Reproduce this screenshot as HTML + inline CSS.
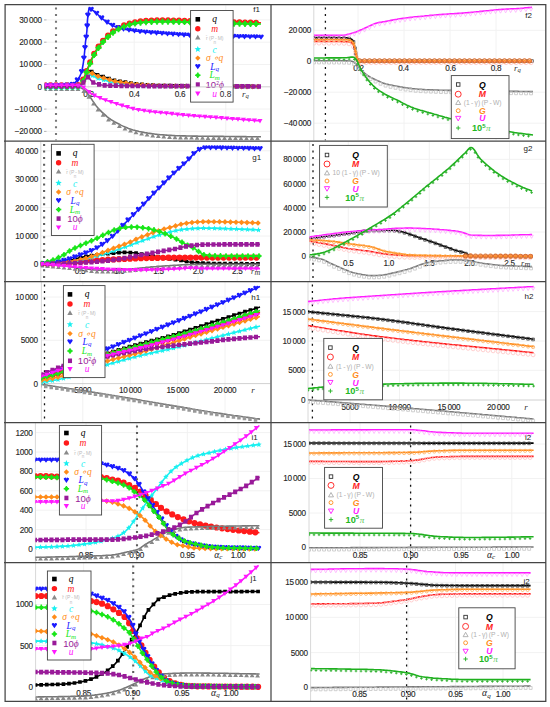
<!DOCTYPE html><html><head><meta charset="utf-8"><style>html,body{margin:0;padding:0;background:#fff;}svg{display:block}</style></head><body>
<svg width="550" height="707" viewBox="0 0 550 707">
<rect width="550" height="707" fill="#fff"/>
<clipPath id="cf1"><rect x="5.5" y="5.2" width="265.0" height="135.3"/></clipPath>
<g clip-path="url(#cf1)">
<line x1="88.4" y1="5.2" x2="88.4" y2="140.5" stroke="#f1f1f1" stroke-width="0.9"/>
<line x1="134.2" y1="5.2" x2="134.2" y2="140.5" stroke="#f1f1f1" stroke-width="0.9"/>
<line x1="180" y1="5.2" x2="180" y2="140.5" stroke="#f1f1f1" stroke-width="0.9"/>
<line x1="225.8" y1="5.2" x2="225.8" y2="140.5" stroke="#f1f1f1" stroke-width="0.9"/>
<line x1="44.6" y1="19.9" x2="270.5" y2="19.9" stroke="#f1f1f1" stroke-width="0.9"/>
<line x1="44.6" y1="42.2" x2="270.5" y2="42.2" stroke="#f1f1f1" stroke-width="0.9"/>
<line x1="44.6" y1="64.5" x2="270.5" y2="64.5" stroke="#f1f1f1" stroke-width="0.9"/>
<line x1="44.6" y1="109.1" x2="270.5" y2="109.1" stroke="#f1f1f1" stroke-width="0.9"/>
<line x1="44.6" y1="131.4" x2="270.5" y2="131.4" stroke="#f1f1f1" stroke-width="0.9"/>
<line x1="44.6" y1="86.8" x2="270.5" y2="86.8" stroke="#c4c4c4" stroke-width="0.8"/>
<line x1="44" y1="19.9" x2="46.5" y2="19.9" stroke="#999" stroke-width="0.7"/>
<text x="41.8" y="22.8" font-size="8.2" fill="#262626" text-anchor="end" font-family='"Liberation Sans", sans-serif' font-weight="normal" letter-spacing="-0.3" stroke="#262626" stroke-width="0.12">30&#8201;000</text>
<line x1="44" y1="42.2" x2="46.5" y2="42.2" stroke="#999" stroke-width="0.7"/>
<text x="41.8" y="45.1" font-size="8.2" fill="#262626" text-anchor="end" font-family='"Liberation Sans", sans-serif' font-weight="normal" letter-spacing="-0.3" stroke="#262626" stroke-width="0.12">20&#8201;000</text>
<line x1="44" y1="64.5" x2="46.5" y2="64.5" stroke="#999" stroke-width="0.7"/>
<text x="41.8" y="67.4" font-size="8.2" fill="#262626" text-anchor="end" font-family='"Liberation Sans", sans-serif' font-weight="normal" letter-spacing="-0.3" stroke="#262626" stroke-width="0.12">10&#8201;000</text>
<line x1="44" y1="86.8" x2="46.5" y2="86.8" stroke="#999" stroke-width="0.7"/>
<text x="41.8" y="89.7" font-size="8.2" fill="#262626" text-anchor="end" font-family='"Liberation Sans", sans-serif' font-weight="normal" letter-spacing="-0.3" stroke="#262626" stroke-width="0.12">0</text>
<line x1="44" y1="109.1" x2="46.5" y2="109.1" stroke="#999" stroke-width="0.7"/>
<text x="41.8" y="112" font-size="8.2" fill="#262626" text-anchor="end" font-family='"Liberation Sans", sans-serif' font-weight="normal" letter-spacing="-0.3" stroke="#262626" stroke-width="0.12">&#8722;10&#8201;000</text>
<line x1="44" y1="131.4" x2="46.5" y2="131.4" stroke="#999" stroke-width="0.7"/>
<text x="41.8" y="134.3" font-size="8.2" fill="#262626" text-anchor="end" font-family='"Liberation Sans", sans-serif' font-weight="normal" letter-spacing="-0.3" stroke="#262626" stroke-width="0.12">&#8722;20&#8201;000</text>
<line x1="56" y1="5.2" x2="56" y2="140.5" stroke="#787878" stroke-width="2.1" stroke-dasharray="2.0 4.6" stroke-dashoffset="4.3"/>
<text x="88.4" y="96.9" font-size="8.2" fill="#262626" text-anchor="middle" font-family='"Liberation Sans", sans-serif' font-weight="normal" letter-spacing="-0.3" stroke="#262626" stroke-width="0.12">0.2</text>
<text x="134.2" y="96.9" font-size="8.2" fill="#262626" text-anchor="middle" font-family='"Liberation Sans", sans-serif' font-weight="normal" letter-spacing="-0.3" stroke="#262626" stroke-width="0.12">0.4</text>
<text x="180" y="96.9" font-size="8.2" fill="#262626" text-anchor="middle" font-family='"Liberation Sans", sans-serif' font-weight="normal" letter-spacing="-0.3" stroke="#262626" stroke-width="0.12">0.6</text>
<clipPath id="ccf1"><rect x="44.6" y="5.2" width="225.9" height="135.3"/></clipPath><g clip-path="url(#ccf1)">
<path d="M45 86.6l1.5 -0l1.5 -0l1.5 -0l1.5 -0l1.5 -0l1.5 -.1l1.5 0l1.5 0l1.5 0l1.5 0l1.5 0l1.5 -0l1.5 -0l1.5 -0l1.5 -0l1.5 -.1l1.5 0l1.5 0l1.5 -0l1.5 -0l1.5 -.1l1.5 -0l1.5 -.6l1.5 -1.4l1.5 -2l1.5 -2.3l1.8 -5.5l1.8 -4.1l1.7 .3l1.7 .7l1.7 .8l1.8 .9l1.7 1l1.8 .9l1.9 .6l1.8 .6l1.9 .5l1.8 .6l1.8 .6l1.8 .6l1.8 .7l1.9 .7l1.8 .5l1.8 .3l1.9 .3l1.8 .3l1.8 .3l1.9 .3l1.8 .3l1.8 .3l1.9 .2l1.8 .3l1.8 .3l1.7 .2l1.8 .3l1.7 .2l1.6 .2l1.5 .1l1.6 .1l1.6 .2l1.6 .1l1.5 .1l1.6 .1l1.6 .2l1.5 .1l1.6 0l1.6 .1l1.6 .1l1.5 .1l1.6 0l1.5 0l1.5 .1l1.5 0l1.5 0l1.5 .1l1.5 0l1.5 0l1.5 .1l1.5 -0l1.5 0l1.5 0l1.5 .1l1.5 -0l1.5 -0l1.5 0l1.5 0l1.5 .1l1.5 -0l1.5 -0l1.5 0l1.5 0l1.5 0l1.5 0l1.5 .1l1.6 -0l1.5 -0l1.5 0l1.5 0l1.5 0l1.5 0l1.5 .1l1.5 -0l1.5 -0l1.5 -0l1.6 -0l1.5 0l1.5 0l1.5 0l1.5 0l1.5 0l1.5 .1l1.5 -0l1.5 -0l1.6 -0l1.5 -0l1.5 0l1.5 0l1.5 0l1.5 0l1.5 0l1.5 0l1.5 .1l1.6 -0l1.5 -0l1.5 -0l1.5 -0l1.5 0l1.5 0l1.5 0l1.5 0l1.5 0l1.5 0l1.6 .1l1.5 -0l1.5 -0l1.5 -0l1.5 0" fill="none" stroke="#000" stroke-width="1.6" stroke-linejoin="round"/>
<path d="M43.1 86.6h3.7M48.6 86.6h3.7M54.1 86.5h3.7M59.6 86.5h3.7M65.1 86.5h3.7M70.6 86.4h3.7M76.1 86.3h3.7M81.1 81.5h3.7M84.7 72h3.7M89.8 71.7h3.7M95.6 74.8h3.7M101.2 76.5h3.7M107.1 78.5h3.7M112.6 80.4h3.7M118.1 81.3h3.7M123.6 82.2h3.7M129.1 83h3.7M134.6 83.8h3.7M140.1 84.4h3.7M145.6 84.8h3.7M151.1 85.2h3.7M156.6 85.5h3.7M162.1 85.6h3.7M167.6 85.7h3.7M173.1 85.8h3.7M178.6 85.9h3.7M184.1 86h3.7M189.6 86h3.7M195.1 86.1h3.7M200.6 86.1h3.7M206.1 86.2h3.7M211.6 86.2h3.7M217.1 86.2h3.7M222.6 86.3h3.7M228.1 86.3h3.7M233.6 86.3h3.7M239.1 86.4h3.7M244.6 86.4h3.7M250.1 86.4h3.7M255.6 86.5h3.7" stroke="#000" stroke-width="3.7"/>
<path d="M45 85.3l1.5 0l1.6 0l1.5 0l1.6 0l1.5 0l1.6 0l1.5 0l1.6 0l1.5 0l1.6 0l1.5 0l1.6 0l1.5 0l1.6 0l1.5 0l1.6 0l1.5 0l1.6 0l1.6 0l1.5 0l2 -.3l2 -.8l1.8 -2.2l1.8 -3.5l2 -4.9l2 -5.3l1.5 -3.6l1.5 -3.6l1.5 -3.3l1.5 -3.1l1.6 -3l1.7 -2.7l1.6 -2.5l1.8 -2.5l1.9 -2.4l1.8 -2.1l1.5 -1.6l1.5 -1.5l1.5 -1.4l1.5 -1.3l1.5 -1.3l1.5 -1.1l1.5 -1.1l1.8 -1.1l1.9 -1.1l1.8 -.9l1.8 -.9l1.9 -.8l1.8 -.7l1.8 -.6l1.9 -.6l1.8 -.5l1.7 -.4l1.6 -.4l1.7 -.3l1.5 -.2l1.5 -.2l1.5 -.2l1.5 -.2l1.5 -.1l1.5 -.1l1.5 -.1l1.5 -.1l1.5 -.1l1.5 -0l1.5 -.1l1.5 -.1l1.5 -0l1.5 -.1l1.5 0l1.5 0l1.5 0l1.5 0l1.5 0l1.5 0l1.5 0l1.5 0l1.5 .1l1.5 -0l1.5 -0l1.5 0l1.5 0l1.5 .1l1.5 0l1.5 .1l1.5 0l1.5 .1l1.5 0l1.5 .1l1.5 0l1.5 .1l1.5 .1l1.6 0l1.5 .1l1.6 0l1.5 .1l1.5 0l1.6 .1l1.5 0l1.5 .1l1.6 0l1.5 .1l1.6 .1l1.5 -0l1.6 0l1.5 .1l1.6 0l1.6 .1l1.6 0l1.5 .1l1.6 0l1.6 .1l1.5 0l1.6 .1l1.6 -0l1.6 0l1.5 .1l1.6 -0l1.5 0l1.6 .1l1.5 -0l1.5 0l1.5 0l1.6 .1l1.5 0l1.5 0l1.5 .1l1.6 -0l1.5 0l1.5 0l1.5 .1l1.6 -0l1.5 -0l1.5 0l1.5 0l1.6 .1l1.5 -0" fill="none" stroke="#ff1a1a" stroke-width="1.6" stroke-linejoin="round"/>
<path d="M45 85.3h0M50.5 85.3h0M56 85.3h0M61.5 85.3h0M67 85.3h0M72.5 85.3h0M78 85h0M83.1 79.5h0M86.6 70.9h0M90.1 62.3h0M94.1 53.7h0M98.5 46.5h0M103 40.6h0M108 35.5h0M113 31.3h0M118.5 27.9h0M124 25.3h0M129.5 23.4h0M135 22.1h0M140.5 21.3h0M146 20.8h0M151.5 20.5h0M157 20.3h0M162.5 20.3h0M168 20.3h0M173.5 20.4h0M179 20.5h0M184.5 20.7h0M190 20.9h0M195.5 21.1h0M201 21.3h0M206.5 21.5h0M212 21.7h0M217.5 21.8h0M223 22h0M228.5 22.1h0M234 22.2h0M239.5 22.3h0M245 22.4h0M250.5 22.5h0M256 22.6h0" stroke="#ff1a1a" stroke-width="5.9" stroke-linecap="round"/>
<path d="M45 87.3l1.5 0l1.5 0l1.5 0l1.5 0l1.5 0l1.5 0l1.5 0l1.5 0l1.5 0l1.5 0l1.5 0l1.5 0l1.5 0l1.5 0l1.5 0l1.5 0l1.5 0l1.5 0l1.5 0l1.5 0l1.5 0l1.5 0l1.9 .3l1.9 .6l1.8 1.1l1.9 1.7l1.8 2l1.8 2.5l1.9 2.8l1.7 2.6l1.8 2.6l1.7 2.4l1.8 2.1l1.9 2l1.8 1.9l1.9 1.7l1.8 1.6l1.8 1.6l1.8 1.4l1.8 1.3l1.9 1.1l1.8 1.1l1.9 1l1.5 .8l1.5 .8l1.5 .8l1.6 .8l1.5 .7l1.5 .6l1.5 .6l1.5 .6l1.5 .5l1.5 .5l1.5 .5l1.5 .4l1.5 .4l1.5 .4l1.6 .4l1.5 .3l1.5 .3l1.5 .3l1.5 .3l1.5 .2l1.5 .3l1.6 .2l1.5 .2l1.5 .2l1.5 .2l1.5 .2l1.6 .2l1.5 .1l1.5 .2l1.5 .1l1.5 .1l1.6 .1l1.5 .1l1.5 .1l1.6 .1l1.5 .1l1.6 .1l1.6 .1l1.6 .1l1.6 0l1.6 .1l1.5 0l1.5 .1l1.6 0l1.5 0l1.5 .1l1.5 -0l1.5 0l1.5 0l1.6 .1l1.5 -0l1.5 0l1.5 0l1.5 .1l1.6 -0l1.5 0l1.5 0l1.5 .1l1.5 -0l1.6 -0l1.5 0l1.5 0l1.5 0l1.5 .1l1.5 -0l1.6 -0l1.5 0l1.5 0l1.5 0l1.5 0l1.6 .1l1.5 -0l1.5 -0l1.5 -0l1.5 0l1.5 0l1.6 0l1.5 0l1.5 .1l1.5 -0l1.5 -0l1.6 0l1.5 0l1.5 0l1.5 0l1.5 .1l1.6 -0l1.5 -0l1.5 -0l1.5 0l1.5 0l1.5 0l1.6 .1l1.5 -0l1.5 0" fill="none" stroke="#777" stroke-width="1.6" stroke-linejoin="round"/>
<path d="M45 86.7l2.4 4.2h-4.8zM50.5 86.7l2.4 4.2h-4.8zM56 86.7l2.4 4.2h-4.8zM61.5 86.7l2.4 4.2h-4.8zM67 86.7l2.4 4.2h-4.8zM72.5 86.7l2.4 4.2h-4.8zM78 86.7l2.4 4.2h-4.8zM83.8 88.8l2.4 4.2h-4.8zM88.9 94.5l2.4 4.2h-4.8zM93.5 101.4l2.4 4.2h-4.8zM98 107.4l2.4 4.2h-4.8zM103.1 112.5l2.4 4.2h-4.8zM108.5 117.2l2.4 4.2h-4.8zM113.8 120.6l2.4 4.2h-4.8zM119.4 123.7l2.4 4.2h-4.8zM125 126.4l2.4 4.2h-4.8zM130.5 128.4l2.4 4.2h-4.8zM136 130.1l2.4 4.2h-4.8zM141.6 131.4l2.4 4.2h-4.8zM147.1 132.4l2.4 4.2h-4.8zM152.7 133.2l2.4 4.2h-4.8zM158.3 133.8l2.4 4.2h-4.8zM163.8 134.3l2.4 4.2h-4.8zM169.5 134.7l2.4 4.2h-4.8zM175 135l2.4 4.2h-4.8zM180.5 135.2l2.4 4.2h-4.8zM186 135.3l2.4 4.2h-4.8zM191.5 135.4l2.4 4.2h-4.8zM197 135.5l2.4 4.2h-4.8zM202.5 135.6l2.4 4.2h-4.8zM208 135.7l2.4 4.2h-4.8zM213.5 135.7l2.4 4.2h-4.8zM219 135.8l2.4 4.2h-4.8zM224.5 135.8l2.4 4.2h-4.8zM230 135.9l2.4 4.2h-4.8zM235.5 135.9l2.4 4.2h-4.8zM241 136l2.4 4.2h-4.8zM246.5 136l2.4 4.2h-4.8zM252 136.1l2.4 4.2h-4.8zM257.5 136.1l2.4 4.2h-4.8z" fill="#888"/>
<path d="M45 88l1.5 -0l1.5 -0l1.5 -0l1.5 -0l1.5 -0l1.5 -0l1.5 -0l1.5 -0l1.5 -.1l1.5 0l1.5 0l1.5 0l1.5 0l1.5 0l1.5 0l1.5 -0l1.5 -0l1.5 -0l1.5 -0l1.5 -.1l1.5 0l1.5 -0l1.5 -.5l1.5 -1.4l1.5 -1.8l1.5 -2.1l1.8 -4.6l1.8 -3.4l1.7 .4l1.7 .8l1.7 .8l1.8 .8l1.7 1l1.8 .7l1.9 .6l1.8 .4l1.9 .5l1.8 .5l1.8 .5l1.8 .5l1.8 .5l1.9 .4l1.8 .4l1.8 .3l1.9 .3l1.8 .2l1.6 .2l1.5 .2l1.6 .2l1.6 .2l1.6 .1l1.5 .2l1.6 .1l1.5 .1l1.6 .1l1.5 .1l1.5 .1l1.5 0l1.6 .1l1.5 .1l1.5 .1l1.5 0l1.6 .1l1.5 .1l1.5 0l1.5 .1l1.6 0l1.5 .1l1.5 0l1.5 0l1.6 .1l1.5 0l1.5 0l1.5 0l1.5 .1l1.5 -0l1.5 0l1.5 0l1.6 0l1.5 .1l1.5 -0l1.5 -0l1.5 0l1.5 0l1.5 0l1.5 .1l1.5 -0l1.5 -0l1.5 0l1.5 0l1.5 0l1.5 0l1.6 .1l1.5 -0l1.5 -0l1.5 -0l1.5 0l1.5 0l1.5 0l1.5 0l1.5 0l1.5 .1l1.5 -0l1.5 -0l1.5 -0l1.6 -0l1.5 0l1.5 0l1.5 0l1.5 0l1.5 0l1.5 0l1.5 .1l1.5 -0l1.5 -0l1.5 -0l1.5 -0l1.5 -0l1.6 0l1.5 0l1.5 0l1.5 0l1.5 0l1.5 0l1.5 .1l1.5 -0l1.5 -0l1.5 -0l1.5 -0l1.5 0l1.5 0l1.5 0l1.6 0l1.5 0l1.5 .1l1.5 -0l1.5 -0l1.5 -0l1.5 0" fill="none" stroke="#19f0f0" stroke-width="1.6" stroke-linejoin="round"/>
<path d="M45 85l.8 1.9l2 .2l-1.6 1.3l.5 2l-1.7 -1.1l-1.7 1.1l.5 -2l-1.6 -1.3l2 -.2zM50.5 85l.8 1.9l2 .2l-1.6 1.3l.5 2l-1.7 -1.1l-1.7 1.1l.5 -2l-1.6 -1.3l2 -.2zM56 85l.8 1.9l2 .2l-1.6 1.3l.5 2l-1.7 -1.1l-1.7 1.1l.5 -2l-1.6 -1.3l2 -.2zM61.5 85l.8 1.9l2 .2l-1.6 1.3l.5 2l-1.7 -1.1l-1.7 1.1l.5 -2l-1.6 -1.3l2 -.2zM67 84.9l.8 1.9l2 .2l-1.6 1.3l.5 2l-1.7 -1.1l-1.7 1.1l.5 -2l-1.6 -1.3l2 -.2zM72.5 84.9l.8 1.9l2 .2l-1.6 1.3l.5 2l-1.7 -1.1l-1.7 1.1l.5 -2l-1.6 -1.3l2 -.2zM78 84.8l.8 1.9l2 .2l-1.6 1.3l.5 2l-1.7 -1.1l-1.7 1.1l.5 -2l-1.6 -1.3l2 -.2zM83 80.4l.8 1.9l2 .2l-1.6 1.3l.5 2l-1.7 -1.1l-1.7 1.1l.5 -2l-1.6 -1.3l2 -.2zM86.6 72.3l.8 1.9l2 .2l-1.6 1.3l.5 2l-1.7 -1.1l-1.7 1.1l.5 -2l-1.6 -1.3l2 -.2zM92.2 72.8l.8 1.9l2 .2l-1.6 1.3l.5 2l-1.7 -1.1l-1.7 1.1l.5 -2l-1.6 -1.3l2 -.2zM98 75.5l.8 1.9l2 .2l-1.6 1.3l.5 2l-1.7 -1.1l-1.7 1.1l.5 -2l-1.6 -1.3l2 -.2zM103.6 77l.8 1.9l2 .2l-1.6 1.3l.5 2l-1.7 -1.1l-1.7 1.1l.5 -2l-1.6 -1.3l2 -.2zM109.5 78.7l.8 1.9l2 .2l-1.6 1.3l.5 2l-1.7 -1.1l-1.7 1.1l.5 -2l-1.6 -1.3l2 -.2zM115 79.9l.8 1.9l2 .2l-1.6 1.3l.5 2l-1.7 -1.1l-1.7 1.1l.5 -2l-1.6 -1.3l2 -.2zM120.5 80.7l.8 1.9l2 .2l-1.6 1.3l.5 2l-1.7 -1.1l-1.7 1.1l.5 -2l-1.6 -1.3l2 -.2zM126 81.4l.8 1.9l2 .2l-1.6 1.3l.5 2l-1.7 -1.1l-1.7 1.1l.5 -2l-1.6 -1.3l2 -.2zM131.5 81.9l.8 1.9l2 .2l-1.6 1.3l.5 2l-1.7 -1.1l-1.7 1.1l.5 -2l-1.6 -1.3l2 -.2zM137 82.2l.8 1.9l2 .2l-1.6 1.3l.5 2l-1.7 -1.1l-1.7 1.1l.5 -2l-1.6 -1.3l2 -.2zM142.5 82.5l.8 1.9l2 .2l-1.6 1.3l.5 2l-1.7 -1.1l-1.7 1.1l.5 -2l-1.6 -1.3l2 -.2zM148 82.7l.8 1.9l2 .2l-1.6 1.3l.5 2l-1.7 -1.1l-1.7 1.1l.5 -2l-1.6 -1.3l2 -.2zM153.5 82.9l.8 1.9l2 .2l-1.6 1.3l.5 2l-1.7 -1.1l-1.7 1.1l.5 -2l-1.6 -1.3l2 -.2zM159 83l.8 1.9l2 .2l-1.6 1.3l.5 2l-1.7 -1.1l-1.7 1.1l.5 -2l-1.6 -1.3l2 -.2zM164.5 83.1l.8 1.9l2 .2l-1.6 1.3l.5 2l-1.7 -1.1l-1.7 1.1l.5 -2l-1.6 -1.3l2 -.2zM170 83.2l.8 1.9l2 .2l-1.6 1.3l.5 2l-1.7 -1.1l-1.7 1.1l.5 -2l-1.6 -1.3l2 -.2zM175.5 83.2l.8 1.9l2 .2l-1.6 1.3l.5 2l-1.7 -1.1l-1.7 1.1l.5 -2l-1.6 -1.3l2 -.2zM181 83.3l.8 1.9l2 .2l-1.6 1.3l.5 2l-1.7 -1.1l-1.7 1.1l.5 -2l-1.6 -1.3l2 -.2zM186.5 83.3l.8 1.9l2 .2l-1.6 1.3l.5 2l-1.7 -1.1l-1.7 1.1l.5 -2l-1.6 -1.3l2 -.2zM192 83.4l.8 1.9l2 .2l-1.6 1.3l.5 2l-1.7 -1.1l-1.7 1.1l.5 -2l-1.6 -1.3l2 -.2zM197.5 83.4l.8 1.9l2 .2l-1.6 1.3l.5 2l-1.7 -1.1l-1.7 1.1l.5 -2l-1.6 -1.3l2 -.2zM203 83.5l.8 1.9l2 .2l-1.6 1.3l.5 2l-1.7 -1.1l-1.7 1.1l.5 -2l-1.6 -1.3l2 -.2zM208.5 83.5l.8 1.9l2 .2l-1.6 1.3l.5 2l-1.7 -1.1l-1.7 1.1l.5 -2l-1.6 -1.3l2 -.2zM214 83.5l.8 1.9l2 .2l-1.6 1.3l.5 2l-1.7 -1.1l-1.7 1.1l.5 -2l-1.6 -1.3l2 -.2zM219.5 83.6l.8 1.9l2 .2l-1.6 1.3l.5 2l-1.7 -1.1l-1.7 1.1l.5 -2l-1.6 -1.3l2 -.2zM225 83.6l.8 1.9l2 .2l-1.6 1.3l.5 2l-1.7 -1.1l-1.7 1.1l.5 -2l-1.6 -1.3l2 -.2zM230.5 83.6l.8 1.9l2 .2l-1.6 1.3l.5 2l-1.7 -1.1l-1.7 1.1l.5 -2l-1.6 -1.3l2 -.2zM236 83.7l.8 1.9l2 .2l-1.6 1.3l.5 2l-1.7 -1.1l-1.7 1.1l.5 -2l-1.6 -1.3l2 -.2zM241.5 83.7l.8 1.9l2 .2l-1.6 1.3l.5 2l-1.7 -1.1l-1.7 1.1l.5 -2l-1.6 -1.3l2 -.2zM247 83.7l.8 1.9l2 .2l-1.6 1.3l.5 2l-1.7 -1.1l-1.7 1.1l.5 -2l-1.6 -1.3l2 -.2zM252.5 83.8l.8 1.9l2 .2l-1.6 1.3l.5 2l-1.7 -1.1l-1.7 1.1l.5 -2l-1.6 -1.3l2 -.2zM258 83.8l.8 1.9l2 .2l-1.6 1.3l.5 2l-1.7 -1.1l-1.7 1.1l.5 -2l-1.6 -1.3l2 -.2z" fill="#19f0f0"/>
<path d="M45 86.8l1.5 -0l1.5 -0l1.5 -0l1.5 -0l1.5 -0l1.5 -0l1.5 -0l1.5 -0l1.5 -.1l1.5 0l1.5 0l1.5 0l1.5 0l1.5 0l1.5 0l1.5 -0l1.5 -0l1.5 -0l1.5 -0l1.5 -.1l1.5 0l1.5 -0l1.5 -.5l1.5 -1.3l1.5 -1.7l1.5 -2.1l1.8 -5.1l1.8 -3.9l1.7 .3l1.7 .6l1.7 .7l1.8 .9l1.7 1l1.8 .8l1.9 .6l1.8 .6l1.9 .5l1.8 .5l1.8 .6l1.8 .5l1.8 .6l1.9 .5l1.8 .5l1.8 .3l1.9 .3l1.8 .3l1.8 .3l1.9 .2l1.8 .3l1.8 .2l1.9 .3l1.8 .2l1.8 .2l1.7 .3l1.8 .2l1.7 .2l1.6 .1l1.5 .2l1.6 .1l1.6 .1l1.6 .1l1.5 .1l1.6 .1l1.6 .1l1.5 .1l1.6 .1l1.6 0l1.6 .1l1.5 .1l1.6 0l1.5 0l1.5 .1l1.5 -0l1.5 0l1.5 0l1.5 .1l1.5 -0l1.5 0l1.5 0l1.5 .1l1.5 -0l1.5 -0l1.5 0l1.5 0l1.5 0l1.5 0l1.5 .1l1.5 -0l1.5 -0l1.5 0l1.5 0l1.5 0l1.5 0l1.5 0l1.6 .1l1.5 -0l1.5 -0l1.5 -0l1.5 0l1.5 0l1.5 0l1.5 0l1.5 0l1.5 0l1.6 .1l1.5 -0l1.5 -0l1.5 -0l1.5 -0l1.5 -0l1.5 0l1.5 0l1.5 0l1.6 0l1.5 0l1.5 0l1.5 .1l1.5 -0l1.5 -0l1.5 -0l1.5 -0l1.5 -0l1.6 -0l1.5 0l1.5 0l1.5 0l1.5 0l1.5 0l1.5 0l1.5 0l1.5 .1l1.5 -0l1.6 -0l1.5 -0l1.5 -0l1.5 -0l1.5 0" fill="none" stroke="#ff8c1a" stroke-width="1.6" stroke-linejoin="round"/>
<path d="M45 84l2.8 2.8 -2.8 2.8 -2.8 -2.8zM50.5 84l2.8 2.8 -2.8 2.8 -2.8 -2.8zM56 84l2.8 2.8 -2.8 2.8 -2.8 -2.8zM61.5 84l2.8 2.8 -2.8 2.8 -2.8 -2.8zM67 84l2.8 2.8 -2.8 2.8 -2.8 -2.8zM72.5 83.9l2.8 2.8 -2.8 2.8 -2.8 -2.8zM78 83.8l2.8 2.8 -2.8 2.8 -2.8 -2.8zM83 79.6l2.8 2.8 -2.8 2.8 -2.8 -2.8zM86.6 70.7l2.8 2.8 -2.8 2.8 -2.8 -2.8zM92.2 70.6l2.8 2.8 -2.8 2.8 -2.8 -2.8zM98 73.5l2.8 2.8 -2.8 2.8 -2.8 -2.8zM103.6 75.2l2.8 2.8 -2.8 2.8 -2.8 -2.8zM109.5 77l2.8 2.8 -2.8 2.8 -2.8 -2.8zM115 78.6l2.8 2.8 -2.8 2.8 -2.8 -2.8zM120.5 79.4l2.8 2.8 -2.8 2.8 -2.8 -2.8zM126 80.2l2.8 2.8 -2.8 2.8 -2.8 -2.8zM131.5 80.9l2.8 2.8 -2.8 2.8 -2.8 -2.8zM137 81.7l2.8 2.8 -2.8 2.8 -2.8 -2.8zM142.5 82.1l2.8 2.8 -2.8 2.8 -2.8 -2.8zM148 82.5l2.8 2.8 -2.8 2.8 -2.8 -2.8zM153.5 82.8l2.8 2.8 -2.8 2.8 -2.8 -2.8zM159 83l2.8 2.8 -2.8 2.8 -2.8 -2.8zM164.5 83.1l2.8 2.8 -2.8 2.8 -2.8 -2.8zM170 83.2l2.8 2.8 -2.8 2.8 -2.8 -2.8zM175.5 83.3l2.8 2.8 -2.8 2.8 -2.8 -2.8zM181 83.4l2.8 2.8 -2.8 2.8 -2.8 -2.8zM186.5 83.4l2.8 2.8 -2.8 2.8 -2.8 -2.8zM192 83.5l2.8 2.8 -2.8 2.8 -2.8 -2.8zM197.5 83.5l2.8 2.8 -2.8 2.8 -2.8 -2.8zM203 83.5l2.8 2.8 -2.8 2.8 -2.8 -2.8zM208.5 83.6l2.8 2.8 -2.8 2.8 -2.8 -2.8zM214 83.6l2.8 2.8 -2.8 2.8 -2.8 -2.8zM219.5 83.6l2.8 2.8 -2.8 2.8 -2.8 -2.8zM225 83.7l2.8 2.8 -2.8 2.8 -2.8 -2.8zM230.5 83.7l2.8 2.8 -2.8 2.8 -2.8 -2.8zM236 83.7l2.8 2.8 -2.8 2.8 -2.8 -2.8zM241.5 83.8l2.8 2.8 -2.8 2.8 -2.8 -2.8zM247 83.8l2.8 2.8 -2.8 2.8 -2.8 -2.8zM252.5 83.8l2.8 2.8 -2.8 2.8 -2.8 -2.8zM258 83.8l2.8 2.8 -2.8 2.8 -2.8 -2.8z" fill="#ff8c1a"/>
<path d="M45 85.3l1.5 0l1.5 0l1.5 0l1.5 0l1.5 0l1.5 0l1.5 0l1.5 0l1.5 0l1.5 0l1.7 -0l1.6 -.1l1.7 -0l1.7 -.1l1.6 -.2l1.7 -.1l1.5 -.2l1.5 -.4l2 -1.4l2 -2.3l1.5 -1.9l1.5 -2.6l1.1 -2.7l1.1 -3.8l1.2 -6.9l1.1 -9.6l.5 -5.5l.5 -5.5l.7 -5l.7 -6l.3 -5l.2 -5l.8 -8.4l.8 -3.6l1.8 .4l1.9 .9l1.8 1.2l1.5 1.2l1.5 1.6l1.5 1.5l1.8 1.6l1.9 1.6l1.8 1.4l1.8 1.3l1.9 1.2l1.8 1.1l1.8 1l1.9 .9l1.8 .8l1.8 .7l1.9 .6l1.8 .5l1.5 .3l1.5 .4l1.5 .2l1.5 .3l1.5 .2l1.5 .3l1.5 .2l1.5 .2l1.7 .2l1.6 .3l1.7 .2l1.6 .2l1.5 .1l1.6 .2l1.6 .1l1.6 .2l1.5 .1l1.6 .2l1.6 .1l1.5 .1l1.6 .1l1.6 .1l1.6 .2l1.5 .1l1.6 .1l1.5 .1l1.5 .1l1.5 .1l1.5 .2l1.5 .1l1.5 .1l1.5 .1l1.5 .1l1.5 .1l1.5 .1l1.5 .1l1.5 .1l1.5 .1l1.5 .1l1.5 .1l1.5 .1l1.5 .1l1.5 .1l1.5 0l1.5 .1l1.5 .1l1.6 0l1.5 .1l1.6 0l1.5 .1l1.5 0l1.6 .1l1.5 0l1.5 .1l1.6 0l1.5 0l1.6 .1l1.5 0l1.5 .1l1.6 0l1.5 0l1.6 .1l1.5 0l1.5 0l1.6 .1l1.5 0l1.5 .1l1.6 -0l1.5 0l1.6 .1l1.5 -0l1.6 0l1.5 .1l1.6 0l1.5 0l1.6 .1l1.5 0l1.6 .1l1.5 -0l1.6 0l1.5 .1l1.6 -0l1.5 0l1.6 .1l1.5 -0l1.6 0l1.5 .1l1.6 -0l1.5 0l1.6 .1l1.5 -0" fill="none" stroke="#1a1aff" stroke-width="1.6" stroke-linejoin="round"/>
<path d="M45 88l2.8 -3.8a1.4 1.4 0 0 0 -2.8 -.3a1.4 1.4 0 0 0 -2.8 .3zM50.5 88l2.8 -3.8a1.4 1.4 0 0 0 -2.8 -.3a1.4 1.4 0 0 0 -2.8 .3zM56 88l2.8 -3.8a1.4 1.4 0 0 0 -2.8 -.3a1.4 1.4 0 0 0 -2.8 .3zM61.5 88l2.8 -3.8a1.4 1.4 0 0 0 -2.8 -.3a1.4 1.4 0 0 0 -2.8 .3zM67 87.8l2.8 -3.8a1.4 1.4 0 0 0 -2.8 -.3a1.4 1.4 0 0 0 -2.8 .3zM72.5 87.1l2.8 -3.8a1.4 1.4 0 0 0 -2.8 -.3a1.4 1.4 0 0 0 -2.8 .3zM77.5 82.7l2.8 -3.8a1.4 1.4 0 0 0 -2.8 -.3a1.4 1.4 0 0 0 -2.8 .3zM81.7 74.3l2.8 -3.8a1.4 1.4 0 0 0 -2.8 -.3a1.4 1.4 0 0 0 -2.8 .3zM83.9 60.8l2.8 -3.8a1.4 1.4 0 0 0 -2.8 -.3a1.4 1.4 0 0 0 -2.8 .3zM85 50.3l2.8 -3.8a1.4 1.4 0 0 0 -2.8 -.3a1.4 1.4 0 0 0 -2.8 .3zM86.2 39.8l2.8 -3.8a1.4 1.4 0 0 0 -2.8 -.3a1.4 1.4 0 0 0 -2.8 .3zM87.2 28.7l2.8 -3.8a1.4 1.4 0 0 0 -2.8 -.3a1.4 1.4 0 0 0 -2.8 .3zM87.9 17.8l2.8 -3.8a1.4 1.4 0 0 0 -2.8 -.3a1.4 1.4 0 0 0 -2.8 .3zM91 12.2l2.8 -3.8a1.4 1.4 0 0 0 -2.8 -.3a1.4 1.4 0 0 0 -2.8 .3zM96.5 16l2.8 -3.8a1.4 1.4 0 0 0 -2.8 -.3a1.4 1.4 0 0 0 -2.8 .3zM101.5 20.7l2.8 -3.8a1.4 1.4 0 0 0 -2.8 -.3a1.4 1.4 0 0 0 -2.8 .3zM107 24.9l2.8 -3.8a1.4 1.4 0 0 0 -2.8 -.3a1.4 1.4 0 0 0 -2.8 .3zM112.5 28.1l2.8 -3.8a1.4 1.4 0 0 0 -2.8 -.3a1.4 1.4 0 0 0 -2.8 .3zM118 30.4l2.8 -3.8a1.4 1.4 0 0 0 -2.8 -.3a1.4 1.4 0 0 0 -2.8 .3zM123.5 31.8l2.8 -3.8a1.4 1.4 0 0 0 -2.8 -.3a1.4 1.4 0 0 0 -2.8 .3zM129 32.8l2.8 -3.8a1.4 1.4 0 0 0 -2.8 -.3a1.4 1.4 0 0 0 -2.8 .3zM134.5 33.6l2.8 -3.8a1.4 1.4 0 0 0 -2.8 -.3a1.4 1.4 0 0 0 -2.8 .3zM140 34.3l2.8 -3.8a1.4 1.4 0 0 0 -2.8 -.3a1.4 1.4 0 0 0 -2.8 .3zM145.5 34.8l2.8 -3.8a1.4 1.4 0 0 0 -2.8 -.3a1.4 1.4 0 0 0 -2.8 .3zM151 35.3l2.8 -3.8a1.4 1.4 0 0 0 -2.8 -.3a1.4 1.4 0 0 0 -2.8 .3zM156.5 35.7l2.8 -3.8a1.4 1.4 0 0 0 -2.8 -.3a1.4 1.4 0 0 0 -2.8 .3zM162 36.1l2.8 -3.8a1.4 1.4 0 0 0 -2.8 -.3a1.4 1.4 0 0 0 -2.8 .3zM167.5 36.5l2.8 -3.8a1.4 1.4 0 0 0 -2.8 -.3a1.4 1.4 0 0 0 -2.8 .3zM173 36.9l2.8 -3.8a1.4 1.4 0 0 0 -2.8 -.3a1.4 1.4 0 0 0 -2.8 .3zM178.5 37.3l2.8 -3.8a1.4 1.4 0 0 0 -2.8 -.3a1.4 1.4 0 0 0 -2.8 .3zM184 37.7l2.8 -3.8a1.4 1.4 0 0 0 -2.8 -.3a1.4 1.4 0 0 0 -2.8 .3zM189.5 37.9l2.8 -3.8a1.4 1.4 0 0 0 -2.8 -.3a1.4 1.4 0 0 0 -2.8 .3zM195 38.1l2.8 -3.8a1.4 1.4 0 0 0 -2.8 -.3a1.4 1.4 0 0 0 -2.8 .3zM200.5 38.3l2.8 -3.8a1.4 1.4 0 0 0 -2.8 -.3a1.4 1.4 0 0 0 -2.8 .3zM206 38.5l2.8 -3.8a1.4 1.4 0 0 0 -2.8 -.3a1.4 1.4 0 0 0 -2.8 .3zM211.5 38.6l2.8 -3.8a1.4 1.4 0 0 0 -2.8 -.3a1.4 1.4 0 0 0 -2.8 .3zM217 38.7l2.8 -3.8a1.4 1.4 0 0 0 -2.8 -.3a1.4 1.4 0 0 0 -2.8 .3zM222.5 38.9l2.8 -3.8a1.4 1.4 0 0 0 -2.8 -.3a1.4 1.4 0 0 0 -2.8 .3zM228 39l2.8 -3.8a1.4 1.4 0 0 0 -2.8 -.3a1.4 1.4 0 0 0 -2.8 .3zM233.5 39.1l2.8 -3.8a1.4 1.4 0 0 0 -2.8 -.3a1.4 1.4 0 0 0 -2.8 .3zM239 39.3l2.8 -3.8a1.4 1.4 0 0 0 -2.8 -.3a1.4 1.4 0 0 0 -2.8 .3zM244.5 39.4l2.8 -3.8a1.4 1.4 0 0 0 -2.8 -.3a1.4 1.4 0 0 0 -2.8 .3zM250 39.5l2.8 -3.8a1.4 1.4 0 0 0 -2.8 -.3a1.4 1.4 0 0 0 -2.8 .3zM255.5 39.6l2.8 -3.8a1.4 1.4 0 0 0 -2.8 -.3a1.4 1.4 0 0 0 -2.8 .3zM261 39.8l2.8 -3.8a1.4 1.4 0 0 0 -2.8 -.3a1.4 1.4 0 0 0 -2.8 .3z" fill="#1a1aff"/>
<path d="M45 86.6l1.5 0l1.6 0l1.5 0l1.6 0l1.5 0l1.6 0l1.5 0l1.6 0l1.5 0l1.6 0l1.5 0l1.6 0l1.5 0l1.6 0l1.5 0l1.6 0l1.5 0l1.6 0l1.6 0l1.5 0l2 -.3l2 -.8l1.8 -2.2l1.8 -3.5l2 -4.9l2 -5.3l1.5 -3.6l1.5 -3.6l1.5 -3.3l1.5 -3.1l1.6 -3l1.7 -2.7l1.6 -2.5l1.8 -2.5l1.9 -2.4l1.8 -2.1l1.5 -1.6l1.5 -1.5l1.5 -1.4l1.5 -1.3l1.5 -1.3l1.5 -1.1l1.5 -1.1l1.8 -1.1l1.9 -1.1l1.8 -.9l1.8 -.9l1.9 -.8l1.8 -.7l1.8 -.6l1.9 -.6l1.8 -.5l1.7 -.4l1.6 -.4l1.7 -.3l1.5 -.2l1.5 -.2l1.5 -.2l1.5 -.2l1.5 -.1l1.5 -.1l1.5 -.1l1.5 -.1l1.5 -.1l1.5 -0l1.5 -.1l1.5 -.1l1.5 -0l1.5 -.1l1.5 0l1.5 0l1.5 0l1.5 0l1.5 0l1.5 0l1.5 0l1.5 0l1.5 .1l1.5 -0l1.5 -0l1.5 0l1.5 0l1.5 .1l1.5 0l1.5 .1l1.5 0l1.5 .1l1.5 0l1.5 .1l1.5 0l1.5 .1l1.5 .1l1.6 0l1.5 .1l1.6 0l1.5 .1l1.5 0l1.6 .1l1.5 0l1.5 .1l1.6 0l1.5 .1l1.6 .1l1.5 -0l1.6 0l1.5 .1l1.6 0l1.6 .1l1.6 0l1.5 .1l1.6 0l1.6 .1l1.5 0l1.6 .1l1.6 -0l1.6 0l1.5 .1l1.6 -0l1.5 0l1.6 .1l1.5 -0l1.5 0l1.5 0l1.6 .1l1.5 0l1.5 0l1.5 .1l1.6 -0l1.5 0l1.5 0l1.5 .1l1.6 -0l1.5 -0l1.5 0l1.5 0l1.6 .1l1.5 -0" fill="none" stroke="#19e619" stroke-width="1.6" stroke-linejoin="round"/>
<path d="M45 86.6h0M50.5 86.6h0M56 86.6h0M61.5 86.6h0M67 86.6h0M72.5 86.6h0M78 86.3h0M83.1 80.8h0M86.6 72.2h0M90.1 63.6h0M94.1 55h0M98.5 47.8h0M103 41.9h0M108 36.8h0M113 32.6h0M118.5 29.2h0M124 26.6h0M129.5 24.7h0M135 23.4h0M140.5 22.6h0M146 22.1h0M151.5 21.8h0M157 21.6h0M162.5 21.6h0M168 21.6h0M173.5 21.7h0M179 21.8h0M184.5 22h0M190 22.2h0M195.5 22.4h0M201 22.6h0M206.5 22.8h0M212 23h0M217.5 23.1h0M223 23.3h0M228.5 23.4h0M234 23.5h0M239.5 23.6h0M245 23.7h0M250.5 23.8h0M256 23.9h0" stroke="#19e619" stroke-width="4.4" stroke-linecap="round"/>
<path d="M41.9 86.6h6.2M45 83.5v6.2M47.4 86.6h6.2M50.5 83.5v6.2M52.9 86.6h6.2M56 83.5v6.2M58.4 86.6h6.2M61.5 83.5v6.2M63.9 86.6h6.2M67 83.5v6.2M69.4 86.6h6.2M72.5 83.5v6.2M74.9 86.3h6.2M78 83.2v6.2M80 80.8h6.2M83.1 77.7v6.2M83.5 72.2h6.2M86.6 69.1v6.2M87 63.6h6.2M90.1 60.5v6.2M91.1 55h6.2M94.1 51.9v6.2M95.4 47.8h6.2M98.5 44.7v6.2M99.9 41.9h6.2M103 38.9v6.2M104.9 36.8h6.2M108 33.7v6.2M109.9 32.6h6.2M113 29.5v6.2M115.4 29.2h6.2M118.5 26.1v6.2M120.9 26.6h6.2M124 23.5v6.2M126.4 24.7h6.2M129.5 21.6v6.2M131.9 23.4h6.2M135 20.3v6.2M137.4 22.6h6.2M140.5 19.5v6.2M142.9 22.1h6.2M146 19.1v6.2M148.4 21.8h6.2M151.5 18.8v6.2M153.9 21.6h6.2M157 18.6v6.2M159.4 21.6h6.2M162.5 18.5v6.2M164.9 21.6h6.2M168 18.6v6.2M170.4 21.7h6.2M173.5 18.6v6.2M175.9 21.8h6.2M179 18.7v6.2M181.4 22h6.2M184.5 18.9v6.2M186.9 22.2h6.2M190 19.1v6.2M192.4 22.4h6.2M195.5 19.3v6.2M197.9 22.6h6.2M201 19.5v6.2M203.4 22.8h6.2M206.5 19.7v6.2M208.9 23h6.2M212 19.9v6.2M214.4 23.1h6.2M217.5 20v6.2M219.9 23.3h6.2M223 20.2v6.2M225.4 23.4h6.2M228.5 20.3v6.2M230.9 23.5h6.2M234 20.5v6.2M236.4 23.6h6.2M239.5 20.6v6.2M241.9 23.7h6.2M245 20.7v6.2M247.4 23.8h6.2M250.5 20.7v6.2M252.9 23.9h6.2M256 20.8v6.2" stroke="#19e619" stroke-width="1.7"/>
<path d="M45 86.4l1.5 -0l1.5 -0l1.5 -0l1.5 -0l1.5 -0l1.5 -0l1.5 -0l1.5 -0l1.5 -.1l1.5 0l1.5 0l1.5 0l1.5 0l1.5 0l1.5 0l1.5 -0l1.5 -0l1.5 -0l1.5 -0l1.5 -.1l1.5 0l1.5 -0l1.5 -.4l1.5 -1l1.5 -1.3l1.5 -1.5l1.8 -2.9l1.8 -2.1l1.7 1.1l1.7 2.3l1.7 1.8l1.8 .9l1.7 .6l1.8 .5l1.9 .4l1.8 .4l1.9 .2l1.6 .1l1.7 .1l1.6 .1l1.7 .1l1.6 0l1.6 .1l1.7 0l1.6 .1l1.7 -0l1.6 0l1.5 0l1.5 0l1.5 0l1.5 .1l1.5 -0l1.5 -0l1.5 0l1.5 0l1.5 0l1.5 0l1.5 .1l1.5 -0l1.5 -0l1.5 -0l1.5 0l1.5 0l1.5 0l1.5 0l1.5 0l1.5 .1l1.5 -0l1.5 -0l1.5 -0l1.5 -0l1.5 0l1.5 0l1.5 0l1.5 0l1.5 0l1.5 0l1.5 .1l1.5 -0l1.5 -0l1.5 -0l1.5 -0l1.5 -0l1.5 -0l1.5 0l1.5 0l1.5 0l1.5 0l1.5 0l1.5 0l1.5 0l1.5 0l1.5 .1l1.5 -0l1.5 -0l1.5 -0l1.5 -0l1.5 -0l1.5 -0l1.5 -0l1.5 -0l1.5 -0l1.5 -0l1.5 0l1.5 0l1.5 0l1.5 0l1.5 0l1.5 0l1.5 0l1.5 0l1.5 0l1.5 0l1.5 0l1.5 .1l1.5 -0l1.5 -0l1.5 -0l1.5 -0l1.5 -0l1.5 -0l1.5 -0l1.5 -0l1.5 -0l1.5 0l1.5 0l1.5 0l1.5 0l1.5 0l1.5 0l1.5 0l1.5 0l1.5 0l1.5 .1l1.5 -0l1.5 -0l1.5 -0l1.5 -0l1.5 -0l1.5 -0l1.5 0" fill="none" stroke="#991a99" stroke-width="1.6" stroke-linejoin="round"/>
<path d="M42.9 86.4h4.1M48.4 86.4h4.1M53.9 86.4h4.1M59.4 86.3h4.1M64.9 86.3h4.1M70.4 86.3h4.1M75.9 86.2h4.1M81.4 82.5h4.1M86 77.1h4.1M91.2 82.5h4.1M97 84.4h4.1M102.6 85.3h4.1M108.2 85.6h4.1M113.8 85.7h4.1M119.4 85.8h4.1M124.9 85.9h4.1M130.4 85.9h4.1M135.9 86h4.1M141.4 86h4.1M146.9 86.1h4.1M152.4 86.1h4.1M157.9 86.1h4.1M163.4 86.2h4.1M168.9 86.2h4.1M174.4 86.2h4.1M179.9 86.2h4.1M185.4 86.2h4.1M190.9 86.3h4.1M196.4 86.3h4.1M201.9 86.3h4.1M207.4 86.3h4.1M212.9 86.3h4.1M218.4 86.3h4.1M223.9 86.4h4.1M229.4 86.4h4.1M234.9 86.4h4.1M240.4 86.4h4.1M245.9 86.4h4.1M251.4 86.5h4.1M256.9 86.5h4.1" stroke="#991a99" stroke-width="4.7"/>
<path d="M45 85.2l1.5 0l1.6 0l1.5 0l1.6 0l1.5 0l1.6 0l1.5 0l1.6 0l1.5 0l1.6 0l1.5 0l1.6 0l1.5 0l1.6 0l1.5 0l1.6 0l1.5 0l1.6 0l1.6 0l1.5 0l2 .1l2 .3l1.8 .7l1.8 1.1l1.9 1.4l1.8 1.6l1.9 1.7l1.8 1.4l1.8 1l1.7 .9l1.8 .8l1.7 .8l1.5 .7l1.5 .6l1.5 .6l1.5 .6l1.5 .5l1.5 .6l1.5 .5l1.5 .6l1.5 .5l1.5 .4l1.5 .5l1.5 .5l1.6 .5l1.6 .5l1.6 .4l1.5 .5l1.6 .4l1.6 .5l1.5 .5l1.5 .4l1.5 .5l1.5 .4l1.5 .4l1.5 .4l1.5 .3l1.5 .3l1.6 .2l1.5 .2l1.5 .3l1.5 .2l1.5 .2l1.5 .3l1.6 .2l1.5 .2l1.5 .2l1.5 .2l1.5 .2l1.5 .1l1.6 .2l1.5 .1l1.5 .2l1.5 .1l1.5 .1l1.6 .2l1.5 .1l1.5 .2l1.6 .1l1.5 .2l1.6 .2l1.6 .2l1.6 .2l1.6 .1l1.6 .2l1.5 .1l1.5 .2l1.6 .1l1.5 .2l1.5 .1l1.5 .1l1.5 .2l1.5 .1l1.6 .1l1.5 .1l1.5 .1l1.5 .2l1.5 .1l1.6 .1l1.5 .1l1.5 .1l1.5 .1l1.5 .2l1.6 .1l1.5 .1l1.5 .1l1.5 .1l1.5 .1l1.5 .1l1.6 .2l1.5 .1l1.5 .1l1.5 .1l1.5 .1l1.6 .2l1.5 .1l1.5 .1l1.5 .1l1.5 .1l1.5 .2l1.6 .1l1.5 .1l1.5 .1l1.5 .1l1.5 .1l1.6 .2l1.5 .1l1.5 .1l1.5 .1l1.5 .1l1.6 .2l1.5 .1l1.5 .1l1.5 .1l1.5 .1l1.5 .1l1.6 .2l1.5 .1l1.5 .1" fill="none" stroke="#ff19ff" stroke-width="1.6" stroke-linejoin="round"/>
<path d="M45 87.7l2.5 -4.4h-5.1zM50.5 87.7l2.5 -4.4h-5.1zM56 87.7l2.5 -4.4h-5.1zM61.5 87.7l2.5 -4.4h-5.1zM67 87.7l2.5 -4.4h-5.1zM72.5 87.7l2.5 -4.4h-5.1zM78 87.8l2.5 -4.4h-5.1zM83.6 89.9l2.5 -4.4h-5.1zM88.9 94.4l2.5 -4.4h-5.1zM94.5 97.9l2.5 -4.4h-5.1zM100 100.4l2.5 -4.4h-5.1zM105.5 102.6l2.5 -4.4h-5.1zM111 104.5l2.5 -4.4h-5.1zM116.5 106.3l2.5 -4.4h-5.1zM122 107.9l2.5 -4.4h-5.1zM127.5 109.5l2.5 -4.4h-5.1zM133 111.2l2.5 -4.4h-5.1zM138.5 112.3l2.5 -4.4h-5.1zM144.1 113.1l2.5 -4.4h-5.1zM149.7 113.9l2.5 -4.4h-5.1zM155.2 114.6l2.5 -4.4h-5.1zM160.8 115.1l2.5 -4.4h-5.1zM166.4 115.7l2.5 -4.4h-5.1zM172 116.2l2.5 -4.4h-5.1zM177.5 116.9l2.5 -4.4h-5.1zM183 117.4l2.5 -4.4h-5.1zM188.5 117.9l2.5 -4.4h-5.1zM194 118.3l2.5 -4.4h-5.1zM199.5 118.8l2.5 -4.4h-5.1zM205 119.2l2.5 -4.4h-5.1zM210.5 119.6l2.5 -4.4h-5.1zM216 120l2.5 -4.4h-5.1zM221.5 120.4l2.5 -4.4h-5.1zM227 120.9l2.5 -4.4h-5.1zM232.5 121.3l2.5 -4.4h-5.1zM238 121.7l2.5 -4.4h-5.1zM243.5 122.2l2.5 -4.4h-5.1zM249 122.6l2.5 -4.4h-5.1zM254.5 123l2.5 -4.4h-5.1zM260 123.5l2.5 -4.4h-5.1z" fill="#ff19ff"/>
</g>
<text x="245.5" y="96.5" font-size="9" fill="#333" text-anchor="middle" font-family='"Liberation Serif", serif' font-style="italic">r<tspan font-size="6.66" dy="1.6">q</tspan></text>
<rect x="190.6" y="10.5" width="42.5" height="91.6" fill="#fff" fill-opacity="1" stroke="#444" stroke-width="0.9"/>
<rect x="195.51" y="17.01" width="4.59" height="4.59" fill="#000"/>
<text x="214.7" y="22.3" font-size="9.5" fill="#000" text-anchor="middle" font-family='"Liberation Serif", serif' font-weight="normal" font-style="italic">q</text>
<circle cx="197.8" cy="28.7" r="2.7" fill="#ff1a1a"/>
<text x="214.7" y="31.7" font-size="9.5" fill="#ff1a1a" text-anchor="middle" font-family='"Liberation Serif", serif' font-weight="normal" font-style="italic">m</text>
<path d="M197.8 34.8L200.5 39.52L195.1 39.52Z" fill="#8a8a8a"/>
<text x="214.7" y="39.5" font-size="5" fill="#bbb" text-anchor="middle" font-family='"Liberation Sans", sans-serif' font-weight="normal">r&#772; (P&#8201;-&#8201;M)</text>
<path d="M197.8 45.92L198.69 48.07L201.01 48.26L199.24 49.77L199.78 52.03L197.8 50.82L195.82 52.03L196.36 49.77L194.59 48.26L196.91 48.07Z" fill="#19f0f0"/>
<text x="214.7" y="52.8" font-size="9.5" fill="#19f0f0" text-anchor="middle" font-family='"Liberation Serif", serif' font-weight="normal" font-style="italic">c</text><text x="214.7" y="44.3" font-size="4.5" fill="#bbb" text-anchor="middle" font-family='"Liberation Sans", sans-serif' font-weight="normal">n</text>
<path d="M197.8 55.4L200.5 58.1L197.8 60.8L195.1 58.1Z" fill="#ff8c1a"/>
<text x="214.7" y="61.1" font-size="9.5" fill="#ff8c1a" text-anchor="middle" font-family='"Liberation Serif", serif' font-weight="normal" font-style="italic">σ&#8201;&#8728;q</text>
<path d="M197.8 69.3L200.5 65.52A1.35 1.35 0 0 0 197.8 65.25A1.35 1.35 0 0 0 195.1 65.52Z" fill="#1a1aff"/>
<text x="214.7" y="69.6" font-size="9.5" fill="#1a1aff" text-anchor="middle" font-family='"Liberation Serif", serif' font-style="italic">L<tspan font-size="7.03" dy="1.6">q</tspan></text>
<circle cx="197.8" cy="75.2" r="1.94" fill="#19e619"/><path d="M195.1 75.2H200.5M197.8 72.5V77.9" stroke="#19e619" stroke-width="1.49"/>
<text x="214.7" y="78.2" font-size="9.5" fill="#19e619" text-anchor="middle" font-family='"Liberation Serif", serif' font-style="italic">L<tspan font-size="7.03" dy="1.6">m</tspan></text>
<rect x="195.78" y="82.3" width="4.05" height="4.59" fill="#991a99"/>
<text x="214.7" y="88.1" font-size="9.5" fill="#991a99" text-anchor="middle" font-family='"Liberation Sans", sans-serif' font-weight="normal">10<tspan font-size="5" dy="-3.5">2</tspan><tspan dy="3.5" font-family='Liberation Serif' font-style="italic">ϕ</tspan></text>
<path d="M197.8 96.2L200.5 91.47L195.1 91.47Z" fill="#ff19ff"/>
<text x="214.7" y="96.5" font-size="9.5" fill="#ff19ff" text-anchor="middle" font-family='"Liberation Serif", serif' font-weight="normal" font-style="italic">u</text>
<line x1="191" y1="86.9" x2="232.5" y2="86.9" stroke="#c8c8c8" stroke-width="0.9"/>
<text x="225.5" y="96.8" font-size="8.2" fill="#262626" text-anchor="middle" font-family='"Liberation Sans", sans-serif' font-weight="normal">0.8</text>
<text x="256.5" y="11.5" font-size="8" fill="#222" text-anchor="middle" font-family='"Liberation Sans", sans-serif' font-weight="normal">f1</text>
</g>
<clipPath id="cf2"><rect x="271.6" y="5.2" width="273.4" height="135.3"/></clipPath>
<g clip-path="url(#cf2)">
<line x1="358" y1="5.2" x2="358" y2="140.5" stroke="#f1f1f1" stroke-width="0.9"/>
<line x1="404" y1="5.2" x2="404" y2="140.5" stroke="#f1f1f1" stroke-width="0.9"/>
<line x1="450" y1="5.2" x2="450" y2="140.5" stroke="#f1f1f1" stroke-width="0.9"/>
<line x1="496" y1="5.2" x2="496" y2="140.5" stroke="#f1f1f1" stroke-width="0.9"/>
<line x1="313.8" y1="30.4" x2="545" y2="30.4" stroke="#f1f1f1" stroke-width="0.9"/>
<line x1="313.8" y1="92.2" x2="545" y2="92.2" stroke="#f1f1f1" stroke-width="0.9"/>
<line x1="313.8" y1="123.2" x2="545" y2="123.2" stroke="#f1f1f1" stroke-width="0.9"/>
<line x1="313.8" y1="5.2" x2="313.8" y2="140.5" stroke="#d8d8d8" stroke-width="1"/>
<text x="311.1" y="33.3" font-size="8.2" fill="#262626" text-anchor="end" font-family='"Liberation Sans", sans-serif' font-weight="normal" letter-spacing="-0.3" stroke="#262626" stroke-width="0.12">20&#8201;000</text>
<text x="311.1" y="64.2" font-size="8.2" fill="#262626" text-anchor="end" font-family='"Liberation Sans", sans-serif' font-weight="normal" letter-spacing="-0.3" stroke="#262626" stroke-width="0.12">0</text>
<text x="311.1" y="95.1" font-size="8.2" fill="#262626" text-anchor="end" font-family='"Liberation Sans", sans-serif' font-weight="normal" letter-spacing="-0.3" stroke="#262626" stroke-width="0.12">&#8722;20&#8201;000</text>
<text x="311.1" y="126.1" font-size="8.2" fill="#262626" text-anchor="end" font-family='"Liberation Sans", sans-serif' font-weight="normal" letter-spacing="-0.3" stroke="#262626" stroke-width="0.12">&#8722;40&#8201;000</text>
<line x1="325.4" y1="5.2" x2="325.4" y2="140.5" stroke="#111" stroke-width="1.3" stroke-dasharray="2.0 4.6" stroke-dashoffset="4.3"/>
<text x="358.5" y="71.2" font-size="8.2" fill="#262626" text-anchor="middle" font-family='"Liberation Sans", sans-serif' font-weight="normal" letter-spacing="-0.3" stroke="#262626" stroke-width="0.12">0.2</text>
<text x="403.5" y="71.2" font-size="8.2" fill="#262626" text-anchor="middle" font-family='"Liberation Sans", sans-serif' font-weight="normal" letter-spacing="-0.3" stroke="#262626" stroke-width="0.12">0.4</text>
<text x="450.5" y="71.2" font-size="8.2" fill="#262626" text-anchor="middle" font-family='"Liberation Sans", sans-serif' font-weight="normal" letter-spacing="-0.3" stroke="#262626" stroke-width="0.12">0.6</text>
<text x="496" y="71.2" font-size="8.2" fill="#262626" text-anchor="middle" font-family='"Liberation Sans", sans-serif' font-weight="normal" letter-spacing="-0.3" stroke="#262626" stroke-width="0.12">0.8</text>
<clipPath id="ccf2"><rect x="313.8" y="5.2" width="231.2" height="135.3"/></clipPath><g clip-path="url(#ccf2)">
<path d="M314 37.6l1.6 0l1.5 0l1.5 0l1.6 0l1.5 0l1.6 0l1.5 0l1.6 0l1.5 0l1.6 0l1.5 0l1.6 0l1.5 0l1.6 0l1.5 .1l1.6 -0l1.5 -0l1.6 -0l1.5 -0l1.6 0l1.7 .1l1.6 .3l1.7 .4l1.5 .7l1.5 1.3l1 3l1 4.5l1 5.8l1 4.7l.7 1.6l.8 .7l1.5 -0l1.5 -0l1.5 -0l1.5 0l1.5 -0l1.6 0l1.5 -0l1.5 -0l1.5 -0l1.5 -0l1.5 0l1.5 -0l1.5 0l1.5 -0l1.5 -0l1.5 -0l1.5 -0l1.6 -0l1.5 -0l1.5 -0l1.5 -0l1.5 -0l1.5 -0l1.5 -0l1.5 -0l1.5 -0l1.5 -0l1.5 -0l1.6 -0l1.5 -0l1.5 -0l1.5 -0l1.5 -0l1.5 -0l1.5 -0l1.5 -0l1.5 -0l1.5 -0l1.5 -0l1.5 -0l1.6 -0l1.5 -0l1.5 -0l1.5 -0l1.5 -0l1.5 -0l1.5 -0l1.5 -0l1.5 -0l1.5 -0l1.5 -0l1.6 -0l1.5 -0l1.5 -0l1.5 -0l1.5 -0l1.5 -0l1.5 -0l1.5 -0l1.5 -0l1.5 -0l1.5 -0l1.5 -0l1.6 -0l1.5 -0l1.5 -0l1.5 -0l1.5 -0l1.5 -0l1.5 -0l1.5 -0l1.5 -0l1.5 -0l1.5 -0l1.6 -0l1.5 -0l1.5 -0l1.5 -0l1.5 -0l1.5 -0l1.5 -0l1.5 -0l1.5 -0l1.5 -0l1.5 -0l1.5 -0l1.6 -0l1.5 -0l1.5 -0l1.5 -0l1.5 -0l1.5 -0l1.5 -0l1.5 -0l1.5 -0l1.5 -0l1.5 -0l1.6 -0l1.5 -0l1.5 -0l1.5 -0l1.5 -0l1.5 -0l1.5 -0l1.5 -0l1.5 -0l1.5 -0l1.5 -0l1.5 -0l1.6 -0l1.5 -0l1.5 -0l1.5 -0l1.5 -0l1.5 -0" fill="none" stroke="#000" stroke-width="1.6" stroke-linejoin="round"/>
<path d="M312.6 36.5h2.7v2.7h-2.7zM317.6 36.6h2.7v2.7h-2.7zM322.6 36.6h2.7v2.7h-2.7zM327.6 36.6h2.7v2.7h-2.7zM332.6 36.6h2.7v2.7h-2.7zM337.6 36.6h2.7v2.7h-2.7zM342.6 36.6h2.7v2.7h-2.7zM347.6 37.2h2.7v2.7h-2.7zM352.1 40.5h2.7v2.7h-2.7zM353.6 46.9h2.7v2.7h-2.7zM354.6 52.7h2.7v2.7h-2.7zM356.1 58.6h2.7v2.7h-2.7zM360.6 59.7h2.7v2.7h-2.7zM365.6 59.7h2.7v2.7h-2.7zM370.6 59.7h2.7v2.7h-2.7zM375.6 59.7h2.7v2.7h-2.7zM380.6 59.7h2.7v2.7h-2.7zM385.6 59.7h2.7v2.7h-2.7zM390.6 59.7h2.7v2.7h-2.7zM395.6 59.7h2.7v2.7h-2.7zM400.6 59.7h2.7v2.7h-2.7zM405.6 59.7h2.7v2.7h-2.7zM410.6 59.7h2.7v2.7h-2.7zM415.6 59.7h2.7v2.7h-2.7zM420.6 59.7h2.7v2.7h-2.7zM425.6 59.7h2.7v2.7h-2.7zM430.6 59.7h2.7v2.7h-2.7zM435.6 59.7h2.7v2.7h-2.7zM440.6 59.7h2.7v2.7h-2.7zM445.6 59.7h2.7v2.7h-2.7zM450.6 59.7h2.7v2.7h-2.7zM455.6 59.7h2.7v2.7h-2.7zM460.6 59.7h2.7v2.7h-2.7zM465.6 59.7h2.7v2.7h-2.7zM470.6 59.7h2.7v2.7h-2.7zM475.6 59.7h2.7v2.7h-2.7zM480.6 59.7h2.7v2.7h-2.7zM485.6 59.7h2.7v2.7h-2.7zM490.6 59.7h2.7v2.7h-2.7zM495.6 59.7h2.7v2.7h-2.7zM500.6 59.7h2.7v2.7h-2.7zM505.6 59.7h2.7v2.7h-2.7zM510.6 59.7h2.7v2.7h-2.7zM515.6 59.7h2.7v2.7h-2.7zM520.6 59.7h2.7v2.7h-2.7zM525.6 59.7h2.7v2.7h-2.7zM530.6 59.7h2.7v2.7h-2.7z" fill="none" stroke="#444" stroke-width="0.8"/>
<path d="M314 41.4l1.6 0l1.5 0l1.5 0l1.6 0l1.5 0l1.6 0l1.5 0l1.6 .1l1.5 -0l1.6 -0l1.5 -0l1.6 -0l1.5 -0l1.6 -0l1.5 0l1.6 0l1.5 0l1.6 .1l1.5 -0l1.6 0l1.5 .1l1.5 .2l1.5 .3l1.5 .4l1.5 1.2l1.5 2.2l1.5 6.2l1.5 6.3l1 1.7l1 .8l1.5 -0l1.5 -0l1.5 -0l1.5 -0l1.5 0l1.5 -0l1.5 -0l1.5 -0l1.5 -0l1.5 -0l1.5 0l1.6 -0l1.5 -0l1.5 -0l1.5 -0l1.5 -0l1.5 0l1.5 -0l1.5 -0l1.5 -0l1.5 -0l1.5 -0l1.5 -0l1.5 -0l1.5 -0l1.5 -0l1.5 -0l1.5 -0l1.5 -0l1.5 -0l1.5 -0l1.5 -0l1.5 -0l1.5 0l1.6 -0l1.5 -0l1.5 -0l1.5 -0l1.5 -0l1.5 -0l1.5 -0l1.5 -0l1.5 -0l1.5 -0l1.5 -0l1.5 -0l1.5 0l1.5 -0l1.5 -0l1.5 -0l1.5 -0l1.5 -0l1.5 -0l1.5 -0l1.5 -0l1.5 -0l1.5 -0l1.6 -0l1.5 -0l1.5 -0l1.5 -0l1.5 -0l1.5 -0l1.5 -0l1.5 -0l1.5 -0l1.5 -0l1.5 -0l1.5 -0l1.5 -0l1.5 -0l1.5 -0l1.5 -0l1.5 -0l1.5 -0l1.5 -0l1.5 -0l1.5 -0l1.5 -0l1.5 -0l1.6 -0l1.5 -0l1.5 -0l1.5 -0l1.5 -0l1.5 -0l1.5 -0l1.5 -0l1.5 -0l1.5 -0l1.5 -0l1.5 -0l1.5 -0l1.5 -0l1.5 -0l1.5 -0l1.5 -0l1.5 -0l1.5 -0l1.5 -0l1.5 -0l1.5 -0l1.5 -0l1.6 -0l1.5 -0l1.5 -0l1.5 -0l1.5 -0l1.5 -0l1.5 -0l1.5 -0l1.5 -0l1.5 -0l1.5 -0l1.5 -0" fill="none" stroke="#ff1a1a" stroke-width="1.6" stroke-linejoin="round"/>
<path d="M312.1 43.2a1.9 1.9 0 1 0 3.8 0a1.9 1.9 0 1 0 -3.8 0M317.1 43.2a1.9 1.9 0 1 0 3.8 0a1.9 1.9 0 1 0 -3.8 0M322.1 43.2a1.9 1.9 0 1 0 3.8 0a1.9 1.9 0 1 0 -3.8 0M327.1 43.3a1.9 1.9 0 1 0 3.8 0a1.9 1.9 0 1 0 -3.8 0M332.1 43.3a1.9 1.9 0 1 0 3.8 0a1.9 1.9 0 1 0 -3.8 0M337.1 43.3a1.9 1.9 0 1 0 3.8 0a1.9 1.9 0 1 0 -3.8 0M342.1 43.4a1.9 1.9 0 1 0 3.8 0a1.9 1.9 0 1 0 -3.8 0M347.1 43.9a1.9 1.9 0 1 0 3.8 0a1.9 1.9 0 1 0 -3.8 0M351.6 47a1.9 1.9 0 1 0 3.8 0a1.9 1.9 0 1 0 -3.8 0M353.6 54a1.9 1.9 0 1 0 3.8 0a1.9 1.9 0 1 0 -3.8 0M355.1 60.3a1.9 1.9 0 1 0 3.8 0a1.9 1.9 0 1 0 -3.8 0M359.1 62.8a1.9 1.9 0 1 0 3.8 0a1.9 1.9 0 1 0 -3.8 0M364.1 62.8a1.9 1.9 0 1 0 3.8 0a1.9 1.9 0 1 0 -3.8 0M369.1 62.8a1.9 1.9 0 1 0 3.8 0a1.9 1.9 0 1 0 -3.8 0M374.1 62.8a1.9 1.9 0 1 0 3.8 0a1.9 1.9 0 1 0 -3.8 0M379.1 62.8a1.9 1.9 0 1 0 3.8 0a1.9 1.9 0 1 0 -3.8 0M384.1 62.8a1.9 1.9 0 1 0 3.8 0a1.9 1.9 0 1 0 -3.8 0M389.1 62.8a1.9 1.9 0 1 0 3.8 0a1.9 1.9 0 1 0 -3.8 0M394.1 62.8a1.9 1.9 0 1 0 3.8 0a1.9 1.9 0 1 0 -3.8 0M399.1 62.8a1.9 1.9 0 1 0 3.8 0a1.9 1.9 0 1 0 -3.8 0M404.1 62.8a1.9 1.9 0 1 0 3.8 0a1.9 1.9 0 1 0 -3.8 0M409.1 62.8a1.9 1.9 0 1 0 3.8 0a1.9 1.9 0 1 0 -3.8 0M414.1 62.8a1.9 1.9 0 1 0 3.8 0a1.9 1.9 0 1 0 -3.8 0M419.1 62.8a1.9 1.9 0 1 0 3.8 0a1.9 1.9 0 1 0 -3.8 0M424.1 62.8a1.9 1.9 0 1 0 3.8 0a1.9 1.9 0 1 0 -3.8 0M429.1 62.8a1.9 1.9 0 1 0 3.8 0a1.9 1.9 0 1 0 -3.8 0M434.1 62.8a1.9 1.9 0 1 0 3.8 0a1.9 1.9 0 1 0 -3.8 0M439.1 62.8a1.9 1.9 0 1 0 3.8 0a1.9 1.9 0 1 0 -3.8 0M444.1 62.8a1.9 1.9 0 1 0 3.8 0a1.9 1.9 0 1 0 -3.8 0M449.1 62.8a1.9 1.9 0 1 0 3.8 0a1.9 1.9 0 1 0 -3.8 0M454.1 62.8a1.9 1.9 0 1 0 3.8 0a1.9 1.9 0 1 0 -3.8 0M459.1 62.8a1.9 1.9 0 1 0 3.8 0a1.9 1.9 0 1 0 -3.8 0M464.1 62.8a1.9 1.9 0 1 0 3.8 0a1.9 1.9 0 1 0 -3.8 0M469.1 62.8a1.9 1.9 0 1 0 3.8 0a1.9 1.9 0 1 0 -3.8 0M474.1 62.8a1.9 1.9 0 1 0 3.8 0a1.9 1.9 0 1 0 -3.8 0M479.1 62.8a1.9 1.9 0 1 0 3.8 0a1.9 1.9 0 1 0 -3.8 0M484.1 62.8a1.9 1.9 0 1 0 3.8 0a1.9 1.9 0 1 0 -3.8 0M489.1 62.8a1.9 1.9 0 1 0 3.8 0a1.9 1.9 0 1 0 -3.8 0M494.1 62.8a1.9 1.9 0 1 0 3.8 0a1.9 1.9 0 1 0 -3.8 0M499.1 62.8a1.9 1.9 0 1 0 3.8 0a1.9 1.9 0 1 0 -3.8 0M504.1 62.8a1.9 1.9 0 1 0 3.8 0a1.9 1.9 0 1 0 -3.8 0M509.1 62.8a1.9 1.9 0 1 0 3.8 0a1.9 1.9 0 1 0 -3.8 0M514.1 62.8a1.9 1.9 0 1 0 3.8 0a1.9 1.9 0 1 0 -3.8 0M519.1 62.8a1.9 1.9 0 1 0 3.8 0a1.9 1.9 0 1 0 -3.8 0M524.1 62.8a1.9 1.9 0 1 0 3.8 0a1.9 1.9 0 1 0 -3.8 0M529.1 62.8a1.9 1.9 0 1 0 3.8 0a1.9 1.9 0 1 0 -3.8 0" fill="none" stroke="#ffc4c4" stroke-width="0.8"/>
<path d="M314 60.6l1.5 0l1.5 0l1.5 0l1.5 .1l1.5 -0l1.5 -0l1.5 -0l1.5 -0l1.5 -0l1.5 0l1.5 0l1.5 0l1.5 0l1.5 0l1.5 .1l1.5 -0l1.5 -0l1.5 0l1.5 0l1.5 .1l1.5 -0l1.5 0l1.5 .1l1.5 -0l1.8 .3l1.8 .7l1.8 1.4l1.8 2.1l1.8 2.1l1.8 1.9l1.9 1.8l1.8 1.7l1.7 1.5l1.8 1.3l1.5 .9l1.5 .9l1.5 .7l1.5 .7l1.5 .7l1.5 .7l1.5 .7l1.5 .6l1.5 .7l1.5 .6l1.5 .5l1.5 .5l1.6 .4l1.6 .4l1.5 .3l1.6 .3l1.6 .3l1.6 .3l1.5 .3l1.5 .3l1.5 .3l1.5 .2l1.5 .3l1.5 .2l1.5 .2l1.5 .2l1.5 .2l1.6 .2l1.5 .2l1.5 .1l1.5 .2l1.5 .1l1.5 .2l1.6 .1l1.5 .1l1.5 .1l1.5 .1l1.6 .1l1.5 0l1.6 .1l1.5 .1l1.6 0l1.5 .1l1.6 0l1.5 .1l1.6 0l1.5 .1l1.6 0l1.5 0l1.6 .1l1.5 0l1.6 .1l1.5 0l1.5 0l1.6 .1l1.5 0l1.6 0l1.5 .1l1.6 0l1.5 0l1.6 .1l1.5 0l1.6 0l1.5 .1l1.6 -0l1.5 0l1.6 .1l1.5 -0l1.6 0l1.5 0l1.6 .1l1.5 -0l1.6 0l1.5 0l1.5 0l1.5 .1l1.6 -0l1.5 0l1.5 0l1.5 0l1.5 .1l1.5 -0l1.5 -0l1.6 0l1.5 0l1.5 0l1.5 .1l1.5 -0l1.5 -0l1.5 0l1.6 0l1.5 0l1.5 .1l1.5 -0l1.5 -0l1.5 0l1.5 0l1.6 0l1.5 .1l1.5 -0l1.5 -0l1.5 0l1.5 0l1.5 0l1.6 0l1.5 .1l1.5 -0l1.5 0" fill="none" stroke="#777" stroke-width="1.6" stroke-linejoin="round"/>
<path d="M312.6 61h2.9v2.9h-2.9zM317.6 61h2.9v2.9h-2.9zM322.6 61h2.9v2.9h-2.9zM327.6 61.1h2.9v2.9h-2.9zM332.6 61.1h2.9v2.9h-2.9zM337.6 61.1h2.9v2.9h-2.9zM342.6 61.2h2.9v2.9h-2.9zM347.6 61.3h2.9v2.9h-2.9zM352.7 62.7h2.9v2.9h-2.9zM356.5 66.8h2.9v2.9h-2.9zM360.6 71h2.9v2.9h-2.9zM364.6 74.7h2.9v2.9h-2.9zM369.1 77.6h2.9v2.9h-2.9zM374.1 80.1h2.9v2.9h-2.9zM379.1 82.3h2.9v2.9h-2.9zM384.1 84.2h2.9v2.9h-2.9zM389.1 85.4h2.9v2.9h-2.9zM394.1 86.4h2.9v2.9h-2.9zM399.1 87.3h2.9v2.9h-2.9zM404.1 88.1h2.9v2.9h-2.9zM409.1 88.7h2.9v2.9h-2.9zM414.2 89.3h2.9v2.9h-2.9zM419.2 89.7h2.9v2.9h-2.9zM424.3 90h2.9v2.9h-2.9zM429.4 90.2h2.9v2.9h-2.9zM434.4 90.4h2.9v2.9h-2.9zM439.5 90.6h2.9v2.9h-2.9zM444.5 90.7h2.9v2.9h-2.9zM449.6 90.8h2.9v2.9h-2.9zM454.6 90.9h2.9v2.9h-2.9zM459.6 91h2.9v2.9h-2.9zM464.6 91.1h2.9v2.9h-2.9zM469.6 91.2h2.9v2.9h-2.9zM474.6 91.3h2.9v2.9h-2.9zM479.6 91.4h2.9v2.9h-2.9zM484.6 91.4h2.9v2.9h-2.9zM489.6 91.5h2.9v2.9h-2.9zM494.6 91.6h2.9v2.9h-2.9zM499.6 91.6h2.9v2.9h-2.9zM504.6 91.7h2.9v2.9h-2.9zM509.6 91.7h2.9v2.9h-2.9zM514.6 91.8h2.9v2.9h-2.9zM519.6 91.8h2.9v2.9h-2.9zM524.6 91.9h2.9v2.9h-2.9zM529.6 91.9h2.9v2.9h-2.9z" fill="none" stroke="#c4c4c4" stroke-width="0.8"/>
<path d="M314 39.5l1.6 0l1.5 0l1.5 0l1.6 0l1.5 0l1.6 0l1.5 0l1.6 0l1.5 0l1.6 0l1.5 0l1.6 0l1.5 0l1.6 0l1.5 .1l1.6 -0l1.5 -0l1.6 -0l1.5 -0l1.6 0l1.5 .1l1.5 .1l1.5 .3l1.5 .4l1.5 1.2l1.5 2.3l1.5 6.9l1.5 7.1l1 1.9l1 .9l1.5 0l1.5 0l1.5 0l1.5 0l1.5 0l1.5 0l1.5 -0l1.5 0l1.5 0l1.5 0l1.5 0l1.6 0l1.5 0l1.5 0l1.5 0l1.5 0l1.5 0l1.5 0l1.5 0l1.5 0l1.5 0l1.5 0l1.5 0l1.5 0l1.5 -0l1.5 0l1.5 0l1.5 0l1.5 0l1.5 0l1.5 0l1.5 0l1.5 0l1.5 0l1.6 0l1.5 0l1.5 0l1.5 0l1.5 0l1.5 0l1.5 0l1.5 0l1.5 0l1.5 0l1.5 0l1.5 0l1.5 0l1.5 0l1.5 0l1.5 0l1.5 0l1.5 0l1.5 0l1.5 0l1.5 0l1.5 0l1.5 0l1.6 0l1.5 0l1.5 0l1.5 0l1.5 0l1.5 0l1.5 0l1.5 0l1.5 0l1.5 0l1.5 0l1.5 0l1.5 0l1.5 0l1.5 0l1.5 0l1.5 0l1.5 0l1.5 0l1.5 0l1.5 0l1.5 0l1.5 0l1.6 0l1.5 0l1.5 0l1.5 0l1.5 0l1.5 0l1.5 0l1.5 0l1.5 0l1.5 0l1.5 0l1.5 0l1.5 0l1.5 0l1.5 0l1.5 0l1.5 0l1.5 0l1.5 0l1.5 0l1.5 0l1.5 0l1.5 0l1.6 0l1.5 0l1.5 0l1.5 0l1.5 0l1.5 0l1.5 0l1.5 0l1.5 0l1.5 0l1.5 0l1.5 0" fill="none" stroke="#ff8c1a" stroke-width="1.6" stroke-linejoin="round"/>
<path d="M312.4 40.1a1.6 1.6 0 1 0 3.2 0a1.6 1.6 0 1 0 -3.2 0M317.4 40.1a1.6 1.6 0 1 0 3.2 0a1.6 1.6 0 1 0 -3.2 0M322.4 40.1a1.6 1.6 0 1 0 3.2 0a1.6 1.6 0 1 0 -3.2 0M327.4 40.1a1.6 1.6 0 1 0 3.2 0a1.6 1.6 0 1 0 -3.2 0M332.4 40.1a1.6 1.6 0 1 0 3.2 0a1.6 1.6 0 1 0 -3.2 0M337.4 40.2a1.6 1.6 0 1 0 3.2 0a1.6 1.6 0 1 0 -3.2 0M342.4 40.2a1.6 1.6 0 1 0 3.2 0a1.6 1.6 0 1 0 -3.2 0M347.4 40.6a1.6 1.6 0 1 0 3.2 0a1.6 1.6 0 1 0 -3.2 0M351.9 43.7a1.6 1.6 0 1 0 3.2 0a1.6 1.6 0 1 0 -3.2 0M353.9 51.5a1.6 1.6 0 1 0 3.2 0a1.6 1.6 0 1 0 -3.2 0M354.9 57a1.6 1.6 0 1 0 3.2 0a1.6 1.6 0 1 0 -3.2 0M357.9 61.4a1.6 1.6 0 1 0 3.2 0a1.6 1.6 0 1 0 -3.2 0M362.9 61.4a1.6 1.6 0 1 0 3.2 0a1.6 1.6 0 1 0 -3.2 0M367.9 61.4a1.6 1.6 0 1 0 3.2 0a1.6 1.6 0 1 0 -3.2 0M372.9 61.4a1.6 1.6 0 1 0 3.2 0a1.6 1.6 0 1 0 -3.2 0M377.9 61.4a1.6 1.6 0 1 0 3.2 0a1.6 1.6 0 1 0 -3.2 0M382.9 61.4a1.6 1.6 0 1 0 3.2 0a1.6 1.6 0 1 0 -3.2 0M387.9 61.4a1.6 1.6 0 1 0 3.2 0a1.6 1.6 0 1 0 -3.2 0M392.9 61.4a1.6 1.6 0 1 0 3.2 0a1.6 1.6 0 1 0 -3.2 0M397.9 61.4a1.6 1.6 0 1 0 3.2 0a1.6 1.6 0 1 0 -3.2 0M402.9 61.4a1.6 1.6 0 1 0 3.2 0a1.6 1.6 0 1 0 -3.2 0M407.9 61.4a1.6 1.6 0 1 0 3.2 0a1.6 1.6 0 1 0 -3.2 0M412.9 61.4a1.6 1.6 0 1 0 3.2 0a1.6 1.6 0 1 0 -3.2 0M417.9 61.4a1.6 1.6 0 1 0 3.2 0a1.6 1.6 0 1 0 -3.2 0M422.9 61.4a1.6 1.6 0 1 0 3.2 0a1.6 1.6 0 1 0 -3.2 0M427.9 61.4a1.6 1.6 0 1 0 3.2 0a1.6 1.6 0 1 0 -3.2 0M432.9 61.4a1.6 1.6 0 1 0 3.2 0a1.6 1.6 0 1 0 -3.2 0M437.9 61.4a1.6 1.6 0 1 0 3.2 0a1.6 1.6 0 1 0 -3.2 0M442.9 61.4a1.6 1.6 0 1 0 3.2 0a1.6 1.6 0 1 0 -3.2 0M447.9 61.4a1.6 1.6 0 1 0 3.2 0a1.6 1.6 0 1 0 -3.2 0M452.9 61.4a1.6 1.6 0 1 0 3.2 0a1.6 1.6 0 1 0 -3.2 0M457.9 61.4a1.6 1.6 0 1 0 3.2 0a1.6 1.6 0 1 0 -3.2 0M462.9 61.4a1.6 1.6 0 1 0 3.2 0a1.6 1.6 0 1 0 -3.2 0M467.9 61.4a1.6 1.6 0 1 0 3.2 0a1.6 1.6 0 1 0 -3.2 0M472.9 61.4a1.6 1.6 0 1 0 3.2 0a1.6 1.6 0 1 0 -3.2 0M477.9 61.4a1.6 1.6 0 1 0 3.2 0a1.6 1.6 0 1 0 -3.2 0M482.9 61.4a1.6 1.6 0 1 0 3.2 0a1.6 1.6 0 1 0 -3.2 0M487.9 61.4a1.6 1.6 0 1 0 3.2 0a1.6 1.6 0 1 0 -3.2 0M492.9 61.4a1.6 1.6 0 1 0 3.2 0a1.6 1.6 0 1 0 -3.2 0M497.9 61.4a1.6 1.6 0 1 0 3.2 0a1.6 1.6 0 1 0 -3.2 0M502.9 61.4a1.6 1.6 0 1 0 3.2 0a1.6 1.6 0 1 0 -3.2 0M507.9 61.4a1.6 1.6 0 1 0 3.2 0a1.6 1.6 0 1 0 -3.2 0M512.9 61.4a1.6 1.6 0 1 0 3.2 0a1.6 1.6 0 1 0 -3.2 0M517.9 61.4a1.6 1.6 0 1 0 3.2 0a1.6 1.6 0 1 0 -3.2 0M522.9 61.4a1.6 1.6 0 1 0 3.2 0a1.6 1.6 0 1 0 -3.2 0M527.9 61.4a1.6 1.6 0 1 0 3.2 0a1.6 1.6 0 1 0 -3.2 0" fill="none" stroke="#ffb060" stroke-width="0.8"/>
<path d="M357.5 60.8a2 2 0 1 0 4 0a2 2 0 1 0 -4 0M362.5 60.8a2 2 0 1 0 4 0a2 2 0 1 0 -4 0M367.5 60.8a2 2 0 1 0 4 0a2 2 0 1 0 -4 0M372.5 60.8a2 2 0 1 0 4 0a2 2 0 1 0 -4 0M377.5 60.8a2 2 0 1 0 4 0a2 2 0 1 0 -4 0M382.5 60.8a2 2 0 1 0 4 0a2 2 0 1 0 -4 0M387.5 60.8a2 2 0 1 0 4 0a2 2 0 1 0 -4 0M392.5 60.8a2 2 0 1 0 4 0a2 2 0 1 0 -4 0M397.5 60.8a2 2 0 1 0 4 0a2 2 0 1 0 -4 0M402.5 60.8a2 2 0 1 0 4 0a2 2 0 1 0 -4 0M407.5 60.8a2 2 0 1 0 4 0a2 2 0 1 0 -4 0M412.5 60.8a2 2 0 1 0 4 0a2 2 0 1 0 -4 0M417.5 60.8a2 2 0 1 0 4 0a2 2 0 1 0 -4 0M422.5 60.8a2 2 0 1 0 4 0a2 2 0 1 0 -4 0M427.5 60.8a2 2 0 1 0 4 0a2 2 0 1 0 -4 0M432.5 60.8a2 2 0 1 0 4 0a2 2 0 1 0 -4 0M437.5 60.8a2 2 0 1 0 4 0a2 2 0 1 0 -4 0M442.5 60.8a2 2 0 1 0 4 0a2 2 0 1 0 -4 0M447.5 60.8a2 2 0 1 0 4 0a2 2 0 1 0 -4 0M452.5 60.8a2 2 0 1 0 4 0a2 2 0 1 0 -4 0M457.5 60.8a2 2 0 1 0 4 0a2 2 0 1 0 -4 0M462.5 60.8a2 2 0 1 0 4 0a2 2 0 1 0 -4 0M467.5 60.8a2 2 0 1 0 4 0a2 2 0 1 0 -4 0M472.5 60.8a2 2 0 1 0 4 0a2 2 0 1 0 -4 0M477.5 60.8a2 2 0 1 0 4 0a2 2 0 1 0 -4 0M482.5 60.8a2 2 0 1 0 4 0a2 2 0 1 0 -4 0M487.5 60.8a2 2 0 1 0 4 0a2 2 0 1 0 -4 0M492.5 60.8a2 2 0 1 0 4 0a2 2 0 1 0 -4 0M497.5 60.8a2 2 0 1 0 4 0a2 2 0 1 0 -4 0M502.5 60.8a2 2 0 1 0 4 0a2 2 0 1 0 -4 0M507.5 60.8a2 2 0 1 0 4 0a2 2 0 1 0 -4 0M512.5 60.8a2 2 0 1 0 4 0a2 2 0 1 0 -4 0M517.5 60.8a2 2 0 1 0 4 0a2 2 0 1 0 -4 0M522.5 60.8a2 2 0 1 0 4 0a2 2 0 1 0 -4 0M527.5 60.8a2 2 0 1 0 4 0a2 2 0 1 0 -4 0" fill="none" stroke="#e07030" stroke-width="1.1"/>
<path d="M314 35.3l1.5 -0l1.6 -0l1.5 -0l1.5 -0l1.5 -0l1.6 -0l1.5 -0l1.5 -0l1.5 -0l1.6 -0l1.5 -0l1.5 -0l1.5 -0l1.6 -.1l1.5 0l1.5 0l1.5 0l1.6 0l1.5 0l1.6 -.1l1.7 -.3l1.6 -.4l1.6 -.4l1.7 -.5l1.6 -.5l1.5 -.5l1.6 -.5l1.5 -.6l1.5 -.6l1.6 -.7l1.5 -.6l1.6 -.7l1.6 -.8l1.6 -.7l1.6 -.8l1.6 -.7l1.7 -.8l1.8 -.8l1.7 -.7l1.8 -.5l1.6 -.4l1.5 -.3l1.6 -.2l1.6 -.3l1.5 -.2l1.6 -.3l1.5 -.3l1.5 -.3l1.5 -.3l1.6 -.3l1.5 -.3l1.5 -.3l1.5 -.2l1.5 -.3l1.5 -.2l1.5 -.2l1.5 -.2l1.5 -.2l1.5 -.2l1.5 -.2l1.5 -.2l1.6 -.2l1.5 -.2l1.5 -.2l1.5 -.2l1.5 -.1l1.5 -.1l1.6 -.1l1.5 -.2l1.5 -.1l1.5 -.1l1.5 -.2l1.5 -.2l1.6 -.1l1.5 -.2l1.5 -.1l1.5 -.1l1.6 -.2l1.5 -.1l1.5 -.2l1.6 -.1l1.5 -.1l1.6 -.1l1.6 -.1l1.6 -.1l1.6 -.1l1.6 -.1l1.5 -.1l1.5 -.1l1.5 -.1l1.5 -.1l1.5 -.1l1.5 -.1l1.5 -.1l1.5 -.1l1.5 -.1l1.5 -.1l1.5 -.1l1.5 -.1l1.5 -.2l1.5 -.1l1.5 -.2l1.5 -.1l1.5 -.2l1.5 -.1l1.5 -.2l1.5 -.1l1.5 -.2l1.5 -.1l1.5 -.2l1.6 -.1l1.5 -.2l1.6 -.1l1.5 -.2l1.5 -.2l1.6 -.1l1.5 -.2l1.6 -.1l1.5 -.2l1.6 -.1l1.5 -.1l1.5 -.1l1.5 -.1l1.5 -.1l1.6 -.1l1.5 -0l1.5 -.1l1.5 -.1l1.5 -0l1.5 -.1l1.6 -.1l1.5 -.1l1.5 -.1l1.7 -.1l1.6 -.2l1.7 -.1l1.6 -.2l1.7 -.1l1.7 -.2l1.6 -.1l1.7 -.2" fill="none" stroke="#ff19ff" stroke-width="1.6" stroke-linejoin="round"/>
<path d="M314 39l1.7 -3h-3.4zM319 39l1.7 -3h-3.4zM324 39l1.7 -3h-3.4zM329 39l1.7 -3h-3.4zM334 39l1.7 -3h-3.4zM339 38.9l1.7 -3h-3.4zM344 38.9l1.7 -3h-3.4zM349.2 37.8l1.7 -3h-3.4zM354.3 36.2l1.7 -3h-3.4zM359.4 34.3l1.7 -3h-3.4zM364.5 32.1l1.7 -3h-3.4zM369.5 29.7l1.7 -3h-3.4zM374.5 27.5l1.7 -3h-3.4zM379.6 26.1l1.7 -3h-3.4zM384.8 25.3l1.7 -3h-3.4zM389.9 24.3l1.7 -3h-3.4zM395 23.3l1.7 -3h-3.4zM400 22.5l1.7 -3h-3.4zM405 21.8l1.7 -3h-3.4zM410.1 21.1l1.7 -3h-3.4zM415.1 20.5l1.7 -3h-3.4zM420.2 20.1l1.7 -3h-3.4zM425.2 19.7l1.7 -3h-3.4zM430.3 19.1l1.7 -3h-3.4zM435.4 18.7l1.7 -3h-3.4zM440.5 18.2l1.7 -3h-3.4zM445.5 17.9l1.7 -3h-3.4zM450.5 17.6l1.7 -3h-3.4zM455.5 17.3l1.7 -3h-3.4zM460.5 17l1.7 -3h-3.4zM465.5 16.6l1.7 -3h-3.4zM470.5 16.1l1.7 -3h-3.4zM475.5 15.6l1.7 -3h-3.4zM480.5 15.1l1.7 -3h-3.4zM485.5 14.6l1.7 -3h-3.4zM490.5 14.1l1.7 -3h-3.4zM495.5 13.6l1.7 -3h-3.4zM500.5 13.2l1.7 -3h-3.4zM505.6 12.9l1.7 -3h-3.4zM510.6 12.6l1.7 -3h-3.4zM515.7 12.4l1.7 -3h-3.4zM520.7 12l1.7 -3h-3.4zM525.9 11.6l1.7 -3h-3.4zM531 11.1l1.7 -3h-3.4z" fill="none" stroke="#ffa6ff" stroke-width="0.7"/>
<path d="M314 58l1.6 -0l1.5 -0l1.5 -0l1.6 -0l1.5 -0l1.6 -0l1.5 -0l1.6 -.1l1.5 0l1.6 0l1.5 0l1.6 0l1.5 0l1.6 -0l1.5 -0l1.6 -0l1.5 -0l1.6 -.1l1.5 0l1.6 0l1.6 -.1l1.5 -.2l1.6 -.2l1.5 -.2l1.6 -.1l1.3 .5l1.4 1l1.9 3l2 4.5l1.9 4l1.6 2.6l1.7 2.5l1.6 2.4l1.7 2.2l1.6 2.1l1.7 1.8l1.6 1.7l1.7 1.6l1.7 1.4l1.7 1.3l1.7 1.2l1.7 1.1l1.7 1.1l1.5 .9l1.5 .8l1.5 .8l1.5 .7l1.5 .8l1.5 .7l1.5 .7l1.5 .7l1.5 .7l1.5 .7l1.6 .8l1.6 .9l1.7 .9l1.6 .8l1.6 .9l1.6 .8l1.7 .7l1.6 .7l1.6 .6l1.5 .6l1.6 .5l1.6 .5l1.5 .5l1.6 .5l1.6 .4l1.6 .5l1.5 .4l1.6 .5l1.6 .4l1.5 .5l1.6 .4l1.5 .4l1.5 .5l1.5 .4l1.5 .4l1.5 .5l1.5 .4l1.5 .4l1.5 .4l1.5 .5l1.6 .4l1.5 .4l1.5 .4l1.5 .4l1.5 .4l1.5 .3l1.5 .4l1.5 .4l1.5 .3l1.5 .4l1.5 .3l1.5 .4l1.5 .3l1.5 .3l1.5 .3l1.5 .3l1.5 .3l1.5 .3l1.5 .3l1.5 .3l1.5 .2l1.5 .3l1.5 .3l1.5 .3l1.5 .3l1.5 .3l1.5 .3l1.5 .3l1.5 .3l1.5 .3l1.5 .3l1.6 .4l1.5 .4l1.5 .3l1.5 .4l1.6 .4l1.5 .4l1.5 .4l1.5 .4l1.6 .3l1.5 .4l1.5 .3l1.5 .3l1.6 .3l1.5 .3l1.5 .3l1.6 .2l1.5 .2l1.6 .2l1.5 .2l1.6 .2l1.5 .2l1.6 .2l1.5 .2l1.6 .2l1.5 .2l1.6 .2l1.5 .2" fill="none" stroke="#1fb01f" stroke-width="1.6" stroke-linejoin="round"/>
<path d="M312.7 59.8h2.6M314 58.5v2.6M317.7 59.8h2.6M319 58.5v2.6M322.7 59.8h2.6M324 58.5v2.6M327.7 59.7h2.6M329 58.4v2.6M332.7 59.7h2.6M334 58.4v2.6M337.7 59.7h2.6M339 58.4v2.6M342.7 59.6h2.6M344 58.3v2.6M347.9 59.1h2.6M349.2 57.8v2.6M353.1 59.5h2.6M354.4 58.2v2.6M356.3 63.7h2.6M357.6 62.4v2.6M358.9 69.8h2.6M360.2 68.5v2.6M362 75h2.6M363.3 73.7v2.6M365.5 80.1h2.6M366.8 78.8v2.6M369 84.5h2.6M370.3 83.2v2.6M373 88.5h2.6M374.3 87.2v2.6M377.1 91.8h2.6M378.4 90.5v2.6M381.7 94.8h2.6M383 93.5v2.6M386.2 97.3h2.6M387.5 96v2.6M391.2 99.7h2.6M392.5 98.4v2.6M396.2 102.1h2.6M397.5 100.8v2.6M401.2 104.7h2.6M402.5 103.4v2.6M406.2 107.3h2.6M407.5 106v2.6M411.2 109.4h2.6M412.5 108.1v2.6M416.3 111.1h2.6M417.6 109.8v2.6M421.4 112.6h2.6M422.7 111.3v2.6M426.5 114.1h2.6M427.8 112.8v2.6M431.6 115.5h2.6M432.9 114.2v2.6M436.6 117h2.6M437.9 115.7v2.6M441.6 118.4h2.6M442.9 117.1v2.6M446.7 119.8h2.6M448 118.5v2.6M451.7 121.1h2.6M453 119.8v2.6M456.7 122.3h2.6M458 121v2.6M461.7 123.5h2.6M463 122.2v2.6M466.7 124.5h2.6M468 123.2v2.6M471.7 125.5h2.6M473 124.2v2.6M476.7 126.4h2.6M478 125.1v2.6M481.7 127.4h2.6M483 126.1v2.6M486.7 128.4h2.6M488 127.1v2.6M491.8 129.5h2.6M493.1 128.2v2.6M496.8 130.7h2.6M498.1 129.4v2.6M501.9 132h2.6M503.2 130.7v2.6M507 133.2h2.6M508.3 131.9v2.6M512.1 134.2h2.6M513.4 132.9v2.6M517.1 134.9h2.6M518.4 133.6v2.6M522.2 135.6h2.6M523.5 134.3v2.6M527.2 136.2h2.6M528.5 134.9v2.6" stroke="#2cb02c" stroke-width="0.9"/>
</g>
<text x="517.5" y="70.5" font-size="9" fill="#333" text-anchor="middle" font-family='"Liberation Serif", serif' font-style="italic">r<tspan font-size="6.66" dy="1.6">q</tspan></text>
<rect x="451.3" y="75.6" width="57.7" height="63" fill="#fff" fill-opacity="1" stroke="#444" stroke-width="0.9"/>
<rect x="456.44" y="82.74" width="3.52" height="3.52" fill="none" stroke="#333" stroke-width="0.9"/>
<text x="482.3" y="87.6" font-size="8.6" fill="#000" text-anchor="middle" font-family='"Liberation Sans", sans-serif' font-weight="bold" font-style="italic">Q</text>
<circle cx="458.2" cy="94.2" r="2.97" fill="none" stroke="#ff1a1a" stroke-width="0.9"/>
<text x="482.3" y="97.3" font-size="8.6" fill="#ff1a1a" text-anchor="middle" font-family='"Liberation Sans", sans-serif' font-weight="bold" font-style="italic">M</text>
<path d="M458.2 100.1L460.7 104.47L455.7 104.47Z" fill="none" stroke="#aaa" stroke-width="0.9"/>
<text x="463.7" y="104.8" font-size="6.7" fill="#b0b0b0" text-anchor="start" font-family='"Liberation Sans", sans-serif' font-weight="normal">(1&#8201;-&#8201;γ)&#8201;(P&#8201;-&#8201;W)</text>
<circle cx="458.2" cy="110.7" r="1.95" fill="none" stroke="#ff8c1a" stroke-width="0.9"/>
<text x="482.3" y="113.8" font-size="8.6" fill="#ff8c1a" text-anchor="middle" font-family='"Liberation Sans", sans-serif' font-weight="bold" font-style="italic">G</text>
<path d="M458.2 120.9L460.8 116.35L455.6 116.35Z" fill="none" stroke="#ff19ff" stroke-width="0.9"/>
<text x="482.3" y="121.4" font-size="8.6" fill="#ff19ff" text-anchor="middle" font-family='"Liberation Sans", sans-serif' font-weight="bold" font-style="italic">U</text>
<path d="M456 128H460.4M458.2 125.8V130.2" stroke="#1fb01f" stroke-width="0.9"/>
<text x="481.3" y="131.3" font-size="9.2" fill="#22b822" text-anchor="middle" font-family='"Liberation Sans", sans-serif' font-weight="bold">10<tspan font-size="6" dy="-3.5">5</tspan><tspan dy="3.5" dx="0.6" font-family='Liberation Serif' font-style="italic" font-weight="normal" fill="#5cc85c">π</tspan></text>
<text x="528.7" y="17.8" font-size="8" fill="#222" text-anchor="middle" font-family='"Liberation Sans", sans-serif' font-weight="normal">f2</text>
</g>
<clipPath id="cg1"><rect x="5.5" y="141.6" width="265.0" height="139.4"/></clipPath>
<g clip-path="url(#cg1)">
<line x1="80" y1="141.6" x2="80" y2="281" stroke="#f1f1f1" stroke-width="0.9"/>
<line x1="119.3" y1="141.6" x2="119.3" y2="281" stroke="#f1f1f1" stroke-width="0.9"/>
<line x1="158.6" y1="141.6" x2="158.6" y2="281" stroke="#f1f1f1" stroke-width="0.9"/>
<line x1="197.9" y1="141.6" x2="197.9" y2="281" stroke="#f1f1f1" stroke-width="0.9"/>
<line x1="237.2" y1="141.6" x2="237.2" y2="281" stroke="#f1f1f1" stroke-width="0.9"/>
<line x1="40.8" y1="150.8" x2="270.5" y2="150.8" stroke="#f1f1f1" stroke-width="0.9"/>
<line x1="40.8" y1="179.2" x2="270.5" y2="179.2" stroke="#f1f1f1" stroke-width="0.9"/>
<line x1="40.8" y1="207.6" x2="270.5" y2="207.6" stroke="#f1f1f1" stroke-width="0.9"/>
<line x1="40.8" y1="236" x2="270.5" y2="236" stroke="#f1f1f1" stroke-width="0.9"/>
<line x1="40.8" y1="141.6" x2="40.8" y2="281" stroke="#d8d8d8" stroke-width="1"/>
<text x="37.9" y="153.7" font-size="8.2" fill="#262626" text-anchor="end" font-family='"Liberation Sans", sans-serif' font-weight="normal" letter-spacing="-0.3" stroke="#262626" stroke-width="0.12">40&#8201;000</text>
<text x="37.9" y="182.1" font-size="8.2" fill="#262626" text-anchor="end" font-family='"Liberation Sans", sans-serif' font-weight="normal" letter-spacing="-0.3" stroke="#262626" stroke-width="0.12">30&#8201;000</text>
<text x="37.9" y="210.5" font-size="8.2" fill="#262626" text-anchor="end" font-family='"Liberation Sans", sans-serif' font-weight="normal" letter-spacing="-0.3" stroke="#262626" stroke-width="0.12">20&#8201;000</text>
<text x="37.9" y="238.9" font-size="8.2" fill="#262626" text-anchor="end" font-family='"Liberation Sans", sans-serif' font-weight="normal" letter-spacing="-0.3" stroke="#262626" stroke-width="0.12">10&#8201;000</text>
<text x="37.9" y="267.3" font-size="8.2" fill="#262626" text-anchor="end" font-family='"Liberation Sans", sans-serif' font-weight="normal" letter-spacing="-0.3" stroke="#262626" stroke-width="0.12">0</text>
<line x1="44.1" y1="141.6" x2="44.1" y2="281" stroke="#5e5e5e" stroke-width="2.1" stroke-dasharray="2.0 4.6" stroke-dashoffset="4.3"/>
<text x="80" y="274.1" font-size="8.2" fill="#262626" text-anchor="middle" font-family='"Liberation Sans", sans-serif' font-weight="normal" letter-spacing="-0.3" stroke="#262626" stroke-width="0.12">0.5</text>
<text x="119.3" y="274.1" font-size="8.2" fill="#262626" text-anchor="middle" font-family='"Liberation Sans", sans-serif' font-weight="normal" letter-spacing="-0.3" stroke="#262626" stroke-width="0.12">1.0</text>
<text x="158.6" y="274.1" font-size="8.2" fill="#262626" text-anchor="middle" font-family='"Liberation Sans", sans-serif' font-weight="normal" letter-spacing="-0.3" stroke="#262626" stroke-width="0.12">1.5</text>
<text x="197.9" y="274.1" font-size="8.2" fill="#262626" text-anchor="middle" font-family='"Liberation Sans", sans-serif' font-weight="normal" letter-spacing="-0.3" stroke="#262626" stroke-width="0.12">2.0</text>
<text x="237.2" y="274.1" font-size="8.2" fill="#262626" text-anchor="middle" font-family='"Liberation Sans", sans-serif' font-weight="normal" letter-spacing="-0.3" stroke="#262626" stroke-width="0.12">2.5</text>
<clipPath id="ccg1"><rect x="40.8" y="141.6" width="229.7" height="139.4"/></clipPath><g clip-path="url(#ccg1)">
<path d="M42 263.8l1.5 -.1l1.6 -.2l1.5 -.1l1.6 -.1l1.5 -.1l1.5 -.1l1.6 -.2l1.5 -.1l1.5 -.1l1.6 -.2l1.5 -.1l1.6 -.2l1.5 -.2l1.6 -.2l1.5 -.3l1.6 -.3l1.6 -.4l1.6 -.4l1.5 -.4l1.6 -.4l1.6 -.5l1.5 -.4l1.6 -.4l1.6 -.4l1.6 -.4l1.5 -.4l1.6 -.3l1.6 -.3l1.5 -.3l1.6 -.3l1.6 -.2l1.6 -.3l1.5 -.2l1.6 -.2l1.6 -.2l1.6 -.2l1.6 -.2l1.6 -.1l1.7 -.2l1.6 -.2l1.6 -.1l1.6 -.2l1.6 -.1l1.6 -.1l1.6 -.2l1.6 -.2l1.6 -.1l1.7 -.2l1.6 -.1l1.6 -.1l1.6 -.1l1.6 -0l1.9 0l1.8 .1l1.9 0l1.8 .1l1.8 .1l1.8 .3l1.8 .2l1.8 .3l1.6 .2l1.6 .3l1.6 .3l1.6 .3l1.6 .2l1.6 .3l1.6 .3l1.6 .3l1.6 .3l1.6 .3l1.7 .3l1.6 .3l1.6 .2l1.7 .3l1.6 .3l1.6 .3l1.7 .2l1.6 .3l1.8 .3l1.9 .2l1.8 .2l1.8 .3l1.6 .2l1.6 .3l1.6 .3l1.5 .3l1.6 .3l1.6 .3l1.6 .2l1.6 .3l1.6 .3l1.5 .2l1.6 .2l1.6 .1l1.6 .1l1.5 .1l1.6 .1l1.6 .2l1.6 .1l1.5 0l1.6 .1l1.6 .1l1.5 .1l1.6 .1l1.6 0l1.6 0l1.5 .1l1.6 -0l1.5 0l1.5 0l1.6 0l1.5 0l1.5 .1l1.5 -0l1.5 -0l1.5 -0l1.6 -0l1.5 -0l1.5 0l1.5 0l1.5 0l1.5 0l1.6 0l1.5 0l1.5 0l1.5 0l1.5 0l1.5 .1l1.6 -0l1.5 -0l1.5 -0l1.5 -0l1.5 -0l1.5 -0l1.6 -0l1.5 -0l1.5 -0" fill="none" stroke="#000" stroke-width="1.6" stroke-linejoin="round"/>
<path d="M40.1 263.8h3.7M45.6 263.3h3.7M51.1 262.9h3.7M56.6 262.4h3.7M62.1 261.7h3.7M67.6 260.5h3.7M73.1 259h3.7M78.6 257.6h3.7M84.1 256.4h3.7M89.6 255.5h3.7M95.1 254.8h3.7M100.6 254.2h3.7M106.1 253.6h3.7M111.6 253.1h3.7M117.1 252.6h3.7M122.7 252.4h3.7M128.5 252.6h3.7M134.2 253.1h3.7M139.8 254h3.7M145.5 255h3.7M151.1 256h3.7M156.7 257h3.7M162.3 257.9h3.7M167.9 258.8h3.7M173.6 259.6h3.7M179.1 260.5h3.7M184.6 261.5h3.7M190.1 262.3h3.7M195.6 262.8h3.7M201.1 263.1h3.7M206.6 263.4h3.7M212.1 263.6h3.7M217.6 263.6h3.7M223.1 263.7h3.7M228.6 263.7h3.7M234.1 263.7h3.7M239.6 263.7h3.7M245.1 263.8h3.7M250.6 263.8h3.7M256.1 263.8h3.7" stroke="#000" stroke-width="3.7"/>
<path d="M42 264l1.5 -.1l1.6 -0l1.5 -.1l1.6 0l1.5 -0l1.5 -.1l1.6 -0l1.5 -.1l1.5 -0l1.6 -.1l1.5 -.1l1.6 -0l1.5 -.1l1.6 -.1l1.5 -.1l1.6 -.1l1.6 -.1l1.6 -.1l1.5 -.2l1.6 -.1l1.6 -.1l1.5 -.2l1.6 -.1l1.6 -.2l1.6 -.1l1.5 -.2l1.6 -.1l1.6 -.1l1.5 -.2l1.6 -.1l1.6 -.2l1.6 -.1l1.5 -.2l1.6 -.1l1.5 -.1l1.5 -.1l1.5 -.1l1.5 -.1l1.5 -.1l1.5 -.1l1.5 -.1l1.5 -0l1.5 -.1l1.5 -.1l1.6 -.1l1.5 -0l1.6 -.1l1.5 -.1l1.6 -0l1.5 -.1l1.6 -.1l1.5 -0l1.6 -.1l1.5 -.1l1.5 -0l1.5 -.1l1.5 -.1l1.5 -.1l1.5 -.1l1.5 -0l1.5 -.1l1.5 -.1l1.5 0l1.6 -0l1.5 -.1l1.6 -0l1.5 -.1l1.6 0l1.5 -0l1.6 -0l1.5 -.1l1.6 0l1.6 -0l1.5 -.1l1.6 -0l1.6 -0l1.6 -.1l1.5 -0l1.6 -.1l1.6 0l1.5 -0l1.6 -0l1.6 -.1l1.6 0l1.5 0l1.6 0l1.5 0l1.5 0l1.6 0l1.5 0l1.5 0l1.5 0l1.5 0l1.5 0l1.6 0l1.5 0l1.5 0l1.5 0l1.5 0l1.6 0l1.5 0l1.5 0l1.5 0l1.5 0l1.5 0l1.6 0l1.5 0l1.5 0l1.5 0l1.5 0l1.5 0l1.6 0l1.5 0l1.5 0l1.5 0l1.5 0l1.6 0l1.5 0l1.5 0l1.5 0l1.5 0l1.5 0l1.6 0l1.5 0l1.5 0l1.5 0l1.5 0l1.6 0l1.5 0l1.5 0l1.5 0l1.5 0l1.5 0l1.6 0l1.5 0l1.5 0l1.5 0l1.5 0l1.5 0l1.6 0l1.5 0l1.5 0" fill="none" stroke="#ff1a1a" stroke-width="1.6" stroke-linejoin="round"/>
<path d="M42 264h0M47.5 263.8h0M53 263.7h0M58.5 263.5h0M64 263.2h0M69.5 262.8h0M75 262.3h0M80.5 261.8h0M86 261.3h0M91.5 260.8h0M97 260.4h0M102.5 260h0M108 259.7h0M113.5 259.4h0M119 259.2h0M124.5 259h0M130 258.7h0M135.5 258.4h0M141 258.2h0M146.5 258.1h0M152 258h0M157.5 257.9h0M163 257.8h0M168.5 257.7h0M174 257.6h0M179.5 257.6h0M185 257.6h0M190.5 257.6h0M196 257.6h0M201.5 257.6h0M207 257.6h0M212.5 257.6h0M218 257.6h0M223.5 257.6h0M229 257.6h0M234.5 257.6h0M240 257.6h0M245.5 257.6h0M251 257.6h0M256.5 257.6h0" stroke="#ff1a1a" stroke-width="6.2" stroke-linecap="round"/>
<path d="M42 264.2l1.5 .1l1.6 .1l1.5 .2l1.6 .1l1.5 .1l1.5 .1l1.6 .1l1.5 .1l1.5 .2l1.6 .1l1.5 .1l1.6 .2l1.5 .1l1.6 .2l1.5 .1l1.6 .2l1.6 .2l1.6 .2l1.5 .2l1.6 .2l1.6 .2l1.5 .2l1.6 .2l1.6 .2l1.6 .2l1.5 .2l1.6 .2l1.6 .2l1.5 .3l1.6 .3l1.6 .2l1.6 .2l1.5 .2l1.6 .1l1.5 0l1.5 .1l1.5 -0l1.5 0l1.5 0l1.5 .1l1.5 -0l1.5 -0l1.5 -0l1.5 -0l1.6 -0l1.5 -.1l1.6 -0l1.5 -.1l1.6 -.1l1.5 -.1l1.6 -.1l1.5 -.1l1.6 -.1l1.6 -.1l1.6 -.1l1.7 -.2l1.6 -.1l1.6 -.2l1.6 -.1l1.7 -.2l1.6 -.1l1.6 -.2l1.6 -.2l1.6 -.1l1.6 -.2l1.6 -.1l1.6 -.2l1.6 -.2l1.6 -.1l1.6 -.2l1.6 -.1l1.6 -.1l1.5 -.1l1.6 -.2l1.6 -.1l1.6 -.1l1.5 -.1l1.6 -.1l1.6 -.1l1.5 -.1l1.6 -.1l1.6 -.1l1.6 -.1l1.5 -.1l1.6 -.1l1.6 -.1l1.6 -.1l1.6 -.1l1.5 -.1l1.6 -.1l1.6 -.1l1.6 -.1l1.6 -0l1.6 -.1l1.5 -0l1.6 -.1l1.6 0l1.5 -0l1.5 -0l1.5 -0l1.5 -0l1.5 -0l1.5 -.1l1.5 0l1.5 0l1.5 0l1.5 0l1.5 0l1.5 0l1.5 0l1.5 -0l1.5 -0l1.5 -0l1.5 -0l1.5 -0l1.5 -0l1.5 -0l1.5 -0l1.5 -0l1.5 -0l1.5 -0l1.5 -0l1.5 -0l1.5 -0l1.5 -0l1.5 -.1l1.5 0l1.5 0l1.5 0l1.5 0l1.5 0l1.5 0l1.5 0l1.5 0l1.5 0l1.5 0l1.5 0l1.5 0l1.5 0l1.5 0l1.5 0" fill="none" stroke="#777" stroke-width="1.6" stroke-linejoin="round"/>
<path d="M42 263.4l2.4 4.2h-4.8zM47.5 263.8l2.4 4.2h-4.8zM53 264.2l2.4 4.2h-4.8zM58.5 264.7l2.4 4.2h-4.8zM64 265.2l2.4 4.2h-4.8zM69.5 265.8l2.4 4.2h-4.8zM75 266.5l2.4 4.2h-4.8zM80.5 267.2l2.4 4.2h-4.8zM86 268l2.4 4.2h-4.8zM91.5 268.9l2.4 4.2h-4.8zM97 269.2l2.4 4.2h-4.8zM102.5 269.3l2.4 4.2h-4.8zM108 269.4l2.4 4.2h-4.8zM113.5 269.3l2.4 4.2h-4.8zM119 269l2.4 4.2h-4.8zM124.5 268.6l2.4 4.2h-4.8zM130 268.2l2.4 4.2h-4.8zM135.6 267.7l2.4 4.2h-4.8zM141.2 267.1l2.4 4.2h-4.8zM146.8 266.6l2.4 4.2h-4.8zM152.5 266l2.4 4.2h-4.8zM158 265.6l2.4 4.2h-4.8zM163.5 265.2l2.4 4.2h-4.8zM169 264.8l2.4 4.2h-4.8zM174.5 264.5l2.4 4.2h-4.8zM180 264.2l2.4 4.2h-4.8zM185.5 263.9l2.4 4.2h-4.8zM191 263.6l2.4 4.2h-4.8zM196.5 263.6l2.4 4.2h-4.8zM202 263.5l2.4 4.2h-4.8zM207.5 263.5l2.4 4.2h-4.8zM213 263.5l2.4 4.2h-4.8zM218.5 263.5l2.4 4.2h-4.8zM224 263.5l2.4 4.2h-4.8zM229.5 263.4l2.4 4.2h-4.8zM235 263.4l2.4 4.2h-4.8zM240.5 263.4l2.4 4.2h-4.8zM246 263.4l2.4 4.2h-4.8zM251.5 263.4l2.4 4.2h-4.8zM257 263.4l2.4 4.2h-4.8z" fill="#888"/>
<path d="M42 264l1.5 -0l1.6 -.1l1.5 -0l1.6 -0l1.5 -.1l1.5 0l1.6 -0l1.5 -.1l1.5 0l1.6 -0l1.5 -.1l1.6 -0l1.5 -.1l1.6 -.1l1.5 -.1l1.6 -.2l1.6 -.3l1.6 -.2l1.5 -.3l1.6 -.3l1.6 -.3l1.5 -.4l1.6 -.4l1.6 -.3l1.6 -.4l1.5 -.3l1.6 -.4l1.5 -.3l1.6 -.4l1.5 -.4l1.5 -.4l1.5 -.4l1.6 -.5l1.5 -.4l1.5 -.4l1.5 -.5l1.6 -.4l1.5 -.5l1.5 -.4l1.8 -.5l1.8 -.5l1.8 -.6l1.8 -.5l1.8 -.6l1.9 -.6l1.8 -.6l1.8 -.6l1.8 -.6l1.8 -.6l1.8 -.7l1.8 -.6l1.9 -.7l1.8 -.6l1.9 -.7l1.8 -.7l1.8 -.7l1.8 -.7l1.8 -.7l1.8 -.7l1.9 -.6l1.8 -.7l1.9 -.6l1.8 -.6l1.8 -.6l1.7 -.7l1.8 -.6l1.7 -.6l1.6 -.5l1.6 -.5l1.6 -.5l1.6 -.5l1.6 -.5l1.6 -.5l1.5 -.4l1.6 -.5l1.6 -.4l1.6 -.4l1.5 -.4l1.6 -.4l1.6 -.3l1.5 -.4l1.6 -.3l1.6 -.3l1.6 -.2l1.5 -.3l1.6 -.2l1.6 -.2l1.5 -.2l1.6 -.1l1.6 -.2l1.6 -.1l1.5 -.1l1.6 -.1l1.6 -.1l1.5 -0l1.6 -.1l1.6 -0l1.6 -.1l1.5 0l1.6 -0l1.6 0l1.5 0l1.6 0l1.6 .1l1.5 -0l1.6 0l1.5 .1l1.6 0l1.6 .1l1.5 0l1.6 .1l1.6 0l1.5 .1l1.6 0l1.5 .1l1.6 -0l1.5 0l1.5 .1l1.5 0l1.5 .1l1.5 .1l1.5 0l1.5 .1l1.5 0l1.5 .1l1.5 .1l1.5 0l1.5 .1l1.5 .1l1.5 0l1.5 .1l1.5 .1l1.5 0l1.5 .1l1.5 0l1.5 .1" fill="none" stroke="#19f0f0" stroke-width="1.6" stroke-linejoin="round"/>
<path d="M42 261l.8 1.9l2 .2l-1.6 1.3l.5 2l-1.7 -1.1l-1.7 1.1l.5 -2l-1.6 -1.3l2 -.2zM47.5 260.9l.8 1.9l2 .2l-1.6 1.3l.5 2l-1.7 -1.1l-1.7 1.1l.5 -2l-1.6 -1.3l2 -.2zM53 260.8l.8 1.9l2 .2l-1.6 1.3l.5 2l-1.7 -1.1l-1.7 1.1l.5 -2l-1.6 -1.3l2 -.2zM58.5 260.7l.8 1.9l2 .2l-1.6 1.3l.5 2l-1.7 -1.1l-1.7 1.1l.5 -2l-1.6 -1.3l2 -.2zM64 260.4l.8 1.9l2 .2l-1.6 1.3l.5 2l-1.7 -1.1l-1.7 1.1l.5 -2l-1.6 -1.3l2 -.2zM69.5 259.7l.8 1.9l2 .2l-1.6 1.3l.5 2l-1.7 -1.1l-1.7 1.1l.5 -2l-1.6 -1.3l2 -.2zM75 258.6l.8 1.9l2 .2l-1.6 1.3l.5 2l-1.7 -1.1l-1.7 1.1l.5 -2l-1.6 -1.3l2 -.2zM80.5 257.3l.8 1.9l2 .2l-1.6 1.3l.5 2l-1.7 -1.1l-1.7 1.1l.5 -2l-1.6 -1.3l2 -.2zM86 256.1l.8 1.9l2 .2l-1.6 1.3l.5 2l-1.7 -1.1l-1.7 1.1l.5 -2l-1.6 -1.3l2 -.2zM91.6 254.6l.8 1.9l2 .2l-1.6 1.3l.5 2l-1.7 -1.1l-1.7 1.1l.5 -2l-1.6 -1.3l2 -.2zM97.2 253l.8 1.9l2 .2l-1.6 1.3l.5 2l-1.7 -1.1l-1.7 1.1l.5 -2l-1.6 -1.3l2 -.2zM102.8 251.4l.8 1.9l2 .2l-1.6 1.3l.5 2l-1.7 -1.1l-1.7 1.1l.5 -2l-1.6 -1.3l2 -.2zM108.5 249.7l.8 1.9l2 .2l-1.6 1.3l.5 2l-1.7 -1.1l-1.7 1.1l.5 -2l-1.6 -1.3l2 -.2zM114.2 247.9l.8 1.9l2 .2l-1.6 1.3l.5 2l-1.7 -1.1l-1.7 1.1l.5 -2l-1.6 -1.3l2 -.2zM119.9 246l.8 1.9l2 .2l-1.6 1.3l.5 2l-1.7 -1.1l-1.7 1.1l.5 -2l-1.6 -1.3l2 -.2zM125.6 244l.8 1.9l2 .2l-1.6 1.3l.5 2l-1.7 -1.1l-1.7 1.1l.5 -2l-1.6 -1.3l2 -.2zM131.4 241.8l.8 1.9l2 .2l-1.6 1.3l.5 2l-1.7 -1.1l-1.7 1.1l.5 -2l-1.6 -1.3l2 -.2zM137.1 239.6l.8 1.9l2 .2l-1.6 1.3l.5 2l-1.7 -1.1l-1.7 1.1l.5 -2l-1.6 -1.3l2 -.2zM142.8 237.6l.8 1.9l2 .2l-1.6 1.3l.5 2l-1.7 -1.1l-1.7 1.1l.5 -2l-1.6 -1.3l2 -.2zM148.5 235.6l.8 1.9l2 .2l-1.6 1.3l.5 2l-1.7 -1.1l-1.7 1.1l.5 -2l-1.6 -1.3l2 -.2zM154 233.7l.8 1.9l2 .2l-1.6 1.3l.5 2l-1.7 -1.1l-1.7 1.1l.5 -2l-1.6 -1.3l2 -.2zM159.5 232l.8 1.9l2 .2l-1.6 1.3l.5 2l-1.7 -1.1l-1.7 1.1l.5 -2l-1.6 -1.3l2 -.2zM165 230.4l.8 1.9l2 .2l-1.6 1.3l.5 2l-1.7 -1.1l-1.7 1.1l.5 -2l-1.6 -1.3l2 -.2zM170.5 228.9l.8 1.9l2 .2l-1.6 1.3l.5 2l-1.7 -1.1l-1.7 1.1l.5 -2l-1.6 -1.3l2 -.2zM176 227.7l.8 1.9l2 .2l-1.6 1.3l.5 2l-1.7 -1.1l-1.7 1.1l.5 -2l-1.6 -1.3l2 -.2zM181.5 226.7l.8 1.9l2 .2l-1.6 1.3l.5 2l-1.7 -1.1l-1.7 1.1l.5 -2l-1.6 -1.3l2 -.2zM187 226.1l.8 1.9l2 .2l-1.6 1.3l.5 2l-1.7 -1.1l-1.7 1.1l.5 -2l-1.6 -1.3l2 -.2zM192.5 225.6l.8 1.9l2 .2l-1.6 1.3l.5 2l-1.7 -1.1l-1.7 1.1l.5 -2l-1.6 -1.3l2 -.2zM198 225.4l.8 1.9l2 .2l-1.6 1.3l.5 2l-1.7 -1.1l-1.7 1.1l.5 -2l-1.6 -1.3l2 -.2zM203.5 225.2l.8 1.9l2 .2l-1.6 1.3l.5 2l-1.7 -1.1l-1.7 1.1l.5 -2l-1.6 -1.3l2 -.2zM209 225.3l.8 1.9l2 .2l-1.6 1.3l.5 2l-1.7 -1.1l-1.7 1.1l.5 -2l-1.6 -1.3l2 -.2zM214.5 225.4l.8 1.9l2 .2l-1.6 1.3l.5 2l-1.7 -1.1l-1.7 1.1l.5 -2l-1.6 -1.3l2 -.2zM220 225.5l.8 1.9l2 .2l-1.6 1.3l.5 2l-1.7 -1.1l-1.7 1.1l.5 -2l-1.6 -1.3l2 -.2zM225.5 225.7l.8 1.9l2 .2l-1.6 1.3l.5 2l-1.7 -1.1l-1.7 1.1l.5 -2l-1.6 -1.3l2 -.2zM231 225.9l.8 1.9l2 .2l-1.6 1.3l.5 2l-1.7 -1.1l-1.7 1.1l.5 -2l-1.6 -1.3l2 -.2zM236.5 226l.8 1.9l2 .2l-1.6 1.3l.5 2l-1.7 -1.1l-1.7 1.1l.5 -2l-1.6 -1.3l2 -.2zM242 226.3l.8 1.9l2 .2l-1.6 1.3l.5 2l-1.7 -1.1l-1.7 1.1l.5 -2l-1.6 -1.3l2 -.2zM247.5 226.5l.8 1.9l2 .2l-1.6 1.3l.5 2l-1.7 -1.1l-1.7 1.1l.5 -2l-1.6 -1.3l2 -.2zM253 226.7l.8 1.9l2 .2l-1.6 1.3l.5 2l-1.7 -1.1l-1.7 1.1l.5 -2l-1.6 -1.3l2 -.2zM258.5 227l.8 1.9l2 .2l-1.6 1.3l.5 2l-1.7 -1.1l-1.7 1.1l.5 -2l-1.6 -1.3l2 -.2z" fill="#19f0f0"/>
<path d="M42 263.8l1.5 -.1l1.6 -.1l1.5 -.1l1.6 -.1l1.5 -0l1.5 -.1l1.6 -.1l1.5 -.1l1.5 -.1l1.6 -.1l1.5 -.1l1.6 -.2l1.5 -.1l1.6 -.2l1.5 -.1l1.6 -.2l1.6 -.3l1.6 -.2l1.5 -.3l1.6 -.2l1.6 -.3l1.5 -.3l1.6 -.3l1.6 -.4l1.6 -.3l1.5 -.3l1.6 -.4l1.6 -.4l1.5 -.4l1.6 -.5l1.6 -.5l1.6 -.5l1.5 -.6l1.6 -.5l1.7 -.6l1.6 -.6l1.7 -.6l1.7 -.7l1.6 -.7l1.7 -.6l1.6 -.6l1.7 -.7l1.6 -.6l1.7 -.7l1.6 -.7l1.7 -.6l1.6 -.6l1.5 -.5l1.5 -.5l1.5 -.6l1.5 -.5l1.5 -.5l1.9 -.7l1.8 -.7l1.9 -.7l1.8 -.8l1.8 -.8l1.8 -1l1.8 -.9l1.8 -.8l1.9 -.7l1.8 -.7l1.9 -.6l1.8 -.7l1.8 -.7l1.7 -.7l1.8 -.7l1.7 -.7l1.5 -.5l1.5 -.6l1.5 -.5l1.5 -.4l1.5 -.5l1.8 -.5l1.8 -.5l1.8 -.5l1.8 -.5l1.8 -.5l1.8 -.5l1.9 -.5l1.8 -.5l1.6 -.5l1.6 -.4l1.6 -.5l1.6 -.5l1.6 -.3l1.6 -.3l1.5 -.2l1.6 -.3l1.6 -.2l1.6 -.2l1.5 -.2l1.6 -.1l1.6 -.1l1.5 -.2l1.6 -.1l1.6 -.1l1.6 -.1l1.5 -.1l1.6 -0l1.6 0l1.5 0l1.6 0l1.6 0l1.5 .1l1.6 -0l1.5 0l1.6 0l1.6 .1l1.5 -0l1.6 0l1.6 .1l1.5 -0l1.6 0l1.5 .1l1.6 -0l1.5 0l1.5 .1l1.5 0l1.5 .1l1.5 -0l1.5 0l1.5 .1l1.5 0l1.5 .1l1.5 .1l1.5 0l1.5 .1l1.5 0l1.5 .1l1.5 0l1.5 .1l1.5 0l1.5 .1l1.5 0l1.5 .1" fill="none" stroke="#ff8c1a" stroke-width="1.6" stroke-linejoin="round"/>
<path d="M42 261.1l2.8 2.8 -2.8 2.8 -2.8 -2.8zM47.5 260.7l2.8 2.8 -2.8 2.8 -2.8 -2.8zM53 260.4l2.8 2.8 -2.8 2.8 -2.8 -2.8zM58.5 260l2.8 2.8 -2.8 2.8 -2.8 -2.8zM64 259.5l2.8 2.8 -2.8 2.8 -2.8 -2.8zM69.5 258.8l2.8 2.8 -2.8 2.8 -2.8 -2.8zM75 257.9l2.8 2.8 -2.8 2.8 -2.8 -2.8zM80.5 256.7l2.8 2.8 -2.8 2.8 -2.8 -2.8zM86 255.4l2.8 2.8 -2.8 2.8 -2.8 -2.8zM91.5 253.7l2.8 2.8 -2.8 2.8 -2.8 -2.8zM97 251.8l2.8 2.8 -2.8 2.8 -2.8 -2.8zM102.5 249.7l2.8 2.8 -2.8 2.8 -2.8 -2.8zM108 247.6l2.8 2.8 -2.8 2.8 -2.8 -2.8zM113.5 245.4l2.8 2.8 -2.8 2.8 -2.8 -2.8zM119 243.4l2.8 2.8 -2.8 2.8 -2.8 -2.8zM124.5 241.5l2.8 2.8 -2.8 2.8 -2.8 -2.8zM130.3 239.2l2.8 2.8 -2.8 2.8 -2.8 -2.8zM136 236.5l2.8 2.8 -2.8 2.8 -2.8 -2.8zM141.8 234.1l2.8 2.8 -2.8 2.8 -2.8 -2.8zM147.5 232l2.8 2.8 -2.8 2.8 -2.8 -2.8zM153 229.8l2.8 2.8 -2.8 2.8 -2.8 -2.8zM158.5 227.9l2.8 2.8 -2.8 2.8 -2.8 -2.8zM164.1 226.2l2.8 2.8 -2.8 2.8 -2.8 -2.8zM169.8 224.7l2.8 2.8 -2.8 2.8 -2.8 -2.8zM175.5 223.1l2.8 2.8 -2.8 2.8 -2.8 -2.8zM181 221.5l2.8 2.8 -2.8 2.8 -2.8 -2.8zM186.5 220.5l2.8 2.8 -2.8 2.8 -2.8 -2.8zM192 219.7l2.8 2.8 -2.8 2.8 -2.8 -2.8zM197.5 219.2l2.8 2.8 -2.8 2.8 -2.8 -2.8zM203 218.9l2.8 2.8 -2.8 2.8 -2.8 -2.8zM208.5 218.9l2.8 2.8 -2.8 2.8 -2.8 -2.8zM214 218.9l2.8 2.8 -2.8 2.8 -2.8 -2.8zM219.5 219l2.8 2.8 -2.8 2.8 -2.8 -2.8zM225 219.1l2.8 2.8 -2.8 2.8 -2.8 -2.8zM230.5 219.3l2.8 2.8 -2.8 2.8 -2.8 -2.8zM236 219.4l2.8 2.8 -2.8 2.8 -2.8 -2.8zM241.5 219.6l2.8 2.8 -2.8 2.8 -2.8 -2.8zM247 219.8l2.8 2.8 -2.8 2.8 -2.8 -2.8zM252.5 220l2.8 2.8 -2.8 2.8 -2.8 -2.8zM258 220.2l2.8 2.8 -2.8 2.8 -2.8 -2.8z" fill="#ff8c1a"/>
<path d="M42 263.6l1.6 -.1l1.5 -0l1.6 -.1l1.6 -.1l1.6 -.1l1.5 -.1l1.6 -.1l1.5 -.2l1.5 -.3l1.5 -.3l1.5 -.4l1.5 -.4l1.5 -.4l1.6 -.4l1.5 -.5l1.6 -.4l1.6 -.5l1.6 -.5l1.5 -.6l1.6 -.5l1.6 -.5l1.5 -.6l1.6 -.6l1.6 -.6l1.6 -.6l1.5 -.6l1.6 -.6l1.6 -.6l1.5 -.6l1.6 -.6l1.6 -.6l1.6 -.7l1.5 -.7l1.6 -.7l1.8 -1l1.9 -1.1l1.8 -1.2l1.8 -1.2l1.8 -1.3l1.8 -1.3l1.8 -1.4l1.8 -1.5l1.8 -1.6l1.9 -1.6l1.8 -1.8l1.8 -1.8l1.8 -1.9l1.8 -2l1.8 -2l1.8 -2l1.9 -1.9l1.8 -1.9l1.9 -1.8l1.8 -1.9l1.8 -1.8l1.8 -1.9l1.8 -1.8l1.8 -1.9l1.7 -1.7l1.6 -1.7l1.7 -1.7l1.6 -1.7l1.6 -1.7l1.6 -1.8l1.6 -1.7l1.6 -1.7l1.5 -1.6l1.6 -1.6l1.6 -1.7l1.6 -1.6l1.5 -1.6l1.6 -1.6l1.6 -1.6l1.5 -1.6l1.6 -1.6l1.6 -1.6l1.6 -1.5l1.5 -1.6l1.6 -1.5l1.6 -1.5l1.5 -1.5l1.6 -1.4l1.5 -1.4l1.6 -1.5l1.5 -1.4l1.6 -1.4l1.5 -1.5l1.6 -1.4l1.5 -1.5l1.5 -1.6l1.5 -1.6l1.5 -1.7l1.5 -1.6l1.5 -1.4l1.5 -1.3l1.5 -1.1l1.5 -.8l1.8 -.8l1.9 -.6l1.8 -.2l1.5 0l1.6 0l1.5 0l1.5 0l1.5 0l1.6 0l1.5 .1l1.5 -0l1.6 -0l1.5 0l1.5 0l1.5 .1l1.6 -0l1.5 0l1.5 0l1.5 .1l1.6 0l1.5 0l1.5 .1l1.6 0l1.5 0l1.5 .1l1.5 0l1.6 0l1.5 .1l1.5 -0l1.6 0l1.5 .1l1.5 -0l1.5 0l1.6 .1l1.5 -0l1.5 0l1.5 0l1.6 .1l1.5 -0" fill="none" stroke="#1a1aff" stroke-width="1.6" stroke-linejoin="round"/>
<path d="M42 266.4l2.8 -3.8a1.4 1.4 0 0 0 -2.8 -.3a1.4 1.4 0 0 0 -2.8 .3zM47.5 266.1l2.8 -3.8a1.4 1.4 0 0 0 -2.8 -.3a1.4 1.4 0 0 0 -2.8 .3zM53 265.8l2.8 -3.8a1.4 1.4 0 0 0 -2.8 -.3a1.4 1.4 0 0 0 -2.8 .3zM58.5 264.7l2.8 -3.8a1.4 1.4 0 0 0 -2.8 -.3a1.4 1.4 0 0 0 -2.8 .3zM64 263.2l2.8 -3.8a1.4 1.4 0 0 0 -2.8 -.3a1.4 1.4 0 0 0 -2.8 .3zM69.5 261.5l2.8 -3.8a1.4 1.4 0 0 0 -2.8 -.3a1.4 1.4 0 0 0 -2.8 .3zM75 259.7l2.8 -3.8a1.4 1.4 0 0 0 -2.8 -.3a1.4 1.4 0 0 0 -2.8 .3zM80.5 257.6l2.8 -3.8a1.4 1.4 0 0 0 -2.8 -.3a1.4 1.4 0 0 0 -2.8 .3zM86 255.5l2.8 -3.8a1.4 1.4 0 0 0 -2.8 -.3a1.4 1.4 0 0 0 -2.8 .3zM91.5 253.3l2.8 -3.8a1.4 1.4 0 0 0 -2.8 -.3a1.4 1.4 0 0 0 -2.8 .3zM97.1 250.6l2.8 -3.8a1.4 1.4 0 0 0 -2.8 -.3a1.4 1.4 0 0 0 -2.8 .3zM102.3 247.2l2.8 -3.8a1.4 1.4 0 0 0 -2.8 -.3a1.4 1.4 0 0 0 -2.8 .3zM107.4 243.4l2.8 -3.8a1.4 1.4 0 0 0 -2.8 -.3a1.4 1.4 0 0 0 -2.8 .3zM112.6 239l2.8 -3.8a1.4 1.4 0 0 0 -2.8 -.3a1.4 1.4 0 0 0 -2.8 .3zM117.8 233.9l2.8 -3.8a1.4 1.4 0 0 0 -2.8 -.3a1.4 1.4 0 0 0 -2.8 .3zM123 228.2l2.8 -3.8a1.4 1.4 0 0 0 -2.8 -.3a1.4 1.4 0 0 0 -2.8 .3zM128.2 222.7l2.8 -3.8a1.4 1.4 0 0 0 -2.8 -.3a1.4 1.4 0 0 0 -2.8 .3zM133.5 217.4l2.8 -3.8a1.4 1.4 0 0 0 -2.8 -.3a1.4 1.4 0 0 0 -2.8 .3zM138.6 212.2l2.8 -3.8a1.4 1.4 0 0 0 -2.8 -.3a1.4 1.4 0 0 0 -2.8 .3zM143.7 206.9l2.8 -3.8a1.4 1.4 0 0 0 -2.8 -.3a1.4 1.4 0 0 0 -2.8 .3zM148.9 201.3l2.8 -3.8a1.4 1.4 0 0 0 -2.8 -.3a1.4 1.4 0 0 0 -2.8 .3zM154 195.9l2.8 -3.8a1.4 1.4 0 0 0 -2.8 -.3a1.4 1.4 0 0 0 -2.8 .3zM159 190.8l2.8 -3.8a1.4 1.4 0 0 0 -2.8 -.3a1.4 1.4 0 0 0 -2.8 .3zM164 185.7l2.8 -3.8a1.4 1.4 0 0 0 -2.8 -.3a1.4 1.4 0 0 0 -2.8 .3zM169 180.7l2.8 -3.8a1.4 1.4 0 0 0 -2.8 -.3a1.4 1.4 0 0 0 -2.8 .3zM174 175.8l2.8 -3.8a1.4 1.4 0 0 0 -2.8 -.3a1.4 1.4 0 0 0 -2.8 .3zM179 171.2l2.8 -3.8a1.4 1.4 0 0 0 -2.8 -.3a1.4 1.4 0 0 0 -2.8 .3zM184 166.6l2.8 -3.8a1.4 1.4 0 0 0 -2.8 -.3a1.4 1.4 0 0 0 -2.8 .3zM189 161.7l2.8 -3.8a1.4 1.4 0 0 0 -2.8 -.3a1.4 1.4 0 0 0 -2.8 .3zM194 156.3l2.8 -3.8a1.4 1.4 0 0 0 -2.8 -.3a1.4 1.4 0 0 0 -2.8 .3zM199.5 152.2l2.8 -3.8a1.4 1.4 0 0 0 -2.8 -.3a1.4 1.4 0 0 0 -2.8 .3zM205 150.6l2.8 -3.8a1.4 1.4 0 0 0 -2.8 -.3a1.4 1.4 0 0 0 -2.8 .3zM210.5 150.6l2.8 -3.8a1.4 1.4 0 0 0 -2.8 -.3a1.4 1.4 0 0 0 -2.8 .3zM216 150.6l2.8 -3.8a1.4 1.4 0 0 0 -2.8 -.3a1.4 1.4 0 0 0 -2.8 .3zM221.5 150.7l2.8 -3.8a1.4 1.4 0 0 0 -2.8 -.3a1.4 1.4 0 0 0 -2.8 .3zM227 150.8l2.8 -3.8a1.4 1.4 0 0 0 -2.8 -.3a1.4 1.4 0 0 0 -2.8 .3zM232.5 150.9l2.8 -3.8a1.4 1.4 0 0 0 -2.8 -.3a1.4 1.4 0 0 0 -2.8 .3zM238 151l2.8 -3.8a1.4 1.4 0 0 0 -2.8 -.3a1.4 1.4 0 0 0 -2.8 .3zM243.5 151.1l2.8 -3.8a1.4 1.4 0 0 0 -2.8 -.3a1.4 1.4 0 0 0 -2.8 .3zM249 151.2l2.8 -3.8a1.4 1.4 0 0 0 -2.8 -.3a1.4 1.4 0 0 0 -2.8 .3zM254.5 151.4l2.8 -3.8a1.4 1.4 0 0 0 -2.8 -.3a1.4 1.4 0 0 0 -2.8 .3zM260 151.4l2.8 -3.8a1.4 1.4 0 0 0 -2.8 -.3a1.4 1.4 0 0 0 -2.8 .3z" fill="#1a1aff"/>
<path d="M42 263.5l1.6 -.5l1.5 -.5l1.6 -.4l1.6 -.5l1.6 -.5l1.5 -.5l1.6 -.6l1.5 -.6l1.5 -.6l1.5 -.7l1.5 -.8l1.5 -.7l1.5 -.8l1.6 -.9l1.5 -1l1.6 -1l1.6 -1l1.6 -1.1l1.5 -.9l1.6 -.9l1.6 -.8l1.5 -.7l1.6 -.8l1.6 -.7l1.6 -.6l1.5 -.7l1.6 -.7l1.6 -.7l1.5 -.6l1.6 -.7l1.6 -.6l1.6 -.7l1.5 -.7l1.6 -.7l1.8 -.9l1.9 -.9l1.8 -1l1.8 -.9l1.8 -.9l1.8 -1l1.8 -.9l1.8 -.8l1.8 -.8l1.9 -.8l1.8 -.7l1.8 -.6l1.8 -.5l1.8 -.4l1.8 -.3l1.8 -.3l1.9 -.2l1.8 -.3l1.9 -.1l1.8 -.1l1.8 0l1.8 .1l1.8 .1l1.8 .1l1.9 .2l1.8 .2l1.9 .3l1.8 .3l1.8 .3l1.7 .3l1.8 .4l1.7 .4l1.5 .4l1.5 .5l1.5 .4l1.5 .6l1.5 .5l1.8 .7l1.8 .7l1.8 .7l1.8 .8l1.8 .8l1.8 .7l1.9 .8l1.8 .9l1.6 .9l1.6 1l1.6 1l1.6 1l1.6 .9l1.6 .8l1.5 .8l1.6 .7l1.6 .8l1.6 .7l1.5 .8l1.6 .9l1.6 1l1.7 1.2l1.6 1.2l1.7 1l2.2 1.3l2.2 .9l1.7 .2l1.6 .2l1.7 .2l1.7 .1l1.6 .1l1.7 0l1.5 0l1.5 0l1.5 .1l1.5 -0l1.5 -0l1.5 0l1.5 0l1.5 0l1.5 0l1.5 .1l1.5 -0l1.5 -0l1.5 -0l1.5 -0l1.5 -0l1.5 0l1.5 0l1.5 0l1.5 0l1.5 0l1.5 0l1.5 0l1.5 0l1.5 .1l1.5 -0l1.5 -0l1.5 -0l1.5 -0l1.5 -0l1.5 0" fill="none" stroke="#19e619" stroke-width="1.6" stroke-linejoin="round"/>
<path d="M42 263.5h0M47.5 261.8h0M53 260h0M58.5 257.6h0M64 254.7h0M69.5 251.1h0M75 248h0M80.5 245.5h0M86 243.1h0M91.5 240.8h0M97.1 238.3h0M102.8 235.3h0M108.5 232.5h0M114.2 230h0M119.9 228.3h0M125.6 227.4h0M131.4 226.9h0M137.1 227.1h0M142.8 227.7h0M148.5 228.6h0M154 229.9h0M159.5 231.6h0M165.1 233.8h0M170.8 236.2h0M176.5 238.9h0M182 242.3h0M187.5 245.1h0M193 247.8h0M198.6 251.5h0M203.9 254.7h0M209.5 255.5h0M215 255.8h0M220.5 255.9h0M226 255.9h0M231.5 256h0M237 256h0M242.5 256h0M248 256h0M253.5 256.1h0M259 256.1h0" stroke="#19e619" stroke-width="4" stroke-linecap="round"/>
<path d="M39.2 263.5h5.5M42 260.8v5.5M44.8 261.8h5.5M47.5 259.1v5.5M50.2 260h5.5M53 257.2v5.5M55.8 257.6h5.5M58.5 254.8v5.5M61.2 254.7h5.5M64 251.9v5.5M66.8 251.1h5.5M69.5 248.3v5.5M72.2 248h5.5M75 245.2v5.5M77.8 245.5h5.5M80.5 242.8v5.5M83.2 243.1h5.5M86 240.4v5.5M88.8 240.8h5.5M91.5 238.1v5.5M94.3 238.3h5.5M97.1 235.5v5.5M100.1 235.3h5.5M102.8 232.6v5.5M105.7 232.5h5.5M108.5 229.7v5.5M111.4 230h5.5M114.2 227.2v5.5M117.1 228.3h5.5M119.9 225.6v5.5M122.8 227.4h5.5M125.6 224.6v5.5M128.7 226.9h5.5M131.4 224.2v5.5M134.3 227.1h5.5M137.1 224.4v5.5M140.1 227.7h5.5M142.8 224.9v5.5M145.8 228.6h5.5M148.5 225.9v5.5M151.2 229.9h5.5M154 227.1v5.5M156.8 231.6h5.5M159.5 228.9v5.5M162.4 233.8h5.5M165.1 231.1v5.5M168.1 236.2h5.5M170.8 233.5v5.5M173.8 238.9h5.5M176.5 236.2v5.5M179.2 242.3h5.5M182 239.6v5.5M184.8 245.1h5.5M187.5 242.4v5.5M190.2 247.8h5.5M193 245.1v5.5M195.8 251.5h5.5M198.6 248.8v5.5M201.2 254.7h5.5M203.9 251.9v5.5M206.8 255.5h5.5M209.5 252.8v5.5M212.2 255.8h5.5M215 253.1v5.5M217.8 255.9h5.5M220.5 253.1v5.5M223.2 255.9h5.5M226 253.2v5.5M228.8 256h5.5M231.5 253.2v5.5M234.2 256h5.5M237 253.2v5.5M239.8 256h5.5M242.5 253.3v5.5M245.2 256h5.5M248 253.3v5.5M250.8 256.1h5.5M253.5 253.3v5.5M256.2 256.1h5.5M259 253.3v5.5" stroke="#19e619" stroke-width="1.5"/>
<path d="M42 264l1.5 -0l1.6 -.1l1.5 -0l1.6 -0l1.5 -.1l1.5 -0l1.6 -.1l1.5 0l1.5 -0l1.6 -.1l1.5 -0l1.6 -.1l1.5 0l1.6 -.1l1.5 -0l1.6 -.1l1.6 -0l1.6 -.1l1.5 -.1l1.6 -0l1.6 -.1l1.5 -.1l1.6 -.1l1.6 -.1l1.6 -0l1.5 -.1l1.6 -.1l1.6 -.1l1.5 -.1l1.6 -.1l1.6 -.1l1.6 -.1l1.5 -.1l1.6 -.1l1.6 -.1l1.6 -.2l1.6 -.1l1.6 -.2l1.7 -.1l1.6 -.2l1.6 -.1l1.6 -.2l1.6 -.2l1.6 -.2l1.6 -.2l1.6 -.2l1.6 -.2l1.7 -.3l1.6 -.2l1.6 -.3l1.6 -.2l1.6 -.3l1.6 -.3l1.6 -.3l1.7 -.3l1.6 -.3l1.6 -.3l1.6 -.3l1.7 -.4l1.6 -.3l1.6 -.3l1.6 -.3l1.6 -.3l1.6 -.3l1.6 -.3l1.6 -.3l1.6 -.3l1.6 -.3l1.6 -.3l1.6 -.3l1.6 -.3l1.7 -.3l1.6 -.3l1.6 -.3l1.7 -.3l1.6 -.3l1.6 -.2l1.7 -.3l1.6 -.3l1.8 -.3l1.9 -.3l1.8 -.3l1.8 -.3l1.6 -.4l1.6 -.4l1.6 -.4l1.6 -.4l1.6 -.4l1.6 -.3l1.5 -.3l1.6 -.3l1.6 -.2l1.6 -.2l1.5 -.2l1.6 -.2l1.6 -.2l1.5 -.1l1.6 -.2l1.6 -.1l1.6 -.1l1.5 -.1l1.6 0l1.5 -0l1.6 -0l1.5 -0l1.5 -0l1.5 -0l1.6 -0l1.5 -0l1.5 -0l1.6 -0l1.5 -0l1.5 -.1l1.5 0l1.6 0l1.5 0l1.5 0l1.5 0l1.6 0l1.5 0l1.5 0l1.6 0l1.5 0l1.5 0l1.5 0l1.6 0l1.5 0l1.5 0l1.6 0l1.5 0l1.5 0l1.5 0l1.6 0l1.5 0l1.5 0l1.5 0l1.6 0l1.5 0" fill="none" stroke="#991a99" stroke-width="1.6" stroke-linejoin="round"/>
<path d="M39.9 264h4.1M45.4 263.9h4.1M50.9 263.7h4.1M56.4 263.6h4.1M61.9 263.4h4.1M67.4 263.2h4.1M72.9 263h4.1M78.4 262.7h4.1M83.9 262.4h4.1M89.4 262.1h4.1M94.9 261.6h4.1M100.4 261.1h4.1M105.9 260.6h4.1M111.4 259.9h4.1M116.9 259.1h4.1M122.4 258.2h4.1M128 257.2h4.1M133.5 256.1h4.1M139.1 255h4.1M144.8 253.9h4.1M150.4 252.9h4.1M156 251.9h4.1M161.6 250.9h4.1M167.2 249.9h4.1M172.9 249h4.1M178.4 247.6h4.1M183.9 246.4h4.1M189.4 245.6h4.1M194.9 245h4.1M200.4 244.6h4.1M205.9 244.5h4.1M211.4 244.5h4.1M216.9 244.5h4.1M222.4 244.4h4.1M227.9 244.4h4.1M233.4 244.4h4.1M238.9 244.4h4.1M244.4 244.4h4.1M249.9 244.4h4.1M255.4 244.4h4.1" stroke="#991a99" stroke-width="4.7"/>
<path d="M42 264l1.7 .1l1.6 .2l1.7 .1l1.7 .1l1.6 .2l1.7 .1l1.5 .1l1.5 .2l1.5 .1l1.5 .2l1.5 .1l1.5 .2l1.5 .1l1.5 .2l1.5 .1l1.5 .1l1.5 .2l1.5 .1l1.5 .2l1.5 .1l1.6 .1l1.5 .2l1.6 .1l1.6 .1l1.6 .2l1.5 .1l1.6 .1l1.6 .1l1.5 .2l1.6 .1l1.6 .1l1.6 .1l1.5 .1l1.6 .1l1.5 .1l1.5 .1l1.5 .1l1.5 .1l1.5 .1l1.5 .1l1.5 0l1.5 .1l1.5 .1l1.5 .1l1.5 0l1.5 .1l1.5 .1l1.5 -0l1.6 0l1.5 .1l1.6 0l1.6 .1l1.6 0l1.5 0l1.6 .1l1.6 0l1.5 0l1.6 .1l1.6 -0l1.6 -0l1.5 -0l1.6 -0l1.5 -0l1.5 -0l1.5 -0l1.5 -0l1.5 -.1l1.5 0l1.5 -0l1.5 -0l1.5 -.1l1.5 -0l1.6 -0l1.5 -.1l1.6 -0l1.6 -.1l1.6 -0l1.5 -.1l1.6 -0l1.6 -.1l1.5 -.1l1.6 -0l1.6 -.1l1.6 -.1l1.5 -0l1.6 -.1l1.6 -.1l1.6 -.1l1.6 -.1l1.5 -.1l1.6 -.1l1.6 -.1l1.6 -.1l1.6 -.1l1.6 -.1l1.5 -0l1.6 -.1l1.6 -0l1.8 .1l1.7 .2l1.8 .2l1.7 .1l1.5 -0l1.5 -0l1.5 -0l1.6 -0l1.5 -0l1.5 -0l1.5 -0l1.5 -0l1.5 -0l1.5 -0l1.5 -0l1.6 -0l1.5 -0l1.5 -0l1.5 -0l1.5 -0l1.5 -0l1.5 -0l1.5 -0l1.6 -0l1.5 -0l1.5 -0l1.5 -0l1.5 -0l1.5 -0l1.5 -0l1.5 -0l1.6 -0l1.5 -0l1.5 -0l1.5 -0l1.5 -0l1.5 -0l1.5 -0l1.5 -0l1.6 -0l1.5 -0l1.5 -0l1.5 -0" fill="none" stroke="#ff19ff" stroke-width="1.6" stroke-linejoin="round"/>
<path d="M42 266.5l2.5 -4.4h-5.1zM47.5 267l2.5 -4.4h-5.1zM53 267.4l2.5 -4.4h-5.1zM58.5 267.9l2.5 -4.4h-5.1zM64 268.5l2.5 -4.4h-5.1zM69.5 269l2.5 -4.4h-5.1zM75 269.5l2.5 -4.4h-5.1zM80.5 270l2.5 -4.4h-5.1zM86 270.4l2.5 -4.4h-5.1zM91.5 270.8l2.5 -4.4h-5.1zM97 271.2l2.5 -4.4h-5.1zM102.5 271.5l2.5 -4.4h-5.1zM108 271.8l2.5 -4.4h-5.1zM113.5 272.1l2.5 -4.4h-5.1zM119 272.2l2.5 -4.4h-5.1zM124.5 272.3l2.5 -4.4h-5.1zM130 272.5l2.5 -4.4h-5.1zM135.5 272.5l2.5 -4.4h-5.1zM141 272.5l2.5 -4.4h-5.1zM146.5 272.4l2.5 -4.4h-5.1zM152 272.3l2.5 -4.4h-5.1zM157.5 272.2l2.5 -4.4h-5.1zM163 272l2.5 -4.4h-5.1zM168.5 271.8l2.5 -4.4h-5.1zM174 271.6l2.5 -4.4h-5.1zM179.5 271.3l2.5 -4.4h-5.1zM185 270.9l2.5 -4.4h-5.1zM190.5 270.6l2.5 -4.4h-5.1zM196 270.6l2.5 -4.4h-5.1zM201.5 271.1l2.5 -4.4h-5.1zM207 271.1l2.5 -4.4h-5.1zM212.5 271.1l2.5 -4.4h-5.1zM218 271.1l2.5 -4.4h-5.1zM223.5 271.1l2.5 -4.4h-5.1zM229 271.1l2.5 -4.4h-5.1zM234.5 271.1l2.5 -4.4h-5.1zM240 271.1l2.5 -4.4h-5.1zM245.5 271.1l2.5 -4.4h-5.1zM251 271.1l2.5 -4.4h-5.1zM256.5 271.1l2.5 -4.4h-5.1z" fill="#ff19ff"/>
</g>
<text x="251" y="274.3" font-size="8" fill="#333" font-family='"Liberation Serif", serif' font-style="italic">r<tspan font-size="8" dx="0.3" dy="0.6">m</tspan></text>
<rect x="51.4" y="144.3" width="42.7" height="91.2" fill="#fff" fill-opacity="1" stroke="#444" stroke-width="0.9"/>
<rect x="56.3" y="151.11" width="4.59" height="4.59" fill="#000"/>
<text x="75" y="156.4" font-size="9.5" fill="#000" text-anchor="middle" font-family='"Liberation Serif", serif' font-weight="normal" font-style="italic">q</text>
<circle cx="58.6" cy="162.8" r="2.7" fill="#ff1a1a"/>
<text x="75" y="165.8" font-size="9.5" fill="#ff1a1a" text-anchor="middle" font-family='"Liberation Serif", serif' font-weight="normal" font-style="italic">m</text>
<path d="M58.6 168.9L61.3 173.62L55.9 173.62Z" fill="#8a8a8a"/>
<text x="75" y="173.6" font-size="5" fill="#bbb" text-anchor="middle" font-family='"Liberation Sans", sans-serif' font-weight="normal">r&#772; (P&#8201;-&#8201;M)</text>
<path d="M58.6 179.62L59.49 181.77L61.81 181.96L60.04 183.47L60.58 185.73L58.6 184.52L56.62 185.73L57.16 183.47L55.39 181.96L57.71 181.77Z" fill="#19f0f0"/>
<text x="75" y="186.5" font-size="9.5" fill="#19f0f0" text-anchor="middle" font-family='"Liberation Serif", serif' font-weight="normal" font-style="italic">c</text><text x="75" y="178" font-size="4.5" fill="#bbb" text-anchor="middle" font-family='"Liberation Sans", sans-serif' font-weight="normal">n</text>
<path d="M58.6 189.3L61.3 192L58.6 194.7L55.9 192Z" fill="#ff8c1a"/>
<text x="75" y="195" font-size="9.5" fill="#ff8c1a" text-anchor="middle" font-family='"Liberation Serif", serif' font-weight="normal" font-style="italic">σ&#8201;&#8728;q</text>
<path d="M58.6 203.3L61.3 199.52A1.35 1.35 0 0 0 58.6 199.25A1.35 1.35 0 0 0 55.9 199.52Z" fill="#1a1aff"/>
<text x="75" y="203.6" font-size="9.5" fill="#1a1aff" text-anchor="middle" font-family='"Liberation Serif", serif' font-style="italic">L<tspan font-size="7.03" dy="1.6">q</tspan></text>
<circle cx="58.6" cy="209.6" r="1.94" fill="#19e619"/><path d="M55.9 209.6H61.3M58.6 206.9V212.3" stroke="#19e619" stroke-width="1.49"/>
<text x="75" y="212.6" font-size="9.5" fill="#19e619" text-anchor="middle" font-family='"Liberation Serif", serif' font-style="italic">L<tspan font-size="7.03" dy="1.6">m</tspan></text>
<rect x="56.58" y="216.31" width="4.05" height="4.59" fill="#991a99"/>
<text x="75" y="222.1" font-size="9.5" fill="#991a99" text-anchor="middle" font-family='"Liberation Sans", sans-serif' font-weight="normal">10<tspan dy="0" font-family='Liberation Serif' font-style="italic">ϕ</tspan></text>
<path d="M58.6 230.1L61.3 225.38L55.9 225.38Z" fill="#ff19ff"/>
<text x="75" y="230.4" font-size="9.5" fill="#ff19ff" text-anchor="middle" font-family='"Liberation Serif", serif' font-weight="normal" font-style="italic">u</text>
<text x="256.7" y="160.3" font-size="8" fill="#222" text-anchor="middle" font-family='"Liberation Sans", sans-serif' font-weight="normal">g1</text>
</g>
<clipPath id="cg2"><rect x="271.6" y="141.6" width="273.4" height="139.4"/></clipPath>
<g clip-path="url(#cg2)">
<line x1="348.3" y1="141.6" x2="348.3" y2="281" stroke="#f1f1f1" stroke-width="0.9"/>
<line x1="388.8" y1="141.6" x2="388.8" y2="281" stroke="#f1f1f1" stroke-width="0.9"/>
<line x1="429.3" y1="141.6" x2="429.3" y2="281" stroke="#f1f1f1" stroke-width="0.9"/>
<line x1="469.5" y1="141.6" x2="469.5" y2="281" stroke="#f1f1f1" stroke-width="0.9"/>
<line x1="509.5" y1="141.6" x2="509.5" y2="281" stroke="#f1f1f1" stroke-width="0.9"/>
<line x1="309.6" y1="159.4" x2="545" y2="159.4" stroke="#f1f1f1" stroke-width="0.9"/>
<line x1="309.6" y1="183.6" x2="545" y2="183.6" stroke="#f1f1f1" stroke-width="0.9"/>
<line x1="309.6" y1="207.8" x2="545" y2="207.8" stroke="#f1f1f1" stroke-width="0.9"/>
<line x1="309.6" y1="232" x2="545" y2="232" stroke="#f1f1f1" stroke-width="0.9"/>
<line x1="309.6" y1="141.6" x2="309.6" y2="281" stroke="#d8d8d8" stroke-width="1"/>
<text x="305.8" y="162.3" font-size="8.2" fill="#262626" text-anchor="end" font-family='"Liberation Sans", sans-serif' font-weight="normal" letter-spacing="-0.3" stroke="#262626" stroke-width="0.12">80&#8201;000</text>
<text x="305.8" y="186.5" font-size="8.2" fill="#262626" text-anchor="end" font-family='"Liberation Sans", sans-serif' font-weight="normal" letter-spacing="-0.3" stroke="#262626" stroke-width="0.12">60&#8201;000</text>
<text x="305.8" y="210.7" font-size="8.2" fill="#262626" text-anchor="end" font-family='"Liberation Sans", sans-serif' font-weight="normal" letter-spacing="-0.3" stroke="#262626" stroke-width="0.12">40&#8201;000</text>
<text x="305.8" y="234.9" font-size="8.2" fill="#262626" text-anchor="end" font-family='"Liberation Sans", sans-serif' font-weight="normal" letter-spacing="-0.3" stroke="#262626" stroke-width="0.12">20&#8201;000</text>
<text x="305.8" y="259.3" font-size="8.2" fill="#262626" text-anchor="end" font-family='"Liberation Sans", sans-serif' font-weight="normal" letter-spacing="-0.3" stroke="#262626" stroke-width="0.12">0</text>
<line x1="313" y1="141.6" x2="313" y2="281" stroke="#111" stroke-width="1.3" stroke-dasharray="2.0 4.6" stroke-dashoffset="4.3"/>
<text x="348.3" y="266.3" font-size="8.2" fill="#262626" text-anchor="middle" font-family='"Liberation Sans", sans-serif' font-weight="normal" letter-spacing="-0.3" stroke="#262626" stroke-width="0.12">0.5</text>
<text x="388.8" y="266.3" font-size="8.2" fill="#262626" text-anchor="middle" font-family='"Liberation Sans", sans-serif' font-weight="normal" letter-spacing="-0.3" stroke="#262626" stroke-width="0.12">1.0</text>
<text x="429.3" y="266.3" font-size="8.2" fill="#262626" text-anchor="middle" font-family='"Liberation Sans", sans-serif' font-weight="normal" letter-spacing="-0.3" stroke="#262626" stroke-width="0.12">1.5</text>
<text x="469.5" y="266.3" font-size="8.2" fill="#262626" text-anchor="middle" font-family='"Liberation Sans", sans-serif' font-weight="normal" letter-spacing="-0.3" stroke="#262626" stroke-width="0.12">2.0</text>
<text x="509.5" y="266.3" font-size="8.2" fill="#262626" text-anchor="middle" font-family='"Liberation Sans", sans-serif' font-weight="normal" letter-spacing="-0.3" stroke="#262626" stroke-width="0.12">2.5</text>
<clipPath id="ccg2"><rect x="309.6" y="141.6" width="235.4" height="139.4"/></clipPath><g clip-path="url(#ccg2)">
<path d="M309 238.4l1.6 -.2l1.5 -.2l1.6 -.2l1.6 -.2l1.6 -.2l1.5 -.2l1.6 -.2l1.6 -.2l1.5 -.2l1.6 -.2l1.6 -.2l1.6 -.2l1.5 -.2l1.6 -.2l1.5 -.2l1.6 -.2l1.5 -.2l1.6 -.2l1.5 -.2l1.5 -.2l1.6 -.2l1.5 -.2l1.5 -.2l1.6 -.2l1.5 -.2l1.6 -.2l1.5 -.2l1.5 -.2l1.6 -.2l1.5 -.3l1.6 -.2l1.5 -.3l1.5 -.2l1.6 -.3l1.5 -.2l1.5 -.2l1.6 -.2l1.5 -.1l1.6 -.1l1.5 -0l1.7 -0l1.6 -0l1.7 -0l1.6 -0l1.7 -0l1.6 -.1l1.7 -0l1.6 -.1l1.6 0l1.7 -0l1.6 -.1l1.7 0l1.6 -0l1.6 .1l1.6 .2l1.7 .2l1.6 .4l1.6 .3l1.6 .4l1.7 .4l1.6 .5l1.7 .6l1.6 .5l1.7 .6l1.6 .6l1.7 .6l1.6 .6l1.7 .6l1.6 .6l1.6 .5l1.7 .6l1.6 .6l1.6 .5l1.6 .5l1.7 .6l1.6 .5l1.7 .5l1.6 .6l1.6 .6l1.7 .6l1.6 .6l1.7 .6l1.6 .6l1.6 .6l1.6 .6l1.7 .6l1.6 .5l1.6 .6l1.6 .6l1.7 .6l1.6 .6l1.7 .5l1.6 .5l1.6 .4l1.6 .4l1.6 .3l1.6 .5l1.6 .7l1.7 1l1.6 .8l1.4 .7l1.5 .4l1.5 -0l1.5 -0l1.5 -0l1.5 -0l1.5 -0l1.5 -0l1.5 -0l1.5 -0l1.5 -0l1.5 -0l1.5 -0l1.5 -0l1.5 -0l1.5 -0l1.5 -0l1.5 -0l1.5 -0l1.5 -0l1.5 -0l1.5 -0l1.5 -0l1.5 -0l1.5 -0l1.5 -0l1.5 -0l1.5 -0l1.5 -0l1.5 -0l1.5 -0l1.5 -0l1.5 -0l1.5 -0l1.5 -0l1.5 -0l1.5 -0l1.5 -0l1.5 -0l1.5 -0l1.5 -0l1.5 -0" fill="none" stroke="#000" stroke-width="1.6" stroke-linejoin="round"/>
<path d="M307.6 237.3h2.7v2.7h-2.7zM312.6 236.7h2.7v2.7h-2.7zM317.6 236.1h2.7v2.7h-2.7zM322.6 235.4h2.7v2.7h-2.7zM327.6 234.8h2.7v2.7h-2.7zM332.6 234.2h2.7v2.7h-2.7zM337.6 233.5h2.7v2.7h-2.7zM342.6 232.8h2.7v2.7h-2.7zM347.6 232.2h2.7v2.7h-2.7zM352.6 231.5h2.7v2.7h-2.7zM357.6 230.7h2.7v2.7h-2.7zM362.6 229.9h2.7v2.7h-2.7zM367.6 229.5h2.7v2.7h-2.7zM372.6 229.4h2.7v2.7h-2.7zM377.7 229.4h2.7v2.7h-2.7zM382.8 229.3h2.7v2.7h-2.7zM388 229.2h2.7v2.7h-2.7zM393.1 229.3h2.7v2.7h-2.7zM398.1 230.1h2.7v2.7h-2.7zM403.2 231.4h2.7v2.7h-2.7zM408.4 233.1h2.7v2.7h-2.7zM413.6 235h2.7v2.7h-2.7zM418.7 236.8h2.7v2.7h-2.7zM423.7 238.5h2.7v2.7h-2.7zM428.9 240.2h2.7v2.7h-2.7zM434 242h2.7v2.7h-2.7zM439.1 243.9h2.7v2.7h-2.7zM444.2 245.7h2.7v2.7h-2.7zM449.3 247.5h2.7v2.7h-2.7zM454.4 249.3h2.7v2.7h-2.7zM459.6 250.7h2.7v2.7h-2.7zM464.5 252.3h2.7v2.7h-2.7zM469.5 254.9h2.7v2.7h-2.7zM474.6 255.1h2.7v2.7h-2.7zM479.6 255.1h2.7v2.7h-2.7zM484.6 255.1h2.7v2.7h-2.7zM489.6 255.1h2.7v2.7h-2.7zM494.6 255.1h2.7v2.7h-2.7zM499.6 255.1h2.7v2.7h-2.7zM504.6 255.1h2.7v2.7h-2.7zM509.6 255.1h2.7v2.7h-2.7zM514.6 255.1h2.7v2.7h-2.7zM519.6 255.1h2.7v2.7h-2.7zM524.6 255.1h2.7v2.7h-2.7zM529.6 255.1h2.7v2.7h-2.7z" fill="none" stroke="#444" stroke-width="0.8"/>
<path d="M309 241l1.6 .3l1.5 .3l1.6 .3l1.6 .2l1.6 .3l1.5 .3l1.6 .3l1.6 .3l1.5 .2l1.6 .3l1.6 .3l1.6 .3l1.5 .3l1.6 .3l1.5 .3l1.6 .3l1.5 .3l1.6 .4l1.5 .3l1.5 .3l1.6 .3l1.5 .4l1.5 .3l1.6 .3l1.5 .3l1.6 .2l1.5 .3l1.5 .2l1.6 .2l1.5 .2l1.6 .2l1.5 .2l1.5 .2l1.6 .2l1.5 .1l1.5 .2l1.6 .2l1.5 .2l1.6 .3l1.5 .2l1.7 .3l1.6 .4l1.7 .3l1.6 .3l1.7 .2l1.6 .3l1.7 .3l1.6 .2l1.6 .2l1.7 .2l1.6 .2l1.7 .2l1.6 .1l1.6 .1l1.7 .1l1.6 .1l1.6 .1l1.6 .1l1.7 .1l1.6 .1l1.6 0l1.7 .1l1.6 -0l1.5 0l1.5 0l1.5 0l1.5 .1l1.5 -0l1.5 -0l1.6 -0l1.5 0l1.5 0l1.5 0l1.5 0l1.5 0l1.5 .1l1.5 -0l1.5 -0l1.5 -0l1.5 -0l1.5 -0l1.5 -0l1.6 0l1.5 0l1.5 0l1.5 0l1.5 0l1.5 0l1.5 0l1.5 0l1.5 0l1.5 0l1.5 .1l1.5 -0l1.6 -0l1.5 -0l1.5 -0l1.5 -0l1.5 -0l1.5 -0l1.5 -0l1.5 0l1.5 0l1.5 0l1.5 0l1.5 0l1.5 0l1.5 .1l1.5 -0l1.5 -0l1.5 -0l1.5 -0l1.5 -0l1.5 -0l1.5 -0l1.5 0l1.5 0l1.5 0l1.5 0l1.5 0l1.5 0l1.5 0l1.5 .1l1.5 -0l1.5 -0l1.5 -0l1.5 -0l1.5 -0l1.5 -0l1.5 -0l1.5 0l1.5 0l1.5 0l1.5 0l1.5 0l1.5 0l1.5 0l1.5 .1l1.5 -0l1.5 -0l1.5 -0l1.5 -0l1.5 -0l1.5 -0l1.5 -0" fill="none" stroke="#ff1a1a" stroke-width="1.6" stroke-linejoin="round"/>
<path d="M307.1 242.8a1.9 1.9 0 1 0 3.8 0a1.9 1.9 0 1 0 -3.8 0M312.1 243.7a1.9 1.9 0 1 0 3.8 0a1.9 1.9 0 1 0 -3.8 0M317.1 244.6a1.9 1.9 0 1 0 3.8 0a1.9 1.9 0 1 0 -3.8 0M322.1 245.5a1.9 1.9 0 1 0 3.8 0a1.9 1.9 0 1 0 -3.8 0M327.1 246.4a1.9 1.9 0 1 0 3.8 0a1.9 1.9 0 1 0 -3.8 0M332.1 247.4a1.9 1.9 0 1 0 3.8 0a1.9 1.9 0 1 0 -3.8 0M337.1 248.5a1.9 1.9 0 1 0 3.8 0a1.9 1.9 0 1 0 -3.8 0M342.1 249.5a1.9 1.9 0 1 0 3.8 0a1.9 1.9 0 1 0 -3.8 0M347.1 250.5a1.9 1.9 0 1 0 3.8 0a1.9 1.9 0 1 0 -3.8 0M352.1 251.2a1.9 1.9 0 1 0 3.8 0a1.9 1.9 0 1 0 -3.8 0M357.1 251.9a1.9 1.9 0 1 0 3.8 0a1.9 1.9 0 1 0 -3.8 0M362.1 252.4a1.9 1.9 0 1 0 3.8 0a1.9 1.9 0 1 0 -3.8 0M367.1 253.1a1.9 1.9 0 1 0 3.8 0a1.9 1.9 0 1 0 -3.8 0M372.1 254a1.9 1.9 0 1 0 3.8 0a1.9 1.9 0 1 0 -3.8 0M377.2 254.9a1.9 1.9 0 1 0 3.8 0a1.9 1.9 0 1 0 -3.8 0M382.3 255.7a1.9 1.9 0 1 0 3.8 0a1.9 1.9 0 1 0 -3.8 0M387.4 256.3a1.9 1.9 0 1 0 3.8 0a1.9 1.9 0 1 0 -3.8 0M392.5 256.7a1.9 1.9 0 1 0 3.8 0a1.9 1.9 0 1 0 -3.8 0M397.6 257.1a1.9 1.9 0 1 0 3.8 0a1.9 1.9 0 1 0 -3.8 0M402.7 257.3a1.9 1.9 0 1 0 3.8 0a1.9 1.9 0 1 0 -3.8 0M407.8 257.4a1.9 1.9 0 1 0 3.8 0a1.9 1.9 0 1 0 -3.8 0M412.8 257.5a1.9 1.9 0 1 0 3.8 0a1.9 1.9 0 1 0 -3.8 0M417.9 257.5a1.9 1.9 0 1 0 3.8 0a1.9 1.9 0 1 0 -3.8 0M422.9 257.5a1.9 1.9 0 1 0 3.8 0a1.9 1.9 0 1 0 -3.8 0M427.9 257.6a1.9 1.9 0 1 0 3.8 0a1.9 1.9 0 1 0 -3.8 0M432.9 257.6a1.9 1.9 0 1 0 3.8 0a1.9 1.9 0 1 0 -3.8 0M438 257.6a1.9 1.9 0 1 0 3.8 0a1.9 1.9 0 1 0 -3.8 0M443 257.6a1.9 1.9 0 1 0 3.8 0a1.9 1.9 0 1 0 -3.8 0M448 257.6a1.9 1.9 0 1 0 3.8 0a1.9 1.9 0 1 0 -3.8 0M453.1 257.7a1.9 1.9 0 1 0 3.8 0a1.9 1.9 0 1 0 -3.8 0M458.1 257.7a1.9 1.9 0 1 0 3.8 0a1.9 1.9 0 1 0 -3.8 0M463.1 257.7a1.9 1.9 0 1 0 3.8 0a1.9 1.9 0 1 0 -3.8 0M468.1 257.7a1.9 1.9 0 1 0 3.8 0a1.9 1.9 0 1 0 -3.8 0M473.1 257.7a1.9 1.9 0 1 0 3.8 0a1.9 1.9 0 1 0 -3.8 0M478.1 257.8a1.9 1.9 0 1 0 3.8 0a1.9 1.9 0 1 0 -3.8 0M483.1 257.8a1.9 1.9 0 1 0 3.8 0a1.9 1.9 0 1 0 -3.8 0M488.1 257.8a1.9 1.9 0 1 0 3.8 0a1.9 1.9 0 1 0 -3.8 0M493.1 257.8a1.9 1.9 0 1 0 3.8 0a1.9 1.9 0 1 0 -3.8 0M498.1 257.9a1.9 1.9 0 1 0 3.8 0a1.9 1.9 0 1 0 -3.8 0M503.1 257.9a1.9 1.9 0 1 0 3.8 0a1.9 1.9 0 1 0 -3.8 0M508.1 257.9a1.9 1.9 0 1 0 3.8 0a1.9 1.9 0 1 0 -3.8 0M513.1 257.9a1.9 1.9 0 1 0 3.8 0a1.9 1.9 0 1 0 -3.8 0M518.1 257.9a1.9 1.9 0 1 0 3.8 0a1.9 1.9 0 1 0 -3.8 0M523.1 258a1.9 1.9 0 1 0 3.8 0a1.9 1.9 0 1 0 -3.8 0M528.1 258a1.9 1.9 0 1 0 3.8 0a1.9 1.9 0 1 0 -3.8 0" fill="none" stroke="#ffc4c4" stroke-width="0.8"/>
<path d="M309 257l1.5 .2l1.5 .3l1.5 .2l1.5 .2l1.5 .2l1.5 .3l1.5 .3l1.5 .3l1.7 .5l1.6 .7l1.7 .8l1.7 .9l1.6 .9l1.7 .8l1.7 .7l1.6 .8l1.7 .7l1.7 .8l1.6 .7l1.7 .7l1.7 .7l1.6 .7l1.7 .7l1.7 .7l1.6 .7l1.7 .5l1.7 .5l1.6 .4l1.7 .5l1.7 .4l1.6 .3l1.7 .3l1.7 .3l1.6 .2l1.7 .3l1.7 .2l1.6 .1l1.7 .1l1.7 -0l1.6 -0l1.7 -.1l1.7 -0l1.6 -.1l1.7 -.1l1.6 -.1l1.7 -.3l1.6 -.3l1.6 -.3l1.6 -.4l1.7 -.4l1.6 -.4l1.6 -.4l1.7 -.3l1.6 -.4l1.6 -.4l1.6 -.4l1.7 -.4l1.6 -.4l1.6 -.5l1.7 -.4l1.6 -.5l1.6 -.5l1.7 -.6l1.6 -.6l1.7 -.6l1.6 -.6l1.6 -.7l1.7 -.6l1.6 -.5l1.7 -.5l1.6 -.5l1.6 -.4l1.7 -.4l1.6 -.3l1.7 -.4l1.6 -.2l1.6 -.2l1.7 -.2l1.6 -.1l1.7 -.2l1.6 -.1l1.5 -.1l1.5 -.1l1.5 -.2l1.5 -.1l1.5 -.1l1.5 -.1l1.5 -0l1.5 -.1l1.5 0l1.6 0l1.5 0l1.6 .1l1.6 0l1.6 .1l1.5 0l1.6 .1l1.5 .1l1.5 .3l1.5 .3l1.5 .4l1.5 .3l1.5 .3l1.5 .3l1.5 .2l1.6 .3l1.5 .2l1.5 .3l1.5 .2l1.6 .2l1.5 .2l1.5 .2l1.6 .2l1.7 .2l1.6 .2l1.6 .2l1.6 .1l1.7 .2l1.6 .2l1.6 .1l1.7 .1l1.6 .1l1.5 .1l1.5 0l1.5 .1l1.5 .1l1.5 0l1.5 .1l1.5 0l1.5 .1l1.5 0l1.5 .1l1.5 -0l1.5 0l1.5 .1l1.5 0l1.5 .1l1.5 0l1.5 .1l1.5 -0" fill="none" stroke="#777" stroke-width="1.6" stroke-linejoin="round"/>
<path d="M307.6 257.4h2.9v2.9h-2.9zM312.6 258.1h2.9v2.9h-2.9zM317.6 258.9h2.9v2.9h-2.9zM322.6 260.4h2.9v2.9h-2.9zM327.6 263h2.9v2.9h-2.9zM332.6 265.3h2.9v2.9h-2.9zM337.6 267.5h2.9v2.9h-2.9zM342.6 269.7h2.9v2.9h-2.9zM347.6 271.7h2.9v2.9h-2.9zM352.6 273.2h2.9v2.9h-2.9zM357.6 274.4h2.9v2.9h-2.9zM362.6 275.3h2.9v2.9h-2.9zM367.6 275.9h2.9v2.9h-2.9zM372.6 275.9h2.9v2.9h-2.9zM377.6 275.8h2.9v2.9h-2.9zM382.7 275.3h2.9v2.9h-2.9zM387.9 274.2h2.9v2.9h-2.9zM393 273h2.9v2.9h-2.9zM398.1 271.8h2.9v2.9h-2.9zM403.2 270.5h2.9v2.9h-2.9zM408.3 269h2.9v2.9h-2.9zM413.4 267.2h2.9v2.9h-2.9zM418.5 265.3h2.9v2.9h-2.9zM423.7 263.7h2.9v2.9h-2.9zM428.8 262.5h2.9v2.9h-2.9zM433.9 261.7h2.9v2.9h-2.9zM439 261.2h2.9v2.9h-2.9zM444.1 260.8h2.9v2.9h-2.9zM449.1 260.5h2.9v2.9h-2.9zM454.1 260.4h2.9v2.9h-2.9zM459.1 260.4h2.9v2.9h-2.9zM464.1 260.6h2.9v2.9h-2.9zM469.1 261.4h2.9v2.9h-2.9zM474.1 262.4h2.9v2.9h-2.9zM479.1 263.3h2.9v2.9h-2.9zM484.2 264.1h2.9v2.9h-2.9zM489.3 264.7h2.9v2.9h-2.9zM494.4 265.3h2.9v2.9h-2.9zM499.5 265.8h2.9v2.9h-2.9zM504.6 266.1h2.9v2.9h-2.9zM509.6 266.3h2.9v2.9h-2.9zM514.6 266.5h2.9v2.9h-2.9zM519.6 266.6h2.9v2.9h-2.9zM524.6 266.8h2.9v2.9h-2.9zM529.6 266.9h2.9v2.9h-2.9z" fill="none" stroke="#c4c4c4" stroke-width="0.8"/>
<path d="M309 239.6l1.6 .1l1.5 .1l1.6 .1l1.6 .1l1.6 .1l1.5 .1l1.6 .1l1.6 .1l1.5 .2l1.6 .1l1.6 .1l1.6 .1l1.5 .2l1.6 .1l1.5 .2l1.6 .1l1.5 .2l1.6 .2l1.5 .2l1.5 .3l1.6 .2l1.5 .2l1.5 .3l1.6 .2l1.5 .3l1.6 .2l1.5 .2l1.5 .2l1.6 .2l1.5 .2l1.6 .2l1.5 .2l1.5 .2l1.6 .1l1.5 .2l1.5 .3l1.6 .2l1.5 .2l1.6 .3l1.5 .3l1.7 .4l1.6 .5l1.7 .5l1.6 .5l1.7 .7l1.6 .6l1.7 .5l1.6 .5l1.6 .4l1.7 .3l1.6 .3l1.7 .3l1.6 .3l1.6 .3l1.6 .2l1.7 .3l1.6 .2l1.6 .2l1.6 .2l1.7 .3l1.6 .2l1.7 .2l1.6 .1l1.6 .1l1.7 .1l1.6 .1l1.7 0l1.6 .1l1.6 0l1.7 .1l1.6 0l1.7 .1l1.6 0l1.5 0l1.5 .1l1.5 -0l1.6 0l1.5 0l1.5 .1l1.5 -0l1.5 0l1.5 0l1.5 0l1.6 .1l1.5 -0l1.5 0l1.5 0l1.5 0l1.5 .1l1.6 -0l1.5 -0l1.5 0l1.5 0l1.5 0l1.5 0l1.5 .1l1.6 -0l1.5 -0l1.5 -0l1.5 0l1.5 0l1.5 0l1.5 0l1.5 0l1.5 0l1.5 .1l1.5 -0l1.5 -0l1.5 -0l1.5 -0l1.5 -0l1.5 0l1.5 0l1.5 0l1.5 0l1.5 0l1.5 0l1.5 0l1.5 .1l1.5 -0l1.5 -0l1.5 -0l1.5 -0l1.5 -0l1.5 -0l1.5 -0l1.5 -0l1.5 0l1.5 0l1.5 0l1.5 0l1.5 0l1.5 0l1.5 0l1.5 0l1.5 0l1.5 .1l1.5 -0l1.5 -0l1.5 -0l1.5 -0l1.5 -0l1.5 -0l1.5 0" fill="none" stroke="#ff8c1a" stroke-width="1.6" stroke-linejoin="round"/>
<path d="M307.4 240.2a1.6 1.6 0 1 0 3.2 0a1.6 1.6 0 1 0 -3.2 0M312.4 240.5a1.6 1.6 0 1 0 3.2 0a1.6 1.6 0 1 0 -3.2 0M317.4 240.9a1.6 1.6 0 1 0 3.2 0a1.6 1.6 0 1 0 -3.2 0M322.4 241.2a1.6 1.6 0 1 0 3.2 0a1.6 1.6 0 1 0 -3.2 0M327.4 241.6a1.6 1.6 0 1 0 3.2 0a1.6 1.6 0 1 0 -3.2 0M332.4 242.1a1.6 1.6 0 1 0 3.2 0a1.6 1.6 0 1 0 -3.2 0M337.4 242.8a1.6 1.6 0 1 0 3.2 0a1.6 1.6 0 1 0 -3.2 0M342.4 243.6a1.6 1.6 0 1 0 3.2 0a1.6 1.6 0 1 0 -3.2 0M347.4 244.3a1.6 1.6 0 1 0 3.2 0a1.6 1.6 0 1 0 -3.2 0M352.4 245a1.6 1.6 0 1 0 3.2 0a1.6 1.6 0 1 0 -3.2 0M357.4 245.6a1.6 1.6 0 1 0 3.2 0a1.6 1.6 0 1 0 -3.2 0M362.4 246.2a1.6 1.6 0 1 0 3.2 0a1.6 1.6 0 1 0 -3.2 0M367.4 247a1.6 1.6 0 1 0 3.2 0a1.6 1.6 0 1 0 -3.2 0M372.4 248.2a1.6 1.6 0 1 0 3.2 0a1.6 1.6 0 1 0 -3.2 0M377.5 249.9a1.6 1.6 0 1 0 3.2 0a1.6 1.6 0 1 0 -3.2 0M382.6 251.6a1.6 1.6 0 1 0 3.2 0a1.6 1.6 0 1 0 -3.2 0M387.8 252.7a1.6 1.6 0 1 0 3.2 0a1.6 1.6 0 1 0 -3.2 0M392.8 253.5a1.6 1.6 0 1 0 3.2 0a1.6 1.6 0 1 0 -3.2 0M397.9 254.3a1.6 1.6 0 1 0 3.2 0a1.6 1.6 0 1 0 -3.2 0M403 255a1.6 1.6 0 1 0 3.2 0a1.6 1.6 0 1 0 -3.2 0M408.1 255.5a1.6 1.6 0 1 0 3.2 0a1.6 1.6 0 1 0 -3.2 0M413.3 255.7a1.6 1.6 0 1 0 3.2 0a1.6 1.6 0 1 0 -3.2 0M418.4 255.9a1.6 1.6 0 1 0 3.2 0a1.6 1.6 0 1 0 -3.2 0M423.5 256a1.6 1.6 0 1 0 3.2 0a1.6 1.6 0 1 0 -3.2 0M428.6 256.1a1.6 1.6 0 1 0 3.2 0a1.6 1.6 0 1 0 -3.2 0M433.6 256.2a1.6 1.6 0 1 0 3.2 0a1.6 1.6 0 1 0 -3.2 0M438.7 256.2a1.6 1.6 0 1 0 3.2 0a1.6 1.6 0 1 0 -3.2 0M443.7 256.3a1.6 1.6 0 1 0 3.2 0a1.6 1.6 0 1 0 -3.2 0M448.8 256.4a1.6 1.6 0 1 0 3.2 0a1.6 1.6 0 1 0 -3.2 0M453.8 256.4a1.6 1.6 0 1 0 3.2 0a1.6 1.6 0 1 0 -3.2 0M458.9 256.5a1.6 1.6 0 1 0 3.2 0a1.6 1.6 0 1 0 -3.2 0M463.9 256.5a1.6 1.6 0 1 0 3.2 0a1.6 1.6 0 1 0 -3.2 0M468.9 256.5a1.6 1.6 0 1 0 3.2 0a1.6 1.6 0 1 0 -3.2 0M473.9 256.6a1.6 1.6 0 1 0 3.2 0a1.6 1.6 0 1 0 -3.2 0M478.9 256.6a1.6 1.6 0 1 0 3.2 0a1.6 1.6 0 1 0 -3.2 0M483.9 256.6a1.6 1.6 0 1 0 3.2 0a1.6 1.6 0 1 0 -3.2 0M488.9 256.6a1.6 1.6 0 1 0 3.2 0a1.6 1.6 0 1 0 -3.2 0M493.9 256.7a1.6 1.6 0 1 0 3.2 0a1.6 1.6 0 1 0 -3.2 0M498.9 256.7a1.6 1.6 0 1 0 3.2 0a1.6 1.6 0 1 0 -3.2 0M503.9 256.7a1.6 1.6 0 1 0 3.2 0a1.6 1.6 0 1 0 -3.2 0M508.9 256.7a1.6 1.6 0 1 0 3.2 0a1.6 1.6 0 1 0 -3.2 0M513.9 256.7a1.6 1.6 0 1 0 3.2 0a1.6 1.6 0 1 0 -3.2 0M518.9 256.8a1.6 1.6 0 1 0 3.2 0a1.6 1.6 0 1 0 -3.2 0M523.9 256.8a1.6 1.6 0 1 0 3.2 0a1.6 1.6 0 1 0 -3.2 0M528.9 256.8a1.6 1.6 0 1 0 3.2 0a1.6 1.6 0 1 0 -3.2 0" fill="none" stroke="#ffb060" stroke-width="0.8"/>
<path d="M463.5 255.9a2 2 0 1 0 4 0a2 2 0 1 0 -4 0M468.5 255.9a2 2 0 1 0 4 0a2 2 0 1 0 -4 0M473.5 256a2 2 0 1 0 4 0a2 2 0 1 0 -4 0M478.5 256a2 2 0 1 0 4 0a2 2 0 1 0 -4 0M483.5 256a2 2 0 1 0 4 0a2 2 0 1 0 -4 0M488.5 256a2 2 0 1 0 4 0a2 2 0 1 0 -4 0M493.5 256.1a2 2 0 1 0 4 0a2 2 0 1 0 -4 0M498.5 256.1a2 2 0 1 0 4 0a2 2 0 1 0 -4 0M503.5 256.1a2 2 0 1 0 4 0a2 2 0 1 0 -4 0M508.5 256.1a2 2 0 1 0 4 0a2 2 0 1 0 -4 0M513.5 256.1a2 2 0 1 0 4 0a2 2 0 1 0 -4 0M518.5 256.2a2 2 0 1 0 4 0a2 2 0 1 0 -4 0M523.5 256.2a2 2 0 1 0 4 0a2 2 0 1 0 -4 0M528.5 256.2a2 2 0 1 0 4 0a2 2 0 1 0 -4 0" fill="none" stroke="#e07030" stroke-width="1.1"/>
<path d="M309 237l1.6 -.2l1.5 -.2l1.6 -.2l1.6 -.3l1.6 -.2l1.5 -.2l1.6 -.2l1.6 -.2l1.5 -.3l1.6 -.2l1.6 -.2l1.6 -.2l1.5 -.2l1.6 -.2l1.5 -.2l1.6 -.2l1.5 -.2l1.6 -.2l1.5 -.2l1.5 -.2l1.6 -.2l1.5 -.2l1.5 -.1l1.6 -.2l1.5 -.2l1.6 -.1l1.5 -.2l1.5 -.1l1.6 -.2l1.5 -.1l1.6 -.2l1.5 -.1l1.5 -.1l1.6 -.2l1.5 -.1l1.5 -.1l1.6 -.1l1.5 -.1l1.6 -.1l1.5 -.1l1.6 -.1l1.7 -.1l1.6 -0l1.7 -.1l1.6 -.1l1.7 -0l1.6 -.1l1.7 -.1l1.6 -.1l1.7 -.2l1.6 -.2l1.7 -.2l1.6 -.1l1.6 -.1l1.7 -.1l1.6 -0l1.6 -.1l1.6 -.1l1.7 -0l1.6 -0l1.6 -.1l1.7 0l1.6 -0l1.6 0l1.7 0l1.6 .1l1.7 0l1.6 .1l1.6 0l1.7 .1l1.6 .1l1.7 0l1.6 .1l1.6 .1l1.7 .1l1.6 .1l1.7 .1l1.6 .1l1.6 .1l1.7 .1l1.6 .1l1.7 .2l1.6 .1l1.6 .1l1.7 .2l1.6 .1l1.6 .1l1.6 .2l1.7 .2l1.6 .1l1.6 .2l1.7 .3l1.6 .2l1.6 .3l1.6 .4l1.6 .4l1.6 .5l1.6 .6l1.6 .6l1.7 .6l1.6 .3l1.5 .1l1.5 0l1.5 .1l1.5 0l1.5 .1l1.5 0l1.5 0l1.5 .1l1.5 -0l1.5 -0l1.5 -0l1.5 -0l1.5 -0l1.6 -0l1.5 -0l1.6 -0l1.5 -.1l1.6 0l1.5 0l1.6 -0l1.5 -.1l1.6 0l1.5 -0l1.6 -.1l1.5 0l1.6 -0l1.5 -.1l1.6 -0l1.5 -.1l1.6 -0l1.5 -0l1.6 -.1l1.5 -0l1.6 -.1l1.5 -0l1.6 -.1l1.5 0l1.6 -0l1.5 -.1l1.6 -0" fill="none" stroke="#ff19ff" stroke-width="1.6" stroke-linejoin="round"/>
<path d="M309 240.7l1.7 -3h-3.4zM314 240l1.7 -3h-3.4zM319 239.3l1.7 -3h-3.4zM324 238.6l1.7 -3h-3.4zM329 238l1.7 -3h-3.4zM334 237.3l1.7 -3h-3.4zM339 236.7l1.7 -3h-3.4zM344 236.1l1.7 -3h-3.4zM349 235.5l1.7 -3h-3.4zM354 235l1.7 -3h-3.4zM359 234.6l1.7 -3h-3.4zM364 234.2l1.7 -3h-3.4zM369 233.8l1.7 -3h-3.4zM374 233.6l1.7 -3h-3.4zM379.1 233.4l1.7 -3h-3.4zM384.2 233.1l1.7 -3h-3.4zM389.3 232.6l1.7 -3h-3.4zM394.4 232.2l1.7 -3h-3.4zM399.5 232l1.7 -3h-3.4zM404.6 231.8l1.7 -3h-3.4zM409.7 231.8l1.7 -3h-3.4zM414.9 231.9l1.7 -3h-3.4zM420 232.1l1.7 -3h-3.4zM425.1 232.3l1.7 -3h-3.4zM430.2 232.6l1.7 -3h-3.4zM435.4 232.9l1.7 -3h-3.4zM440.5 233.3l1.7 -3h-3.4zM445.6 233.7l1.7 -3h-3.4zM450.7 234.2l1.7 -3h-3.4zM455.8 234.8l1.7 -3h-3.4zM461 235.8l1.7 -3h-3.4zM466.2 237.4l1.7 -3h-3.4zM471.2 238.8l1.7 -3h-3.4zM476.2 239l1.7 -3h-3.4zM481.2 239.1l1.7 -3h-3.4zM486.2 239.2l1.7 -3h-3.4zM491.2 239.2l1.7 -3h-3.4zM496.3 239.2l1.7 -3h-3.4zM501.3 239.1l1.7 -3h-3.4zM506.4 239l1.7 -3h-3.4zM511.4 238.8l1.7 -3h-3.4zM516.5 238.7l1.7 -3h-3.4zM521.5 238.6l1.7 -3h-3.4zM526.5 238.4l1.7 -3h-3.4zM531.6 238.3l1.7 -3h-3.4z" fill="none" stroke="#ffa6ff" stroke-width="0.7"/>
<path d="M309 255l1.6 -.2l1.5 -.2l1.6 -.3l1.6 -.2l1.6 -.2l1.5 -.3l1.6 -.3l1.7 -.4l1.6 -.5l1.7 -.5l1.7 -.6l1.6 -.6l1.7 -.7l1.6 -.7l1.5 -.7l1.6 -.8l1.6 -.8l1.6 -.9l1.5 -.9l1.6 -.8l1.6 -.8l1.5 -.9l1.6 -.8l1.6 -.9l1.6 -.9l1.5 -.8l1.6 -.9l1.5 -.8l1.6 -.9l1.5 -.8l1.5 -.9l1.5 -.9l1.6 -.8l1.5 -.9l1.6 -.9l1.5 -.9l1.6 -1l1.5 -.9l1.6 -.9l1.5 -1l1.6 -.9l1.6 -.9l1.5 -.9l1.6 -1l1.5 -.9l1.6 -.9l1.5 -.9l1.6 -1l1.5 -.9l1.5 -1l1.5 -1l1.5 -1l1.5 -1l1.5 -1.1l1.5 -1.1l1.5 -1.2l1.5 -1.2l1.5 -1.2l1.5 -1.2l1.5 -1.3l1.5 -1.2l1.5 -1.2l1.5 -1.3l1.5 -1.2l1.5 -1.2l1.5 -1.3l1.5 -1.3l1.5 -1.2l1.5 -1.3l1.5 -1.2l1.5 -1.3l1.5 -1.3l1.5 -1.2l1.5 -1.3l1.5 -1.2l1.5 -1.3l1.6 -1.2l1.5 -1.2l1.5 -1.3l1.6 -1.2l1.5 -1.2l1.6 -1.2l1.5 -1.2l1.5 -1.3l1.6 -1.2l1.5 -1.2l1.5 -1.3l1.6 -1.3l1.5 -1.3l1.6 -1.3l1.5 -1.3l1.5 -1.4l1.6 -1.4l1.5 -1.4l1.6 -1.5l1.5 -1.5l1.5 -1.4l1.6 -1.5l1.5 -1.5l1.6 -1.5l1.5 -1.4l1.5 -1.6l1.5 -1.8l1.5 -1.5l1.5 -.6l1.6 .6l1.6 1.7l1.5 2.2l1.6 2.6l1.6 2.4l1.6 2l1.6 1.6l1.7 1.6l1.6 1.4l1.7 1.4l1.6 1.4l1.7 1.4l1.6 1.4l1.7 1.3l1.6 1.3l1.7 1.2l1.6 1.1l1.6 1.1l1.6 1.1l1.6 1l1.6 1l1.7 .9l1.6 .9l1.7 .9l1.6 .9l1.7 .8l1.6 .8l1.7 .9l1.6 .8l1.7 .8l1.6 .8l1.5 .7l1.5 .6l1.5 .6l1.6 .6l1.5 .5l1.5 .6l1.5 .6" fill="none" stroke="#1fb01f" stroke-width="1.6" stroke-linejoin="round"/>
<path d="M307.7 256.8h2.6M309 255.5v2.6M312.7 256.1h2.6M314 254.8v2.6M317.7 255.3h2.6M319 254v2.6M322.7 254h2.6M324 252.7v2.6M327.7 252.2h2.6M329 250.9v2.6M332.7 250h2.6M334 248.7v2.6M337.7 247.3h2.6M339 246v2.6M342.7 244.6h2.6M344 243.3v2.6M347.2 242.1h2.6M348.5 240.8v2.6M351.7 239.6h2.6M353 238.3v2.6M356.3 237.1h2.6M357.6 235.8v2.6M360.9 234.5h2.6M362.2 233.2v2.6M365.6 231.8h2.6M366.9 230.5v2.6M370.2 228.9h2.6M371.5 227.6v2.6M374.9 226.2h2.6M376.2 224.9v2.6M379.6 223.4h2.6M380.9 222.1v2.6M384.2 220.6h2.6M385.5 219.3v2.6M388.7 217.7h2.6M390 216.4v2.6M393.2 214.5h2.6M394.5 213.2v2.6M397.7 210.9h2.6M399 209.6v2.6M402.2 207.2h2.6M403.5 205.9v2.6M406.7 203.5h2.6M408 202.2v2.6M410.7 200.2h2.6M412 198.9v2.6M414.7 196.8h2.6M416 195.5v2.6M418.7 193.5h2.6M420 192.2v2.6M422.7 190.1h2.6M424 188.8v2.6M427.2 186.4h2.6M428.5 185.1v2.6M431.7 182.8h2.6M433 181.5v2.6M436.3 179.3h2.6M437.6 178v2.6M440.8 175.6h2.6M442.1 174.3v2.6M444.8 172.3h2.6M446.1 171v2.6M448.8 168.8h2.6M450.1 167.5v2.6M452.9 165.1h2.6M454.2 163.8v2.6M457 161.2h2.6M458.3 159.9v2.6M461.1 157.2h2.6M462.4 155.9v2.6M465.2 153.2h2.6M466.5 151.9v2.6M469.2 149.4h2.6M470.5 148.1v2.6M473.7 152.7h2.6M475 151.4v2.6M476.7 157.4h2.6M478 156.1v2.6M480.2 161.8h2.6M481.5 160.5v2.6M484.3 165.6h2.6M485.6 164.3v2.6M488.4 169.1h2.6M489.7 167.8v2.6M492.6 172.5h2.6M493.9 171.2v2.6M497.2 175.9h2.6M498.5 174.6v2.6M501.7 178.9h2.6M503 177.6v2.6M506.3 181.6h2.6M507.6 180.3v2.6M511 184h2.6M512.3 182.7v2.6M515.6 186.4h2.6M516.9 185.1v2.6M520.2 188.6h2.6M521.5 187.3v2.6M525.2 190.7h2.6M526.5 189.4v2.6M530.3 192.6h2.6M531.6 191.3v2.6" stroke="#2cb02c" stroke-width="0.9"/>
</g>
<text x="521" y="266.2" font-size="8" fill="#333" font-family='"Liberation Serif", serif' font-style="italic">r<tspan font-size="8" dx="0.3" dy="0.6">m</tspan></text>
<rect x="319.6" y="145.4" width="67.7" height="61.6" fill="#fff" fill-opacity="1" stroke="#444" stroke-width="0.9"/>
<rect x="325.24" y="153.24" width="3.52" height="3.52" fill="none" stroke="#333" stroke-width="0.9"/>
<text x="355.6" y="158.1" font-size="8.6" fill="#000" text-anchor="middle" font-family='"Liberation Sans", sans-serif' font-weight="bold" font-style="italic">Q</text>
<circle cx="327" cy="164" r="2.97" fill="none" stroke="#ff1a1a" stroke-width="0.9"/>
<text x="355.6" y="167.1" font-size="8.6" fill="#ff1a1a" text-anchor="middle" font-family='"Liberation Sans", sans-serif' font-weight="bold" font-style="italic">M</text>
<path d="M327 170.5L329.5 174.88L324.5 174.88Z" fill="none" stroke="#aaa" stroke-width="0.9"/>
<text x="332.5" y="175.2" font-size="6.7" fill="#b0b0b0" text-anchor="start" font-family='"Liberation Sans", sans-serif' font-weight="normal">10 (1&#8201;-&#8201;γ)&#8201;(P&#8201;-&#8201;W)</text>
<circle cx="327" cy="181" r="1.95" fill="none" stroke="#ff8c1a" stroke-width="0.9"/>
<text x="355.6" y="184.1" font-size="8.6" fill="#ff8c1a" text-anchor="middle" font-family='"Liberation Sans", sans-serif' font-weight="bold" font-style="italic">G</text>
<path d="M327 191.2L329.6 186.65L324.4 186.65Z" fill="none" stroke="#ff19ff" stroke-width="0.9"/>
<text x="355.6" y="191.7" font-size="8.6" fill="#ff19ff" text-anchor="middle" font-family='"Liberation Sans", sans-serif' font-weight="bold" font-style="italic">U</text>
<path d="M324.8 197.4H329.2M327 195.2V199.6" stroke="#1fb01f" stroke-width="0.9"/>
<text x="354.6" y="200.7" font-size="9.2" fill="#22b822" text-anchor="middle" font-family='"Liberation Sans", sans-serif' font-weight="bold">10<tspan font-size="6" dy="-3.5">5</tspan><tspan dy="3.5" dx="0.6" font-family='Liberation Serif' font-style="italic" font-weight="normal" fill="#5cc85c">π</tspan></text>
<text x="528" y="151.2" font-size="8" fill="#222" text-anchor="middle" font-family='"Liberation Sans", sans-serif' font-weight="normal">g2</text>
</g>
<clipPath id="ch1"><rect x="5.5" y="282.1" width="265.0" height="139.89999999999998"/></clipPath>
<g clip-path="url(#ch1)">
<line x1="82.8" y1="282.1" x2="82.8" y2="422" stroke="#f1f1f1" stroke-width="0.9"/>
<line x1="130.2" y1="282.1" x2="130.2" y2="422" stroke="#f1f1f1" stroke-width="0.9"/>
<line x1="177.7" y1="282.1" x2="177.7" y2="422" stroke="#f1f1f1" stroke-width="0.9"/>
<line x1="225" y1="282.1" x2="225" y2="422" stroke="#f1f1f1" stroke-width="0.9"/>
<line x1="41.4" y1="297" x2="270.5" y2="297" stroke="#f1f1f1" stroke-width="0.9"/>
<line x1="41.4" y1="340.3" x2="270.5" y2="340.3" stroke="#f1f1f1" stroke-width="0.9"/>
<line x1="41.4" y1="383.6" x2="270.5" y2="383.6" stroke="#c4c4c4" stroke-width="0.8"/>
<line x1="41.4" y1="282.1" x2="41.4" y2="422" stroke="#d8d8d8" stroke-width="1"/>
<text x="37.8" y="299.9" font-size="8.2" fill="#262626" text-anchor="end" font-family='"Liberation Sans", sans-serif' font-weight="normal" letter-spacing="-0.3" stroke="#262626" stroke-width="0.12">10&#8201;000</text>
<text x="37.8" y="343.2" font-size="8.2" fill="#262626" text-anchor="end" font-family='"Liberation Sans", sans-serif' font-weight="normal" letter-spacing="-0.3" stroke="#262626" stroke-width="0.12">5000</text>
<text x="37.8" y="386.5" font-size="8.2" fill="#262626" text-anchor="end" font-family='"Liberation Sans", sans-serif' font-weight="normal" letter-spacing="-0.3" stroke="#262626" stroke-width="0.12">0</text>
<line x1="44.5" y1="282.1" x2="44.5" y2="422" stroke="#111" stroke-width="1.3" stroke-dasharray="2.0 4.6" stroke-dashoffset="4.3"/>
<text x="82.8" y="393.2" font-size="8.2" fill="#262626" text-anchor="middle" font-family='"Liberation Sans", sans-serif' font-weight="normal" letter-spacing="-0.3" stroke="#262626" stroke-width="0.12">5000</text>
<text x="130.2" y="393.2" font-size="8.2" fill="#262626" text-anchor="middle" font-family='"Liberation Sans", sans-serif' font-weight="normal" letter-spacing="-0.3" stroke="#262626" stroke-width="0.12">10&#8201;000</text>
<text x="177.7" y="393.2" font-size="8.2" fill="#262626" text-anchor="middle" font-family='"Liberation Sans", sans-serif' font-weight="normal" letter-spacing="-0.3" stroke="#262626" stroke-width="0.12">15&#8201;000</text>
<text x="225" y="393.2" font-size="8.2" fill="#262626" text-anchor="middle" font-family='"Liberation Sans", sans-serif' font-weight="normal" letter-spacing="-0.3" stroke="#262626" stroke-width="0.12">20&#8201;000</text>
<clipPath id="cch1"><rect x="41.4" y="282.1" width="229.1" height="139.89999999999998"/></clipPath><g clip-path="url(#cch1)">
<path d="M41.4 377.5l1.5 -.5l1.6 -.5l1.5 -.5l1.6 -.5l1.5 -.5l1.6 -.4l1.5 -.5l1.5 -.5l1.6 -.5l1.5 -.5l1.6 -.5l1.5 -.5l1.6 -.6l1.5 -.5l1.5 -.5l1.5 -.6l1.6 -.6l1.5 -.5l1.5 -.6l1.5 -.6l1.5 -.6l1.5 -.6l1.6 -.7l1.5 -.6l1.5 -.6l1.5 -.6l1.5 -.7l1.6 -.6l1.5 -.6l1.5 -.6l1.5 -.7l1.5 -.6l1.6 -.6l1.5 -.6l1.5 -.6l1.5 -.6l1.5 -.5l1.5 -.6l1.6 -.5l1.5 -.6l1.5 -.5l1.5 -.5l1.6 -.5l1.5 -.5l1.6 -.5l1.5 -.5l1.5 -.5l1.6 -.4l1.5 -.5l1.5 -.5l1.6 -.4l1.5 -.5l1.6 -.4l1.5 -.5l1.5 -.4l1.6 -.5l1.5 -.4l1.6 -.4l1.5 -.5l1.5 -.4l1.6 -.4l1.5 -.5l1.5 -.4l1.6 -.4l1.5 -.4l1.6 -.5l1.5 -.4l1.5 -.4l1.6 -.4l1.5 -.4l1.5 -.4l1.5 -.4l1.6 -.4l1.5 -.4l1.5 -.4l1.6 -.4l1.5 -.4l1.5 -.4l1.6 -.4l1.5 -.4l1.5 -.4l1.5 -.4l1.6 -.5l1.5 -.4l1.5 -.4l1.6 -.5l1.5 -.5l1.6 -.4l1.5 -.5l1.6 -.5l1.5 -.5l1.6 -.5l1.5 -.5l1.6 -.5l1.5 -.5l1.5 -.5l1.6 -.5l1.5 -.5l1.6 -.5l1.5 -.5l1.6 -.5l1.5 -.5l1.6 -.5l1.5 -.5l1.6 -.5l1.5 -.5l1.5 -.5l1.6 -.5l1.5 -.5l1.5 -.5l1.5 -.5l1.6 -.5l1.5 -.5l1.5 -.5l1.6 -.5l1.5 -.5l1.5 -.5l1.6 -.5l1.5 -.5l1.5 -.5l1.5 -.5l1.6 -.5l1.5 -.5l1.5 -.5l1.5 -.5l1.5 -.4l1.5 -.5l1.5 -.5l1.5 -.5l1.5 -.4l1.5 -.5l1.5 -.5l1.5 -.5l1.5 -.4l1.5 -.5l1.5 -.5l1.5 -.5l1.5 -.4l1.5 -.5l1.5 -.5l1.5 -.5l1.5 -.4l1.5 -.5" fill="none" stroke="#000" stroke-width="1.6" stroke-linejoin="round"/>
<path d="M39.5 377.5h3.7M45.1 375.7h3.7M50.6 374h3.7M56.1 372.2h3.7M61.6 370.3h3.7M67.1 368.3h3.7M72.6 366.1h3.7M78.1 363.9h3.7M83.6 361.6h3.7M89.1 359.4h3.7M94.6 357.2h3.7M100.1 355.2h3.7M105.6 353.3h3.7M111.1 351.6h3.7M116.6 349.9h3.7M122.1 348.3h3.7M127.6 346.7h3.7M133.1 345.2h3.7M138.6 343.7h3.7M144.1 342.2h3.7M149.6 340.7h3.7M155.1 339.3h3.7M160.6 337.9h3.7M166.1 336.4h3.7M171.6 334.8h3.7M177.1 333.1h3.7M182.6 331.4h3.7M188.1 329.6h3.7M193.6 327.8h3.7M199.1 326h3.7M204.6 324.2h3.7M210.1 322.4h3.7M215.6 320.6h3.7M221.1 318.8h3.7M226.6 317h3.7M232.1 315.2h3.7M237.6 313.5h3.7M243.1 311.7h3.7M248.6 310h3.7M254.1 308.3h3.7" stroke="#000" stroke-width="3.7"/>
<path d="M41.4 377.8l1.5 -.4l1.6 -.4l1.5 -.4l1.6 -.4l1.5 -.4l1.6 -.4l1.5 -.4l1.5 -.4l1.6 -.4l1.5 -.4l1.6 -.4l1.5 -.5l1.6 -.4l1.5 -.5l1.5 -.5l1.5 -.5l1.6 -.5l1.5 -.6l1.5 -.5l1.5 -.6l1.5 -.6l1.5 -.6l1.6 -.6l1.5 -.6l1.5 -.7l1.5 -.6l1.5 -.6l1.6 -.7l1.5 -.6l1.5 -.6l1.5 -.7l1.5 -.6l1.6 -.6l1.5 -.6l1.5 -.6l1.5 -.6l1.5 -.5l1.5 -.6l1.6 -.5l1.5 -.5l1.5 -.5l1.5 -.5l1.6 -.4l1.5 -.5l1.6 -.4l1.5 -.5l1.5 -.4l1.6 -.4l1.5 -.4l1.5 -.4l1.6 -.4l1.5 -.4l1.6 -.4l1.5 -.4l1.5 -.4l1.6 -.3l1.5 -.4l1.6 -.4l1.5 -.4l1.5 -.4l1.6 -.3l1.5 -.4l1.5 -.4l1.6 -.4l1.5 -.4l1.6 -.4l1.5 -.4l1.5 -.4l1.5 -.4l1.5 -.4l1.5 -.4l1.5 -.4l1.5 -.4l1.5 -.4l1.5 -.4l1.5 -.4l1.5 -.4l1.5 -.4l1.5 -.4l1.5 -.4l1.5 -.4l1.5 -.4l1.5 -.4l1.5 -.4l1.5 -.4l1.5 -.4l1.5 -.4l1.5 -.4l1.5 -.4l1.5 -.4l1.5 -.4l1.5 -.4l1.5 -.4l1.5 -.4l1.5 -.4l1.5 -.4l1.5 -.5l1.5 -.4l1.5 -.4l1.5 -.4l1.5 -.4l1.5 -.5l1.5 -.4l1.5 -.4l1.5 -.4l1.5 -.5l1.5 -.4l1.5 -.4l1.5 -.5l1.5 -.4l1.6 -.5l1.5 -.4l1.5 -.5l1.5 -.4l1.5 -.5l1.5 -.5l1.5 -.4l1.5 -.5l1.6 -.4l1.5 -.5l1.5 -.5l1.5 -.5l1.5 -.4l1.5 -.5l1.5 -.5l1.6 -.5l1.5 -.4l1.5 -.5l1.5 -.5l1.5 -.5l1.5 -.4l1.5 -.5l1.6 -.5l1.5 -.5l1.5 -.4l1.5 -.5l1.5 -.5l1.5 -.5l1.5 -.4l1.5 -.5l1.6 -.5l1.5 -.5l1.5 -.4l1.5 -.5" fill="none" stroke="#ff1a1a" stroke-width="1.6" stroke-linejoin="round"/>
<path d="M41.4 377.8h0M46.9 376.4h0M52.5 374.9h0M58 373.5h0M63.5 371.8h0M69 370h0M74.5 367.9h0M80 365.6h0M85.5 363.3h0M91 361h0M96.5 358.9h0M102 356.9h0M107.5 355.2h0M113 353.7h0M118.5 352.2h0M124 350.8h0M129.5 349.5h0M135 348.1h0M140.5 346.7h0M146 345.3h0M151.5 343.8h0M157 342.3h0M162.5 340.9h0M168 339.4h0M173.5 338h0M179 336.5h0M184.5 335h0M190 333.5h0M195.5 331.9h0M201 330.4h0M206.5 328.8h0M212 327.1h0M217.5 325.5h0M223 323.8h0M228.5 322.1h0M234 320.4h0M239.5 318.6h0M245 316.9h0M250.5 315.2h0M256 313.4h0" stroke="#ff1a1a" stroke-width="6.2" stroke-linecap="round"/>
<path d="M40.2 384.2l1.5 .2l1.6 .3l1.5 .2l1.5 .2l1.6 .3l1.5 .2l1.5 .2l1.6 .3l1.5 .2l1.5 .2l1.6 .2l1.5 .3l1.5 .2l1.6 .2l1.5 .3l1.5 .2l1.6 .2l1.5 .2l1.5 .3l1.6 .2l1.5 .2l1.5 .3l1.6 .2l1.5 .2l1.5 .3l1.6 .2l1.5 .2l1.5 .3l1.6 .2l1.5 .2l1.5 .3l1.6 .2l1.5 .2l1.5 .3l1.6 .2l1.5 .3l1.5 .2l1.6 .3l1.5 .2l1.5 .2l1.5 .3l1.5 .2l1.5 .3l1.6 .2l1.5 .3l1.5 .2l1.5 .3l1.5 .2l1.5 .3l1.5 .2l1.5 .3l1.6 .3l1.5 .2l1.5 .3l1.5 .2l1.5 .3l1.5 .2l1.5 .3l1.5 .3l1.6 .2l1.5 .3l1.5 .2l1.5 .3l1.5 .3l1.5 .2l1.5 .3l1.5 .3l1.6 .2l1.5 .3l1.5 .2l1.5 .3l1.5 .3l1.5 .2l1.5 .3l1.5 .2l1.6 .3l1.5 .2l1.5 .3l1.5 .2l1.5 .3l1.5 .3l1.5 .2l1.6 .3l1.5 .2l1.5 .3l1.5 .2l1.6 .3l1.5 .3l1.5 .2l1.5 .3l1.5 .2l1.6 .3l1.5 .2l1.5 .3l1.5 .3l1.6 .2l1.5 .3l1.5 .2l1.5 .3l1.5 .3l1.6 .2l1.5 .3l1.5 .2l1.5 .3l1.5 .2l1.6 .3l1.5 .2l1.5 .3l1.5 .2l1.6 .3l1.5 .2l1.5 .3l1.5 .2l1.5 .3l1.6 .2l1.5 .2l1.5 .3l1.5 .2l1.6 .2l1.5 .3l1.5 .2l1.5 .2l1.6 .3l1.5 .2l1.6 .2l1.5 .2l1.6 .3l1.5 .2l1.6 .2l1.5 .2l1.6 .2l1.5 .2l1.6 .3l1.5 .2l1.6 .2l1.5 .2l1.6 .2l1.5 .2l1.6 .2l1.5 .2l1.6 .3l1.5 .2l1.6 .2l1.5 .2" fill="none" stroke="#777" stroke-width="1.6" stroke-linejoin="round"/>
<path d="M38.5 385.8h3.5M44 386.6h3.5M49.5 387.5h3.5M55.1 388.3h3.5M60.6 389.1h3.5M66.1 390h3.5M71.6 390.8h3.5M77.2 391.6h3.5M82.7 392.5h3.5M88.2 393.3h3.5M93.7 394.2h3.5M99.3 395.1h3.5M104.8 396h3.5M110.3 396.9h3.5M115.8 397.8h3.5M121.3 398.7h3.5M126.8 399.7h3.5M132.3 400.6h3.5M137.8 401.6h3.5M143.3 402.5h3.5M148.8 403.5h3.5M154.3 404.4h3.5M159.8 405.3h3.5M165.3 406.2h3.5M170.8 407.2h3.5M176.4 408.1h3.5M181.9 409.1h3.5M187.4 410h3.5M193 410.9h3.5M198.5 411.9h3.5M204 412.8h3.5M209.6 413.7h3.5M215.1 414.5h3.5M220.7 415.4h3.5M226.2 416.2h3.5M231.7 417h3.5M237.2 417.8h3.5M242.7 418.6h3.5M248.2 419.3h3.5M253.8 420.1h3.5" stroke="#999" stroke-width="3.5"/>
<path d="M41.4 382.5l1.5 -.3l1.6 -.3l1.5 -.2l1.6 -.3l1.5 -.3l1.6 -.2l1.5 -.3l1.5 -.3l1.6 -.2l1.5 -.3l1.6 -.3l1.5 -.3l1.6 -.4l1.5 -.3l1.5 -.4l1.5 -.3l1.6 -.4l1.5 -.4l1.5 -.5l1.5 -.4l1.5 -.5l1.5 -.5l1.6 -.4l1.5 -.5l1.5 -.5l1.5 -.5l1.5 -.6l1.6 -.5l1.5 -.5l1.5 -.5l1.5 -.5l1.5 -.6l1.6 -.5l1.5 -.5l1.5 -.5l1.5 -.5l1.5 -.5l1.5 -.5l1.6 -.5l1.5 -.4l1.5 -.5l1.5 -.4l1.6 -.5l1.5 -.4l1.6 -.5l1.5 -.4l1.5 -.5l1.6 -.4l1.5 -.5l1.5 -.4l1.6 -.4l1.5 -.5l1.6 -.4l1.5 -.4l1.5 -.4l1.6 -.4l1.5 -.5l1.6 -.4l1.5 -.4l1.5 -.4l1.6 -.4l1.5 -.4l1.5 -.4l1.6 -.4l1.5 -.3l1.6 -.4l1.5 -.4l1.5 -.4l1.6 -.3l1.5 -.4l1.5 -.3l1.5 -.3l1.6 -.4l1.5 -.3l1.5 -.3l1.6 -.3l1.5 -.4l1.5 -.3l1.6 -.3l1.5 -.3l1.5 -.4l1.5 -.3l1.6 -.3l1.5 -.4l1.5 -.4l1.6 -.3l1.5 -.4l1.6 -.4l1.5 -.4l1.6 -.4l1.5 -.4l1.6 -.4l1.5 -.4l1.6 -.4l1.5 -.4l1.5 -.4l1.6 -.4l1.5 -.4l1.6 -.4l1.5 -.4l1.6 -.4l1.5 -.4l1.6 -.4l1.5 -.4l1.6 -.4l1.5 -.4l1.5 -.4l1.5 -.4l1.5 -.4l1.6 -.3l1.5 -.4l1.5 -.4l1.5 -.4l1.5 -.4l1.5 -.4l1.5 -.4l1.5 -.4l1.6 -.3l1.5 -.4l1.5 -.4l1.5 -.4l1.5 -.4l1.5 -.4l1.5 -.4l1.6 -.3l1.5 -.4l1.5 -.4l1.5 -.4l1.5 -.4l1.5 -.4l1.5 -.4l1.6 -.3l1.5 -.4l1.5 -.4l1.5 -.4l1.5 -.4l1.5 -.4l1.5 -.4l1.5 -.4l1.6 -.3l1.5 -.4l1.5 -.4l1.5 -.4" fill="none" stroke="#19f0f0" stroke-width="1.6" stroke-linejoin="round"/>
<path d="M41.4 379.5l.8 1.9l2 .2l-1.6 1.3l.5 2l-1.7 -1.1l-1.7 1.1l.5 -2l-1.6 -1.3l2 -.2zM46.9 378.6l.8 1.9l2 .2l-1.6 1.3l.5 2l-1.7 -1.1l-1.7 1.1l.5 -2l-1.6 -1.3l2 -.2zM52.5 377.6l.8 1.9l2 .2l-1.6 1.3l.5 2l-1.7 -1.1l-1.7 1.1l.5 -2l-1.6 -1.3l2 -.2zM58 376.6l.8 1.9l2 .2l-1.6 1.3l.5 2l-1.7 -1.1l-1.7 1.1l.5 -2l-1.6 -1.3l2 -.2zM63.5 375.4l.8 1.9l2 .2l-1.6 1.3l.5 2l-1.7 -1.1l-1.7 1.1l.5 -2l-1.6 -1.3l2 -.2zM69 374l.8 1.9l2 .2l-1.6 1.3l.5 2l-1.7 -1.1l-1.7 1.1l.5 -2l-1.6 -1.3l2 -.2zM74.5 372.4l.8 1.9l2 .2l-1.6 1.3l.5 2l-1.7 -1.1l-1.7 1.1l.5 -2l-1.6 -1.3l2 -.2zM80 370.6l.8 1.9l2 .2l-1.6 1.3l.5 2l-1.7 -1.1l-1.7 1.1l.5 -2l-1.6 -1.3l2 -.2zM85.5 368.7l.8 1.9l2 .2l-1.6 1.3l.5 2l-1.7 -1.1l-1.7 1.1l.5 -2l-1.6 -1.3l2 -.2zM91 366.8l.8 1.9l2 .2l-1.6 1.3l.5 2l-1.7 -1.1l-1.7 1.1l.5 -2l-1.6 -1.3l2 -.2zM96.5 365l.8 1.9l2 .2l-1.6 1.3l.5 2l-1.7 -1.1l-1.7 1.1l.5 -2l-1.6 -1.3l2 -.2zM102 363.2l.8 1.9l2 .2l-1.6 1.3l.5 2l-1.7 -1.1l-1.7 1.1l.5 -2l-1.6 -1.3l2 -.2zM107.5 361.6l.8 1.9l2 .2l-1.6 1.3l.5 2l-1.7 -1.1l-1.7 1.1l.5 -2l-1.6 -1.3l2 -.2zM113 360l.8 1.9l2 .2l-1.6 1.3l.5 2l-1.7 -1.1l-1.7 1.1l.5 -2l-1.6 -1.3l2 -.2zM118.5 358.5l.8 1.9l2 .2l-1.6 1.3l.5 2l-1.7 -1.1l-1.7 1.1l.5 -2l-1.6 -1.3l2 -.2zM124 356.9l.8 1.9l2 .2l-1.6 1.3l.5 2l-1.7 -1.1l-1.7 1.1l.5 -2l-1.6 -1.3l2 -.2zM129.5 355.4l.8 1.9l2 .2l-1.6 1.3l.5 2l-1.7 -1.1l-1.7 1.1l.5 -2l-1.6 -1.3l2 -.2zM135 354l.8 1.9l2 .2l-1.6 1.3l.5 2l-1.7 -1.1l-1.7 1.1l.5 -2l-1.6 -1.3l2 -.2zM140.5 352.6l.8 1.9l2 .2l-1.6 1.3l.5 2l-1.7 -1.1l-1.7 1.1l.5 -2l-1.6 -1.3l2 -.2zM146 351.3l.8 1.9l2 .2l-1.6 1.3l.5 2l-1.7 -1.1l-1.7 1.1l.5 -2l-1.6 -1.3l2 -.2zM151.5 350l.8 1.9l2 .2l-1.6 1.3l.5 2l-1.7 -1.1l-1.7 1.1l.5 -2l-1.6 -1.3l2 -.2zM157 348.9l.8 1.9l2 .2l-1.6 1.3l.5 2l-1.7 -1.1l-1.7 1.1l.5 -2l-1.6 -1.3l2 -.2zM162.5 347.7l.8 1.9l2 .2l-1.6 1.3l.5 2l-1.7 -1.1l-1.7 1.1l.5 -2l-1.6 -1.3l2 -.2zM168 346.5l.8 1.9l2 .2l-1.6 1.3l.5 2l-1.7 -1.1l-1.7 1.1l.5 -2l-1.6 -1.3l2 -.2zM173.5 345.2l.8 1.9l2 .2l-1.6 1.3l.5 2l-1.7 -1.1l-1.7 1.1l.5 -2l-1.6 -1.3l2 -.2zM179 343.8l.8 1.9l2 .2l-1.6 1.3l.5 2l-1.7 -1.1l-1.7 1.1l.5 -2l-1.6 -1.3l2 -.2zM184.5 342.4l.8 1.9l2 .2l-1.6 1.3l.5 2l-1.7 -1.1l-1.7 1.1l.5 -2l-1.6 -1.3l2 -.2zM190 341l.8 1.9l2 .2l-1.6 1.3l.5 2l-1.7 -1.1l-1.7 1.1l.5 -2l-1.6 -1.3l2 -.2zM195.5 339.5l.8 1.9l2 .2l-1.6 1.3l.5 2l-1.7 -1.1l-1.7 1.1l.5 -2l-1.6 -1.3l2 -.2zM201 338.1l.8 1.9l2 .2l-1.6 1.3l.5 2l-1.7 -1.1l-1.7 1.1l.5 -2l-1.6 -1.3l2 -.2zM206.5 336.7l.8 1.9l2 .2l-1.6 1.3l.5 2l-1.7 -1.1l-1.7 1.1l.5 -2l-1.6 -1.3l2 -.2zM212 335.3l.8 1.9l2 .2l-1.6 1.3l.5 2l-1.7 -1.1l-1.7 1.1l.5 -2l-1.6 -1.3l2 -.2zM217.5 333.9l.8 1.9l2 .2l-1.6 1.3l.5 2l-1.7 -1.1l-1.7 1.1l.5 -2l-1.6 -1.3l2 -.2zM223 332.5l.8 1.9l2 .2l-1.6 1.3l.5 2l-1.7 -1.1l-1.7 1.1l.5 -2l-1.6 -1.3l2 -.2zM228.5 331.1l.8 1.9l2 .2l-1.6 1.3l.5 2l-1.7 -1.1l-1.7 1.1l.5 -2l-1.6 -1.3l2 -.2zM234 329.7l.8 1.9l2 .2l-1.6 1.3l.5 2l-1.7 -1.1l-1.7 1.1l.5 -2l-1.6 -1.3l2 -.2zM239.5 328.3l.8 1.9l2 .2l-1.6 1.3l.5 2l-1.7 -1.1l-1.7 1.1l.5 -2l-1.6 -1.3l2 -.2zM245 326.9l.8 1.9l2 .2l-1.6 1.3l.5 2l-1.7 -1.1l-1.7 1.1l.5 -2l-1.6 -1.3l2 -.2zM250.5 325.5l.8 1.9l2 .2l-1.6 1.3l.5 2l-1.7 -1.1l-1.7 1.1l.5 -2l-1.6 -1.3l2 -.2zM256 324.1l.8 1.9l2 .2l-1.6 1.3l.5 2l-1.7 -1.1l-1.7 1.1l.5 -2l-1.6 -1.3l2 -.2z" fill="#19f0f0"/>
<path d="M41.4 380.5l1.5 -.3l1.6 -.3l1.5 -.3l1.6 -.3l1.5 -.3l1.6 -.3l1.5 -.3l1.5 -.3l1.6 -.4l1.5 -.3l1.6 -.3l1.5 -.4l1.6 -.3l1.5 -.4l1.5 -.4l1.5 -.4l1.6 -.5l1.5 -.4l1.5 -.5l1.5 -.5l1.5 -.5l1.5 -.5l1.6 -.6l1.5 -.5l1.5 -.6l1.5 -.5l1.5 -.6l1.6 -.5l1.5 -.6l1.5 -.6l1.5 -.6l1.5 -.5l1.6 -.6l1.5 -.5l1.5 -.6l1.5 -.5l1.5 -.5l1.5 -.6l1.6 -.5l1.5 -.4l1.5 -.5l1.5 -.5l1.6 -.4l1.5 -.4l1.6 -.5l1.5 -.4l1.5 -.4l1.6 -.4l1.5 -.4l1.5 -.4l1.6 -.4l1.5 -.4l1.6 -.4l1.5 -.4l1.5 -.4l1.6 -.3l1.5 -.4l1.6 -.4l1.5 -.4l1.5 -.4l1.6 -.4l1.5 -.4l1.5 -.4l1.6 -.4l1.5 -.4l1.6 -.5l1.5 -.4l1.5 -.4l1.5 -.5l1.5 -.4l1.5 -.4l1.5 -.5l1.5 -.4l1.5 -.5l1.5 -.4l1.5 -.5l1.5 -.4l1.5 -.5l1.5 -.5l1.5 -.4l1.5 -.5l1.5 -.5l1.5 -.4l1.5 -.5l1.5 -.5l1.5 -.5l1.5 -.4l1.5 -.5l1.5 -.5l1.5 -.5l1.5 -.4l1.5 -.5l1.5 -.5l1.5 -.5l1.5 -.4l1.5 -.5l1.5 -.5l1.5 -.4l1.5 -.5l1.5 -.5l1.5 -.4l1.5 -.5l1.5 -.5l1.5 -.4l1.5 -.5l1.5 -.4l1.5 -.5l1.5 -.5l1.5 -.4l1.5 -.5l1.6 -.4l1.5 -.5l1.5 -.4l1.5 -.5l1.5 -.4l1.5 -.4l1.5 -.5l1.5 -.4l1.6 -.5l1.5 -.4l1.5 -.5l1.5 -.4l1.5 -.5l1.5 -.4l1.5 -.4l1.6 -.5l1.5 -.4l1.5 -.5l1.5 -.4l1.5 -.4l1.5 -.5l1.5 -.4l1.6 -.5l1.5 -.4l1.5 -.4l1.5 -.5l1.5 -.4l1.5 -.4l1.5 -.5l1.5 -.4l1.6 -.5l1.5 -.4l1.5 -.5l1.5 -.4" fill="none" stroke="#ff8c1a" stroke-width="1.6" stroke-linejoin="round"/>
<path d="M41.4 377.8l2.8 2.8 -2.8 2.8 -2.8 -2.8zM46.9 376.6l2.8 2.8 -2.8 2.8 -2.8 -2.8zM52.5 375.6l2.8 2.8 -2.8 2.8 -2.8 -2.8zM58 374.4l2.8 2.8 -2.8 2.8 -2.8 -2.8zM63.5 373.1l2.8 2.8 -2.8 2.8 -2.8 -2.8zM69 371.6l2.8 2.8 -2.8 2.8 -2.8 -2.8zM74.5 369.8l2.8 2.8 -2.8 2.8 -2.8 -2.8zM80 367.8l2.8 2.8 -2.8 2.8 -2.8 -2.8zM85.5 365.7l2.8 2.8 -2.8 2.8 -2.8 -2.8zM91 363.7l2.8 2.8 -2.8 2.8 -2.8 -2.8zM96.5 361.7l2.8 2.8 -2.8 2.8 -2.8 -2.8zM102 359.9l2.8 2.8 -2.8 2.8 -2.8 -2.8zM107.5 358.2l2.8 2.8 -2.8 2.8 -2.8 -2.8zM113 356.7l2.8 2.8 -2.8 2.8 -2.8 -2.8zM118.5 355.3l2.8 2.8 -2.8 2.8 -2.8 -2.8zM124 353.9l2.8 2.8 -2.8 2.8 -2.8 -2.8zM129.5 352.5l2.8 2.8 -2.8 2.8 -2.8 -2.8zM135 351.1l2.8 2.8 -2.8 2.8 -2.8 -2.8zM140.5 349.6l2.8 2.8 -2.8 2.8 -2.8 -2.8zM146 348.1l2.8 2.8 -2.8 2.8 -2.8 -2.8zM151.5 346.5l2.8 2.8 -2.8 2.8 -2.8 -2.8zM157 344.8l2.8 2.8 -2.8 2.8 -2.8 -2.8zM162.5 343.1l2.8 2.8 -2.8 2.8 -2.8 -2.8zM168 341.4l2.8 2.8 -2.8 2.8 -2.8 -2.8zM173.5 339.7l2.8 2.8 -2.8 2.8 -2.8 -2.8zM179 337.9l2.8 2.8 -2.8 2.8 -2.8 -2.8zM184.5 336.2l2.8 2.8 -2.8 2.8 -2.8 -2.8zM190 334.5l2.8 2.8 -2.8 2.8 -2.8 -2.8zM195.5 332.7l2.8 2.8 -2.8 2.8 -2.8 -2.8zM201 331.1l2.8 2.8 -2.8 2.8 -2.8 -2.8zM206.5 329.4l2.8 2.8 -2.8 2.8 -2.8 -2.8zM212 327.8l2.8 2.8 -2.8 2.8 -2.8 -2.8zM217.5 326.1l2.8 2.8 -2.8 2.8 -2.8 -2.8zM223 324.5l2.8 2.8 -2.8 2.8 -2.8 -2.8zM228.5 322.9l2.8 2.8 -2.8 2.8 -2.8 -2.8zM234 321.3l2.8 2.8 -2.8 2.8 -2.8 -2.8zM239.5 319.7l2.8 2.8 -2.8 2.8 -2.8 -2.8zM245 318.1l2.8 2.8 -2.8 2.8 -2.8 -2.8zM250.5 316.5l2.8 2.8 -2.8 2.8 -2.8 -2.8zM256 314.9l2.8 2.8 -2.8 2.8 -2.8 -2.8z" fill="#ff8c1a"/>
<path d="M41.4 377.5l1.5 -.7l1.6 -.6l1.5 -.7l1.5 -.7l1.5 -.6l1.6 -.7l1.5 -.7l1.5 -.6l1.5 -.7l1.6 -.7l1.5 -.6l1.5 -.7l1.5 -.7l1.6 -.6l1.5 -.7l1.5 -.7l1.6 -.7l1.5 -.6l1.5 -.7l1.5 -.7l1.6 -.6l1.5 -.7l1.5 -.7l1.5 -.6l1.6 -.7l1.5 -.7l1.5 -.6l1.6 -.7l1.5 -.6l1.5 -.7l1.5 -.7l1.6 -.6l1.5 -.7l1.5 -.6l1.5 -.7l1.6 -.6l1.5 -.7l1.5 -.6l1.5 -.6l1.6 -.7l1.5 -.6l1.5 -.6l1.6 -.7l1.5 -.6l1.6 -.6l1.5 -.6l1.5 -.7l1.6 -.6l1.5 -.6l1.5 -.6l1.6 -.6l1.5 -.6l1.6 -.6l1.5 -.6l1.5 -.6l1.6 -.6l1.5 -.6l1.6 -.6l1.5 -.6l1.5 -.6l1.6 -.7l1.5 -.6l1.5 -.6l1.6 -.6l1.5 -.6l1.6 -.6l1.5 -.6l1.5 -.6l1.5 -.6l1.5 -.6l1.5 -.6l1.5 -.6l1.5 -.6l1.5 -.6l1.5 -.6l1.5 -.6l1.5 -.6l1.5 -.5l1.5 -.6l1.5 -.6l1.5 -.6l1.5 -.6l1.5 -.6l1.5 -.6l1.5 -.6l1.5 -.6l1.5 -.6l1.5 -.6l1.5 -.6l1.5 -.6l1.5 -.6l1.5 -.6l1.5 -.6l1.5 -.6l1.5 -.6l1.5 -.6l1.5 -.6l1.5 -.6l1.5 -.6l1.5 -.6l1.5 -.6l1.5 -.6l1.5 -.6l1.5 -.6l1.5 -.7l1.5 -.6l1.5 -.6l1.5 -.6l1.5 -.7l1.5 -.6l1.6 -.6l1.5 -.7l1.5 -.6l1.5 -.6l1.5 -.7l1.5 -.6l1.5 -.6l1.5 -.7l1.6 -.6l1.5 -.7l1.5 -.6l1.5 -.7l1.5 -.6l1.5 -.7l1.5 -.6l1.6 -.7l1.5 -.6l1.5 -.7l1.5 -.6l1.5 -.7l1.5 -.6l1.5 -.7l1.6 -.6l1.5 -.7l1.5 -.7l1.5 -.6l1.5 -.7l1.5 -.6l1.5 -.7l1.5 -.6l1.6 -.7l1.5 -.6l1.5 -.7l1.5 -.6" fill="none" stroke="#1a1aff" stroke-width="1.6" stroke-linejoin="round"/>
<path d="M41.4 380.2l2.8 -3.8a1.4 1.4 0 0 0 -2.8 -.3a1.4 1.4 0 0 0 -2.8 .3zM46.9 377.9l2.8 -3.8a1.4 1.4 0 0 0 -2.8 -.3a1.4 1.4 0 0 0 -2.8 .3zM52.4 375.4l2.8 -3.8a1.4 1.4 0 0 0 -2.8 -.3a1.4 1.4 0 0 0 -2.8 .3zM57.9 373l2.8 -3.8a1.4 1.4 0 0 0 -2.8 -.3a1.4 1.4 0 0 0 -2.8 .3zM63.4 370.6l2.8 -3.8a1.4 1.4 0 0 0 -2.8 -.3a1.4 1.4 0 0 0 -2.8 .3zM68.9 368.2l2.8 -3.8a1.4 1.4 0 0 0 -2.8 -.3a1.4 1.4 0 0 0 -2.8 .3zM74.5 365.8l2.8 -3.8a1.4 1.4 0 0 0 -2.8 -.3a1.4 1.4 0 0 0 -2.8 .3zM80 363.4l2.8 -3.8a1.4 1.4 0 0 0 -2.8 -.3a1.4 1.4 0 0 0 -2.8 .3zM85.5 361l2.8 -3.8a1.4 1.4 0 0 0 -2.8 -.3a1.4 1.4 0 0 0 -2.8 .3zM91 358.6l2.8 -3.8a1.4 1.4 0 0 0 -2.8 -.3a1.4 1.4 0 0 0 -2.8 .3zM96.5 356.3l2.8 -3.8a1.4 1.4 0 0 0 -2.8 -.3a1.4 1.4 0 0 0 -2.8 .3zM102 354l2.8 -3.8a1.4 1.4 0 0 0 -2.8 -.3a1.4 1.4 0 0 0 -2.8 .3zM107.5 351.7l2.8 -3.8a1.4 1.4 0 0 0 -2.8 -.3a1.4 1.4 0 0 0 -2.8 .3zM113 349.5l2.8 -3.8a1.4 1.4 0 0 0 -2.8 -.3a1.4 1.4 0 0 0 -2.8 .3zM118.5 347.3l2.8 -3.8a1.4 1.4 0 0 0 -2.8 -.3a1.4 1.4 0 0 0 -2.8 .3zM124 345.1l2.8 -3.8a1.4 1.4 0 0 0 -2.8 -.3a1.4 1.4 0 0 0 -2.8 .3zM129.5 343l2.8 -3.8a1.4 1.4 0 0 0 -2.8 -.3a1.4 1.4 0 0 0 -2.8 .3zM135 340.8l2.8 -3.8a1.4 1.4 0 0 0 -2.8 -.3a1.4 1.4 0 0 0 -2.8 .3zM140.5 338.6l2.8 -3.8a1.4 1.4 0 0 0 -2.8 -.3a1.4 1.4 0 0 0 -2.8 .3zM146 336.5l2.8 -3.8a1.4 1.4 0 0 0 -2.8 -.3a1.4 1.4 0 0 0 -2.8 .3zM151.5 334.3l2.8 -3.8a1.4 1.4 0 0 0 -2.8 -.3a1.4 1.4 0 0 0 -2.8 .3zM157 332.1l2.8 -3.8a1.4 1.4 0 0 0 -2.8 -.3a1.4 1.4 0 0 0 -2.8 .3zM162.5 329.9l2.8 -3.8a1.4 1.4 0 0 0 -2.8 -.3a1.4 1.4 0 0 0 -2.8 .3zM168 327.7l2.8 -3.8a1.4 1.4 0 0 0 -2.8 -.3a1.4 1.4 0 0 0 -2.8 .3zM173.5 325.6l2.8 -3.8a1.4 1.4 0 0 0 -2.8 -.3a1.4 1.4 0 0 0 -2.8 .3zM179 323.4l2.8 -3.8a1.4 1.4 0 0 0 -2.8 -.3a1.4 1.4 0 0 0 -2.8 .3zM184.5 321.2l2.8 -3.8a1.4 1.4 0 0 0 -2.8 -.3a1.4 1.4 0 0 0 -2.8 .3zM190 319l2.8 -3.8a1.4 1.4 0 0 0 -2.8 -.3a1.4 1.4 0 0 0 -2.8 .3zM195.5 316.7l2.8 -3.8a1.4 1.4 0 0 0 -2.8 -.3a1.4 1.4 0 0 0 -2.8 .3zM201 314.5l2.8 -3.8a1.4 1.4 0 0 0 -2.8 -.3a1.4 1.4 0 0 0 -2.8 .3zM206.5 312.2l2.8 -3.8a1.4 1.4 0 0 0 -2.8 -.3a1.4 1.4 0 0 0 -2.8 .3zM212 309.9l2.8 -3.8a1.4 1.4 0 0 0 -2.8 -.3a1.4 1.4 0 0 0 -2.8 .3zM217.5 307.6l2.8 -3.8a1.4 1.4 0 0 0 -2.8 -.3a1.4 1.4 0 0 0 -2.8 .3zM223 305.3l2.8 -3.8a1.4 1.4 0 0 0 -2.8 -.3a1.4 1.4 0 0 0 -2.8 .3zM228.5 302.9l2.8 -3.8a1.4 1.4 0 0 0 -2.8 -.3a1.4 1.4 0 0 0 -2.8 .3zM234 300.5l2.8 -3.8a1.4 1.4 0 0 0 -2.8 -.3a1.4 1.4 0 0 0 -2.8 .3zM239.5 298.2l2.8 -3.8a1.4 1.4 0 0 0 -2.8 -.3a1.4 1.4 0 0 0 -2.8 .3zM245 295.8l2.8 -3.8a1.4 1.4 0 0 0 -2.8 -.3a1.4 1.4 0 0 0 -2.8 .3zM250.5 293.4l2.8 -3.8a1.4 1.4 0 0 0 -2.8 -.3a1.4 1.4 0 0 0 -2.8 .3zM256 291.1l2.8 -3.8a1.4 1.4 0 0 0 -2.8 -.3a1.4 1.4 0 0 0 -2.8 .3z" fill="#1a1aff"/>
<path d="M41.4 378l1.5 -.4l1.6 -.4l1.5 -.5l1.6 -.4l1.5 -.4l1.6 -.4l1.5 -.4l1.5 -.4l1.6 -.4l1.5 -.4l1.6 -.5l1.5 -.4l1.6 -.5l1.5 -.5l1.5 -.5l1.5 -.5l1.6 -.6l1.5 -.5l1.5 -.6l1.5 -.6l1.5 -.7l1.5 -.6l1.6 -.6l1.5 -.7l1.5 -.7l1.5 -.6l1.5 -.7l1.6 -.7l1.5 -.6l1.5 -.7l1.5 -.7l1.5 -.6l1.6 -.7l1.5 -.6l1.5 -.6l1.5 -.6l1.5 -.6l1.5 -.6l1.6 -.6l1.5 -.5l1.5 -.5l1.5 -.5l1.6 -.5l1.5 -.5l1.6 -.4l1.5 -.5l1.5 -.4l1.6 -.5l1.5 -.4l1.5 -.4l1.6 -.5l1.5 -.4l1.6 -.4l1.5 -.4l1.5 -.4l1.6 -.4l1.5 -.4l1.6 -.4l1.5 -.4l1.5 -.4l1.6 -.4l1.5 -.4l1.5 -.4l1.6 -.5l1.5 -.4l1.6 -.4l1.5 -.4l1.5 -.4l1.5 -.4l1.5 -.4l1.5 -.4l1.5 -.4l1.5 -.5l1.5 -.4l1.5 -.4l1.5 -.4l1.5 -.4l1.5 -.4l1.5 -.4l1.5 -.4l1.5 -.4l1.5 -.4l1.5 -.4l1.5 -.4l1.5 -.4l1.5 -.4l1.5 -.4l1.5 -.4l1.5 -.4l1.5 -.4l1.5 -.4l1.5 -.4l1.5 -.4l1.5 -.4l1.5 -.4l1.5 -.4l1.5 -.5l1.5 -.4l1.5 -.4l1.5 -.4l1.5 -.4l1.5 -.4l1.5 -.5l1.5 -.4l1.5 -.4l1.5 -.5l1.5 -.4l1.5 -.4l1.5 -.5l1.5 -.4l1.6 -.5l1.5 -.4l1.5 -.5l1.5 -.5l1.5 -.4l1.5 -.5l1.5 -.5l1.5 -.4l1.6 -.5l1.5 -.5l1.5 -.5l1.5 -.4l1.5 -.5l1.5 -.5l1.5 -.5l1.6 -.4l1.5 -.5l1.5 -.5l1.5 -.5l1.5 -.5l1.5 -.5l1.5 -.4l1.6 -.5l1.5 -.5l1.5 -.5l1.5 -.5l1.5 -.5l1.5 -.4l1.5 -.5l1.5 -.5l1.6 -.5l1.5 -.5l1.5 -.4l1.5 -.5" fill="none" stroke="#19e619" stroke-width="1.6" stroke-linejoin="round"/>
<path d="M41.4 378h0M46.9 376.5h0M52.5 375.1h0M58 373.5h0M63.5 371.8h0M69 369.9h0M74.5 367.7h0M80 365.3h0M85.5 362.9h0M91 360.5h0M96.5 358.2h0M102 356.2h0M107.5 354.4h0M113 352.7h0M118.5 351.2h0M124 349.7h0M129.5 348.2h0M135 346.8h0M140.5 345.4h0M146 343.9h0M151.5 342.4h0M157 340.9h0M162.5 339.4h0M168 337.9h0M173.5 336.5h0M179 335h0M184.5 333.5h0M190 332h0M195.5 330.4h0M201 328.9h0M206.5 327.3h0M212 325.6h0M217.5 323.9h0M223 322.2h0M228.5 320.5h0M234 318.8h0M239.5 317h0M245 315.2h0M250.5 313.5h0M256 311.8h0" stroke="#19e619" stroke-width="4" stroke-linecap="round"/>
<path d="M38.6 378h5.5M41.4 375.2v5.5M44.2 376.5h5.5M46.9 373.8v5.5M49.7 375.1h5.5M52.5 372.3v5.5M55.2 373.5h5.5M58 370.8v5.5M60.8 371.8h5.5M63.5 369.1v5.5M66.2 369.9h5.5M69 367.1v5.5M71.8 367.7h5.5M74.5 364.9v5.5M77.2 365.3h5.5M80 362.6v5.5M82.8 362.9h5.5M85.5 360.1v5.5M88.2 360.5h5.5M91 357.8v5.5M93.8 358.2h5.5M96.5 355.5v5.5M99.2 356.2h5.5M102 353.4v5.5M104.8 354.4h5.5M107.5 351.6v5.5M110.2 352.7h5.5M113 350v5.5M115.8 351.2h5.5M118.5 348.4v5.5M121.2 349.7h5.5M124 346.9v5.5M126.8 348.2h5.5M129.5 345.5v5.5M132.2 346.8h5.5M135 344.1v5.5M137.8 345.4h5.5M140.5 342.6v5.5M143.2 343.9h5.5M146 341.1v5.5M148.8 342.4h5.5M151.5 339.6v5.5M154.2 340.9h5.5M157 338.1v5.5M159.8 339.4h5.5M162.5 336.6v5.5M165.2 337.9h5.5M168 335.2v5.5M170.8 336.5h5.5M173.5 333.7v5.5M176.2 335h5.5M179 332.2v5.5M181.8 333.5h5.5M184.5 330.7v5.5M187.2 332h5.5M190 329.2v5.5M192.8 330.4h5.5M195.5 327.7v5.5M198.2 328.9h5.5M201 326.1v5.5M203.8 327.3h5.5M206.5 324.5v5.5M209.2 325.6h5.5M212 322.9v5.5M214.8 323.9h5.5M217.5 321.2v5.5M220.2 322.2h5.5M223 319.5v5.5M225.8 320.5h5.5M228.5 317.8v5.5M231.2 318.8h5.5M234 316v5.5M236.8 317h5.5M239.5 314.3v5.5M242.2 315.2h5.5M245 312.5v5.5M247.8 313.5h5.5M250.5 310.7v5.5M253.2 311.8h5.5M256 309v5.5" stroke="#19e619" stroke-width="1.5"/>
<path d="M41.4 374.5l1.5 -.6l1.6 -.6l1.5 -.7l1.6 -.6l1.5 -.6l1.6 -.7l1.5 -.6l1.5 -.6l1.6 -.6l1.5 -.6l1.6 -.6l1.5 -.5l1.6 -.5l1.5 -.5l1.5 -.4l1.5 -.5l1.6 -.4l1.5 -.4l1.5 -.4l1.5 -.3l1.5 -.4l1.5 -.4l1.6 -.3l1.5 -.4l1.5 -.3l1.5 -.3l1.5 -.4l1.6 -.3l1.5 -.3l1.5 -.3l1.5 -.3l1.5 -.3l1.6 -.3l1.5 -.4l1.5 -.3l1.5 -.3l1.5 -.3l1.5 -.3l1.6 -.3l1.5 -.3l1.5 -.3l1.5 -.3l1.6 -.3l1.5 -.4l1.6 -.3l1.5 -.3l1.5 -.3l1.6 -.3l1.5 -.4l1.5 -.3l1.6 -.3l1.5 -.3l1.6 -.3l1.5 -.3l1.5 -.3l1.6 -.3l1.5 -.3l1.6 -.3l1.5 -.3l1.5 -.3l1.6 -.3l1.5 -.2l1.5 -.3l1.6 -.3l1.5 -.2l1.6 -.3l1.5 -.2l1.5 -.2l1.6 -.2l1.5 -.3l1.5 -.2l1.5 -.2l1.6 -.2l1.5 -.2l1.5 -.2l1.6 -.1l1.5 -.2l1.5 -.2l1.6 -.2l1.5 -.2l1.5 -.2l1.5 -.1l1.6 -.2l1.5 -.2l1.5 -.2l1.6 -.2l1.5 -.1l1.6 -.2l1.5 -.2l1.6 -.2l1.5 -.1l1.6 -.2l1.5 -.2l1.6 -.2l1.5 -.1l1.5 -.2l1.6 -.2l1.5 -.1l1.6 -.2l1.5 -.2l1.6 -.1l1.5 -.2l1.6 -.2l1.5 -.2l1.6 -.1l1.5 -.2l1.5 -.2l1.6 -.2l1.5 -.1l1.5 -.2l1.5 -.2l1.6 -.2l1.5 -.2l1.5 -.2l1.6 -.1l1.5 -.2l1.5 -.2l1.6 -.2l1.5 -.2l1.5 -.1l1.5 -.2l1.6 -.1l1.5 -.2l1.5 -.1l1.5 -.2l1.5 -.1l1.5 -.2l1.5 -.1l1.5 -.1l1.5 -.1l1.5 -.2l1.5 -.1l1.5 -.1l1.5 -.1l1.5 -.1l1.5 -.2l1.5 -.1l1.5 -.1l1.5 -.1l1.5 -.1l1.5 -.2l1.5 -.1l1.5 -.1" fill="none" stroke="#991a99" stroke-width="1.6" stroke-linejoin="round"/>
<path d="M39.3 374.5h4.1M44.9 372.3h4.1M50.4 370h4.1M55.9 367.9h4.1M61.4 366.1h4.1M66.9 364.5h4.1M72.4 363.2h4.1M77.9 361.9h4.1M83.4 360.7h4.1M88.9 359.6h4.1M94.4 358.5h4.1M99.9 357.4h4.1M105.4 356.3h4.1M110.9 355.1h4.1M116.4 354h4.1M121.9 352.9h4.1M127.4 351.8h4.1M132.9 350.8h4.1M138.4 349.8h4.1M143.9 349h4.1M149.4 348.2h4.1M154.9 347.5h4.1M160.4 346.9h4.1M165.9 346.2h4.1M171.4 345.6h4.1M176.9 345h4.1M182.4 344.4h4.1M187.9 343.7h4.1M193.4 343.1h4.1M198.9 342.5h4.1M204.4 341.9h4.1M209.9 341.3h4.1M215.4 340.6h4.1M220.9 339.9h4.1M226.4 339.3h4.1M231.9 338.8h4.1M237.4 338.3h4.1M242.9 337.9h4.1M248.4 337.5h4.1M253.9 337h4.1" stroke="#991a99" stroke-width="4.7"/>
<path d="M41.4 376.5l1.5 -.5l1.6 -.6l1.5 -.5l1.6 -.6l1.5 -.5l1.6 -.6l1.5 -.5l1.5 -.5l1.6 -.6l1.5 -.5l1.6 -.6l1.5 -.5l1.6 -.5l1.5 -.5l1.5 -.5l1.5 -.5l1.6 -.5l1.5 -.5l1.5 -.5l1.5 -.5l1.5 -.4l1.5 -.5l1.6 -.5l1.5 -.5l1.5 -.5l1.5 -.5l1.5 -.4l1.6 -.5l1.5 -.5l1.5 -.4l1.5 -.5l1.5 -.4l1.6 -.5l1.5 -.4l1.5 -.5l1.5 -.4l1.5 -.4l1.5 -.5l1.6 -.4l1.5 -.4l1.5 -.4l1.5 -.4l1.6 -.4l1.5 -.4l1.6 -.4l1.5 -.4l1.5 -.3l1.6 -.4l1.5 -.4l1.5 -.3l1.6 -.4l1.5 -.3l1.6 -.4l1.5 -.3l1.5 -.4l1.6 -.3l1.5 -.4l1.6 -.3l1.5 -.4l1.5 -.3l1.6 -.4l1.5 -.3l1.5 -.4l1.6 -.4l1.5 -.3l1.6 -.4l1.5 -.4l1.5 -.4l1.5 -.4l1.5 -.3l1.5 -.4l1.5 -.4l1.5 -.4l1.5 -.4l1.5 -.4l1.5 -.4l1.5 -.4l1.5 -.4l1.5 -.4l1.5 -.4l1.5 -.4l1.5 -.4l1.5 -.4l1.5 -.4l1.5 -.4l1.5 -.4l1.5 -.4l1.5 -.4l1.5 -.4l1.5 -.4l1.5 -.4l1.5 -.4l1.5 -.5l1.5 -.4l1.5 -.4l1.5 -.4l1.5 -.4l1.5 -.5l1.5 -.4l1.5 -.4l1.5 -.4l1.5 -.5l1.5 -.4l1.5 -.4l1.5 -.4l1.5 -.5l1.5 -.4l1.5 -.4l1.5 -.5l1.5 -.4l1.6 -.5l1.5 -.4l1.5 -.5l1.5 -.4l1.5 -.5l1.5 -.4l1.5 -.5l1.5 -.4l1.6 -.5l1.5 -.5l1.5 -.4l1.5 -.5l1.5 -.5l1.5 -.4l1.5 -.5l1.6 -.5l1.5 -.4l1.5 -.5l1.5 -.5l1.5 -.4l1.5 -.5l1.5 -.5l1.6 -.5l1.5 -.4l1.5 -.5l1.5 -.5l1.5 -.4l1.5 -.5l1.5 -.5l1.5 -.4l1.6 -.5l1.5 -.5l1.5 -.4l1.5 -.5" fill="none" stroke="#ff19ff" stroke-width="1.6" stroke-linejoin="round"/>
<path d="M41.4 379l2.5 -4.4h-5.1zM46.9 377.1l2.5 -4.4h-5.1zM52.5 375.1l2.5 -4.4h-5.1zM58 373.2l2.5 -4.4h-5.1zM63.5 371.4l2.5 -4.4h-5.1zM69 369.6l2.5 -4.4h-5.1zM74.5 367.8l2.5 -4.4h-5.1zM80 366.1l2.5 -4.4h-5.1zM85.5 364.4l2.5 -4.4h-5.1zM91 362.7l2.5 -4.4h-5.1zM96.5 361.1l2.5 -4.4h-5.1zM102 359.6l2.5 -4.4h-5.1zM107.5 358.1l2.5 -4.4h-5.1zM113 356.8l2.5 -4.4h-5.1zM118.5 355.5l2.5 -4.4h-5.1zM124 354.2l2.5 -4.4h-5.1zM129.5 353l2.5 -4.4h-5.1zM135 351.7l2.5 -4.4h-5.1zM140.5 350.4l2.5 -4.4h-5.1zM146 349l2.5 -4.4h-5.1zM151.5 347.6l2.5 -4.4h-5.1zM157 346.2l2.5 -4.4h-5.1zM162.5 344.7l2.5 -4.4h-5.1zM168 343.3l2.5 -4.4h-5.1zM173.5 341.8l2.5 -4.4h-5.1zM179 340.3l2.5 -4.4h-5.1zM184.5 338.8l2.5 -4.4h-5.1zM190 337.2l2.5 -4.4h-5.1zM195.5 335.7l2.5 -4.4h-5.1zM201 334.1l2.5 -4.4h-5.1zM206.5 332.5l2.5 -4.4h-5.1zM212 330.9l2.5 -4.4h-5.1zM217.5 329.2l2.5 -4.4h-5.1zM223 327.6l2.5 -4.4h-5.1zM228.5 325.9l2.5 -4.4h-5.1zM234 324.2l2.5 -4.4h-5.1zM239.5 322.5l2.5 -4.4h-5.1zM245 320.8l2.5 -4.4h-5.1zM250.5 319.1l2.5 -4.4h-5.1zM256 317.4l2.5 -4.4h-5.1z" fill="#ff19ff"/>
</g>
<text x="253" y="393" font-size="9" fill="#333" text-anchor="middle" font-family='"Liberation Serif", serif' font-weight="normal" font-style="italic">r</text>
<rect x="63.4" y="285.6" width="41.6" height="92" fill="#fff" fill-opacity="1" stroke="#444" stroke-width="0.9"/>
<rect x="67.7" y="292.1" width="4.59" height="4.59" fill="#000"/>
<text x="87" y="297.4" font-size="9.5" fill="#000" text-anchor="middle" font-family='"Liberation Serif", serif' font-weight="normal" font-style="italic">q</text>
<circle cx="70" cy="304" r="2.7" fill="#ff1a1a"/>
<text x="87" y="307" font-size="9.5" fill="#ff1a1a" text-anchor="middle" font-family='"Liberation Serif", serif' font-weight="normal" font-style="italic">m</text>
<path d="M70 310.3L72.7 315.02L67.3 315.02Z" fill="#8a8a8a"/>
<text x="87" y="315" font-size="5" fill="#bbb" text-anchor="middle" font-family='"Liberation Sans", sans-serif' font-weight="normal">r&#772; (P&#8201;-&#8201;M)</text>
<path d="M70 321.02L70.89 323.17L73.21 323.36L71.44 324.87L71.98 327.13L70 325.92L68.02 327.13L68.56 324.87L66.79 323.36L69.11 323.17Z" fill="#19f0f0"/>
<text x="87" y="327.9" font-size="9.5" fill="#19f0f0" text-anchor="middle" font-family='"Liberation Serif", serif' font-weight="normal" font-style="italic">c</text><text x="87" y="319.4" font-size="4.5" fill="#bbb" text-anchor="middle" font-family='"Liberation Sans", sans-serif' font-weight="normal">n</text>
<path d="M70 330.9L72.7 333.6L70 336.3L67.3 333.6Z" fill="#ff8c1a"/>
<text x="87" y="336.6" font-size="9.5" fill="#ff8c1a" text-anchor="middle" font-family='"Liberation Serif", serif' font-weight="normal" font-style="italic">σ&#8201;&#8728;q</text>
<path d="M70 344.5L72.7 340.72A1.35 1.35 0 0 0 70 340.45A1.35 1.35 0 0 0 67.3 340.72Z" fill="#1a1aff"/>
<text x="87" y="344.8" font-size="9.5" fill="#1a1aff" text-anchor="middle" font-family='"Liberation Serif", serif' font-style="italic">L<tspan font-size="7.03" dy="1.6">q</tspan></text>
<circle cx="70" cy="351" r="1.94" fill="#19e619"/><path d="M67.3 351H72.7M70 348.3V353.7" stroke="#19e619" stroke-width="1.49"/>
<text x="87" y="354" font-size="9.5" fill="#19e619" text-anchor="middle" font-family='"Liberation Serif", serif' font-style="italic">L<tspan font-size="7.03" dy="1.6">m</tspan></text>
<rect x="67.97" y="358.5" width="4.05" height="4.59" fill="#991a99"/>
<text x="87" y="364.3" font-size="9.5" fill="#991a99" text-anchor="middle" font-family='"Liberation Sans", sans-serif' font-weight="normal">10<tspan font-size="5" dy="-3.5">2</tspan><tspan dy="3.5" font-family='Liberation Serif' font-style="italic">ϕ</tspan></text>
<path d="M70 371.7L72.7 366.98L67.3 366.98Z" fill="#ff19ff"/>
<text x="87" y="372" font-size="9.5" fill="#ff19ff" text-anchor="middle" font-family='"Liberation Serif", serif' font-weight="normal" font-style="italic">u</text>
<text x="255.8" y="300.4" font-size="8" fill="#222" text-anchor="middle" font-family='"Liberation Sans", sans-serif' font-weight="normal">h1</text>
</g>
<clipPath id="ch2"><rect x="271.6" y="282.1" width="273.4" height="139.89999999999998"/></clipPath>
<g clip-path="url(#ch2)">
<line x1="350.1" y1="282.1" x2="350.1" y2="422" stroke="#f1f1f1" stroke-width="0.9"/>
<line x1="399.5" y1="282.1" x2="399.5" y2="422" stroke="#f1f1f1" stroke-width="0.9"/>
<line x1="448.9" y1="282.1" x2="448.9" y2="422" stroke="#f1f1f1" stroke-width="0.9"/>
<line x1="498.3" y1="282.1" x2="498.3" y2="422" stroke="#f1f1f1" stroke-width="0.9"/>
<line x1="308" y1="311.6" x2="545" y2="311.6" stroke="#f1f1f1" stroke-width="0.9"/>
<line x1="308" y1="341" x2="545" y2="341" stroke="#f1f1f1" stroke-width="0.9"/>
<line x1="308" y1="370.4" x2="545" y2="370.4" stroke="#f1f1f1" stroke-width="0.9"/>
<line x1="308" y1="400" x2="545" y2="400" stroke="#c4c4c4" stroke-width="0.8"/>
<line x1="308" y1="282.1" x2="308" y2="422" stroke="#d8d8d8" stroke-width="1"/>
<text x="305.2" y="314.5" font-size="8.2" fill="#262626" text-anchor="end" font-family='"Liberation Sans", sans-serif' font-weight="normal" letter-spacing="-0.3" stroke="#262626" stroke-width="0.12">15&#8201;000</text>
<text x="305.2" y="343.9" font-size="8.2" fill="#262626" text-anchor="end" font-family='"Liberation Sans", sans-serif' font-weight="normal" letter-spacing="-0.3" stroke="#262626" stroke-width="0.12">10&#8201;000</text>
<text x="305.2" y="373.3" font-size="8.2" fill="#262626" text-anchor="end" font-family='"Liberation Sans", sans-serif' font-weight="normal" letter-spacing="-0.3" stroke="#262626" stroke-width="0.12">5000</text>
<text x="305.2" y="402.9" font-size="8.2" fill="#262626" text-anchor="end" font-family='"Liberation Sans", sans-serif' font-weight="normal" letter-spacing="-0.3" stroke="#262626" stroke-width="0.12">0</text>
<line x1="312.4" y1="282.1" x2="312.4" y2="422" stroke="#111" stroke-width="1.3" stroke-dasharray="2.0 4.6" stroke-dashoffset="4.3"/>
<text x="350.1" y="409.9" font-size="8.2" fill="#262626" text-anchor="middle" font-family='"Liberation Sans", sans-serif' font-weight="normal" letter-spacing="-0.3" stroke="#262626" stroke-width="0.12">5000</text>
<text x="399.5" y="409.9" font-size="8.2" fill="#262626" text-anchor="middle" font-family='"Liberation Sans", sans-serif' font-weight="normal" letter-spacing="-0.3" stroke="#262626" stroke-width="0.12">10&#8201;000</text>
<text x="448.9" y="409.9" font-size="8.2" fill="#262626" text-anchor="middle" font-family='"Liberation Sans", sans-serif' font-weight="normal" letter-spacing="-0.3" stroke="#262626" stroke-width="0.12">15&#8201;000</text>
<text x="498.3" y="409.9" font-size="8.2" fill="#262626" text-anchor="middle" font-family='"Liberation Sans", sans-serif' font-weight="normal" letter-spacing="-0.3" stroke="#262626" stroke-width="0.12">20&#8201;000</text>
<clipPath id="cch2"><rect x="308" y="282.1" width="237" height="139.89999999999998"/></clipPath><g clip-path="url(#cch2)">
<path d="M308 311.6l1.5 .2l1.5 .1l1.5 .2l1.5 .1l1.6 .2l1.5 .1l1.5 .2l1.5 .1l1.5 .1l1.5 .2l1.5 .1l1.5 .2l1.5 .1l1.6 .2l1.5 .1l1.5 .2l1.5 .1l1.5 .2l1.5 .1l1.5 .2l1.5 .1l1.5 .2l1.6 .1l1.5 .2l1.5 .1l1.5 .2l1.5 .1l1.5 .2l1.5 .1l1.5 .2l1.5 .1l1.6 .2l1.5 .1l1.5 .2l1.5 .1l1.5 .2l1.5 .2l1.5 .1l1.5 .2l1.5 .1l1.6 .2l1.5 .2l1.5 .2l1.5 .1l1.5 .2l1.5 .2l1.5 .2l1.5 .1l1.5 .2l1.6 .2l1.5 .2l1.5 .2l1.5 .2l1.5 .2l1.5 .2l1.5 .2l1.5 .2l1.5 .2l1.5 .2l1.6 .2l1.5 .2l1.5 .2l1.5 .2l1.5 .2l1.5 .2l1.5 .2l1.5 .2l1.5 .2l1.5 .2l1.6 .3l1.5 .2l1.5 .2l1.5 .2l1.5 .2l1.5 .2l1.5 .2l1.5 .3l1.5 .2l1.5 .2l1.6 .2l1.5 .2l1.5 .2l1.5 .2l1.5 .2l1.5 .3l1.5 .2l1.5 .2l1.5 .2l1.5 .2l1.6 .2l1.5 .2l1.5 .2l1.5 .2l1.5 .2l1.5 .2l1.5 .2l1.6 .2l1.5 .2l1.5 .2l1.5 .2l1.5 .2l1.6 .2l1.5 .2l1.5 .2l1.5 .2l1.5 .2l1.6 .2l1.5 .2l1.5 .2l1.5 .2l1.5 .2l1.6 .1l1.5 .2l1.5 .2l1.5 .2l1.5 .2l1.6 .2l1.5 .2l1.5 .2l1.5 .2l1.5 .2l1.6 .2l1.5 .2l1.5 .2l1.5 .2l1.5 .2l1.6 .1l1.5 .2l1.5 .2l1.5 .2l1.5 .2l1.6 .2l1.5 .2l1.5 .2l1.5 .2l1.5 .2l1.6 .2l1.5 .2l1.5 .2l1.5 .2l1.5 .1l1.6 .2l1.5 .2l1.5 .2l1.5 .2l1.5 .2l1.6 .2l1.5 .2l1.5 .2" fill="none" stroke="#000" stroke-width="1.6" stroke-linejoin="round"/>
<path d="M306.6 310.5h2.7v2.7h-2.7zM311.6 311h2.7v2.7h-2.7zM316.6 311.5h2.7v2.7h-2.7zM321.6 312h2.7v2.7h-2.7zM326.6 312.5h2.7v2.7h-2.7zM331.6 313h2.7v2.7h-2.7zM336.6 313.5h2.7v2.7h-2.7zM341.6 314h2.7v2.7h-2.7zM346.6 314.5h2.7v2.7h-2.7zM351.6 315h2.7v2.7h-2.7zM356.6 315.5h2.7v2.7h-2.7zM361.6 316h2.7v2.7h-2.7zM366.6 316.5h2.7v2.7h-2.7zM371.6 317.1h2.7v2.7h-2.7zM376.6 317.7h2.7v2.7h-2.7zM381.6 318.3h2.7v2.7h-2.7zM386.6 318.9h2.7v2.7h-2.7zM391.6 319.6h2.7v2.7h-2.7zM396.6 320.2h2.7v2.7h-2.7zM401.6 320.9h2.7v2.7h-2.7zM406.6 321.6h2.7v2.7h-2.7zM411.6 322.3h2.7v2.7h-2.7zM416.6 323h2.7v2.7h-2.7zM421.6 323.7h2.7v2.7h-2.7zM426.6 324.4h2.7v2.7h-2.7zM431.6 325.1h2.7v2.7h-2.7zM436.6 325.8h2.7v2.7h-2.7zM441.6 326.5h2.7v2.7h-2.7zM446.6 327.2h2.7v2.7h-2.7zM451.6 327.8h2.7v2.7h-2.7zM456.6 328.5h2.7v2.7h-2.7zM461.7 329.1h2.7v2.7h-2.7zM466.7 329.8h2.7v2.7h-2.7zM471.7 330.4h2.7v2.7h-2.7zM476.7 331.1h2.7v2.7h-2.7zM481.7 331.7h2.7v2.7h-2.7zM486.7 332.3h2.7v2.7h-2.7zM491.7 333h2.7v2.7h-2.7zM496.7 333.6h2.7v2.7h-2.7zM501.7 334.3h2.7v2.7h-2.7zM506.7 334.9h2.7v2.7h-2.7zM511.7 335.5h2.7v2.7h-2.7zM516.7 336.2h2.7v2.7h-2.7zM521.7 336.8h2.7v2.7h-2.7zM526.7 337.4h2.7v2.7h-2.7zM531.7 338.1h2.7v2.7h-2.7z" fill="none" stroke="#444" stroke-width="0.8"/>
<path d="M308 325.6l1.5 .2l1.5 .3l1.5 .2l1.5 .2l1.6 .3l1.5 .2l1.5 .3l1.5 .2l1.5 .3l1.5 .2l1.5 .2l1.5 .3l1.5 .2l1.6 .3l1.5 .2l1.5 .3l1.5 .2l1.5 .3l1.5 .2l1.5 .3l1.5 .2l1.5 .2l1.6 .3l1.5 .2l1.5 .3l1.5 .2l1.5 .3l1.5 .2l1.5 .2l1.5 .3l1.5 .2l1.6 .2l1.5 .2l1.5 .3l1.5 .2l1.5 .2l1.5 .2l1.5 .3l1.5 .2l1.5 .2l1.6 .2l1.5 .2l1.5 .2l1.5 .2l1.5 .2l1.5 .2l1.5 .2l1.5 .2l1.5 .2l1.5 .2l1.5 .1l1.5 .2l1.5 .2l1.5 .2l1.5 .2l1.5 .2l1.5 .1l1.5 .2l1.5 .2l1.5 .2l1.5 .1l1.5 .2l1.5 .2l1.5 .2l1.5 .1l1.5 .2l1.5 .2l1.5 .1l1.5 .2l1.5 .2l1.5 .1l1.5 .2l1.5 .2l1.5 .1l1.5 .2l1.5 .2l1.5 .1l1.5 .2l1.5 .1l1.5 .2l1.5 .2l1.5 .1l1.5 .2l1.5 .1l1.5 .2l1.5 .1l1.5 .2l1.5 .2l1.5 .1l1.5 .2l1.5 .1l1.5 .2l1.5 .1l1.5 .2l1.5 .1l1.5 .2l1.5 .1l1.6 .2l1.5 .1l1.5 .2l1.5 .1l1.5 .2l1.5 .1l1.5 .2l1.5 .1l1.5 .2l1.5 .1l1.5 .2l1.5 .1l1.5 .2l1.5 .1l1.5 .2l1.5 .1l1.5 .2l1.5 .1l1.5 .1l1.5 .2l1.5 .1l1.5 .2l1.5 .1l1.5 .2l1.5 .1l1.5 .2l1.5 .1l1.5 .2l1.5 .1l1.5 .2l1.5 .1l1.5 .2l1.5 .1l1.5 .2l1.5 .1l1.5 .2l1.5 .1l1.5 .2l1.5 .1l1.5 .2l1.5 .1l1.5 .2l1.5 .1l1.5 .2l1.5 .1l1.5 .2l1.5 .2l1.5 .1l1.5 .2l1.5 .1l1.5 .2l1.5 .1l1.5 .2" fill="none" stroke="#ff1a1a" stroke-width="1.6" stroke-linejoin="round"/>
<path d="M306.1 327.8a1.9 1.9 0 1 0 3.8 0a1.9 1.9 0 1 0 -3.8 0M311.1 328.6a1.9 1.9 0 1 0 3.8 0a1.9 1.9 0 1 0 -3.8 0M316.1 329.4a1.9 1.9 0 1 0 3.8 0a1.9 1.9 0 1 0 -3.8 0M321.1 330.2a1.9 1.9 0 1 0 3.8 0a1.9 1.9 0 1 0 -3.8 0M326.1 331a1.9 1.9 0 1 0 3.8 0a1.9 1.9 0 1 0 -3.8 0M331.1 331.8a1.9 1.9 0 1 0 3.8 0a1.9 1.9 0 1 0 -3.8 0M336.1 332.6a1.9 1.9 0 1 0 3.8 0a1.9 1.9 0 1 0 -3.8 0M341.1 333.4a1.9 1.9 0 1 0 3.8 0a1.9 1.9 0 1 0 -3.8 0M346.1 334.2a1.9 1.9 0 1 0 3.8 0a1.9 1.9 0 1 0 -3.8 0M351.1 335a1.9 1.9 0 1 0 3.8 0a1.9 1.9 0 1 0 -3.8 0M356.1 335.8a1.9 1.9 0 1 0 3.8 0a1.9 1.9 0 1 0 -3.8 0M361.1 336.5a1.9 1.9 0 1 0 3.8 0a1.9 1.9 0 1 0 -3.8 0M366.1 337.2a1.9 1.9 0 1 0 3.8 0a1.9 1.9 0 1 0 -3.8 0M371.1 337.9a1.9 1.9 0 1 0 3.8 0a1.9 1.9 0 1 0 -3.8 0M376.1 338.6a1.9 1.9 0 1 0 3.8 0a1.9 1.9 0 1 0 -3.8 0M381.1 339.2a1.9 1.9 0 1 0 3.8 0a1.9 1.9 0 1 0 -3.8 0M386.1 339.8a1.9 1.9 0 1 0 3.8 0a1.9 1.9 0 1 0 -3.8 0M391.1 340.4a1.9 1.9 0 1 0 3.8 0a1.9 1.9 0 1 0 -3.8 0M396.1 341a1.9 1.9 0 1 0 3.8 0a1.9 1.9 0 1 0 -3.8 0M401.1 341.6a1.9 1.9 0 1 0 3.8 0a1.9 1.9 0 1 0 -3.8 0M406.1 342.2a1.9 1.9 0 1 0 3.8 0a1.9 1.9 0 1 0 -3.8 0M411.1 342.7a1.9 1.9 0 1 0 3.8 0a1.9 1.9 0 1 0 -3.8 0M416.1 343.3a1.9 1.9 0 1 0 3.8 0a1.9 1.9 0 1 0 -3.8 0M421.1 343.8a1.9 1.9 0 1 0 3.8 0a1.9 1.9 0 1 0 -3.8 0M426.1 344.3a1.9 1.9 0 1 0 3.8 0a1.9 1.9 0 1 0 -3.8 0M431.1 344.9a1.9 1.9 0 1 0 3.8 0a1.9 1.9 0 1 0 -3.8 0M436.1 345.4a1.9 1.9 0 1 0 3.8 0a1.9 1.9 0 1 0 -3.8 0M441.2 345.9a1.9 1.9 0 1 0 3.8 0a1.9 1.9 0 1 0 -3.8 0M446.2 346.4a1.9 1.9 0 1 0 3.8 0a1.9 1.9 0 1 0 -3.8 0M451.2 346.9a1.9 1.9 0 1 0 3.8 0a1.9 1.9 0 1 0 -3.8 0M456.2 347.4a1.9 1.9 0 1 0 3.8 0a1.9 1.9 0 1 0 -3.8 0M461.2 347.9a1.9 1.9 0 1 0 3.8 0a1.9 1.9 0 1 0 -3.8 0M466.2 348.4a1.9 1.9 0 1 0 3.8 0a1.9 1.9 0 1 0 -3.8 0M471.2 348.9a1.9 1.9 0 1 0 3.8 0a1.9 1.9 0 1 0 -3.8 0M476.2 349.4a1.9 1.9 0 1 0 3.8 0a1.9 1.9 0 1 0 -3.8 0M481.2 349.9a1.9 1.9 0 1 0 3.8 0a1.9 1.9 0 1 0 -3.8 0M486.2 350.4a1.9 1.9 0 1 0 3.8 0a1.9 1.9 0 1 0 -3.8 0M491.2 350.9a1.9 1.9 0 1 0 3.8 0a1.9 1.9 0 1 0 -3.8 0M496.2 351.4a1.9 1.9 0 1 0 3.8 0a1.9 1.9 0 1 0 -3.8 0M501.2 351.9a1.9 1.9 0 1 0 3.8 0a1.9 1.9 0 1 0 -3.8 0M506.2 352.4a1.9 1.9 0 1 0 3.8 0a1.9 1.9 0 1 0 -3.8 0M511.2 352.9a1.9 1.9 0 1 0 3.8 0a1.9 1.9 0 1 0 -3.8 0M516.2 353.4a1.9 1.9 0 1 0 3.8 0a1.9 1.9 0 1 0 -3.8 0M521.2 353.9a1.9 1.9 0 1 0 3.8 0a1.9 1.9 0 1 0 -3.8 0M526.2 354.4a1.9 1.9 0 1 0 3.8 0a1.9 1.9 0 1 0 -3.8 0M531.2 354.9a1.9 1.9 0 1 0 3.8 0a1.9 1.9 0 1 0 -3.8 0" fill="none" stroke="#ffc4c4" stroke-width="0.8"/>
<path d="M308 400l1.5 .1l1.5 .1l1.5 .2l1.5 .1l1.6 .1l1.5 .1l1.5 .1l1.5 .2l1.5 .1l1.5 .1l1.5 .1l1.5 .1l1.5 .1l1.6 .2l1.5 .1l1.5 .1l1.5 .1l1.5 .1l1.5 .2l1.5 .1l1.5 .1l1.5 .1l1.6 .1l1.5 .2l1.5 .1l1.5 .1l1.5 .1l1.5 .1l1.5 .2l1.5 .1l1.5 .1l1.6 .1l1.5 .1l1.5 .2l1.5 .1l1.5 .1l1.5 .1l1.5 .1l1.5 .2l1.5 .1l1.6 .1l1.5 .1l1.5 .2l1.5 .1l1.5 .1l1.5 .1l1.5 .1l1.5 .2l1.5 .1l1.5 .1l1.5 .1l1.5 .2l1.5 .1l1.5 .1l1.5 .1l1.5 .2l1.5 .1l1.5 .1l1.5 .1l1.5 .2l1.5 .1l1.5 .1l1.5 .2l1.5 .1l1.5 .1l1.5 .1l1.5 .2l1.5 .1l1.5 .1l1.5 .2l1.5 .1l1.5 .1l1.5 .1l1.5 .2l1.5 .1l1.5 .1l1.5 .2l1.5 .1l1.5 .1l1.5 .1l1.5 .2l1.5 .1l1.5 .1l1.5 .2l1.5 .1l1.5 .1l1.5 .1l1.5 .2l1.5 .1l1.5 .1l1.5 .2l1.5 .1l1.5 .1l1.5 .2l1.5 .1l1.5 .1l1.5 .2l1.6 .1l1.5 .1l1.5 .1l1.5 .2l1.5 .1l1.5 .1l1.5 .2l1.5 .1l1.5 .1l1.5 .2l1.5 .1l1.5 .1l1.5 .2l1.5 .1l1.5 .1l1.5 .2l1.5 .1l1.5 .1l1.5 .2l1.5 .1l1.5 .1l1.5 .1l1.5 .2l1.5 .1l1.5 .1l1.5 .2l1.5 .1l1.5 .1l1.5 .2l1.5 .1l1.5 .1l1.5 .2l1.5 .1l1.5 .1l1.5 .2l1.5 .1l1.5 .1l1.5 .1l1.5 .2l1.5 .1l1.5 .1l1.5 .2l1.5 .1l1.5 .1l1.5 .2l1.5 .1l1.5 .1l1.5 .2l1.5 .1l1.5 .1l1.5 .1l1.5 .2l1.5 .1" fill="none" stroke="#777" stroke-width="1.6" stroke-linejoin="round"/>
<path d="M306.6 400.4h2.9v2.9h-2.9zM311.6 400.8h2.9v2.9h-2.9zM316.6 401.2h2.9v2.9h-2.9zM321.6 401.5h2.9v2.9h-2.9zM326.6 401.9h2.9v2.9h-2.9zM331.6 402.3h2.9v2.9h-2.9zM336.6 402.7h2.9v2.9h-2.9zM341.6 403.1h2.9v2.9h-2.9zM346.6 403.5h2.9v2.9h-2.9zM351.6 403.9h2.9v2.9h-2.9zM356.6 404.3h2.9v2.9h-2.9zM361.6 404.7h2.9v2.9h-2.9zM366.6 405.1h2.9v2.9h-2.9zM371.6 405.5h2.9v2.9h-2.9zM376.6 405.9h2.9v2.9h-2.9zM381.6 406.3h2.9v2.9h-2.9zM386.6 406.8h2.9v2.9h-2.9zM391.6 407.2h2.9v2.9h-2.9zM396.6 407.6h2.9v2.9h-2.9zM401.6 408h2.9v2.9h-2.9zM406.6 408.4h2.9v2.9h-2.9zM411.6 408.9h2.9v2.9h-2.9zM416.6 409.3h2.9v2.9h-2.9zM421.6 409.7h2.9v2.9h-2.9zM426.6 410.2h2.9v2.9h-2.9zM431.6 410.6h2.9v2.9h-2.9zM436.6 411h2.9v2.9h-2.9zM441.6 411.5h2.9v2.9h-2.9zM446.6 411.9h2.9v2.9h-2.9zM451.6 412.3h2.9v2.9h-2.9zM456.6 412.8h2.9v2.9h-2.9zM461.6 413.2h2.9v2.9h-2.9zM466.6 413.6h2.9v2.9h-2.9zM471.6 414.1h2.9v2.9h-2.9zM476.6 414.5h2.9v2.9h-2.9zM481.6 415h2.9v2.9h-2.9zM486.6 415.4h2.9v2.9h-2.9zM491.6 415.8h2.9v2.9h-2.9zM496.6 416.3h2.9v2.9h-2.9zM501.6 416.7h2.9v2.9h-2.9zM506.6 417.1h2.9v2.9h-2.9zM511.6 417.6h2.9v2.9h-2.9zM516.7 418h2.9v2.9h-2.9zM521.7 418.5h2.9v2.9h-2.9zM526.7 418.9h2.9v2.9h-2.9zM531.7 419.3h2.9v2.9h-2.9z" fill="none" stroke="#c4c4c4" stroke-width="0.8"/>
<path d="M308 319l1.5 .2l1.5 .2l1.5 .2l1.5 .2l1.6 .2l1.5 .2l1.5 .2l1.5 .2l1.5 .1l1.5 .2l1.5 .2l1.5 .2l1.5 .2l1.6 .2l1.5 .2l1.5 .2l1.5 .2l1.5 .2l1.5 .2l1.5 .2l1.5 .2l1.5 .2l1.6 .2l1.5 .2l1.5 .2l1.5 .2l1.5 .2l1.5 .1l1.5 .2l1.5 .2l1.5 .2l1.6 .2l1.5 .2l1.5 .2l1.5 .2l1.5 .2l1.5 .2l1.5 .2l1.5 .2l1.5 .2l1.6 .1l1.5 .2l1.5 .2l1.5 .2l1.5 .2l1.5 .2l1.5 .2l1.5 .2l1.5 .1l1.5 .2l1.5 .2l1.5 .2l1.5 .2l1.5 .2l1.5 .2l1.5 .1l1.5 .2l1.5 .2l1.5 .2l1.5 .2l1.5 .2l1.5 .1l1.5 .2l1.5 .2l1.5 .2l1.5 .2l1.5 .2l1.5 .1l1.5 .2l1.5 .2l1.5 .2l1.5 .2l1.5 .1l1.5 .2l1.5 .2l1.5 .2l1.5 .2l1.5 .1l1.5 .2l1.5 .2l1.5 .2l1.5 .2l1.5 .1l1.5 .2l1.5 .2l1.5 .2l1.5 .2l1.5 .1l1.5 .2l1.5 .2l1.5 .2l1.5 .2l1.5 .1l1.5 .2l1.5 .2l1.5 .2l1.5 .1l1.6 .2l1.5 .2l1.5 .2l1.5 .2l1.5 .1l1.5 .2l1.5 .2l1.5 .2l1.5 .2l1.5 .1l1.5 .2l1.5 .2l1.5 .2l1.5 .1l1.5 .2l1.5 .2l1.5 .2l1.5 .2l1.5 .1l1.5 .2l1.5 .2l1.5 .2l1.5 .1l1.5 .2l1.5 .2l1.5 .2l1.5 .2l1.5 .1l1.5 .2l1.5 .2l1.5 .2l1.5 .1l1.5 .2l1.5 .2l1.5 .2l1.5 .2l1.5 .1l1.5 .2l1.5 .2l1.5 .2l1.5 .1l1.5 .2l1.5 .2l1.5 .2l1.5 .2l1.5 .1l1.5 .2l1.5 .2l1.5 .2l1.5 .2l1.5 .1l1.5 .2l1.5 .2" fill="none" stroke="#ff8c1a" stroke-width="1.6" stroke-linejoin="round"/>
<path d="M306.4 319.6a1.6 1.6 0 1 0 3.2 0a1.6 1.6 0 1 0 -3.2 0M311.4 320.2a1.6 1.6 0 1 0 3.2 0a1.6 1.6 0 1 0 -3.2 0M316.4 320.9a1.6 1.6 0 1 0 3.2 0a1.6 1.6 0 1 0 -3.2 0M321.4 321.5a1.6 1.6 0 1 0 3.2 0a1.6 1.6 0 1 0 -3.2 0M326.4 322.2a1.6 1.6 0 1 0 3.2 0a1.6 1.6 0 1 0 -3.2 0M331.4 322.8a1.6 1.6 0 1 0 3.2 0a1.6 1.6 0 1 0 -3.2 0M336.4 323.5a1.6 1.6 0 1 0 3.2 0a1.6 1.6 0 1 0 -3.2 0M341.4 324.1a1.6 1.6 0 1 0 3.2 0a1.6 1.6 0 1 0 -3.2 0M346.4 324.8a1.6 1.6 0 1 0 3.2 0a1.6 1.6 0 1 0 -3.2 0M351.4 325.4a1.6 1.6 0 1 0 3.2 0a1.6 1.6 0 1 0 -3.2 0M356.4 326a1.6 1.6 0 1 0 3.2 0a1.6 1.6 0 1 0 -3.2 0M361.4 326.7a1.6 1.6 0 1 0 3.2 0a1.6 1.6 0 1 0 -3.2 0M366.4 327.3a1.6 1.6 0 1 0 3.2 0a1.6 1.6 0 1 0 -3.2 0M371.4 327.9a1.6 1.6 0 1 0 3.2 0a1.6 1.6 0 1 0 -3.2 0M376.4 328.5a1.6 1.6 0 1 0 3.2 0a1.6 1.6 0 1 0 -3.2 0M381.4 329.2a1.6 1.6 0 1 0 3.2 0a1.6 1.6 0 1 0 -3.2 0M386.4 329.8a1.6 1.6 0 1 0 3.2 0a1.6 1.6 0 1 0 -3.2 0M391.4 330.4a1.6 1.6 0 1 0 3.2 0a1.6 1.6 0 1 0 -3.2 0M396.4 331a1.6 1.6 0 1 0 3.2 0a1.6 1.6 0 1 0 -3.2 0M401.4 331.6a1.6 1.6 0 1 0 3.2 0a1.6 1.6 0 1 0 -3.2 0M406.4 332.2a1.6 1.6 0 1 0 3.2 0a1.6 1.6 0 1 0 -3.2 0M411.4 332.8a1.6 1.6 0 1 0 3.2 0a1.6 1.6 0 1 0 -3.2 0M416.5 333.4a1.6 1.6 0 1 0 3.2 0a1.6 1.6 0 1 0 -3.2 0M421.5 334a1.6 1.6 0 1 0 3.2 0a1.6 1.6 0 1 0 -3.2 0M426.5 334.6a1.6 1.6 0 1 0 3.2 0a1.6 1.6 0 1 0 -3.2 0M431.5 335.2a1.6 1.6 0 1 0 3.2 0a1.6 1.6 0 1 0 -3.2 0M436.5 335.8a1.6 1.6 0 1 0 3.2 0a1.6 1.6 0 1 0 -3.2 0M441.5 336.4a1.6 1.6 0 1 0 3.2 0a1.6 1.6 0 1 0 -3.2 0M446.5 337a1.6 1.6 0 1 0 3.2 0a1.6 1.6 0 1 0 -3.2 0M451.5 337.6a1.6 1.6 0 1 0 3.2 0a1.6 1.6 0 1 0 -3.2 0M456.5 338.2a1.6 1.6 0 1 0 3.2 0a1.6 1.6 0 1 0 -3.2 0M461.5 338.8a1.6 1.6 0 1 0 3.2 0a1.6 1.6 0 1 0 -3.2 0M466.5 339.4a1.6 1.6 0 1 0 3.2 0a1.6 1.6 0 1 0 -3.2 0M471.5 340a1.6 1.6 0 1 0 3.2 0a1.6 1.6 0 1 0 -3.2 0M476.5 340.6a1.6 1.6 0 1 0 3.2 0a1.6 1.6 0 1 0 -3.2 0M481.5 341.2a1.6 1.6 0 1 0 3.2 0a1.6 1.6 0 1 0 -3.2 0M486.5 341.8a1.6 1.6 0 1 0 3.2 0a1.6 1.6 0 1 0 -3.2 0M491.5 342.4a1.6 1.6 0 1 0 3.2 0a1.6 1.6 0 1 0 -3.2 0M496.5 343a1.6 1.6 0 1 0 3.2 0a1.6 1.6 0 1 0 -3.2 0M501.5 343.6a1.6 1.6 0 1 0 3.2 0a1.6 1.6 0 1 0 -3.2 0M506.5 344.2a1.6 1.6 0 1 0 3.2 0a1.6 1.6 0 1 0 -3.2 0M511.5 344.8a1.6 1.6 0 1 0 3.2 0a1.6 1.6 0 1 0 -3.2 0M516.5 345.3a1.6 1.6 0 1 0 3.2 0a1.6 1.6 0 1 0 -3.2 0M521.5 345.9a1.6 1.6 0 1 0 3.2 0a1.6 1.6 0 1 0 -3.2 0M526.5 346.5a1.6 1.6 0 1 0 3.2 0a1.6 1.6 0 1 0 -3.2 0M531.5 347.1a1.6 1.6 0 1 0 3.2 0a1.6 1.6 0 1 0 -3.2 0" fill="none" stroke="#ffb060" stroke-width="0.8"/>
<path d="M308 301.6l1.5 -.2l1.5 -.1l1.6 -.2l1.5 -.1l1.5 -.2l1.5 -.1l1.6 -.2l1.5 -.2l1.5 -.1l1.5 -.2l1.6 -.2l1.5 -.1l1.5 -.2l1.5 -.1l1.6 -.2l1.5 -.1l1.5 -.2l1.5 -.1l1.6 -.1l1.5 -.2l1.5 -.1l1.5 -.1l1.5 -.1l1.5 -.2l1.5 -.1l1.5 -.1l1.5 -.1l1.5 -.1l1.5 -.1l1.5 -.1l1.5 -.1l1.5 -.1l1.5 -.1l1.5 -.1l1.5 -.1l1.5 -.1l1.5 -.1l1.5 -.1l1.5 -.1l1.5 -.1l1.5 -.1l1.5 -.1l1.5 -.1l1.5 -.1l1.5 -.1l1.5 -.1l1.5 -.1l1.6 -.1l1.5 -.1l1.5 -.1l1.5 -.1l1.5 -.1l1.5 -.1l1.6 -.1l1.5 -.1l1.5 -.1l1.5 -.1l1.5 -.1l1.5 -.1l1.6 -.1l1.5 -.1l1.5 -.1l1.5 -.1l1.5 -.1l1.5 -.1l1.6 -.1l1.5 -.1l1.5 -.1l1.5 -.1l1.5 -.1l1.5 -.1l1.6 -.1l1.5 -.1l1.5 -.1l1.5 -.1l1.5 -.1l1.5 -.1l1.5 -.1l1.5 -.1l1.5 -.1l1.5 -0l1.5 -.1l1.5 -.1l1.5 -.1l1.5 -.1l1.5 -.1l1.5 -.1l1.5 -.1l1.5 -.1l1.5 -0l1.5 -.1l1.5 -.1l1.5 -.1l1.5 -.1l1.5 -.1l1.5 -.1l1.5 -.1l1.5 -0l1.5 -.1l1.5 -.1l1.5 -.1l1.5 -.1l1.5 -.1l1.5 -.1l1.5 -0l1.5 -.1l1.5 -.1l1.5 -.1l1.5 -.1l1.5 -.1l1.5 -0l1.5 -.1l1.5 -.1l1.5 -.1l1.5 -.1l1.6 -.1l1.5 -.1l1.5 -0l1.6 -.1l1.5 -.1l1.5 -.1l1.6 -.1l1.5 -.1l1.5 -0l1.5 -.1l1.6 -.1l1.5 -.1l1.5 -.1l1.6 -.1l1.5 -0l1.5 -.1l1.6 -.1l1.5 -.1l1.5 -.1l1.6 -.1l1.5 -0l1.5 -.1l1.6 -.1l1.5 -.1l1.5 -.1l1.5 -0l1.6 -.1l1.5 -.1l1.5 -.1l1.6 -.1l1.5 -.1l1.5 -0l1.6 -.1l1.5 -.1" fill="none" stroke="#ff19ff" stroke-width="1.6" stroke-linejoin="round"/>
<path d="M308 305.3l1.7 -3h-3.4zM313 304.8l1.7 -3h-3.4zM318 304.3l1.7 -3h-3.4zM323 303.7l1.7 -3h-3.4zM328 303.2l1.7 -3h-3.4zM333 302.7l1.7 -3h-3.4zM338 302.3l1.7 -3h-3.4zM343 301.9l1.7 -3h-3.4zM348 301.5l1.7 -3h-3.4zM353 301.1l1.7 -3h-3.4zM358 300.8l1.7 -3h-3.4zM363 300.5l1.7 -3h-3.4zM368 300.1l1.7 -3h-3.4zM373 299.8l1.7 -3h-3.4zM378 299.5l1.7 -3h-3.4zM383 299.1l1.7 -3h-3.4zM388 298.8l1.7 -3h-3.4zM393 298.5l1.7 -3h-3.4zM398 298.1l1.7 -3h-3.4zM403 297.8l1.7 -3h-3.4zM408 297.5l1.7 -3h-3.4zM413 297.1l1.7 -3h-3.4zM418 296.8l1.7 -3h-3.4zM423 296.5l1.7 -3h-3.4zM428 296.2l1.7 -3h-3.4zM433 295.9l1.7 -3h-3.4zM438 295.6l1.7 -3h-3.4zM443 295.3l1.7 -3h-3.4zM448 295l1.7 -3h-3.4zM453 294.7l1.7 -3h-3.4zM458 294.4l1.7 -3h-3.4zM463 294.2l1.7 -3h-3.4zM468 293.9l1.7 -3h-3.4zM473 293.6l1.7 -3h-3.4zM478 293.3l1.7 -3h-3.4zM483 293l1.7 -3h-3.4zM488 292.8l1.7 -3h-3.4zM493 292.5l1.7 -3h-3.4zM498 292.2l1.7 -3h-3.4zM503 291.9l1.7 -3h-3.4zM508.1 291.7l1.7 -3h-3.4zM513.1 291.4l1.7 -3h-3.4zM518.1 291.1l1.7 -3h-3.4zM523.1 290.9l1.7 -3h-3.4zM528.1 290.6l1.7 -3h-3.4zM533.1 290.3l1.7 -3h-3.4z" fill="none" stroke="#ffa6ff" stroke-width="0.7"/>
<path d="M308 388.6l1.6 -.2l1.6 -.1l1.6 -.2l1.6 -.2l1.6 -.2l1.6 -.1l1.6 -.2l1.6 -.1l1.6 -.2l1.6 -.1l1.5 -.1l1.6 -.1l1.5 -.1l1.5 -.1l1.5 -.1l1.6 -.1l1.5 -.1l1.5 -.1l1.6 -.1l1.5 -.1l1.5 -.1l1.6 -.1l1.5 -.1l1.5 -.1l1.5 -.1l1.6 -.1l1.5 -.1l1.5 -0l1.6 -.1l1.5 -.1l1.5 -.1l1.5 -0l1.6 -.1l1.5 -.1l1.5 -0l1.6 -.1l1.5 -.1l1.5 -0l1.6 -.1l1.5 -0l1.5 -.1l1.5 -0l1.6 -.1l1.5 0l1.5 -0l1.5 -.1l1.5 -0l1.6 -0l1.5 -.1l1.5 -0l1.5 -.1l1.5 0l1.5 -0l1.6 -.1l1.5 0l1.5 -0l1.5 -.1l1.5 0l1.5 -0l1.6 -.1l1.5 0l1.5 -0l1.5 -.1l1.5 0l1.5 -0l1.5 -0l1.6 -.1l1.5 0l1.5 -0l1.5 -.1l1.5 0l1.5 -0l1.6 -0l1.5 -0l1.5 -.1l1.5 0l1.5 -0l1.5 -0l1.5 -0l1.6 -.1l1.5 0l1.5 0l1.5 -0l1.5 -0l1.5 -0l1.6 -.1l1.5 0l1.5 0l1.5 0l1.5 0l1.5 0l1.6 0l1.5 0l1.5 0l1.5 0l1.5 0l1.5 0l1.5 0l1.6 0l1.5 0l1.5 0l1.5 0l1.5 .1l1.5 -0l1.6 -0l1.5 -0l1.5 0l1.5 0l1.5 0l1.5 .1l1.5 -0l1.6 0l1.5 0l1.5 .1l1.5 -0l1.5 0l1.5 0l1.5 .1l1.6 -0l1.5 0l1.5 0l1.5 .1l1.5 -0l1.5 0l1.6 .1l1.5 -0l1.5 0l1.5 0l1.5 .1l1.5 0l1.5 0l1.6 .1l1.5 -0l1.5 0l1.5 .1l1.5 -0l1.5 0l1.5 0l1.6 .1l1.5 -0l1.5 0l1.5 .1l1.5 -0l1.5 0l1.6 0l1.5 .1l1.5 -0l1.5 0" fill="none" stroke="#1fb01f" stroke-width="1.6" stroke-linejoin="round"/>
<path d="M306.7 390.4h2.6M308 389.1v2.6M311.7 389.9h2.6M313 388.6v2.6M316.7 389.3h2.6M318 388v2.6M321.7 388.9h2.6M323 387.6v2.6M326.7 388.5h2.6M328 387.2v2.6M331.7 388.2h2.6M333 386.9v2.6M336.7 387.8h2.6M338 386.5v2.6M341.7 387.5h2.6M343 386.2v2.6M346.7 387.2h2.6M348 385.9v2.6M351.7 387h2.6M353 385.7v2.6M356.7 386.7h2.6M358 385.4v2.6M361.7 386.5h2.6M363 385.2v2.6M366.7 386.3h2.6M368 385v2.6M371.7 386.2h2.6M373 384.9v2.6M376.7 386.1h2.6M378 384.8v2.6M381.7 385.9h2.6M383 384.6v2.6M386.7 385.8h2.6M388 384.5v2.6M391.8 385.7h2.6M393.1 384.4v2.6M396.8 385.6h2.6M398.1 384.3v2.6M401.8 385.5h2.6M403.1 384.2v2.6M406.8 385.4h2.6M408.1 384.1v2.6M411.8 385.3h2.6M413.1 384v2.6M416.9 385.2h2.6M418.2 383.9v2.6M421.9 385.1h2.6M423.2 383.8v2.6M426.9 385.1h2.6M428.2 383.8v2.6M431.9 385h2.6M433.2 383.7v2.6M436.9 385h2.6M438.2 383.7v2.6M442 384.9h2.6M443.3 383.6v2.6M447 384.9h2.6M448.3 383.6v2.6M452 384.9h2.6M453.3 383.6v2.6M457 384.9h2.6M458.3 383.6v2.6M462 384.9h2.6M463.3 383.6v2.6M467.1 385h2.6M468.4 383.7v2.6M472.1 385h2.6M473.4 383.7v2.6M477.1 385.1h2.6M478.4 383.8v2.6M482.1 385.2h2.6M483.4 383.9v2.6M487.1 385.3h2.6M488.4 384v2.6M492.2 385.4h2.6M493.5 384.1v2.6M497.2 385.4h2.6M498.5 384.1v2.6M502.2 385.5h2.6M503.5 384.2v2.6M507.2 385.6h2.6M508.5 384.3v2.6M512.2 385.7h2.6M513.5 384.4v2.6M517.2 385.8h2.6M518.5 384.5v2.6M522.3 385.9h2.6M523.6 384.6v2.6M527.3 386h2.6M528.6 384.7v2.6M532.3 386.1h2.6M533.6 384.8v2.6" stroke="#2cb02c" stroke-width="0.9"/>
</g>
<text x="526" y="409.5" font-size="9" fill="#333" text-anchor="middle" font-family='"Liberation Serif", serif' font-weight="normal" font-style="italic">r</text>
<rect x="323.8" y="338.4" width="58.7" height="61.4" fill="#fff" fill-opacity="1" stroke="#444" stroke-width="0.9"/>
<rect x="328.64" y="345.84" width="3.52" height="3.52" fill="none" stroke="#333" stroke-width="0.9"/>
<text x="355.6" y="350.7" font-size="8.6" fill="#000" text-anchor="middle" font-family='"Liberation Sans", sans-serif' font-weight="bold" font-style="italic">Q</text>
<circle cx="330.4" cy="357" r="2.97" fill="none" stroke="#ff1a1a" stroke-width="0.9"/>
<text x="355.6" y="360.1" font-size="8.6" fill="#ff1a1a" text-anchor="middle" font-family='"Liberation Sans", sans-serif' font-weight="bold" font-style="italic">M</text>
<path d="M330.4 363.9L332.9 368.27L327.9 368.27Z" fill="none" stroke="#aaa" stroke-width="0.9"/>
<text x="335.9" y="368.6" font-size="6.7" fill="#b0b0b0" text-anchor="start" font-family='"Liberation Sans", sans-serif' font-weight="normal">(1&#8201;-&#8201;γ)&#8201;(P&#8201;-&#8201;W)</text>
<circle cx="330.4" cy="374.4" r="1.95" fill="none" stroke="#ff8c1a" stroke-width="0.9"/>
<text x="355.6" y="377.5" font-size="8.6" fill="#ff8c1a" text-anchor="middle" font-family='"Liberation Sans", sans-serif' font-weight="bold" font-style="italic">G</text>
<path d="M330.4 385L333 380.45L327.8 380.45Z" fill="none" stroke="#ff19ff" stroke-width="0.9"/>
<text x="355.6" y="385.5" font-size="8.6" fill="#ff19ff" text-anchor="middle" font-family='"Liberation Sans", sans-serif' font-weight="bold" font-style="italic">U</text>
<path d="M328.2 391H332.6M330.4 388.8V393.2" stroke="#1fb01f" stroke-width="0.9"/>
<text x="354.6" y="394.3" font-size="9.2" fill="#22b822" text-anchor="middle" font-family='"Liberation Sans", sans-serif' font-weight="bold">10<tspan font-size="6" dy="-3.5">5</tspan><tspan dy="3.5" dx="0.6" font-family='Liberation Serif' font-style="italic" font-weight="normal" fill="#5cc85c">π</tspan></text>
<text x="529" y="298.8" font-size="8" fill="#222" text-anchor="middle" font-family='"Liberation Sans", sans-serif' font-weight="normal">h2</text>
</g>
<clipPath id="ci1"><rect x="5.5" y="423.1" width="265.0" height="138.89999999999998"/></clipPath>
<g clip-path="url(#ci1)">
<line x1="86" y1="423.1" x2="86" y2="562" stroke="#f1f1f1" stroke-width="0.9"/>
<line x1="136.7" y1="423.1" x2="136.7" y2="562" stroke="#f1f1f1" stroke-width="0.9"/>
<line x1="187.4" y1="423.1" x2="187.4" y2="562" stroke="#f1f1f1" stroke-width="0.9"/>
<line x1="238.1" y1="423.1" x2="238.1" y2="562" stroke="#f1f1f1" stroke-width="0.9"/>
<line x1="35.4" y1="432.6" x2="270.5" y2="432.6" stroke="#f1f1f1" stroke-width="0.9"/>
<line x1="35.4" y1="452" x2="270.5" y2="452" stroke="#f1f1f1" stroke-width="0.9"/>
<line x1="35.4" y1="471.4" x2="270.5" y2="471.4" stroke="#f1f1f1" stroke-width="0.9"/>
<line x1="35.4" y1="490.8" x2="270.5" y2="490.8" stroke="#f1f1f1" stroke-width="0.9"/>
<line x1="35.4" y1="510.2" x2="270.5" y2="510.2" stroke="#f1f1f1" stroke-width="0.9"/>
<line x1="35.4" y1="529.6" x2="270.5" y2="529.6" stroke="#f1f1f1" stroke-width="0.9"/>
<line x1="35.4" y1="423.1" x2="35.4" y2="562" stroke="#d8d8d8" stroke-width="1"/>
<text x="32.4" y="435.5" font-size="8.2" fill="#262626" text-anchor="end" font-family='"Liberation Sans", sans-serif' font-weight="normal" letter-spacing="-0.3" stroke="#262626" stroke-width="0.12">1200</text>
<text x="32.4" y="454.9" font-size="8.2" fill="#262626" text-anchor="end" font-family='"Liberation Sans", sans-serif' font-weight="normal" letter-spacing="-0.3" stroke="#262626" stroke-width="0.12">1000</text>
<text x="32.4" y="474.3" font-size="8.2" fill="#262626" text-anchor="end" font-family='"Liberation Sans", sans-serif' font-weight="normal" letter-spacing="-0.3" stroke="#262626" stroke-width="0.12">800</text>
<text x="32.4" y="493.7" font-size="8.2" fill="#262626" text-anchor="end" font-family='"Liberation Sans", sans-serif' font-weight="normal" letter-spacing="-0.3" stroke="#262626" stroke-width="0.12">600</text>
<text x="32.4" y="513.1" font-size="8.2" fill="#262626" text-anchor="end" font-family='"Liberation Sans", sans-serif' font-weight="normal" letter-spacing="-0.3" stroke="#262626" stroke-width="0.12">400</text>
<text x="32.4" y="532.5" font-size="8.2" fill="#262626" text-anchor="end" font-family='"Liberation Sans", sans-serif' font-weight="normal" letter-spacing="-0.3" stroke="#262626" stroke-width="0.12">200</text>
<text x="32.4" y="551.9" font-size="8.2" fill="#262626" text-anchor="end" font-family='"Liberation Sans", sans-serif' font-weight="normal" letter-spacing="-0.3" stroke="#262626" stroke-width="0.12">0</text>
<line x1="137" y1="423.1" x2="137" y2="562" stroke="#5e5e5e" stroke-width="2.1" stroke-dasharray="2.0 4.6" stroke-dashoffset="4.3"/>
<text x="86" y="558.1" font-size="8.2" fill="#262626" text-anchor="middle" font-family='"Liberation Sans", sans-serif' font-weight="normal" letter-spacing="-0.3" stroke="#262626" stroke-width="0.12">0.85</text>
<text x="136.7" y="558.1" font-size="8.2" fill="#262626" text-anchor="middle" font-family='"Liberation Sans", sans-serif' font-weight="normal" letter-spacing="-0.3" stroke="#262626" stroke-width="0.12">0.90</text>
<text x="187.4" y="558.1" font-size="8.2" fill="#262626" text-anchor="middle" font-family='"Liberation Sans", sans-serif' font-weight="normal" letter-spacing="-0.3" stroke="#262626" stroke-width="0.12">0.95</text>
<text x="238.1" y="558.1" font-size="8.2" fill="#262626" text-anchor="middle" font-family='"Liberation Sans", sans-serif' font-weight="normal" letter-spacing="-0.3" stroke="#262626" stroke-width="0.12">1.00</text>
<clipPath id="cci1"><rect x="35.4" y="423.1" width="235.1" height="138.89999999999998"/></clipPath><g clip-path="url(#cci1)">
<path d="M35 476l1.6 0l1.5 .1l1.6 -0l1.5 0l1.6 .1l1.6 -0l1.5 0l1.6 0l1.6 .1l1.5 0l1.6 0l1.5 .1l1.6 0l1.6 0l1.5 .1l1.6 -0l1.5 0l1.6 .1l1.5 -0l1.5 0l1.6 0l1.5 .1l1.6 -0l1.5 0l1.5 0l1.6 .1l1.5 -0l1.5 -0l1.6 0l1.5 .1l1.6 -0l1.5 0l1.5 0l1.6 .1l1.5 0l1.5 .1l1.6 0l1.5 .1l1.6 0l1.5 .1l1.5 0l1.6 .1l1.5 .1l1.7 .2l1.6 .3l1.7 .5l1.6 .5l1.7 .5l1.6 .5l1.6 .5l1.6 .4l1.7 .5l1.6 .5l1.6 .6l1.6 .6l1.7 .7l1.6 .7l1.7 .7l1.6 .8l1.6 .9l1.7 .9l1.6 .9l1.7 1.1l1.6 1.2l1.6 1.3l1.7 1.5l1.6 1.7l1.7 1.7l1.6 1.8l1.6 1.9l1.7 1.9l1.6 2.1l1.7 2.1l1.6 2l1.6 2l1.7 2l1.6 2l1.7 2l1.6 2l1.6 2.1l1.6 2.3l1.7 2.2l1.6 2.1l1.6 1.8l1.6 1.6l1.7 1.5l1.6 1.4l1.7 1.3l1.6 1.2l1.6 1.2l1.7 1.1l1.6 1.1l1.7 .9l1.6 .7l1.6 .6l1.7 .5l1.6 .4l1.7 .4l1.6 .4l1.7 .4l1.6 .3l1.5 .3l1.5 .3l1.5 .3l1.5 .3l1.5 .3l1.5 .3l1.5 .2l1.5 .3l1.5 .2l1.5 .1l1.5 .1l1.5 .1l1.6 0l1.5 .1l1.6 .1l1.5 0l1.6 .1l1.5 0l1.6 .1l1.5 0l1.6 .1l1.5 0l1.6 0l1.5 .1l1.6 0l1.5 0l1.5 .1l1.6 0l1.5 0l1.6 .1l1.5 -0l1.6 0l1.5 0l1.6 .1l1.5 -0l1.6 0l1.5 .1l1.6 -0l1.5 0l1.6 .1l1.5 -0" fill="none" stroke="#000" stroke-width="1.6" stroke-linejoin="round"/>
<path d="M33.1 476h3.7M38.6 476.1h3.7M44.1 476.2h3.7M49.6 476.3h3.7M55.1 476.4h3.7M60.6 476.6h3.7M66.1 476.6h3.7M71.6 476.7h3.7M77.1 476.8h3.7M82.6 476.9h3.7M88.1 477h3.7M93.6 477.2h3.7M99.1 477.5h3.7M104.8 478.5h3.7M110.5 480.3h3.7M116.1 482h3.7M121.7 484.1h3.7M127.4 486.8h3.7M133 490.3h3.7M138.1 494.7h3.7M143.3 500.1h3.7M147.9 505.8h3.7M152.5 511.5h3.7M157.1 517.1h3.7M161.7 523.1h3.7M166.2 529h3.7M171.3 533.8h3.7M176.5 537.6h3.7M182.1 541.1h3.7M187.6 542.9h3.7M193.1 544.2h3.7M198.6 545.3h3.7M204.1 546.4h3.7M209.6 547.1h3.7M215.2 547.4h3.7M220.7 547.6h3.7M226.3 547.8h3.7M231.8 547.9h3.7M237.4 548h3.7M242.9 548.1h3.7M248.5 548.2h3.7M254 548.3h3.7" stroke="#000" stroke-width="3.7"/>
<path d="M35 476l1.6 0l1.5 .1l1.6 -0l1.5 0l1.6 .1l1.6 -0l1.5 0l1.6 .1l1.6 -0l1.5 0l1.6 .1l1.5 -0l1.6 0l1.6 0l1.5 .1l1.6 -0l1.5 0l1.6 0l1.5 .1l1.5 -0l1.6 -0l1.5 0l1.6 0l1.5 0l1.5 0l1.6 0l1.5 .1l1.5 -0l1.6 -0l1.5 -0l1.6 0l1.5 0l1.5 0l1.6 0l1.5 .1l1.5 -0l1.6 0l1.5 0l1.6 .1l1.5 -0l1.5 0l1.6 .1l1.5 -0l1.7 .2l1.6 .3l1.7 .5l1.6 .5l1.7 .6l1.6 .4l1.6 .3l1.6 .3l1.7 .3l1.6 .3l1.6 .4l1.6 .5l1.7 .6l1.6 .7l1.7 .8l1.6 .7l1.6 .7l1.7 .8l1.6 .8l1.7 .9l1.6 .9l1.6 1l1.7 1.2l1.6 1.3l1.7 1.2l1.6 1.3l1.6 1.3l1.7 1.3l1.6 1.3l1.7 1.4l1.6 1.3l1.6 1.3l1.7 1.4l1.6 1.3l1.7 1.3l1.6 1.2l1.6 1.1l1.6 1l1.7 1l1.6 .9l1.6 .9l1.6 .9l1.7 .8l1.6 .9l1.7 .7l1.6 .8l1.6 .7l1.7 .7l1.6 .7l1.7 .6l1.6 .6l1.6 .6l1.7 .6l1.6 .5l1.7 .6l1.6 .5l1.7 .5l1.6 .4l1.5 .4l1.5 .3l1.5 .3l1.5 .4l1.5 .3l1.6 .3l1.5 .2l1.5 .3l1.5 .3l1.5 .2l1.5 .3l1.5 .3l1.5 .2l1.5 .2l1.5 .3l1.5 .2l1.5 .2l1.5 .3l1.5 .2l1.5 .2l1.5 .2l1.5 .2l1.5 .2l1.5 .2l1.5 .2l1.5 .1l1.5 .2l1.6 .2l1.5 .1l1.5 .2l1.5 .2l1.5 .1l1.5 .2l1.7 .2l1.6 .2l1.7 .1l1.6 .2l1.7 .2l1.6 .2l1.7 .1l1.6 .2" fill="none" stroke="#ff1a1a" stroke-width="1.6" stroke-linejoin="round"/>
<path d="M35 476h0M40.5 476.1h0M46 476.2h0M51.5 476.3h0M57 476.5h0M62.5 476.5h0M68 476.6h0M73.5 476.6h0M79 476.7h0M84.5 476.7h0M90 476.8h0M95.5 476.9h0M101 477h0M106.7 478.1h0M112.4 479.7h0M118 480.7h0M123.6 482.6h0M129.2 485.1h0M134.9 487.9h0M140.5 491.7h0M145.6 495.7h0M150.8 499.9h0M155.9 504h0M161 507.9h0M166.6 511.4h0M172.2 514.4h0M177.8 517.1h0M183.5 519.3h0M189 521.3h0M194.5 523.1h0M200 524.4h0M205.6 525.6h0M211.1 526.6h0M216.6 527.5h0M222.1 528.3h0M227.6 529.1h0M233.1 529.8h0M238.7 530.5h0M244.2 531.1h0M249.8 531.7h0M255.3 532.3h0" stroke="#ff1a1a" stroke-width="6.2" stroke-linecap="round"/>
<path d="M35 557.4l1.5 -0l1.5 -.1l1.5 -0l1.5 -0l1.5 -.1l1.5 -0l1.5 -0l1.5 -.1l1.5 -0l1.5 -0l1.5 -.1l1.5 -0l1.5 -0l1.5 -.1l1.5 -0l1.5 -0l1.5 -.1l1.5 -0l1.5 -0l1.5 -.1l1.5 -0l1.5 -0l1.5 -.1l1.5 -0l1.5 -0l1.5 -.1l1.5 -0l1.5 -.1l1.5 0l1.5 -0l1.5 -.1l1.5 -0l1.5 -.1l1.5 -0l1.5 -.1l1.5 -0l1.5 -0l1.5 -.1l1.5 -0l1.5 -.1l1.6 -.1l1.7 -0l1.6 -.1l1.7 -0l1.6 -.1l1.6 -.1l1.7 -.1l1.6 -.1l1.7 -.1l1.6 -.1l1.6 -.2l1.7 -.2l1.6 -.3l1.6 -.3l1.7 -.4l1.6 -.3l1.6 -.4l1.6 -.4l1.7 -.4l1.6 -.4l1.7 -.3l1.6 -.4l1.7 -.3l1.6 -.4l1.7 -.5l1.6 -.5l1.6 -.8l1.7 -1l1.6 -1.2l1.6 -1.1l1.6 -1l1.7 -1l1.6 -1l1.7 -.9l1.6 -1l1.6 -1l1.7 -1l1.6 -1l1.7 -1l1.6 -.9l1.6 -.9l1.6 -.9l1.7 -.8l1.6 -.8l1.6 -.7l1.6 -.6l1.7 -.5l1.6 -.5l1.7 -.5l1.6 -.4l1.6 -.4l1.7 -.4l1.6 -.4l1.7 -.2l1.6 -.2l1.6 -.1l1.7 -.1l1.6 -0l1.7 -.1l1.6 -0l1.7 -.1l1.6 0l1.5 -0l1.5 -.1l1.5 -0l1.5 -.1l1.5 -0l1.6 -.1l1.5 -0l1.5 -.1l1.5 -0l1.5 -.1l1.5 0l1.5 -0l1.6 -.1l1.5 0l1.6 -0l1.5 -0l1.6 -.1l1.5 -0l1.5 -0l1.6 -.1l1.5 0l1.6 0l1.5 -0l1.6 -0l1.5 -.1l1.6 0l1.5 -0l1.5 -0l1.6 -0l1.5 -.1l1.6 0l1.5 -0l1.6 -0l1.5 -0l1.5 -.1l1.6 0l1.5 -0l1.6 -0l1.5 -.1l1.6 0l1.5 0" fill="none" stroke="#777" stroke-width="1.6" stroke-linejoin="round"/>
<path d="M35 556.6l2.4 4.2h-4.8zM40.5 556.4l2.4 4.2h-4.8zM46 556.3l2.4 4.2h-4.8zM51.5 556.2l2.4 4.2h-4.8zM57 556.1l2.4 4.2h-4.8zM62.5 556l2.4 4.2h-4.8zM68 555.8l2.4 4.2h-4.8zM73.5 555.7l2.4 4.2h-4.8zM79 555.6l2.4 4.2h-4.8zM84.5 555.4l2.4 4.2h-4.8zM90 555.2l2.4 4.2h-4.8zM95.5 555.1l2.4 4.2h-4.8zM101.2 554.9l2.4 4.2h-4.8zM106.8 554.6l2.4 4.2h-4.8zM112.4 554.2l2.4 4.2h-4.8zM118 553.3l2.4 4.2h-4.8zM123.6 551.9l2.4 4.2h-4.8zM129.3 550.6l2.4 4.2h-4.8zM135 549.4l2.4 4.2h-4.8zM140.6 546.9l2.4 4.2h-4.8zM146.2 543.2l2.4 4.2h-4.8zM151.8 539.9l2.4 4.2h-4.8zM157.4 536.5l2.4 4.2h-4.8zM163 533.3l2.4 4.2h-4.8zM168.6 530.6l2.4 4.2h-4.8zM174.2 528.7l2.4 4.2h-4.8zM179.9 527.3l2.4 4.2h-4.8zM185.5 526.5l2.4 4.2h-4.8zM191 526.2l2.4 4.2h-4.8zM196.5 526.1l2.4 4.2h-4.8zM202 525.9l2.4 4.2h-4.8zM207.6 525.7l2.4 4.2h-4.8zM213.1 525.6l2.4 4.2h-4.8zM218.6 525.5l2.4 4.2h-4.8zM224.2 525.4l2.4 4.2h-4.8zM229.7 525.3l2.4 4.2h-4.8zM235.2 525.2l2.4 4.2h-4.8zM240.8 525.1l2.4 4.2h-4.8zM246.3 525.1l2.4 4.2h-4.8zM251.9 525l2.4 4.2h-4.8zM257.4 524.9l2.4 4.2h-4.8z" fill="#888"/>
<path d="M35 547.4l1.5 -.1l1.5 -0l1.5 -.1l1.5 -0l1.5 -.1l1.5 -0l1.5 -.1l1.5 -0l1.5 -.1l1.5 -0l1.5 -.1l1.5 -0l1.5 -.1l1.5 -0l1.5 -.1l1.5 -.1l1.5 -.1l1.5 -0l1.5 -.1l1.5 -.1l1.5 -.1l1.6 -.1l1.5 -.2l1.6 -.1l1.5 -.2l1.5 -.1l1.6 -.2l1.5 -.2l1.5 -.2l1.6 -.2l1.5 -.2l1.6 -.2l1.5 -.2l1.7 -.2l1.6 -.2l1.7 -.3l1.7 -.2l1.6 -.3l1.7 -.3l1.7 -.3l1.6 -.4l1.7 -.3l1.7 -.4l1.6 -.4l1.7 -.4l1.6 -.4l1.6 -.3l1.6 -.4l1.6 -.5l1.6 -.5l1.6 -.6l1.7 -.6l1.6 -.7l1.6 -.8l1.6 -1l1.7 -1.1l1.6 -1.4l1.7 -1.4l1.6 -1.6l1.6 -1.8l1.7 -2.1l1.6 -2.4l1.7 -2.3l1.6 -2.4l1.6 -2.3l1.7 -2.5l1.6 -2.4l1.7 -2.4l1.6 -2.4l1.6 -2.3l1.7 -2.3l1.6 -2.2l1.6 -2.2l1.6 -2.2l1.6 -2.1l1.6 -2.1l1.6 -2.1l1.7 -2.3l1.7 -2.2l1.6 -2.3l1.7 -2.2l1.7 -2l1.6 -1.9l1.7 -1.8l1.6 -1.8l1.7 -1.6l1.6 -1.4l1.6 -1.3l1.7 -1.2l1.6 -1.1l1.6 -1l1.6 -1l1.7 -1l1.6 -.9l1.6 -.9l1.7 -.9l1.6 -.8l1.7 -.8l1.6 -.7l1.7 -.7l1.6 -.6l1.5 -.5l1.5 -.4l1.5 -.4l1.5 -.4l1.5 -.4l1.6 -.3l1.5 -.4l1.5 -.3l1.5 -.3l1.5 -.4l1.5 -.3l1.5 -.3l1.5 -.4l1.5 -.3l1.5 -.3l1.5 -.4l1.5 -.3l1.5 -.3l1.5 -.3l1.5 -.3l1.5 -.2l1.5 -.3l1.5 -.3l1.5 -.2l1.5 -.2l1.5 -.2l1.5 -.3l1.6 -.2l1.5 -.2l1.5 -.2l1.5 -.2l1.5 -.2l1.5 -.2l1.7 -.2l1.6 -.2l1.7 -.3l1.6 -.2l1.7 -.2l1.6 -.2l1.7 -.2l1.6 -.2" fill="none" stroke="#19f0f0" stroke-width="1.6" stroke-linejoin="round"/>
<path d="M35 544.4l.8 1.9l2 .2l-1.6 1.3l.5 2l-1.7 -1.1l-1.7 1.1l.5 -2l-1.6 -1.3l2 -.2zM40.5 544.2l.8 1.9l2 .2l-1.6 1.3l.5 2l-1.7 -1.1l-1.7 1.1l.5 -2l-1.6 -1.3l2 -.2zM46 544l.8 1.9l2 .2l-1.6 1.3l.5 2l-1.7 -1.1l-1.7 1.1l.5 -2l-1.6 -1.3l2 -.2zM51.5 543.9l.8 1.9l2 .2l-1.6 1.3l.5 2l-1.7 -1.1l-1.7 1.1l.5 -2l-1.6 -1.3l2 -.2zM57 543.6l.8 1.9l2 .2l-1.6 1.3l.5 2l-1.7 -1.1l-1.7 1.1l.5 -2l-1.6 -1.3l2 -.2zM62.5 543.4l.8 1.9l2 .2l-1.6 1.3l.5 2l-1.7 -1.1l-1.7 1.1l.5 -2l-1.6 -1.3l2 -.2zM68 543l.8 1.9l2 .2l-1.6 1.3l.5 2l-1.7 -1.1l-1.7 1.1l.5 -2l-1.6 -1.3l2 -.2zM73.5 542.5l.8 1.9l2 .2l-1.6 1.3l.5 2l-1.7 -1.1l-1.7 1.1l.5 -2l-1.6 -1.3l2 -.2zM79 541.8l.8 1.9l2 .2l-1.6 1.3l.5 2l-1.7 -1.1l-1.7 1.1l.5 -2l-1.6 -1.3l2 -.2zM84.5 541.1l.8 1.9l2 .2l-1.6 1.3l.5 2l-1.7 -1.1l-1.7 1.1l.5 -2l-1.6 -1.3l2 -.2zM90 540.3l.8 1.9l2 .2l-1.6 1.3l.5 2l-1.7 -1.1l-1.7 1.1l.5 -2l-1.6 -1.3l2 -.2zM95.5 539.4l.8 1.9l2 .2l-1.6 1.3l.5 2l-1.7 -1.1l-1.7 1.1l.5 -2l-1.6 -1.3l2 -.2zM101 538.3l.8 1.9l2 .2l-1.6 1.3l.5 2l-1.7 -1.1l-1.7 1.1l.5 -2l-1.6 -1.3l2 -.2zM106.6 537l.8 1.9l2 .2l-1.6 1.3l.5 2l-1.7 -1.1l-1.7 1.1l.5 -2l-1.6 -1.3l2 -.2zM112.4 535.4l.8 1.9l2 .2l-1.6 1.3l.5 2l-1.7 -1.1l-1.7 1.1l.5 -2l-1.6 -1.3l2 -.2zM118 533.3l.8 1.9l2 .2l-1.6 1.3l.5 2l-1.7 -1.1l-1.7 1.1l.5 -2l-1.6 -1.3l2 -.2zM123.6 529.8l.8 1.9l2 .2l-1.6 1.3l.5 2l-1.7 -1.1l-1.7 1.1l.5 -2l-1.6 -1.3l2 -.2zM128.7 524.9l.8 1.9l2 .2l-1.6 1.3l.5 2l-1.7 -1.1l-1.7 1.1l.5 -2l-1.6 -1.3l2 -.2zM133.3 518.7l.8 1.9l2 .2l-1.6 1.3l.5 2l-1.7 -1.1l-1.7 1.1l.5 -2l-1.6 -1.3l2 -.2zM137.9 512.1l.8 1.9l2 .2l-1.6 1.3l.5 2l-1.7 -1.1l-1.7 1.1l.5 -2l-1.6 -1.3l2 -.2zM142.6 505.3l.8 1.9l2 .2l-1.6 1.3l.5 2l-1.7 -1.1l-1.7 1.1l.5 -2l-1.6 -1.3l2 -.2zM147.1 498.8l.8 1.9l2 .2l-1.6 1.3l.5 2l-1.7 -1.1l-1.7 1.1l.5 -2l-1.6 -1.3l2 -.2zM151.7 492.6l.8 1.9l2 .2l-1.6 1.3l.5 2l-1.7 -1.1l-1.7 1.1l.5 -2l-1.6 -1.3l2 -.2zM156.5 486.2l.8 1.9l2 .2l-1.6 1.3l.5 2l-1.7 -1.1l-1.7 1.1l.5 -2l-1.6 -1.3l2 -.2zM161.2 479.9l.8 1.9l2 .2l-1.6 1.3l.5 2l-1.7 -1.1l-1.7 1.1l.5 -2l-1.6 -1.3l2 -.2zM165.9 473.9l.8 1.9l2 .2l-1.6 1.3l.5 2l-1.7 -1.1l-1.7 1.1l.5 -2l-1.6 -1.3l2 -.2zM171 468.4l.8 1.9l2 .2l-1.6 1.3l.5 2l-1.7 -1.1l-1.7 1.1l.5 -2l-1.6 -1.3l2 -.2zM176.2 464l.8 1.9l2 .2l-1.6 1.3l.5 2l-1.7 -1.1l-1.7 1.1l.5 -2l-1.6 -1.3l2 -.2zM181.4 460.6l.8 1.9l2 .2l-1.6 1.3l.5 2l-1.7 -1.1l-1.7 1.1l.5 -2l-1.6 -1.3l2 -.2zM187 457.4l.8 1.9l2 .2l-1.6 1.3l.5 2l-1.7 -1.1l-1.7 1.1l.5 -2l-1.6 -1.3l2 -.2zM192.5 454.7l.8 1.9l2 .2l-1.6 1.3l.5 2l-1.7 -1.1l-1.7 1.1l.5 -2l-1.6 -1.3l2 -.2zM198 452.7l.8 1.9l2 .2l-1.6 1.3l.5 2l-1.7 -1.1l-1.7 1.1l.5 -2l-1.6 -1.3l2 -.2zM203.5 451.2l.8 1.9l2 .2l-1.6 1.3l.5 2l-1.7 -1.1l-1.7 1.1l.5 -2l-1.6 -1.3l2 -.2zM209.1 449.9l.8 1.9l2 .2l-1.6 1.3l.5 2l-1.7 -1.1l-1.7 1.1l.5 -2l-1.6 -1.3l2 -.2zM214.6 448.7l.8 1.9l2 .2l-1.6 1.3l.5 2l-1.7 -1.1l-1.7 1.1l.5 -2l-1.6 -1.3l2 -.2zM220.1 447.5l.8 1.9l2 .2l-1.6 1.3l.5 2l-1.7 -1.1l-1.7 1.1l.5 -2l-1.6 -1.3l2 -.2zM225.6 446.4l.8 1.9l2 .2l-1.6 1.3l.5 2l-1.7 -1.1l-1.7 1.1l.5 -2l-1.6 -1.3l2 -.2zM231.1 445.4l.8 1.9l2 .2l-1.6 1.3l.5 2l-1.7 -1.1l-1.7 1.1l.5 -2l-1.6 -1.3l2 -.2zM236.6 444.5l.8 1.9l2 .2l-1.6 1.3l.5 2l-1.7 -1.1l-1.7 1.1l.5 -2l-1.6 -1.3l2 -.2zM242.2 443.8l.8 1.9l2 .2l-1.6 1.3l.5 2l-1.7 -1.1l-1.7 1.1l.5 -2l-1.6 -1.3l2 -.2zM247.7 443l.8 1.9l2 .2l-1.6 1.3l.5 2l-1.7 -1.1l-1.7 1.1l.5 -2l-1.6 -1.3l2 -.2zM253.3 442.3l.8 1.9l2 .2l-1.6 1.3l.5 2l-1.7 -1.1l-1.7 1.1l.5 -2l-1.6 -1.3l2 -.2zM258.9 441.6l.8 1.9l2 .2l-1.6 1.3l.5 2l-1.7 -1.1l-1.7 1.1l.5 -2l-1.6 -1.3l2 -.2z" fill="#19f0f0"/>
<path d="M35 497l1.6 0l1.5 0l1.6 0l1.5 0l1.6 0l1.6 0l1.5 0l1.6 0l1.6 0l1.5 0l1.6 0l1.5 0l1.6 0l1.6 0l1.5 0l1.6 0l1.5 0l1.6 0l1.5 .1l1.5 0l1.6 .1l1.5 0l1.6 .1l1.5 .1l1.5 .1l1.6 .1l1.5 .1l1.5 .2l1.6 .1l1.5 .1l1.6 .2l1.5 .1l1.5 .2l1.6 .1l1.5 .2l1.5 .2l1.6 .1l1.5 .2l1.6 .2l1.5 .2l1.5 .1l1.6 .2l1.5 .2l1.7 .2l1.6 .2l1.7 .3l1.6 .3l1.7 .3l1.6 .3l1.6 .4l1.6 .5l1.7 .5l1.6 .5l1.6 .6l1.6 .6l1.7 .6l1.6 .6l1.7 .7l1.6 .7l1.6 .8l1.7 .9l1.6 1l1.7 1.1l1.6 1.1l1.6 1.2l1.7 1.2l1.6 1.3l1.7 1.4l1.6 1.5l1.6 1.7l1.7 1.8l1.6 1.9l1.7 1.9l1.6 1.7l1.6 1.6l1.7 1.6l1.6 1.5l1.7 1.4l1.6 1.3l1.6 1.1l1.6 1l1.7 1l1.6 .9l1.6 .9l1.6 .9l1.7 1l1.6 .9l1.7 .7l1.6 .6l1.6 .4l1.7 .3l1.6 .3l1.7 .3l1.6 .3l1.6 .3l1.7 .4l1.6 .4l1.7 .4l1.6 .3l1.7 .2l1.6 .1l1.5 0l1.6 .1l1.5 0l1.5 .1l1.6 -0l1.5 0l1.5 .1l1.6 -0l1.5 0l1.5 0l1.6 .1l1.5 -0l1.5 0l1.6 0l1.5 .1l1.5 -0l1.6 -0l1.5 -0l1.5 0l1.6 0l1.5 0l1.6 .1l1.5 -0l1.5 -0l1.6 -0l1.5 -0l1.5 0l1.6 0l1.5 0l1.5 0l1.6 .1l1.5 -0l1.5 -0l1.6 -0l1.5 0l1.5 0l1.6 0l1.5 0l1.5 .1l1.6 -0l1.5 -0" fill="none" stroke="#ff8c1a" stroke-width="1.6" stroke-linejoin="round"/>
<path d="M35 494.2l2.8 2.8 -2.8 2.8 -2.8 -2.8zM40.5 494.2l2.8 2.8 -2.8 2.8 -2.8 -2.8zM46 494.2l2.8 2.8 -2.8 2.8 -2.8 -2.8zM51.5 494.2l2.8 2.8 -2.8 2.8 -2.8 -2.8zM57 494.2l2.8 2.8 -2.8 2.8 -2.8 -2.8zM62.5 494.3l2.8 2.8 -2.8 2.8 -2.8 -2.8zM68 494.4l2.8 2.8 -2.8 2.8 -2.8 -2.8zM73.5 494.7l2.8 2.8 -2.8 2.8 -2.8 -2.8zM79 495.2l2.8 2.8 -2.8 2.8 -2.8 -2.8zM84.5 495.7l2.8 2.8 -2.8 2.8 -2.8 -2.8zM90 496.2l2.8 2.8 -2.8 2.8 -2.8 -2.8zM95.5 496.9l2.8 2.8 -2.8 2.8 -2.8 -2.8zM101 497.5l2.8 2.8 -2.8 2.8 -2.8 -2.8zM106.7 498.3l2.8 2.8 -2.8 2.8 -2.8 -2.8zM112.4 499.4l2.8 2.8 -2.8 2.8 -2.8 -2.8zM118 501.1l2.8 2.8 -2.8 2.8 -2.8 -2.8zM123.6 503.1l2.8 2.8 -2.8 2.8 -2.8 -2.8zM129.2 505.6l2.8 2.8 -2.8 2.8 -2.8 -2.8zM134.9 509.1l2.8 2.8 -2.8 2.8 -2.8 -2.8zM140 512.8l2.8 2.8 -2.8 2.8 -2.8 -2.8zM145.1 517.4l2.8 2.8 -2.8 2.8 -2.8 -2.8zM150.2 523.2l2.8 2.8 -2.8 2.8 -2.8 -2.8zM155.4 528.4l2.8 2.8 -2.8 2.8 -2.8 -2.8zM160.5 532.8l2.8 2.8 -2.8 2.8 -2.8 -2.8zM166.1 536.3l2.8 2.8 -2.8 2.8 -2.8 -2.8zM171.7 539.4l2.8 2.8 -2.8 2.8 -2.8 -2.8zM177.3 541.9l2.8 2.8 -2.8 2.8 -2.8 -2.8zM182.9 543l2.8 2.8 -2.8 2.8 -2.8 -2.8zM188.5 544.1l2.8 2.8 -2.8 2.8 -2.8 -2.8zM194 545.2l2.8 2.8 -2.8 2.8 -2.8 -2.8zM199.5 545.5l2.8 2.8 -2.8 2.8 -2.8 -2.8zM205.1 545.7l2.8 2.8 -2.8 2.8 -2.8 -2.8zM210.6 545.8l2.8 2.8 -2.8 2.8 -2.8 -2.8zM216.1 545.9l2.8 2.8 -2.8 2.8 -2.8 -2.8zM221.7 545.9l2.8 2.8 -2.8 2.8 -2.8 -2.8zM227.2 546l2.8 2.8 -2.8 2.8 -2.8 -2.8zM232.7 546l2.8 2.8 -2.8 2.8 -2.8 -2.8zM238.3 546.1l2.8 2.8 -2.8 2.8 -2.8 -2.8zM243.8 546.1l2.8 2.8 -2.8 2.8 -2.8 -2.8zM249.3 546.1l2.8 2.8 -2.8 2.8 -2.8 -2.8zM254.9 546.2l2.8 2.8 -2.8 2.8 -2.8 -2.8z" fill="#ff8c1a"/>
<path d="M35 460l1.6 0l1.5 0l1.6 0l1.5 0l1.6 0l1.6 0l1.5 0l1.6 0l1.6 0l1.5 0l1.6 0l1.5 0l1.6 0l1.6 0l1.5 0l1.6 0l1.5 0l1.6 0l1.5 .1l1.5 0l1.6 .1l1.5 .1l1.6 0l1.5 .1l1.5 .1l1.6 .2l1.5 .1l1.5 .1l1.6 .2l1.5 .1l1.6 .2l1.5 .2l1.5 .2l1.6 .2l1.5 .2l1.5 .2l1.6 .2l1.5 .2l1.6 .2l1.5 .2l1.5 .2l1.6 .3l1.5 .2l1.7 .3l1.6 .4l1.7 .4l1.6 .5l1.7 .4l1.6 .5l1.6 .4l1.6 .5l1.7 .4l1.6 .5l1.6 .6l1.6 .6l1.7 .8l1.6 .8l1.7 .9l1.6 1l1.6 1.1l1.7 1.4l1.6 1.5l1.7 1.6l1.6 1.8l1.7 2.1l1.6 2.4l1.7 2.6l1.6 2.6l1.6 2.6l1.7 2.6l1.6 2.6l1.6 2.5l1.7 2.4l1.6 2.5l1.6 2.4l1.7 2.5l1.6 2.5l1.7 2.5l1.6 2.4l1.6 2.4l1.6 2.4l1.7 2.4l1.6 2.2l1.6 2l1.6 1.9l1.7 1.8l1.6 1.7l1.7 1.5l1.6 1.3l1.6 1.2l1.7 1.1l1.6 1.1l1.7 .8l1.6 .7l1.6 .5l1.7 .5l1.6 .3l1.7 .4l1.6 .3l1.7 .3l1.6 .3l1.5 .3l1.5 .2l1.5 .3l1.5 .3l1.5 .2l1.5 .3l1.5 .2l1.5 .2l1.5 .2l1.5 .1l1.5 .1l1.5 .1l1.6 .1l1.5 0l1.6 .1l1.5 .1l1.6 0l1.5 .1l1.6 0l1.5 .1l1.6 0l1.5 .1l1.6 0l1.5 .1l1.6 0l1.5 0l1.5 .1l1.6 0l1.5 .1l1.6 -0l1.5 0l1.6 .1l1.5 -0l1.6 0l1.5 .1l1.6 -0l1.5 0l1.6 .1l1.5 0l1.6 .1l1.5 -0" fill="none" stroke="#1a1aff" stroke-width="1.6" stroke-linejoin="round"/>
<path d="M35 462.8l2.8 -3.8a1.4 1.4 0 0 0 -2.8 -.3a1.4 1.4 0 0 0 -2.8 .3zM40.5 462.8l2.8 -3.8a1.4 1.4 0 0 0 -2.8 -.3a1.4 1.4 0 0 0 -2.8 .3zM46 462.8l2.8 -3.8a1.4 1.4 0 0 0 -2.8 -.3a1.4 1.4 0 0 0 -2.8 .3zM51.5 462.8l2.8 -3.8a1.4 1.4 0 0 0 -2.8 -.3a1.4 1.4 0 0 0 -2.8 .3zM57 462.8l2.8 -3.8a1.4 1.4 0 0 0 -2.8 -.3a1.4 1.4 0 0 0 -2.8 .3zM62.5 462.8l2.8 -3.8a1.4 1.4 0 0 0 -2.8 -.3a1.4 1.4 0 0 0 -2.8 .3zM68 462.9l2.8 -3.8a1.4 1.4 0 0 0 -2.8 -.3a1.4 1.4 0 0 0 -2.8 .3zM73.5 463.3l2.8 -3.8a1.4 1.4 0 0 0 -2.8 -.3a1.4 1.4 0 0 0 -2.8 .3zM79 463.7l2.8 -3.8a1.4 1.4 0 0 0 -2.8 -.3a1.4 1.4 0 0 0 -2.8 .3zM84.5 464.3l2.8 -3.8a1.4 1.4 0 0 0 -2.8 -.3a1.4 1.4 0 0 0 -2.8 .3zM90 465l2.8 -3.8a1.4 1.4 0 0 0 -2.8 -.3a1.4 1.4 0 0 0 -2.8 .3zM95.5 465.8l2.8 -3.8a1.4 1.4 0 0 0 -2.8 -.3a1.4 1.4 0 0 0 -2.8 .3zM101 466.6l2.8 -3.8a1.4 1.4 0 0 0 -2.8 -.3a1.4 1.4 0 0 0 -2.8 .3zM106.7 467.8l2.8 -3.8a1.4 1.4 0 0 0 -2.8 -.3a1.4 1.4 0 0 0 -2.8 .3zM112.4 469.4l2.8 -3.8a1.4 1.4 0 0 0 -2.8 -.3a1.4 1.4 0 0 0 -2.8 .3zM118 471l2.8 -3.8a1.4 1.4 0 0 0 -2.8 -.3a1.4 1.4 0 0 0 -2.8 .3zM123.6 473.3l2.8 -3.8a1.4 1.4 0 0 0 -2.8 -.3a1.4 1.4 0 0 0 -2.8 .3zM129.2 476.7l2.8 -3.8a1.4 1.4 0 0 0 -2.8 -.3a1.4 1.4 0 0 0 -2.8 .3zM134.4 481.4l2.8 -3.8a1.4 1.4 0 0 0 -2.8 -.3a1.4 1.4 0 0 0 -2.8 .3zM138.9 487.2l2.8 -3.8a1.4 1.4 0 0 0 -2.8 -.3a1.4 1.4 0 0 0 -2.8 .3zM143.6 494.5l2.8 -3.8a1.4 1.4 0 0 0 -2.8 -.3a1.4 1.4 0 0 0 -2.8 .3zM147.9 501.3l2.8 -3.8a1.4 1.4 0 0 0 -2.8 -.3a1.4 1.4 0 0 0 -2.8 .3zM152.4 508.1l2.8 -3.8a1.4 1.4 0 0 0 -2.8 -.3a1.4 1.4 0 0 0 -2.8 .3zM156.9 515l2.8 -3.8a1.4 1.4 0 0 0 -2.8 -.3a1.4 1.4 0 0 0 -2.8 .3zM161.5 521.7l2.8 -3.8a1.4 1.4 0 0 0 -2.8 -.3a1.4 1.4 0 0 0 -2.8 .3zM166.1 528.4l2.8 -3.8a1.4 1.4 0 0 0 -2.8 -.3a1.4 1.4 0 0 0 -2.8 .3zM170.7 534l2.8 -3.8a1.4 1.4 0 0 0 -2.8 -.3a1.4 1.4 0 0 0 -2.8 .3zM175.8 539l2.8 -3.8a1.4 1.4 0 0 0 -2.8 -.3a1.4 1.4 0 0 0 -2.8 .3zM180.9 542.7l2.8 -3.8a1.4 1.4 0 0 0 -2.8 -.3a1.4 1.4 0 0 0 -2.8 .3zM186.5 545.2l2.8 -3.8a1.4 1.4 0 0 0 -2.8 -.3a1.4 1.4 0 0 0 -2.8 .3zM192 546.5l2.8 -3.8a1.4 1.4 0 0 0 -2.8 -.3a1.4 1.4 0 0 0 -2.8 .3zM197.5 547.5l2.8 -3.8a1.4 1.4 0 0 0 -2.8 -.3a1.4 1.4 0 0 0 -2.8 .3zM203 548.5l2.8 -3.8a1.4 1.4 0 0 0 -2.8 -.3a1.4 1.4 0 0 0 -2.8 .3zM208.5 549.3l2.8 -3.8a1.4 1.4 0 0 0 -2.8 -.3a1.4 1.4 0 0 0 -2.8 .3zM214 549.8l2.8 -3.8a1.4 1.4 0 0 0 -2.8 -.3a1.4 1.4 0 0 0 -2.8 .3zM219.6 550.1l2.8 -3.8a1.4 1.4 0 0 0 -2.8 -.3a1.4 1.4 0 0 0 -2.8 .3zM225.1 550.3l2.8 -3.8a1.4 1.4 0 0 0 -2.8 -.3a1.4 1.4 0 0 0 -2.8 .3zM230.7 550.5l2.8 -3.8a1.4 1.4 0 0 0 -2.8 -.3a1.4 1.4 0 0 0 -2.8 .3zM236.2 550.6l2.8 -3.8a1.4 1.4 0 0 0 -2.8 -.3a1.4 1.4 0 0 0 -2.8 .3zM241.7 550.7l2.8 -3.8a1.4 1.4 0 0 0 -2.8 -.3a1.4 1.4 0 0 0 -2.8 .3zM247.3 550.8l2.8 -3.8a1.4 1.4 0 0 0 -2.8 -.3a1.4 1.4 0 0 0 -2.8 .3zM252.8 551l2.8 -3.8a1.4 1.4 0 0 0 -2.8 -.3a1.4 1.4 0 0 0 -2.8 .3zM258.4 551.1l2.8 -3.8a1.4 1.4 0 0 0 -2.8 -.3a1.4 1.4 0 0 0 -2.8 .3z" fill="#1a1aff"/>
<path d="M35 477l1.6 0l1.5 .1l1.6 -0l1.5 0l1.6 .1l1.6 -0l1.5 0l1.6 0l1.6 .1l1.5 0l1.6 0l1.5 .1l1.6 -0l1.6 0l1.5 .1l1.6 -0l1.5 0l1.6 .1l1.5 -0l1.5 0l1.6 0l1.5 .1l1.6 -0l1.5 0l1.5 0l1.6 .1l1.5 -0l1.5 0l1.6 .1l1.5 -0l1.6 0l1.5 .1l1.5 -0l1.6 0l1.5 .1l1.5 0l1.6 .1l1.5 0l1.6 .1l1.5 .1l1.5 0l1.6 .1l1.5 .1l1.7 .2l1.6 .3l1.7 .5l1.6 .5l1.7 .5l1.6 .5l1.6 .5l1.6 .4l1.7 .5l1.6 .6l1.6 .5l1.6 .6l1.7 .5l1.6 .6l1.7 .7l1.6 .8l1.7 1l1.6 1.2l1.7 1.4l1.6 1.3l1.6 1.2l1.7 1.2l1.6 1.3l1.6 1.2l1.7 1.4l1.6 1.5l1.6 1.7l1.7 1.9l1.6 2.1l1.7 2.1l1.6 2l1.6 1.9l1.7 1.9l1.6 2l1.7 1.9l1.6 2.1l1.6 2.3l1.6 2.5l1.7 2.5l1.6 2.3l1.6 1.9l1.6 1.6l1.7 1.4l1.6 1.3l1.7 1.1l1.6 1.1l1.6 1l1.7 .9l1.6 .8l1.7 .8l1.6 .6l1.6 .6l1.7 .5l1.6 .4l1.7 .5l1.6 .4l1.7 .3l1.6 .4l1.5 .3l1.5 .4l1.5 .3l1.5 .3l1.5 .3l1.6 .3l1.5 .3l1.5 .2l1.5 .2l1.5 .2l1.5 .1l1.5 .1l1.5 .1l1.5 .1l1.5 0l1.5 .1l1.5 .1l1.5 0l1.5 .1l1.5 0l1.5 .1l1.5 -0l1.6 0l1.5 .1l1.6 0l1.6 0l1.5 .1l1.6 -0l1.6 0l1.5 0l1.6 .1l1.6 -0l1.6 0l1.5 0l1.6 .1l1.6 -0l1.5 0l1.6 0l1.6 0l1.5 .1l1.6 -0" fill="none" stroke="#19e619" stroke-width="1.6" stroke-linejoin="round"/>
<path d="M35 477h0M40.5 477.1h0M46 477.2h0M51.5 477.3h0M57 477.4h0M62.5 477.6h0M68 477.7h0M73.5 477.7h0M79 477.8h0M84.5 477.9h0M90 478.1h0M95.5 478.3h0M101 478.6h0M106.7 479.7h0M112.4 481.4h0M118 483.1h0M123.6 485h0M129.2 487.7h0M134.3 491.7h0M139.5 495.6h0M144.6 500h0M149.2 505.5h0M153.8 511.1h0M159 517.2h0M163.5 523.6h0M168.1 530.1h0M173.2 534.7h0M178.9 538.3h0M184.5 541h0M190 542.8h0M195.5 544.1h0M201 545.3h0M206.6 546.4h0M212.1 547.1h0M217.6 547.5h0M223.1 547.7h0M228.6 547.9h0M234.1 548h0M239.7 548.1h0M245.3 548.2h0M250.8 548.3h0M256.4 548.4h0" stroke="#19e619" stroke-width="4" stroke-linecap="round"/>
<path d="M32.2 477h5.5M35 474.2v5.5M37.8 477.1h5.5M40.5 474.4v5.5M43.2 477.2h5.5M46 474.5v5.5M48.8 477.3h5.5M51.5 474.6v5.5M54.2 477.4h5.5M57 474.7v5.5M59.8 477.6h5.5M62.5 474.8v5.5M65.2 477.7h5.5M68 474.9v5.5M70.8 477.7h5.5M73.5 475v5.5M76.2 477.8h5.5M79 475.1v5.5M81.8 477.9h5.5M84.5 475.2v5.5M87.2 478.1h5.5M90 475.3v5.5M92.8 478.3h5.5M95.5 475.6v5.5M98.2 478.6h5.5M101 475.8v5.5M104 479.7h5.5M106.7 476.9v5.5M109.7 481.4h5.5M112.4 478.6v5.5M115.2 483.1h5.5M118 480.3v5.5M120.8 485h5.5M123.6 482.3v5.5M126.5 487.7h5.5M129.2 485v5.5M131.6 491.7h5.5M134.3 488.9v5.5M136.7 495.6h5.5M139.5 492.8v5.5M141.9 500h5.5M144.6 497.3v5.5M146.5 505.5h5.5M149.2 502.7v5.5M151.1 511.1h5.5M153.8 508.4v5.5M156.2 517.2h5.5M159 514.4v5.5M160.8 523.6h5.5M163.5 520.8v5.5M165.3 530.1h5.5M168.1 527.3v5.5M170.5 534.7h5.5M173.2 531.9v5.5M176.1 538.3h5.5M178.9 535.6v5.5M181.7 541h5.5M184.5 538.3v5.5M187.2 542.8h5.5M190 540v5.5M192.8 544.1h5.5M195.5 541.3v5.5M198.3 545.3h5.5M201 542.5v5.5M203.8 546.4h5.5M206.6 543.6v5.5M209.3 547.1h5.5M212.1 544.4v5.5M214.8 547.5h5.5M217.6 544.7v5.5M220.3 547.7h5.5M223.1 545v5.5M225.8 547.9h5.5M228.6 545.1v5.5M231.4 548h5.5M234.1 545.3v5.5M237 548.1h5.5M239.7 545.4v5.5M242.5 548.2h5.5M245.3 545.4v5.5M248.1 548.3h5.5M250.8 545.5v5.5M253.6 548.4h5.5M256.4 545.6v5.5" stroke="#19e619" stroke-width="1.5"/>
<path d="M35 540l1.5 -0l1.5 -0l1.5 -0l1.5 -0l1.5 -.1l1.5 0l1.5 0l1.5 0l1.5 -0l1.5 -0l1.5 -0l1.5 -0l1.5 -.1l1.5 0l1.5 0l1.5 0l1.5 -0l1.5 -0l1.5 -0l1.5 -0l1.5 -.1l1.5 0l1.5 0l1.5 0l1.5 -0l1.5 -0l1.5 -0l1.5 -0l1.5 -0l1.5 -.1l1.5 0l1.5 0l1.5 0l1.5 0l1.5 0l1.5 0l1.5 0l1.5 0l1.5 0l1.5 0l1.6 0l1.7 0l1.6 0l1.7 0l1.6 0l1.6 0l1.7 0l1.6 0l1.7 0l1.6 0l1.6 -0l1.7 -.1l1.6 -.1l1.6 -.1l1.7 -.1l1.6 -.2l1.6 -.1l1.6 -.2l1.7 -.1l1.6 -.2l1.7 -.2l1.6 -.2l1.7 -.2l1.6 -.2l1.7 -.3l1.6 -.2l1.6 -.2l1.7 -.2l1.6 -.2l1.6 -.2l1.6 -.3l1.7 -.3l1.6 -.4l1.7 -.3l1.6 -.4l1.6 -.4l1.7 -.4l1.6 -.4l1.7 -.4l1.6 -.5l1.6 -.5l1.6 -.5l1.7 -.6l1.6 -.6l1.6 -.6l1.6 -.6l1.7 -.6l1.6 -.6l1.7 -.7l1.6 -.7l1.6 -.8l1.7 -.9l1.6 -.9l1.7 -1.1l1.6 -1l1.6 -1.1l1.7 -1.3l1.6 -1.3l1.7 -1.3l1.6 -1.4l1.7 -1.2l1.6 -1.2l1.5 -1l1.5 -1l1.5 -1l1.5 -.9l1.5 -.9l1.6 -.9l1.5 -.9l1.5 -.9l1.5 -.8l1.5 -.9l1.5 -.8l1.5 -.8l1.5 -.8l1.5 -.8l1.5 -.7l1.5 -.8l1.5 -.7l1.5 -.8l1.5 -.7l1.5 -.8l1.5 -.7l1.5 -.8l1.5 -.8l1.5 -.7l1.5 -.8l1.5 -.7l1.5 -.8l1.6 -.8l1.5 -.7l1.5 -.8l1.5 -.9l1.5 -.8l1.5 -.9l1.7 -1l1.6 -1.1l1.7 -1.1l1.6 -1.2l1.7 -1.2l1.6 -1.2l1.7 -1.1l1.6 -1.2" fill="none" stroke="#991a99" stroke-width="1.6" stroke-linejoin="round"/>
<path d="M32.9 540h4.1M38.4 540h4.1M43.9 539.9h4.1M49.4 539.9h4.1M54.9 539.8h4.1M60.4 539.8h4.1M65.9 539.7h4.1M71.4 539.7h4.1M76.9 539.6h4.1M82.4 539.6h4.1M87.9 539.6h4.1M93.5 539.6h4.1M99.1 539.6h4.1M104.7 539.6h4.1M110.4 539.6h4.1M116 539.3h4.1M121.6 538.8h4.1M127.2 538.2h4.1M132.9 537.5h4.1M138.5 536.7h4.1M144.1 535.9h4.1M149.7 534.7h4.1M155.4 533.4h4.1M161 531.7h4.1M166.5 529.7h4.1M172.2 527.6h4.1M177.8 524.9h4.1M183.4 521.5h4.1M188.9 517.2h4.1M194.4 513h4.1M200 509.4h4.1M205.5 506.1h4.1M211 503h4.1M216.5 500.1h4.1M222 497.4h4.1M227.5 494.6h4.1M233.1 491.8h4.1M238.6 489h4.1M244.1 485.9h4.1M249.7 482.2h4.1M255.3 478.2h4.1" stroke="#991a99" stroke-width="4.7"/>
<path d="M35 502l1.6 0l1.5 0l1.6 0l1.5 0l1.6 0l1.6 0l1.5 0l1.6 0l1.6 0l1.5 0l1.6 0l1.5 0l1.6 0l1.6 0l1.5 0l1.6 0l1.5 -0l1.6 -0l1.5 -0l1.5 -.1l1.6 0l1.5 -0l1.6 -.1l1.5 -0l1.5 -.1l1.6 -0l1.5 -.1l1.5 -0l1.6 -.1l1.5 -0l1.6 -.1l1.5 -0l1.5 -.1l1.6 -0l1.5 -.1l1.5 -0l1.6 -.1l1.5 -0l1.6 -0l1.5 -.1l1.5 0l1.6 0l1.5 0l1.7 0l1.6 .1l1.7 0l1.6 0l1.7 .1l1.6 0l1.6 -0l1.6 -.1l1.7 -.2l1.6 -.2l1.6 -.2l1.6 -.3l1.7 -.3l1.6 -.4l1.7 -.5l1.6 -.4l1.6 -.4l1.7 -.5l1.6 -.5l1.7 -.5l1.6 -.5l1.6 -.5l1.7 -.5l1.6 -.6l1.7 -.5l1.6 -.6l1.6 -.6l1.7 -.6l1.6 -.6l1.7 -.6l1.6 -.6l1.6 -.7l1.7 -.7l1.6 -.7l1.7 -.7l1.6 -.7l1.6 -.7l1.6 -.6l1.7 -.7l1.6 -.6l1.6 -.8l1.6 -.9l1.7 -.9l1.6 -1l1.7 -1l1.6 -1l1.6 -1l1.7 -1.1l1.6 -1l1.7 -1l1.6 -1l1.6 -.9l1.7 -.9l1.6 -.8l1.7 -.9l1.6 -.8l1.7 -.8l1.6 -.9l1.5 -.8l1.5 -.8l1.5 -.8l1.5 -.8l1.5 -.8l1.6 -.8l1.5 -.9l1.5 -.8l1.5 -.8l1.5 -.9l1.5 -.9l1.5 -.9l1.5 -.9l1.5 -1l1.5 -1l1.5 -.9l1.5 -1l1.5 -1l1.5 -1.1l1.5 -1l1.5 -1l1.5 -1l1.5 -1l1.5 -1l1.5 -1.1l1.5 -1l1.5 -1l1.6 -1.1l1.5 -1l1.5 -1.1l1.5 -1.1l1.5 -1.1l1.5 -1.1l1.7 -1.3l1.6 -1.3l1.7 -1.3l1.6 -1.4l1.7 -1.3l1.6 -1.4l1.7 -1.4l1.6 -1.3" fill="none" stroke="#ff19ff" stroke-width="1.6" stroke-linejoin="round"/>
<path d="M35 504.5l2.5 -4.4h-5.1zM40.5 504.5l2.5 -4.4h-5.1zM46 504.5l2.5 -4.4h-5.1zM51.5 504.5l2.5 -4.4h-5.1zM57 504.5l2.5 -4.4h-5.1zM62.5 504.5l2.5 -4.4h-5.1zM68 504.4l2.5 -4.4h-5.1zM73.5 504.3l2.5 -4.4h-5.1zM79 504.1l2.5 -4.4h-5.1zM84.5 503.9l2.5 -4.4h-5.1zM90 503.7l2.5 -4.4h-5.1zM95.5 503.6l2.5 -4.4h-5.1zM101 503.5l2.5 -4.4h-5.1zM106.7 503.6l2.5 -4.4h-5.1zM112.4 503.7l2.5 -4.4h-5.1zM118 503.2l2.5 -4.4h-5.1zM123.6 502.2l2.5 -4.4h-5.1zM129.2 500.7l2.5 -4.4h-5.1zM134.9 499l2.5 -4.4h-5.1zM140.5 497.2l2.5 -4.4h-5.1zM146.2 495.3l2.5 -4.4h-5.1zM151.8 493.2l2.5 -4.4h-5.1zM157.4 490.9l2.5 -4.4h-5.1zM163 488.5l2.5 -4.4h-5.1zM168.6 486.1l2.5 -4.4h-5.1zM174.2 482.9l2.5 -4.4h-5.1zM179.9 479.4l2.5 -4.4h-5.1zM185.5 475.9l2.5 -4.4h-5.1zM191 473.1l2.5 -4.4h-5.1zM196.5 470.2l2.5 -4.4h-5.1zM202 467.3l2.5 -4.4h-5.1zM207.6 464.3l2.5 -4.4h-5.1zM213.1 461.1l2.5 -4.4h-5.1zM218.6 457.7l2.5 -4.4h-5.1zM224.1 454.1l2.5 -4.4h-5.1zM229.6 450.3l2.5 -4.4h-5.1zM235.1 446.6l2.5 -4.4h-5.1zM240.7 442.8l2.5 -4.4h-5.1zM246.2 438.7l2.5 -4.4h-5.1zM251.3 434.7l2.5 -4.4h-5.1zM256.4 430.5l2.5 -4.4h-5.1z" fill="#ff19ff"/>
</g>
<text x="218.4" y="557.8" font-size="9.6" fill="#222" text-anchor="middle" font-family='"Liberation Serif", serif' font-style="italic">α<tspan font-size="7.1" dy="1.6">c</tspan></text>
<rect x="59.4" y="425.4" width="42.2" height="89.6" fill="#fff" fill-opacity="1" stroke="#444" stroke-width="0.9"/>
<rect x="64.11" y="430.7" width="4.59" height="4.59" fill="#000"/>
<text x="83" y="436" font-size="9.5" fill="#000" text-anchor="middle" font-family='"Liberation Serif", serif' font-weight="normal" font-style="italic">q</text>
<circle cx="66.4" cy="443" r="2.7" fill="#ff1a1a"/>
<text x="83" y="446" font-size="9.5" fill="#ff1a1a" text-anchor="middle" font-family='"Liberation Serif", serif' font-weight="normal" font-style="italic">m</text>
<path d="M66.4 449.9L69.1 454.62L63.7 454.62Z" fill="#8a8a8a"/>
<text x="83" y="454.6" font-size="5" fill="#bbb" text-anchor="middle" font-family='"Liberation Sans", sans-serif' font-weight="normal">r&#772; (P&#8201;-&#8201;M)</text>
<path d="M66.4 460.02L67.29 462.17L69.61 462.36L67.84 463.87L68.38 466.13L66.4 464.92L64.42 466.13L64.96 463.87L63.19 462.36L65.51 462.17Z" fill="#19f0f0"/>
<text x="83" y="466.9" font-size="9.5" fill="#19f0f0" text-anchor="middle" font-family='"Liberation Serif", serif' font-weight="normal" font-style="italic">c</text><text x="83" y="458.4" font-size="4.5" fill="#bbb" text-anchor="middle" font-family='"Liberation Sans", sans-serif' font-weight="normal">n</text>
<path d="M66.4 469.3L69.1 472L66.4 474.7L63.7 472Z" fill="#ff8c1a"/>
<text x="83" y="475" font-size="9.5" fill="#ff8c1a" text-anchor="middle" font-family='"Liberation Serif", serif' font-weight="normal" font-style="italic">σ&#8201;&#8728;q</text>
<path d="M66.4 482.9L69.1 479.12A1.35 1.35 0 0 0 66.4 478.85A1.35 1.35 0 0 0 63.7 479.12Z" fill="#1a1aff"/>
<text x="83" y="483.2" font-size="9.5" fill="#1a1aff" text-anchor="middle" font-family='"Liberation Serif", serif' font-style="italic">L<tspan font-size="7.03" dy="1.6">q</tspan></text>
<circle cx="66.4" cy="488.8" r="1.94" fill="#19e619"/><path d="M63.7 488.8H69.1M66.4 486.1V491.5" stroke="#19e619" stroke-width="1.49"/>
<text x="83" y="491.8" font-size="9.5" fill="#19e619" text-anchor="middle" font-family='"Liberation Serif", serif' font-style="italic">L<tspan font-size="7.03" dy="1.6">m</tspan></text>
<rect x="64.38" y="495.7" width="4.05" height="4.59" fill="#991a99"/>
<text x="83" y="501.5" font-size="9.5" fill="#991a99" text-anchor="middle" font-family='"Liberation Sans", sans-serif' font-weight="normal">10<tspan dy="0" font-family='Liberation Serif' font-style="italic">ϕ</tspan></text>
<path d="M66.4 508.7L69.1 503.98L63.7 503.98Z" fill="#ff19ff"/>
<text x="83" y="509" font-size="9.5" fill="#ff19ff" text-anchor="middle" font-family='"Liberation Serif", serif' font-weight="normal" font-style="italic">u</text>
<text x="254.5" y="440.4" font-size="8" fill="#222" text-anchor="middle" font-family='"Liberation Sans", sans-serif' font-weight="normal">i1</text>
</g>
<clipPath id="ci2"><rect x="271.6" y="423.1" width="273.4" height="138.89999999999998"/></clipPath>
<g clip-path="url(#ci2)">
<line x1="360" y1="423.1" x2="360" y2="562" stroke="#f1f1f1" stroke-width="0.9"/>
<line x1="410.6" y1="423.1" x2="410.6" y2="562" stroke="#f1f1f1" stroke-width="0.9"/>
<line x1="461.2" y1="423.1" x2="461.2" y2="562" stroke="#f1f1f1" stroke-width="0.9"/>
<line x1="511.8" y1="423.1" x2="511.8" y2="562" stroke="#f1f1f1" stroke-width="0.9"/>
<line x1="309" y1="444" x2="545" y2="444" stroke="#f1f1f1" stroke-width="0.9"/>
<line x1="309" y1="478.5" x2="545" y2="478.5" stroke="#f1f1f1" stroke-width="0.9"/>
<line x1="309" y1="513" x2="545" y2="513" stroke="#f1f1f1" stroke-width="0.9"/>
<line x1="309" y1="423.1" x2="309" y2="562" stroke="#d8d8d8" stroke-width="1"/>
<text x="305.8" y="446.9" font-size="8.2" fill="#262626" text-anchor="end" font-family='"Liberation Sans", sans-serif' font-weight="normal" letter-spacing="-0.3" stroke="#262626" stroke-width="0.12">15&#8201;000</text>
<text x="305.8" y="481.4" font-size="8.2" fill="#262626" text-anchor="end" font-family='"Liberation Sans", sans-serif' font-weight="normal" letter-spacing="-0.3" stroke="#262626" stroke-width="0.12">10&#8201;000</text>
<text x="305.8" y="515.9" font-size="8.2" fill="#262626" text-anchor="end" font-family='"Liberation Sans", sans-serif' font-weight="normal" letter-spacing="-0.3" stroke="#262626" stroke-width="0.12">5000</text>
<text x="305.8" y="550.4" font-size="8.2" fill="#262626" text-anchor="end" font-family='"Liberation Sans", sans-serif' font-weight="normal" letter-spacing="-0.3" stroke="#262626" stroke-width="0.12">0</text>
<line x1="410.6" y1="423.1" x2="410.6" y2="562" stroke="#111" stroke-width="1.3" stroke-dasharray="2.0 4.6" stroke-dashoffset="4.3"/>
<text x="360" y="557.7" font-size="8.2" fill="#262626" text-anchor="middle" font-family='"Liberation Sans", sans-serif' font-weight="normal" letter-spacing="-0.3" stroke="#262626" stroke-width="0.12">0.85</text>
<text x="410.6" y="557.7" font-size="8.2" fill="#262626" text-anchor="middle" font-family='"Liberation Sans", sans-serif' font-weight="normal" letter-spacing="-0.3" stroke="#262626" stroke-width="0.12">0.90</text>
<text x="461.2" y="557.7" font-size="8.2" fill="#262626" text-anchor="middle" font-family='"Liberation Sans", sans-serif' font-weight="normal" letter-spacing="-0.3" stroke="#262626" stroke-width="0.12">0.95</text>
<text x="511.8" y="557.7" font-size="8.2" fill="#262626" text-anchor="middle" font-family='"Liberation Sans", sans-serif' font-weight="normal" letter-spacing="-0.3" stroke="#262626" stroke-width="0.12">1.00</text>
<clipPath id="cci2"><rect x="309" y="423.1" width="236" height="138.89999999999998"/></clipPath><g clip-path="url(#cci2)">
<path d="M309 443l1.5 0l1.5 0l1.5 0l1.5 0l1.5 0l1.5 0l1.6 0l1.5 0l1.5 0l1.5 0l1.5 0l1.5 0l1.5 0l1.5 0l1.5 0l1.5 0l1.5 0l1.5 0l1.5 0l1.5 0l1.6 0l1.5 0l1.5 0l1.5 0l1.5 0l1.5 0l1.5 0l1.5 0l1.5 0l1.5 0l1.5 0l1.5 0l1.5 0l1.6 0l1.5 0l1.5 0l1.5 0l1.5 0l1.5 0l1.5 0l1.5 0l1.5 0l1.5 0l1.5 0l1.5 0l1.5 0l1.5 0l1.6 0l1.5 0l1.5 0l1.5 0l1.5 0l1.5 0l1.5 0l1.5 0l1.5 0l1.5 0l1.5 0l1.5 0l1.5 0l1.6 0l1.5 0l1.5 0l1.5 0l1.5 0l1.5 0l1.5 0l1.5 0l1.5 0l1.5 0l1.5 0l1.5 0l1.5 0l1.5 0l1.6 .1l1.5 -0l1.5 -0l1.5 -0l1.5 -0l1.5 -0l1.5 -0l1.5 -0l1.5 -0l1.5 -0l1.5 -0l1.5 -0l1.5 -0l1.5 -0l1.6 -0l1.5 -0l1.5 -0l1.5 -0l1.5 -0l1.5 -0l1.5 -0l1.5 -0l1.5 -0l1.5 -0l1.5 -0l1.5 -0l1.5 -0l1.6 -0l1.5 -0l1.5 -0l1.5 -0l1.5 -0l1.5 -0l1.5 -0l1.5 -0l1.5 -0l1.5 -0l1.5 -0l1.5 -0l1.5 -0l1.5 -0l1.6 -0l1.5 -0l1.5 -0l1.5 -0l1.5 -0l1.5 -0l1.5 -0l1.5 -0l1.5 -0l1.5 -0l1.5 -0l1.5 -0l1.5 -0l1.6 -0l1.5 -0l1.5 -0l1.5 -0l1.5 -0l1.5 -0l1.5 -0l1.5 -0l1.5 -0l1.5 -0l1.5 -0l1.5 -0l1.5 -0l1.5 -0l1.6 -0l1.5 -0l1.5 -0l1.5 -0l1.5 -0l1.5 -0l1.5 0" fill="none" stroke="#000" stroke-width="1.6" stroke-linejoin="round"/>
<path d="M307.6 441.9h2.7v2.7h-2.7zM312.6 441.9h2.7v2.7h-2.7zM317.6 441.9h2.7v2.7h-2.7zM322.6 441.9h2.7v2.7h-2.7zM327.6 441.9h2.7v2.7h-2.7zM332.7 442h2.7v2.7h-2.7zM337.7 442h2.7v2.7h-2.7zM342.7 442h2.7v2.7h-2.7zM347.7 442h2.7v2.7h-2.7zM352.7 442h2.7v2.7h-2.7zM357.7 442h2.7v2.7h-2.7zM362.7 442h2.7v2.7h-2.7zM367.7 442h2.7v2.7h-2.7zM372.7 442h2.7v2.7h-2.7zM377.7 442h2.7v2.7h-2.7zM382.7 442h2.7v2.7h-2.7zM387.7 442h2.7v2.7h-2.7zM392.7 442h2.7v2.7h-2.7zM397.7 442h2.7v2.7h-2.7zM402.7 442h2.7v2.7h-2.7zM407.7 442h2.7v2.7h-2.7zM412.7 442h2.7v2.7h-2.7zM417.7 442h2.7v2.7h-2.7zM422.7 442h2.7v2.7h-2.7zM427.7 442h2.7v2.7h-2.7zM432.7 442h2.7v2.7h-2.7zM437.7 442h2.7v2.7h-2.7zM442.7 442h2.7v2.7h-2.7zM447.7 442h2.7v2.7h-2.7zM452.7 442h2.7v2.7h-2.7zM457.7 442h2.7v2.7h-2.7zM462.7 442h2.7v2.7h-2.7zM467.7 442h2.7v2.7h-2.7zM472.7 442h2.7v2.7h-2.7zM477.7 442h2.7v2.7h-2.7zM482.7 442h2.7v2.7h-2.7zM487.7 442h2.7v2.7h-2.7zM492.7 442h2.7v2.7h-2.7zM497.7 442h2.7v2.7h-2.7zM502.7 442h2.7v2.7h-2.7zM507.7 442h2.7v2.7h-2.7zM512.7 442h2.7v2.7h-2.7zM517.7 442h2.7v2.7h-2.7zM522.7 442h2.7v2.7h-2.7zM527.7 442h2.7v2.7h-2.7z" fill="none" stroke="#444" stroke-width="0.8"/>
<path d="M309 461.4l1.5 0l1.5 0l1.6 0l1.5 0l1.5 0l1.5 0l1.6 0l1.5 0l1.5 0l1.5 .1l1.5 -0l1.6 -0l1.5 -0l1.5 -0l1.5 -0l1.6 -0l1.5 -0l1.5 0l1.5 0l1.6 0l1.5 0l1.5 0l1.5 0l1.5 0l1.6 0l1.5 0l1.5 .1l1.5 -0l1.6 -0l1.5 -0l1.5 -0l1.5 -0l1.5 -0l1.6 -0l1.5 -0l1.5 -0l1.5 -0l1.6 -0l1.5 -0l1.5 -0l1.5 -0l1.6 -0l1.5 -0l1.5 0l1.5 -0l1.5 -0l1.5 -0l1.5 -0l1.5 -.1l1.5 0l1.5 0l1.5 -0l1.5 -.1l1.5 0l1.5 -0l1.6 -.1l1.5 -0l1.5 -.1l1.5 -0l1.5 -.1l1.5 -0l1.5 -.1l1.5 -0l1.5 -.1l1.5 -.1l1.5 -0l1.5 -.1l1.5 -.1l1.5 -.1l1.5 -.2l1.5 -.2l1.6 -.2l1.5 -.3l1.5 -.2l1.5 -.3l1.5 -.3l1.5 -.3l1.5 -.2l1.5 -.3l1.5 -.2l1.6 -.3l1.5 -.1l1.5 -.2l1.5 -.1l1.5 -.1l1.5 -.1l1.6 -0l1.5 -.1l1.6 0l1.5 -0l1.6 -.1l1.5 -0l1.6 -.1l1.5 -0l1.5 -0l1.6 -.1l1.5 0l1.6 -0l1.5 -0l1.6 -.1l1.5 0l1.6 0l1.5 0l1.6 0l1.5 0l1.5 0l1.5 0l1.5 0l1.5 0l1.5 0l1.6 0l1.5 0l1.5 0l1.5 0l1.5 0l1.5 0l1.5 0l1.5 0l1.5 0l1.5 0l1.5 0l1.6 0l1.5 0l1.5 0l1.5 0l1.5 0l1.5 0l1.5 0l1.5 0l1.5 0l1.5 0l1.6 0l1.5 0l1.5 0l1.5 0l1.5 0l1.5 0l1.5 0l1.5 0l1.5 0l1.5 0l1.5 0l1.6 0l1.5 0l1.5 0l1.5 0l1.5 0l1.5 0" fill="none" stroke="#ff1a1a" stroke-width="1.6" stroke-linejoin="round"/>
<path d="M307.1 462.6a1.9 1.9 0 1 0 3.8 0a1.9 1.9 0 1 0 -3.8 0M312.1 462.6a1.9 1.9 0 1 0 3.8 0a1.9 1.9 0 1 0 -3.8 0M317.1 462.6a1.9 1.9 0 1 0 3.8 0a1.9 1.9 0 1 0 -3.8 0M322.1 462.7a1.9 1.9 0 1 0 3.8 0a1.9 1.9 0 1 0 -3.8 0M327.1 462.7a1.9 1.9 0 1 0 3.8 0a1.9 1.9 0 1 0 -3.8 0M332.1 462.7a1.9 1.9 0 1 0 3.8 0a1.9 1.9 0 1 0 -3.8 0M337.1 462.7a1.9 1.9 0 1 0 3.8 0a1.9 1.9 0 1 0 -3.8 0M342.1 462.7a1.9 1.9 0 1 0 3.8 0a1.9 1.9 0 1 0 -3.8 0M347.1 462.7a1.9 1.9 0 1 0 3.8 0a1.9 1.9 0 1 0 -3.8 0M352.1 462.8a1.9 1.9 0 1 0 3.8 0a1.9 1.9 0 1 0 -3.8 0M357.1 462.8a1.9 1.9 0 1 0 3.8 0a1.9 1.9 0 1 0 -3.8 0M362.1 462.8a1.9 1.9 0 1 0 3.8 0a1.9 1.9 0 1 0 -3.8 0M367.1 462.8a1.9 1.9 0 1 0 3.8 0a1.9 1.9 0 1 0 -3.8 0M372.1 462.8a1.9 1.9 0 1 0 3.8 0a1.9 1.9 0 1 0 -3.8 0M377.1 462.8a1.9 1.9 0 1 0 3.8 0a1.9 1.9 0 1 0 -3.8 0M382.1 462.7a1.9 1.9 0 1 0 3.8 0a1.9 1.9 0 1 0 -3.8 0M387.1 462.7a1.9 1.9 0 1 0 3.8 0a1.9 1.9 0 1 0 -3.8 0M392.2 462.5a1.9 1.9 0 1 0 3.8 0a1.9 1.9 0 1 0 -3.8 0M397.2 462.4a1.9 1.9 0 1 0 3.8 0a1.9 1.9 0 1 0 -3.8 0M402.2 462.2a1.9 1.9 0 1 0 3.8 0a1.9 1.9 0 1 0 -3.8 0M407.2 462a1.9 1.9 0 1 0 3.8 0a1.9 1.9 0 1 0 -3.8 0M412.2 461.6a1.9 1.9 0 1 0 3.8 0a1.9 1.9 0 1 0 -3.8 0M417.3 460.9a1.9 1.9 0 1 0 3.8 0a1.9 1.9 0 1 0 -3.8 0M422.3 460a1.9 1.9 0 1 0 3.8 0a1.9 1.9 0 1 0 -3.8 0M427.3 459.1a1.9 1.9 0 1 0 3.8 0a1.9 1.9 0 1 0 -3.8 0M432.4 458.4a1.9 1.9 0 1 0 3.8 0a1.9 1.9 0 1 0 -3.8 0M437.4 458.1a1.9 1.9 0 1 0 3.8 0a1.9 1.9 0 1 0 -3.8 0M442.5 458a1.9 1.9 0 1 0 3.8 0a1.9 1.9 0 1 0 -3.8 0M447.6 457.9a1.9 1.9 0 1 0 3.8 0a1.9 1.9 0 1 0 -3.8 0M452.6 457.7a1.9 1.9 0 1 0 3.8 0a1.9 1.9 0 1 0 -3.8 0M457.7 457.7a1.9 1.9 0 1 0 3.8 0a1.9 1.9 0 1 0 -3.8 0M462.8 457.6a1.9 1.9 0 1 0 3.8 0a1.9 1.9 0 1 0 -3.8 0M467.8 457.6a1.9 1.9 0 1 0 3.8 0a1.9 1.9 0 1 0 -3.8 0M472.8 457.6a1.9 1.9 0 1 0 3.8 0a1.9 1.9 0 1 0 -3.8 0M477.9 457.6a1.9 1.9 0 1 0 3.8 0a1.9 1.9 0 1 0 -3.8 0M482.9 457.6a1.9 1.9 0 1 0 3.8 0a1.9 1.9 0 1 0 -3.8 0M487.9 457.6a1.9 1.9 0 1 0 3.8 0a1.9 1.9 0 1 0 -3.8 0M493 457.6a1.9 1.9 0 1 0 3.8 0a1.9 1.9 0 1 0 -3.8 0M498 457.6a1.9 1.9 0 1 0 3.8 0a1.9 1.9 0 1 0 -3.8 0M503 457.6a1.9 1.9 0 1 0 3.8 0a1.9 1.9 0 1 0 -3.8 0M508.1 457.6a1.9 1.9 0 1 0 3.8 0a1.9 1.9 0 1 0 -3.8 0M513.1 457.6a1.9 1.9 0 1 0 3.8 0a1.9 1.9 0 1 0 -3.8 0M518.1 457.6a1.9 1.9 0 1 0 3.8 0a1.9 1.9 0 1 0 -3.8 0M523.2 457.6a1.9 1.9 0 1 0 3.8 0a1.9 1.9 0 1 0 -3.8 0M528.2 457.6a1.9 1.9 0 1 0 3.8 0a1.9 1.9 0 1 0 -3.8 0" fill="none" stroke="#ffc4c4" stroke-width="0.8"/>
<path d="M309 547.8l1.5 -0l1.5 -0l1.5 -0l1.5 -0l1.5 -0l1.5 -0l1.6 -0l1.5 -0l1.5 -0l1.5 -.1l1.5 0l1.5 0l1.5 0l1.5 0l1.5 0l1.5 0l1.5 0l1.5 0l1.5 -0l1.5 -0l1.6 -0l1.5 -0l1.5 -0l1.5 -0l1.5 -0l1.5 -0l1.5 -0l1.5 -.1l1.5 0l1.5 0l1.5 0l1.5 0l1.5 0l1.6 0l1.5 0l1.5 0l1.5 0l1.5 -0l1.5 -0l1.5 -0l1.5 -0l1.5 -0l1.5 -0l1.5 -0l1.5 -0l1.5 -0l1.5 -.1l1.6 0l1.5 0l1.5 0l1.5 0l1.5 0l1.5 0l1.5 0l1.5 0l1.5 -0l1.5 -0l1.5 -0l1.5 -0l1.5 -0l1.6 -0l1.5 -0l1.5 -0l1.5 -0l1.5 -0l1.5 -.1l1.5 0l1.5 0l1.5 0l1.5 0l1.5 0l1.5 0l1.5 0l1.5 0l1.6 -0l1.5 -0l1.5 -0l1.5 -0l1.5 -0l1.5 -0l1.5 -0l1.5 -0l1.5 -0l1.5 -.1l1.5 0l1.5 0l1.5 0l1.5 0l1.6 0l1.5 0l1.5 0l1.5 0l1.5 0l1.5 -0l1.5 -0l1.5 -0l1.5 -0l1.5 -0l1.5 -0l1.5 -0l1.5 -0l1.6 -0l1.5 -.1l1.5 0l1.5 0l1.5 0l1.5 0l1.5 0l1.5 0l1.5 0l1.5 0l1.5 -0l1.5 -0l1.5 -0l1.5 -0l1.6 -0l1.5 -0l1.5 -0l1.5 -0l1.5 -0l1.5 -0l1.5 -.1l1.5 0l1.5 0l1.5 0l1.5 0l1.5 0l1.5 0l1.6 0l1.5 0l1.5 -0l1.5 -0l1.5 -0l1.5 -0l1.5 -0l1.5 -0l1.5 -0l1.5 -0l1.5 -0l1.5 -.1l1.5 0l1.5 0l1.6 0l1.5 0l1.5 0l1.5 0l1.5 0l1.5 0l1.5 0" fill="none" stroke="#777" stroke-width="1.6" stroke-linejoin="round"/>
<path d="M307.6 548.2h2.9v2.9h-2.9zM312.6 548.1h2.9v2.9h-2.9zM317.6 548.1h2.9v2.9h-2.9zM322.6 548.1h2.9v2.9h-2.9zM327.6 548.1h2.9v2.9h-2.9zM332.6 548.1h2.9v2.9h-2.9zM337.6 548.1h2.9v2.9h-2.9zM342.6 548h2.9v2.9h-2.9zM347.6 548h2.9v2.9h-2.9zM352.6 548h2.9v2.9h-2.9zM357.6 548h2.9v2.9h-2.9zM362.6 548h2.9v2.9h-2.9zM367.6 547.9h2.9v2.9h-2.9zM372.6 547.9h2.9v2.9h-2.9zM377.6 547.9h2.9v2.9h-2.9zM382.6 547.9h2.9v2.9h-2.9zM387.6 547.9h2.9v2.9h-2.9zM392.6 547.9h2.9v2.9h-2.9zM397.6 547.8h2.9v2.9h-2.9zM402.6 547.8h2.9v2.9h-2.9zM407.6 547.8h2.9v2.9h-2.9zM412.6 547.8h2.9v2.9h-2.9zM417.6 547.8h2.9v2.9h-2.9zM422.6 547.8h2.9v2.9h-2.9zM427.6 547.7h2.9v2.9h-2.9zM432.6 547.7h2.9v2.9h-2.9zM437.6 547.7h2.9v2.9h-2.9zM442.6 547.7h2.9v2.9h-2.9zM447.6 547.7h2.9v2.9h-2.9zM452.6 547.6h2.9v2.9h-2.9zM457.6 547.6h2.9v2.9h-2.9zM462.6 547.6h2.9v2.9h-2.9zM467.6 547.6h2.9v2.9h-2.9zM472.6 547.6h2.9v2.9h-2.9zM477.6 547.6h2.9v2.9h-2.9zM482.6 547.5h2.9v2.9h-2.9zM487.6 547.5h2.9v2.9h-2.9zM492.6 547.5h2.9v2.9h-2.9zM497.6 547.5h2.9v2.9h-2.9zM502.6 547.5h2.9v2.9h-2.9zM507.6 547.4h2.9v2.9h-2.9zM512.7 547.4h2.9v2.9h-2.9zM517.7 547.4h2.9v2.9h-2.9zM522.7 547.4h2.9v2.9h-2.9zM527.7 547.4h2.9v2.9h-2.9z" fill="none" stroke="#c4c4c4" stroke-width="0.8"/>
<path d="M309 453l1.5 -0l1.5 -0l1.5 -0l1.6 -0l1.5 -0l1.5 -0l1.5 -.1l1.5 0l1.5 0l1.6 0l1.5 0l1.5 0l1.5 0l1.5 -0l1.5 -0l1.6 -0l1.5 -0l1.5 -0l1.5 -0l1.5 -0l1.5 -0l1.6 -0l1.5 -.1l1.5 0l1.5 0l1.5 0l1.5 0l1.6 0l1.5 0l1.5 0l1.5 0l1.5 -0l1.5 -0l1.6 -0l1.5 -0l1.5 -0l1.5 -0l1.5 -0l1.5 -.1l1.6 0l1.5 0l1.5 0l1.5 0l1.5 0l1.5 -0l1.6 -0l1.5 -0l1.5 -0l1.5 -0l1.5 -0l1.5 -.1l1.6 0l1.5 0l1.5 0l1.5 -0l1.5 -0l1.5 -0l1.6 -0l1.5 -.1l1.5 0l1.5 0l1.5 -0l1.5 -0l1.6 -0l1.5 -.1l1.5 0l1.5 0l1.5 -0l1.5 -.1l1.5 -0l1.5 -.1l1.6 -.1l1.5 -.1l1.5 -.1l1.5 -.1l1.5 -.1l1.5 -.2l1.5 -.1l1.5 -.1l1.5 -.1l1.6 -.1l1.5 -.1l1.5 -.1l1.5 -0l1.5 -.1l1.5 -0l1.6 -.1l1.5 -0l1.6 -.1l1.5 -0l1.6 -.1l1.5 -0l1.6 -0l1.5 -.1l1.5 -0l1.6 -0l1.5 -.1l1.6 -0l1.5 -0l1.6 -0l1.5 -.1l1.6 0l1.5 0l1.6 0l1.5 0l1.5 0l1.5 0l1.5 0l1.5 0l1.5 0l1.6 0l1.5 0l1.5 0l1.5 0l1.5 0l1.5 0l1.5 0l1.5 0l1.5 0l1.5 0l1.5 0l1.6 0l1.5 0l1.5 0l1.5 0l1.5 0l1.5 0l1.5 0l1.5 0l1.5 0l1.5 0l1.6 0l1.5 0l1.5 0l1.5 0l1.5 0l1.5 0l1.5 0l1.5 0l1.5 0l1.5 0l1.5 0l1.6 0l1.5 0l1.5 0l1.5 0l1.5 0l1.5 0" fill="none" stroke="#ff8c1a" stroke-width="1.6" stroke-linejoin="round"/>
<path d="M307.4 453.6a1.6 1.6 0 1 0 3.2 0a1.6 1.6 0 1 0 -3.2 0M312.4 453.6a1.6 1.6 0 1 0 3.2 0a1.6 1.6 0 1 0 -3.2 0M317.4 453.5a1.6 1.6 0 1 0 3.2 0a1.6 1.6 0 1 0 -3.2 0M322.4 453.5a1.6 1.6 0 1 0 3.2 0a1.6 1.6 0 1 0 -3.2 0M327.4 453.5a1.6 1.6 0 1 0 3.2 0a1.6 1.6 0 1 0 -3.2 0M332.4 453.5a1.6 1.6 0 1 0 3.2 0a1.6 1.6 0 1 0 -3.2 0M337.5 453.5a1.6 1.6 0 1 0 3.2 0a1.6 1.6 0 1 0 -3.2 0M342.5 453.4a1.6 1.6 0 1 0 3.2 0a1.6 1.6 0 1 0 -3.2 0M347.5 453.4a1.6 1.6 0 1 0 3.2 0a1.6 1.6 0 1 0 -3.2 0M352.5 453.4a1.6 1.6 0 1 0 3.2 0a1.6 1.6 0 1 0 -3.2 0M357.5 453.4a1.6 1.6 0 1 0 3.2 0a1.6 1.6 0 1 0 -3.2 0M362.5 453.4a1.6 1.6 0 1 0 3.2 0a1.6 1.6 0 1 0 -3.2 0M367.5 453.3a1.6 1.6 0 1 0 3.2 0a1.6 1.6 0 1 0 -3.2 0M372.5 453.3a1.6 1.6 0 1 0 3.2 0a1.6 1.6 0 1 0 -3.2 0M377.5 453.3a1.6 1.6 0 1 0 3.2 0a1.6 1.6 0 1 0 -3.2 0M382.5 453.3a1.6 1.6 0 1 0 3.2 0a1.6 1.6 0 1 0 -3.2 0M387.5 453.2a1.6 1.6 0 1 0 3.2 0a1.6 1.6 0 1 0 -3.2 0M392.5 453.2a1.6 1.6 0 1 0 3.2 0a1.6 1.6 0 1 0 -3.2 0M397.5 453.1a1.6 1.6 0 1 0 3.2 0a1.6 1.6 0 1 0 -3.2 0M402.5 453.1a1.6 1.6 0 1 0 3.2 0a1.6 1.6 0 1 0 -3.2 0M407.5 453a1.6 1.6 0 1 0 3.2 0a1.6 1.6 0 1 0 -3.2 0M412.6 452.9a1.6 1.6 0 1 0 3.2 0a1.6 1.6 0 1 0 -3.2 0M417.6 452.6a1.6 1.6 0 1 0 3.2 0a1.6 1.6 0 1 0 -3.2 0M422.6 452.3a1.6 1.6 0 1 0 3.2 0a1.6 1.6 0 1 0 -3.2 0M427.7 451.9a1.6 1.6 0 1 0 3.2 0a1.6 1.6 0 1 0 -3.2 0M432.7 451.5a1.6 1.6 0 1 0 3.2 0a1.6 1.6 0 1 0 -3.2 0M437.7 451.4a1.6 1.6 0 1 0 3.2 0a1.6 1.6 0 1 0 -3.2 0M442.8 451.2a1.6 1.6 0 1 0 3.2 0a1.6 1.6 0 1 0 -3.2 0M447.9 451.1a1.6 1.6 0 1 0 3.2 0a1.6 1.6 0 1 0 -3.2 0M452.9 451a1.6 1.6 0 1 0 3.2 0a1.6 1.6 0 1 0 -3.2 0M458 450.9a1.6 1.6 0 1 0 3.2 0a1.6 1.6 0 1 0 -3.2 0M463.1 450.8a1.6 1.6 0 1 0 3.2 0a1.6 1.6 0 1 0 -3.2 0M468.1 450.8a1.6 1.6 0 1 0 3.2 0a1.6 1.6 0 1 0 -3.2 0M473.2 450.8a1.6 1.6 0 1 0 3.2 0a1.6 1.6 0 1 0 -3.2 0M478.2 450.8a1.6 1.6 0 1 0 3.2 0a1.6 1.6 0 1 0 -3.2 0M483.2 450.8a1.6 1.6 0 1 0 3.2 0a1.6 1.6 0 1 0 -3.2 0M488.3 450.8a1.6 1.6 0 1 0 3.2 0a1.6 1.6 0 1 0 -3.2 0M493.3 450.8a1.6 1.6 0 1 0 3.2 0a1.6 1.6 0 1 0 -3.2 0M498.3 450.8a1.6 1.6 0 1 0 3.2 0a1.6 1.6 0 1 0 -3.2 0M503.3 450.8a1.6 1.6 0 1 0 3.2 0a1.6 1.6 0 1 0 -3.2 0M508.4 450.8a1.6 1.6 0 1 0 3.2 0a1.6 1.6 0 1 0 -3.2 0M513.4 450.8a1.6 1.6 0 1 0 3.2 0a1.6 1.6 0 1 0 -3.2 0M518.4 450.8a1.6 1.6 0 1 0 3.2 0a1.6 1.6 0 1 0 -3.2 0M523.5 450.8a1.6 1.6 0 1 0 3.2 0a1.6 1.6 0 1 0 -3.2 0M528.5 450.8a1.6 1.6 0 1 0 3.2 0a1.6 1.6 0 1 0 -3.2 0" fill="none" stroke="#ffb060" stroke-width="0.8"/>
<path d="M309 430l1.5 -0l1.5 -0l1.5 -0l1.6 -0l1.5 -0l1.5 -0l1.5 -0l1.5 -0l1.5 -0l1.6 -0l1.5 -0l1.5 -0l1.5 -0l1.5 -0l1.5 -.1l1.6 0l1.5 0l1.5 0l1.5 0l1.5 0l1.5 0l1.6 0l1.5 0l1.5 0l1.5 0l1.5 0l1.5 0l1.6 -0l1.5 -0l1.5 -0l1.5 -0l1.5 -0l1.5 -0l1.6 -0l1.5 -0l1.5 -0l1.5 -0l1.5 -0l1.5 -0l1.6 -0l1.5 -.1l1.5 0l1.5 0l1.5 0l1.5 0l1.6 0l1.5 0l1.5 0l1.5 0l1.5 0l1.5 0l1.6 0l1.5 0l1.5 0l1.5 0l1.5 0l1.5 0l1.6 0l1.5 0l1.5 0l1.5 0l1.5 0l1.5 0l1.6 0l1.5 0l1.5 0l1.5 0l1.5 0l1.5 .1l1.5 .1l1.5 .1l1.6 .1l1.5 .2l1.5 .1l1.5 .2l1.5 .2l1.5 .2l1.5 .2l1.5 .2l1.5 .2l1.6 .1l1.5 .2l1.5 .1l1.5 .1l1.5 .1l1.5 .1l1.6 0l1.5 .1l1.6 .1l1.5 0l1.6 .1l1.5 .1l1.6 0l1.5 .1l1.5 0l1.6 .1l1.5 0l1.6 .1l1.5 -0l1.6 0l1.5 .1l1.6 -0l1.5 -0l1.6 -0l1.5 -0l1.5 -0l1.5 -0l1.5 -0l1.5 -0l1.5 -0l1.6 -0l1.5 -0l1.5 -0l1.5 -0l1.5 -0l1.5 -0l1.5 -0l1.5 -0l1.5 -0l1.5 -0l1.5 -0l1.6 -0l1.5 -0l1.5 -0l1.5 -0l1.5 -0l1.5 -0l1.5 -0l1.5 -0l1.5 -0l1.5 -0l1.6 -0l1.5 -0l1.5 -0l1.5 -0l1.5 -0l1.5 -0l1.5 -0l1.5 -0l1.5 -0l1.5 -0l1.5 -0l1.6 -0l1.5 -0l1.5 -0l1.5 -0l1.5 -0l1.5 -0" fill="none" stroke="#ff19ff" stroke-width="1.6" stroke-linejoin="round"/>
<path d="M309 433.7l1.7 -3h-3.4zM314 433.7l1.7 -3h-3.4zM319 433.7l1.7 -3h-3.4zM324 433.7l1.7 -3h-3.4zM329 433.7l1.7 -3h-3.4zM334 433.6l1.7 -3h-3.4zM339 433.6l1.7 -3h-3.4zM344 433.6l1.7 -3h-3.4zM349 433.6l1.7 -3h-3.4zM354 433.6l1.7 -3h-3.4zM359 433.6l1.7 -3h-3.4zM364.1 433.6l1.7 -3h-3.4zM369.1 433.6l1.7 -3h-3.4zM374.1 433.5l1.7 -3h-3.4zM379.1 433.5l1.7 -3h-3.4zM384.1 433.5l1.7 -3h-3.4zM389.1 433.5l1.7 -3h-3.4zM394.1 433.5l1.7 -3h-3.4zM399.1 433.5l1.7 -3h-3.4zM404.1 433.5l1.7 -3h-3.4zM409.1 433.5l1.7 -3h-3.4zM414.1 433.6l1.7 -3h-3.4zM419.2 434l1.7 -3h-3.4zM424.2 434.6l1.7 -3h-3.4zM429.2 435.2l1.7 -3h-3.4zM434.3 435.8l1.7 -3h-3.4zM439.3 436.1l1.7 -3h-3.4zM444.4 436.3l1.7 -3h-3.4zM449.5 436.5l1.7 -3h-3.4zM454.5 436.7l1.7 -3h-3.4zM459.6 436.8l1.7 -3h-3.4zM464.6 436.9l1.7 -3h-3.4zM469.7 436.9l1.7 -3h-3.4zM474.7 436.9l1.7 -3h-3.4zM479.8 436.9l1.7 -3h-3.4zM484.8 436.9l1.7 -3h-3.4zM489.8 436.9l1.7 -3h-3.4zM494.9 436.9l1.7 -3h-3.4zM499.9 436.9l1.7 -3h-3.4zM504.9 436.9l1.7 -3h-3.4zM510 436.9l1.7 -3h-3.4zM515 436.9l1.7 -3h-3.4zM520 436.9l1.7 -3h-3.4zM525 436.9l1.7 -3h-3.4zM530.1 436.9l1.7 -3h-3.4z" fill="none" stroke="#ffa6ff" stroke-width="0.7"/>
<path d="M309 533l1.5 0l1.5 0l1.5 0l1.6 0l1.5 0l1.5 0l1.5 0l1.5 .1l1.5 -0l1.6 -0l1.5 -0l1.5 -0l1.5 -0l1.5 -0l1.5 -0l1.6 -0l1.5 -0l1.5 -0l1.5 0l1.5 0l1.5 0l1.6 0l1.5 0l1.5 0l1.5 0l1.5 0l1.5 0l1.6 0l1.5 0l1.5 .1l1.5 -0l1.5 -0l1.5 -0l1.6 -0l1.5 -0l1.5 -0l1.5 -0l1.5 -0l1.5 -0l1.6 0l1.5 0l1.5 0l1.5 0l1.5 0l1.5 0l1.6 0l1.5 .1l1.5 -0l1.5 -0l1.5 -0l1.5 -0l1.6 -0l1.5 0l1.5 0l1.5 0l1.5 0l1.5 .1l1.6 -0l1.5 -0l1.5 -0l1.5 0l1.5 0l1.5 0l1.6 .1l1.5 -0l1.5 -0l1.5 -0l1.5 0l1.5 .1l1.5 .1l1.5 .2l1.6 .1l1.5 .2l1.5 .2l1.5 .2l1.5 .3l1.5 .2l1.5 .2l1.5 .2l1.5 .3l1.6 .1l1.5 .2l1.5 .2l1.5 .1l1.5 .1l1.5 .1l1.6 .1l1.5 0l1.6 .1l1.5 .1l1.6 0l1.5 .1l1.6 .1l1.5 0l1.5 .1l1.6 0l1.5 .1l1.6 0l1.5 .1l1.6 0l1.5 0l1.6 .1l1.5 -0l1.6 -0l1.5 -0l1.5 -0l1.5 -0l1.5 -0l1.5 -0l1.5 -0l1.6 -0l1.5 -0l1.5 -0l1.5 -.1l1.5 0l1.5 0l1.5 0l1.5 -0l1.5 -0l1.5 -0l1.5 -.1l1.6 0l1.5 0l1.5 -0l1.5 -0l1.5 -.1l1.5 0l1.5 0l1.5 -0l1.5 -0l1.5 -.1l1.6 0l1.5 -0l1.5 -0l1.5 -0l1.5 -.1l1.5 0l1.5 -0l1.5 -0l1.5 -.1l1.5 0l1.5 0l1.6 -0l1.5 -0l1.5 -0l1.5 -.1l1.5 0l1.5 -0" fill="none" stroke="#1fb01f" stroke-width="1.6" stroke-linejoin="round"/>
<path d="M307.7 534.8h2.6M309 533.5v2.6M312.7 534.8h2.6M314 533.5v2.6M317.7 534.8h2.6M319 533.5v2.6M322.7 534.9h2.6M324 533.6v2.6M327.7 534.9h2.6M329 533.6v2.6M332.7 534.9h2.6M334 533.6v2.6M337.7 534.9h2.6M339 533.6v2.6M342.7 534.9h2.6M344 533.6v2.6M347.7 534.9h2.6M349 533.6v2.6M352.7 534.9h2.6M354 533.6v2.6M357.7 535h2.6M359 533.7v2.6M362.8 535h2.6M364.1 533.7v2.6M367.8 535h2.6M369.1 533.7v2.6M372.8 535h2.6M374.1 533.7v2.6M377.8 535h2.6M379.1 533.7v2.6M382.8 535.1h2.6M384.1 533.8v2.6M387.8 535.1h2.6M389.1 533.8v2.6M392.8 535.1h2.6M394.1 533.8v2.6M397.8 535.2h2.6M399.1 533.9v2.6M402.8 535.2h2.6M404.1 533.9v2.6M407.8 535.3h2.6M409.1 534v2.6M412.8 535.4h2.6M414.1 534.1v2.6M417.9 536h2.6M419.2 534.7v2.6M422.9 536.7h2.6M424.2 535.4v2.6M427.9 537.4h2.6M429.2 536.1v2.6M433 538h2.6M434.3 536.7v2.6M438 538.4h2.6M439.3 537.1v2.6M443.1 538.6h2.6M444.4 537.3v2.6M448.2 538.8h2.6M449.5 537.5v2.6M453.2 539h2.6M454.5 537.7v2.6M458.3 539.2h2.6M459.6 537.9v2.6M463.3 539.3h2.6M464.6 538v2.6M468.4 539.3h2.6M469.7 538v2.6M473.4 539.3h2.6M474.7 538v2.6M478.5 539.3h2.6M479.8 538v2.6M483.5 539.2h2.6M484.8 537.9v2.6M488.5 539.2h2.6M489.8 537.9v2.6M493.6 539.1h2.6M494.9 537.8v2.6M498.6 539.1h2.6M499.9 537.8v2.6M503.6 539h2.6M504.9 537.7v2.6M508.7 538.9h2.6M510 537.6v2.6M513.7 538.8h2.6M515 537.5v2.6M518.7 538.8h2.6M520 537.5v2.6M523.7 538.7h2.6M525 537.4v2.6M528.8 538.6h2.6M530.1 537.3v2.6" stroke="#2cb02c" stroke-width="0.9"/>
</g>
<text x="491" y="557.5" font-size="9.6" fill="#222" text-anchor="middle" font-family='"Liberation Serif", serif' font-style="italic">α<tspan font-size="7.1" dy="1.6">c</tspan></text>
<rect x="324.6" y="467.4" width="57.9" height="60.8" fill="#fff" fill-opacity="1" stroke="#444" stroke-width="0.9"/>
<rect x="329.24" y="474.84" width="3.52" height="3.52" fill="none" stroke="#333" stroke-width="0.9"/>
<text x="356" y="479.7" font-size="8.6" fill="#000" text-anchor="middle" font-family='"Liberation Sans", sans-serif' font-weight="bold" font-style="italic">Q</text>
<circle cx="331" cy="485.4" r="2.97" fill="none" stroke="#ff1a1a" stroke-width="0.9"/>
<text x="356" y="488.5" font-size="8.6" fill="#ff1a1a" text-anchor="middle" font-family='"Liberation Sans", sans-serif' font-weight="bold" font-style="italic">M</text>
<path d="M331 492.5L333.5 496.88L328.5 496.88Z" fill="none" stroke="#aaa" stroke-width="0.9"/>
<text x="336.5" y="497.2" font-size="6.7" fill="#b0b0b0" text-anchor="start" font-family='"Liberation Sans", sans-serif' font-weight="normal">(1&#8201;-&#8201;γ)&#8201;(P&#8201;-&#8201;W)</text>
<circle cx="331" cy="502.6" r="1.95" fill="none" stroke="#ff8c1a" stroke-width="0.9"/>
<text x="356" y="505.7" font-size="8.6" fill="#ff8c1a" text-anchor="middle" font-family='"Liberation Sans", sans-serif' font-weight="bold" font-style="italic">G</text>
<path d="M331 513.6L333.6 509.05L328.4 509.05Z" fill="none" stroke="#ff19ff" stroke-width="0.9"/>
<text x="356" y="514.1" font-size="8.6" fill="#ff19ff" text-anchor="middle" font-family='"Liberation Sans", sans-serif' font-weight="bold" font-style="italic">U</text>
<path d="M328.8 519.6H333.2M331 517.4V521.8" stroke="#1fb01f" stroke-width="0.9"/>
<text x="355" y="522.9" font-size="9.2" fill="#22b822" text-anchor="middle" font-family='"Liberation Sans", sans-serif' font-weight="bold">10<tspan font-size="6" dy="-3.5">5</tspan><tspan dy="3.5" dx="0.6" font-family='Liberation Serif' font-style="italic" font-weight="normal" fill="#5cc85c">π</tspan></text>
<text x="528" y="440.3" font-size="8" fill="#222" text-anchor="middle" font-family='"Liberation Sans", sans-serif' font-weight="normal">i2</text>
</g>
<clipPath id="cj1"><rect x="5.5" y="563.1" width="265.0" height="137.89999999999998"/></clipPath>
<g clip-path="url(#cj1)">
<line x1="83.6" y1="563.1" x2="83.6" y2="701" stroke="#f1f1f1" stroke-width="0.9"/>
<line x1="132.7" y1="563.1" x2="132.7" y2="701" stroke="#f1f1f1" stroke-width="0.9"/>
<line x1="181.8" y1="563.1" x2="181.8" y2="701" stroke="#f1f1f1" stroke-width="0.9"/>
<line x1="230.9" y1="563.1" x2="230.9" y2="701" stroke="#f1f1f1" stroke-width="0.9"/>
<line x1="35.6" y1="604.5" x2="270.5" y2="604.5" stroke="#f1f1f1" stroke-width="0.9"/>
<line x1="35.6" y1="645.6" x2="270.5" y2="645.6" stroke="#f1f1f1" stroke-width="0.9"/>
<line x1="35.6" y1="563.1" x2="35.6" y2="701" stroke="#d8d8d8" stroke-width="1"/>
<text x="32.8" y="607.4" font-size="8.2" fill="#262626" text-anchor="end" font-family='"Liberation Sans", sans-serif' font-weight="normal" letter-spacing="-0.3" stroke="#262626" stroke-width="0.12">1000</text>
<text x="32.8" y="648.5" font-size="8.2" fill="#262626" text-anchor="end" font-family='"Liberation Sans", sans-serif' font-weight="normal" letter-spacing="-0.3" stroke="#262626" stroke-width="0.12">500</text>
<text x="32.8" y="689.5" font-size="8.2" fill="#262626" text-anchor="end" font-family='"Liberation Sans", sans-serif' font-weight="normal" letter-spacing="-0.3" stroke="#262626" stroke-width="0.12">0</text>
<line x1="133.2" y1="563.1" x2="133.2" y2="701" stroke="#5e5e5e" stroke-width="2.1" stroke-dasharray="2.0 4.6" stroke-dashoffset="4.3"/>
<text x="83.6" y="695.9" font-size="8.2" fill="#262626" text-anchor="middle" font-family='"Liberation Sans", sans-serif' font-weight="normal" letter-spacing="-0.3" stroke="#262626" stroke-width="0.12">0.85</text>
<text x="132.7" y="695.9" font-size="8.2" fill="#262626" text-anchor="middle" font-family='"Liberation Sans", sans-serif' font-weight="normal" letter-spacing="-0.3" stroke="#262626" stroke-width="0.12">0.90</text>
<text x="181.8" y="695.9" font-size="8.2" fill="#262626" text-anchor="middle" font-family='"Liberation Sans", sans-serif' font-weight="normal" letter-spacing="-0.3" stroke="#262626" stroke-width="0.12">0.95</text>
<text x="230.9" y="695.9" font-size="8.2" fill="#262626" text-anchor="middle" font-family='"Liberation Sans", sans-serif' font-weight="normal" letter-spacing="-0.3" stroke="#262626" stroke-width="0.12">1.00</text>
<clipPath id="ccj1"><rect x="35.6" y="563.1" width="234.9" height="137.89999999999998"/></clipPath><g clip-path="url(#ccj1)">
<path d="M35.6 685l1.5 -.1l1.6 0l1.5 -0l1.6 -.1l1.5 -0l1.6 -.1l1.5 -0l1.6 -0l1.5 -.1l1.6 -0l1.5 -.1l1.6 -0l1.5 -.1l1.6 -0l1.5 -.1l1.6 -.1l1.5 -0l1.6 -.1l1.5 -.1l1.5 -.1l1.6 -.1l1.5 -.2l1.6 -.2l1.5 -.2l1.5 -.2l1.6 -.2l1.5 -.3l1.5 -.3l1.6 -.2l1.5 -.3l1.6 -.4l1.5 -.3l1.7 -.4l1.6 -.5l1.7 -.6l1.7 -.6l1.6 -.7l1.7 -.7l1.8 -.8l1.7 -.8l1.8 -.9l1.7 -1l1.6 -.9l1.5 -1l1.6 -1l1.5 -1.1l1.6 -1.3l1.7 -1.4l1.6 -1.5l1.7 -1.6l1.6 -1.8l1.6 -2l1.6 -2.2l1.7 -2.3l1.6 -2.5l1.6 -2.4l1.6 -2.5l1.7 -2.6l1.6 -2.7l1.7 -2.6l1.6 -2.6l1.7 -2.4l1.6 -2.6l1.7 -3l1.6 -3.2l1.7 -3.3l1.6 -3.2l1.6 -3.2l1.7 -3.1l1.6 -2.7l1.6 -2.1l1.7 -1.9l1.6 -1.7l1.6 -1.7l1.6 -1.8l1.7 -1.8l1.6 -1.3l1.7 -.8l1.6 -.6l1.7 -.5l1.6 -.5l1.6 -.6l1.6 -.5l1.7 -.5l1.6 -.5l1.6 -.4l1.6 -.3l1.7 -.3l1.6 -.2l1.7 -.3l1.6 -.2l1.6 -.2l1.7 -.3l1.6 -.2l1.7 -.2l1.6 -.1l1.5 -0l1.5 -0l1.5 -0l1.6 -.1l1.5 0l1.5 0l1.5 0l1.5 -0l1.5 -0l1.5 -0l1.5 -0l1.6 -0l1.5 -.1l1.5 0l1.5 0l1.5 0l1.5 0l1.5 0l1.5 0l1.6 0l1.5 -0l1.5 -0l1.5 -0l1.5 -0l1.5 -0l1.5 -0l1.6 -0l1.5 -0l1.5 -0l1.5 -0l1.5 -0l1.5 -0l1.5 -0l1.5 -0l1.6 -0l1.5 -.1l1.5 0l1.5 0l1.5 0l1.5 0l1.5 0l1.5 0l1.6 0l1.5 0l1.5 0l1.5 0" fill="none" stroke="#000" stroke-width="1.6" stroke-linejoin="round"/>
<path d="M33.7 685h3.7M39.3 684.8h3.7M44.9 684.7h3.7M50.5 684.5h3.7M56 684.3h3.7M61.6 684.1h3.7M67.1 683.7h3.7M72.6 683h3.7M78.1 682h3.7M83.6 680.9h3.7M89.1 679.1h3.7M94.6 676.8h3.7M100.1 674h3.7M105.8 670.4h3.7M110.9 666.1h3.7M116 660.6h3.7M120.6 654.1h3.7M125.2 647h3.7M129.8 639.6h3.7M134.1 633h3.7M138.2 625.3h3.7M142.4 617.1h3.7M146.6 609.9h3.7M151.6 604.4h3.7M156.5 599.3h3.7M162.1 597.1h3.7M167.7 595.2h3.7M173.3 593.8h3.7M178.9 592.9h3.7M184.5 592.1h3.7M190.1 591.8h3.7M195.6 591.7h3.7M201.1 591.7h3.7M206.7 591.7h3.7M212.2 591.6h3.7M217.7 591.6h3.7M223.2 591.6h3.7M228.7 591.6h3.7M234.2 591.6h3.7M239.7 591.6h3.7M245.2 591.5h3.7M250.7 591.5h3.7M256.2 591.5h3.7" stroke="#000" stroke-width="3.7"/>
<path d="M35.6 596l1.6 0l1.7 0l1.6 0l1.6 0l1.6 0l1.7 0l1.6 0l1.5 0l1.5 0l1.6 .1l1.5 0l1.5 .1l1.5 .1l1.5 .1l1.5 .1l1.6 .2l1.5 .1l1.5 .2l1.5 .1l1.5 .2l1.5 .2l1.6 .2l1.5 .2l1.5 .2l1.5 .2l1.5 .3l1.5 .2l1.6 .2l1.5 .3l1.5 .2l1.5 .3l1.5 .2l1.5 .3l1.6 .2l1.5 .3l1.5 .2l1.5 .3l1.5 .2l1.5 .4l1.5 .3l1.5 .4l1.5 .4l1.6 .5l1.7 .7l1.6 .7l1.7 .7l1.6 .8l1.6 .9l1.7 .9l1.6 1l1.7 1l1.6 1.1l1.6 1l1.6 1l1.7 1.1l1.6 1.2l1.6 1.4l1.7 1.9l1.6 2.3l1.7 2.7l1.6 2.9l1 2.1l.9 2.1l1.6 2.9l1.6 2.7l1.5 2.6l1.6 2.5l1.6 2.7l1.6 2.9l1.7 3.1l1.6 3l1.7 3l1.6 2.7l1.6 2.5l1.7 2.5l1.6 2.3l1.7 2.2l1.6 2l1.6 1.9l1.7 1.8l1.6 1.7l1.7 1.5l1.6 1.2l1.6 1l1.6 1l1.7 .8l1.6 .7l1.6 .6l1.6 .5l1.7 .5l1.6 .4l1.7 .4l1.6 .4l1.6 .4l1.7 .2l1.6 .3l1.7 .1l1.6 .1l1.5 0l1.5 .1l1.5 -0l1.6 0l1.5 .1l1.5 -0l1.5 0l1.5 0l1.5 .1l1.5 -0l1.5 -0l1.6 0l1.5 0l1.5 .1l1.5 -0l1.5 -0l1.5 -0l1.5 0l1.5 0l1.6 0l1.5 0l1.5 .1l1.5 -0l1.5 -0l1.5 -0l1.5 -0l1.6 0l1.5 0l1.5 0l1.5 0l1.5 0l1.5 0l1.5 .1l1.5 -0l1.6 -0l1.5 -0l1.5 -0l1.5 0l1.5 0l1.5 0l1.5 0l1.5 0l1.6 .1l1.5 -0l1.5 -0l1.5 -0" fill="none" stroke="#ff1a1a" stroke-width="1.6" stroke-linejoin="round"/>
<path d="M35.6 596h0M41.3 596h0M47 596h0M52.5 596.1h0M58 596.4h0M63.5 597h0M69 597.6h0M74.5 598.4h0M80 599.2h0M85.5 600.1h0M91 601h0M96.5 602.1h0M102 603.7h0M107.7 606.2h0M113.3 609.3h0M118.9 612.9h0M124.5 617h0M129.1 623.2h0M133 631h0M137.2 638.4h0M141.4 645.3h0M145.5 652.9h0M149.6 659.9h0M154.2 666.7h0M158.8 672.4h0M164 677.5h0M169.6 681.1h0M175.1 683.3h0M180.8 684.8h0M186.4 685.8h0M192 686.1h0M197.5 686.3h0M203 686.3h0M208.5 686.4h0M214 686.5h0M219.5 686.5h0M225.1 686.6h0M230.6 686.6h0M236.1 686.6h0M241.6 686.7h0M247.1 686.7h0M252.6 686.7h0M258.1 686.8h0" stroke="#ff1a1a" stroke-width="6.2" stroke-linecap="round"/>
<path d="M35.6 697l1.5 -0l1.6 -.1l1.5 0l1.6 -0l1.5 -0l1.6 -.1l1.5 0l1.5 -0l1.6 -0l1.5 -0l1.6 -.1l1.5 0l1.6 -0l1.5 -0l1.6 -.1l1.5 0l1.5 -0l1.6 -0l1.5 -.1l1.6 0l1.5 -0l1.6 -0l1.5 -.1l1.6 -0l1.5 -.1l1.5 0l1.6 -0l1.5 -.1l1.6 -0l1.5 -.1l1.6 -0l1.5 -.1l1.5 -.1l1.5 -.1l1.5 -.1l1.5 -.2l1.5 -.2l1.5 -.1l1.5 -.3l1.5 -.2l1.5 -.2l1.5 -.2l1.6 -.2l1.7 -.3l1.6 -.3l1.7 -.3l1.6 -.3l1.6 -.3l1.7 -.4l1.6 -.4l1.7 -.4l1.6 -.4l1.6 -.5l1.7 -.5l1.6 -.6l1.6 -.6l1.7 -.7l1.6 -.7l1.6 -.7l1.6 -.7l1.7 -.8l1.6 -.7l1.6 -.8l1.7 -.8l1.6 -.9l1.7 -.8l1.6 -.8l1.6 -.7l1.7 -.7l1.6 -.7l1.7 -.6l1.6 -.6l1.6 -.6l1.7 -.6l1.6 -.5l1.7 -.5l1.6 -.3l1.6 -.2l1.7 -.2l1.6 -.2l1.7 -.1l1.6 -.1l1.5 -.1l1.6 -.1l1.5 -0l1.5 -.1l1.6 -.1l1.5 -0l1.5 -.1l1.6 -.1l1.5 -0l1.5 -.1l1.5 -0l1.6 -0l1.5 -.1l1.5 0l1.6 0l1.5 0l1.5 0l1.5 0l1.5 0l1.6 0l1.5 0l1.5 0l1.5 0l1.5 .1l1.5 -0l1.5 -0l1.5 0l1.6 0l1.5 0l1.5 .1l1.5 -0l1.5 -0l1.5 0l1.5 0l1.5 .1l1.6 -0l1.5 0l1.5 0l1.5 .1l1.5 0l1.5 0l1.5 .1l1.6 -0l1.5 0l1.5 0l1.5 .1l1.5 0l1.5 0l1.5 .1l1.5 -0l1.6 0l1.5 0l1.5 .1l1.5 0l1.5 0l1.5 .1l1.5 -0l1.5 0l1.6 0l1.5 .1l1.5 -0l1.5 0" fill="none" stroke="#777" stroke-width="1.6" stroke-linejoin="round"/>
<path d="M35.6 696.2l2.4 4.2h-4.8zM41.1 696.1l2.4 4.2h-4.8zM46.7 696l2.4 4.2h-4.8zM52.2 695.9l2.4 4.2h-4.8zM57.8 695.8l2.4 4.2h-4.8zM63.3 695.7l2.4 4.2h-4.8zM68.9 695.6l2.4 4.2h-4.8zM74.4 695.5l2.4 4.2h-4.8zM80 695.4l2.4 4.2h-4.8zM85.5 695.2l2.4 4.2h-4.8zM91 694.7l2.4 4.2h-4.8zM96.5 694l2.4 4.2h-4.8zM102 693.2l2.4 4.2h-4.8zM107.7 692.2l2.4 4.2h-4.8zM113.3 691l2.4 4.2h-4.8zM118.9 689.4l2.4 4.2h-4.8zM124.5 687.3l2.4 4.2h-4.8zM130.2 684.8l2.4 4.2h-4.8zM135.8 682.2l2.4 4.2h-4.8zM141.4 679.4l2.4 4.2h-4.8zM147.1 677l2.4 4.2h-4.8zM152.7 675l2.4 4.2h-4.8zM158.3 673.6l2.4 4.2h-4.8zM164 673.1l2.4 4.2h-4.8zM169.5 672.8l2.4 4.2h-4.8zM175 672.5l2.4 4.2h-4.8zM180.5 672.3l2.4 4.2h-4.8zM186 672.2l2.4 4.2h-4.8zM191.5 672.2l2.4 4.2h-4.8zM197 672.2l2.4 4.2h-4.8zM202.5 672.2l2.4 4.2h-4.8zM208 672.3l2.4 4.2h-4.8zM213.5 672.4l2.4 4.2h-4.8zM219 672.5l2.4 4.2h-4.8zM224.5 672.6l2.4 4.2h-4.8zM230.1 672.7l2.4 4.2h-4.8zM235.6 672.8l2.4 4.2h-4.8zM241.1 672.9l2.4 4.2h-4.8zM246.6 673l2.4 4.2h-4.8zM252.1 673.1l2.4 4.2h-4.8zM257.6 673.2l2.4 4.2h-4.8z" fill="#888"/>
<path d="M35.6 641l1.5 .1l1.6 0l1.5 .1l1.6 0l1.5 0l1.5 .1l1.6 0l1.5 .1l1.5 0l1.6 .1l1.5 -0l1.6 0l1.5 .1l1.5 0l1.6 0l1.5 .1l1.6 0l1.5 .1l1.5 0l1.6 .1l1.5 0l1.6 .1l1.5 0l1.5 .1l1.6 0l1.5 .1l1.6 0l1.5 .1l1.5 .1l1.6 .1l1.5 0l1.5 .1l1.6 .1l1.5 .1l1.6 .1l1.5 .1l1.5 .1l1.5 .2l1.5 .2l1.5 .3l1.5 .3l1.5 .3l1.6 .4l1.7 .5l1.6 .5l1.7 .5l1.6 .5l1.6 .5l1.7 .4l1.6 .5l1.7 .5l1.6 .6l1.6 .7l1.6 .7l1.7 .9l1.6 .9l1.6 .9l1.6 1l1.7 1.1l1.6 1.1l1.7 1.2l1.6 1.3l1.6 1.3l1.7 1.5l1.6 1.5l1.7 1.5l1.6 1.6l1.6 1.7l1.7 1.7l1.6 1.8l1.7 1.6l1.6 1.3l1.6 1l1.7 .9l1.6 .8l1.7 .7l1.6 .7l1.6 .6l1.6 .7l1.6 .6l1.6 .6l1.5 .5l1.6 .5l1.6 .4l1.6 .4l1.5 .3l1.6 .3l1.5 .3l1.6 .3l1.5 .3l1.5 .2l1.6 .3l1.5 .2l1.5 .2l1.6 .1l1.5 .1l1.6 .1l1.5 .1l1.5 0l1.5 .1l1.5 0l1.6 0l1.5 .1l1.5 -0l1.5 0l1.5 .1l1.5 -0l1.5 0l1.5 0l1.6 0l1.5 .1l1.5 -0l1.5 0l1.5 0l1.5 0l1.5 .1l1.5 -0l1.6 -0l1.5 -0l1.5 0l1.5 0l1.5 0l1.5 0l1.5 .1l1.6 -0l1.5 -0l1.5 -0l1.5 -0l1.5 0l1.5 0l1.5 0l1.5 0l1.6 .1l1.5 -0l1.5 -0l1.5 -0l1.5 -0l1.5 0l1.5 0l1.5 0l1.6 .1l1.5 -0l1.5 -0l1.5 -0" fill="none" stroke="#19f0f0" stroke-width="1.6" stroke-linejoin="round"/>
<path d="M35.6 638l.8 1.9l2 .2l-1.6 1.3l.5 2l-1.7 -1.1l-1.7 1.1l.5 -2l-1.6 -1.3l2 -.2zM41.1 638.2l.8 1.9l2 .2l-1.6 1.3l.5 2l-1.7 -1.1l-1.7 1.1l.5 -2l-1.6 -1.3l2 -.2zM46.7 638.4l.8 1.9l2 .2l-1.6 1.3l.5 2l-1.7 -1.1l-1.7 1.1l.5 -2l-1.6 -1.3l2 -.2zM52.2 638.5l.8 1.9l2 .2l-1.6 1.3l.5 2l-1.7 -1.1l-1.7 1.1l.5 -2l-1.6 -1.3l2 -.2zM57.8 638.7l.8 1.9l2 .2l-1.6 1.3l.5 2l-1.7 -1.1l-1.7 1.1l.5 -2l-1.6 -1.3l2 -.2zM63.3 638.8l.8 1.9l2 .2l-1.6 1.3l.5 2l-1.7 -1.1l-1.7 1.1l.5 -2l-1.6 -1.3l2 -.2zM68.8 639l.8 1.9l2 .2l-1.6 1.3l.5 2l-1.7 -1.1l-1.7 1.1l.5 -2l-1.6 -1.3l2 -.2zM74.4 639.2l.8 1.9l2 .2l-1.6 1.3l.5 2l-1.7 -1.1l-1.7 1.1l.5 -2l-1.6 -1.3l2 -.2zM79.9 639.4l.8 1.9l2 .2l-1.6 1.3l.5 2l-1.7 -1.1l-1.7 1.1l.5 -2l-1.6 -1.3l2 -.2zM85.5 639.7l.8 1.9l2 .2l-1.6 1.3l.5 2l-1.7 -1.1l-1.7 1.1l.5 -2l-1.6 -1.3l2 -.2zM91 640l.8 1.9l2 .2l-1.6 1.3l.5 2l-1.7 -1.1l-1.7 1.1l.5 -2l-1.6 -1.3l2 -.2zM96.5 640.8l.8 1.9l2 .2l-1.6 1.3l.5 2l-1.7 -1.1l-1.7 1.1l.5 -2l-1.6 -1.3l2 -.2zM102 641.9l.8 1.9l2 .2l-1.6 1.3l.5 2l-1.7 -1.1l-1.7 1.1l.5 -2l-1.6 -1.3l2 -.2zM107.7 643.7l.8 1.9l2 .2l-1.6 1.3l.5 2l-1.7 -1.1l-1.7 1.1l.5 -2l-1.6 -1.3l2 -.2zM113.3 645.3l.8 1.9l2 .2l-1.6 1.3l.5 2l-1.7 -1.1l-1.7 1.1l.5 -2l-1.6 -1.3l2 -.2zM118.9 647.4l.8 1.9l2 .2l-1.6 1.3l.5 2l-1.7 -1.1l-1.7 1.1l.5 -2l-1.6 -1.3l2 -.2zM124.5 650.4l.8 1.9l2 .2l-1.6 1.3l.5 2l-1.7 -1.1l-1.7 1.1l.5 -2l-1.6 -1.3l2 -.2zM130.1 654.2l.8 1.9l2 .2l-1.6 1.3l.5 2l-1.7 -1.1l-1.7 1.1l.5 -2l-1.6 -1.3l2 -.2zM135.3 658.3l.8 1.9l2 .2l-1.6 1.3l.5 2l-1.7 -1.1l-1.7 1.1l.5 -2l-1.6 -1.3l2 -.2zM140.4 663l.8 1.9l2 .2l-1.6 1.3l.5 2l-1.7 -1.1l-1.7 1.1l.5 -2l-1.6 -1.3l2 -.2zM145.5 668.4l.8 1.9l2 .2l-1.6 1.3l.5 2l-1.7 -1.1l-1.7 1.1l.5 -2l-1.6 -1.3l2 -.2zM150.6 672.6l.8 1.9l2 .2l-1.6 1.3l.5 2l-1.7 -1.1l-1.7 1.1l.5 -2l-1.6 -1.3l2 -.2zM156.3 675.3l.8 1.9l2 .2l-1.6 1.3l.5 2l-1.7 -1.1l-1.7 1.1l.5 -2l-1.6 -1.3l2 -.2zM161.9 677.6l.8 1.9l2 .2l-1.6 1.3l.5 2l-1.7 -1.1l-1.7 1.1l.5 -2l-1.6 -1.3l2 -.2zM167.5 679.4l.8 1.9l2 .2l-1.6 1.3l.5 2l-1.7 -1.1l-1.7 1.1l.5 -2l-1.6 -1.3l2 -.2zM173 680.6l.8 1.9l2 .2l-1.6 1.3l.5 2l-1.7 -1.1l-1.7 1.1l.5 -2l-1.6 -1.3l2 -.2zM178.5 681.6l.8 1.9l2 .2l-1.6 1.3l.5 2l-1.7 -1.1l-1.7 1.1l.5 -2l-1.6 -1.3l2 -.2zM184 682.4l.8 1.9l2 .2l-1.6 1.3l.5 2l-1.7 -1.1l-1.7 1.1l.5 -2l-1.6 -1.3l2 -.2zM189.5 682.8l.8 1.9l2 .2l-1.6 1.3l.5 2l-1.7 -1.1l-1.7 1.1l.5 -2l-1.6 -1.3l2 -.2zM195 682.9l.8 1.9l2 .2l-1.6 1.3l.5 2l-1.7 -1.1l-1.7 1.1l.5 -2l-1.6 -1.3l2 -.2zM200.5 683.1l.8 1.9l2 .2l-1.6 1.3l.5 2l-1.7 -1.1l-1.7 1.1l.5 -2l-1.6 -1.3l2 -.2zM206 683.1l.8 1.9l2 .2l-1.6 1.3l.5 2l-1.7 -1.1l-1.7 1.1l.5 -2l-1.6 -1.3l2 -.2zM211.5 683.2l.8 1.9l2 .2l-1.6 1.3l.5 2l-1.7 -1.1l-1.7 1.1l.5 -2l-1.6 -1.3l2 -.2zM217 683.3l.8 1.9l2 .2l-1.6 1.3l.5 2l-1.7 -1.1l-1.7 1.1l.5 -2l-1.6 -1.3l2 -.2zM222.5 683.3l.8 1.9l2 .2l-1.6 1.3l.5 2l-1.7 -1.1l-1.7 1.1l.5 -2l-1.6 -1.3l2 -.2zM228.1 683.4l.8 1.9l2 .2l-1.6 1.3l.5 2l-1.7 -1.1l-1.7 1.1l.5 -2l-1.6 -1.3l2 -.2zM233.6 683.4l.8 1.9l2 .2l-1.6 1.3l.5 2l-1.7 -1.1l-1.7 1.1l.5 -2l-1.6 -1.3l2 -.2zM239.1 683.5l.8 1.9l2 .2l-1.6 1.3l.5 2l-1.7 -1.1l-1.7 1.1l.5 -2l-1.6 -1.3l2 -.2zM244.6 683.5l.8 1.9l2 .2l-1.6 1.3l.5 2l-1.7 -1.1l-1.7 1.1l.5 -2l-1.6 -1.3l2 -.2zM250.1 683.5l.8 1.9l2 .2l-1.6 1.3l.5 2l-1.7 -1.1l-1.7 1.1l.5 -2l-1.6 -1.3l2 -.2zM255.6 683.6l.8 1.9l2 .2l-1.6 1.3l.5 2l-1.7 -1.1l-1.7 1.1l.5 -2l-1.6 -1.3l2 -.2z" fill="#19f0f0"/>
<path d="M35.6 631l1.5 .1l1.6 .1l1.5 0l1.6 .1l1.5 .1l1.5 0l1.6 .1l1.5 0l1.5 .1l1.6 .1l1.5 0l1.6 .1l1.5 0l1.5 .1l1.6 0l1.5 .1l1.6 0l1.5 .1l1.5 .1l1.6 0l1.5 .1l1.6 .1l1.5 0l1.5 .1l1.6 .1l1.5 .1l1.6 .1l1.5 .1l1.5 .1l1.6 .1l1.5 .1l1.5 .2l1.6 .1l1.5 .2l1.6 .1l1.5 .2l1.5 .3l1.5 .4l1.5 .5l1.5 .6l1.5 .6l1.5 .6l1.6 .5l1.7 .6l1.6 .5l1.7 .6l1.6 .6l1.6 .7l1.7 .7l1.6 .7l1.7 .8l1.6 .8l1.6 .9l1.6 .9l1.7 1l1.6 1.1l1.6 1.1l1.6 1.2l1.7 1.2l1.6 1.3l1.7 1.4l1.6 1.4l1.6 1.5l1.7 1.6l1.6 1.7l1.7 1.7l1.6 1.7l1.6 1.7l1.7 1.7l1.6 1.7l1.7 1.6l1.6 1.5l1.6 1.3l1.7 1.3l1.6 1.1l1.7 1.1l1.6 .9l1.6 .8l1.7 .7l1.6 .6l1.7 .6l1.6 .6l1.6 .5l1.6 .6l1.7 .4l1.6 .5l1.6 .4l1.6 .4l1.7 .4l1.6 .3l1.7 .3l1.6 .3l1.6 .2l1.7 .2l1.6 .2l1.7 .1l1.6 .1l1.5 .1l1.5 0l1.5 .1l1.6 0l1.5 .1l1.5 0l1.5 0l1.5 .1l1.5 0l1.5 .1l1.5 -0l1.6 0l1.5 .1l1.5 -0l1.5 0l1.5 .1l1.5 -0l1.5 0l1.5 0l1.6 .1l1.5 -0l1.5 -0l1.5 0l1.5 0l1.5 .1l1.5 -0l1.6 -0l1.5 0l1.5 0l1.5 .1l1.5 -0l1.5 -0l1.5 0l1.5 0l1.6 0l1.5 .1l1.5 -0l1.5 0l1.5 0l1.5 .1l1.5 -0l1.5 -0l1.6 0l1.5 0l1.5 .1l1.5 -0" fill="none" stroke="#ff8c1a" stroke-width="1.6" stroke-linejoin="round"/>
<path d="M35.6 628.2l2.8 2.8 -2.8 2.8 -2.8 -2.8zM41.1 628.5l2.8 2.8 -2.8 2.8 -2.8 -2.8zM46.7 628.7l2.8 2.8 -2.8 2.8 -2.8 -2.8zM52.2 628.9l2.8 2.8 -2.8 2.8 -2.8 -2.8zM57.8 629.1l2.8 2.8 -2.8 2.8 -2.8 -2.8zM63.3 629.3l2.8 2.8 -2.8 2.8 -2.8 -2.8zM68.8 629.6l2.8 2.8 -2.8 2.8 -2.8 -2.8zM74.4 629.9l2.8 2.8 -2.8 2.8 -2.8 -2.8zM79.9 630.2l2.8 2.8 -2.8 2.8 -2.8 -2.8zM85.5 630.7l2.8 2.8 -2.8 2.8 -2.8 -2.8zM91 631.2l2.8 2.8 -2.8 2.8 -2.8 -2.8zM96.5 632.9l2.8 2.8 -2.8 2.8 -2.8 -2.8zM102 634.9l2.8 2.8 -2.8 2.8 -2.8 -2.8zM107.7 636.9l2.8 2.8 -2.8 2.8 -2.8 -2.8zM113.3 639.2l2.8 2.8 -2.8 2.8 -2.8 -2.8zM118.9 642.2l2.8 2.8 -2.8 2.8 -2.8 -2.8zM124.5 645.8l2.8 2.8 -2.8 2.8 -2.8 -2.8zM129.6 649.6l2.8 2.8 -2.8 2.8 -2.8 -2.8zM134.8 654.2l2.8 2.8 -2.8 2.8 -2.8 -2.8zM139.9 659.4l2.8 2.8 -2.8 2.8 -2.8 -2.8zM145 664.7l2.8 2.8 -2.8 2.8 -2.8 -2.8zM150.1 669.5l2.8 2.8 -2.8 2.8 -2.8 -2.8zM155.2 673.2l2.8 2.8 -2.8 2.8 -2.8 -2.8zM160.9 676l2.8 2.8 -2.8 2.8 -2.8 -2.8zM166.5 678l2.8 2.8 -2.8 2.8 -2.8 -2.8zM172.1 679.7l2.8 2.8 -2.8 2.8 -2.8 -2.8zM177.7 681l2.8 2.8 -2.8 2.8 -2.8 -2.8zM183.3 681.9l2.8 2.8 -2.8 2.8 -2.8 -2.8zM189 682.5l2.8 2.8 -2.8 2.8 -2.8 -2.8zM194.5 682.7l2.8 2.8 -2.8 2.8 -2.8 -2.8zM200 682.9l2.8 2.8 -2.8 2.8 -2.8 -2.8zM205.5 683l2.8 2.8 -2.8 2.8 -2.8 -2.8zM211 683.1l2.8 2.8 -2.8 2.8 -2.8 -2.8zM216.5 683.2l2.8 2.8 -2.8 2.8 -2.8 -2.8zM222 683.3l2.8 2.8 -2.8 2.8 -2.8 -2.8zM227.6 683.4l2.8 2.8 -2.8 2.8 -2.8 -2.8zM233.1 683.5l2.8 2.8 -2.8 2.8 -2.8 -2.8zM238.6 683.5l2.8 2.8 -2.8 2.8 -2.8 -2.8zM244.1 683.6l2.8 2.8 -2.8 2.8 -2.8 -2.8zM249.6 683.7l2.8 2.8 -2.8 2.8 -2.8 -2.8zM255.1 683.8l2.8 2.8 -2.8 2.8 -2.8 -2.8z" fill="#ff8c1a"/>
<path d="M35.6 589l1.6 0l1.7 0l1.6 0l1.6 0l1.6 0l1.7 0l1.6 0l1.5 0l1.5 0l1.6 .1l1.5 0l1.5 .1l1.5 .1l1.5 0l1.5 .2l1.6 .1l1.5 .1l1.5 .1l1.5 .2l1.5 .1l1.5 .2l1.6 .2l1.5 .2l1.5 .2l1.5 .2l1.5 .2l1.5 .3l1.6 .2l1.5 .3l1.5 .2l1.5 .3l1.5 .2l1.5 .3l1.6 .3l1.5 .3l1.5 .3l1.5 .4l1.5 .5l1.5 .6l1.5 .6l1.5 .7l1.5 .6l1.6 .6l1.7 .6l1.6 .6l1.7 .7l1.6 .7l1.6 .8l1.7 1l1.6 1l1.7 1.1l1.6 1.1l1.6 1.1l1.6 1.2l1.7 1.2l1.6 1.4l1.6 1.6l1.6 1.9l1.7 2.2l1.6 2.6l1.7 3l1.6 3.4l1.3 3.6l1.2 3.8l1.9 4.3l1.8 3.8l1.9 3.5l1.8 3.4l1.6 3l1.7 2.9l1.6 2.8l1.6 2.8l1.6 2.8l1.7 2.8l1.6 2.6l1.6 2.3l1.7 2.2l1.6 2l1.7 1.9l1.6 1.9l1.7 1.6l1.6 1.2l1.6 .9l1.6 .7l1.7 .7l1.6 .5l1.6 .4l1.6 .4l1.7 .3l1.6 .4l1.7 .3l1.6 .3l1.6 .2l1.7 .2l1.6 .2l1.7 .1l1.6 .1l1.5 0l1.5 .1l1.5 -0l1.6 0l1.5 .1l1.5 -0l1.5 0l1.5 0l1.5 .1l1.5 -0l1.5 -0l1.6 0l1.5 0l1.5 0l1.5 .1l1.5 -0l1.5 -0l1.5 0l1.5 0l1.6 0l1.5 0l1.5 .1l1.5 -0l1.5 -0l1.5 -0l1.5 -0l1.6 0l1.5 0l1.5 0l1.5 0l1.5 0l1.5 0l1.5 .1l1.5 -0l1.6 -0l1.5 -0l1.5 -0l1.5 0l1.5 0l1.5 0l1.5 0l1.5 0l1.6 .1l1.5 -0l1.5 -0l1.5 -0" fill="none" stroke="#1a1aff" stroke-width="1.6" stroke-linejoin="round"/>
<path d="M35.6 591.8l2.8 -3.8a1.4 1.4 0 0 0 -2.8 -.3a1.4 1.4 0 0 0 -2.8 .3zM41.3 591.8l2.8 -3.8a1.4 1.4 0 0 0 -2.8 -.3a1.4 1.4 0 0 0 -2.8 .3zM47 591.8l2.8 -3.8a1.4 1.4 0 0 0 -2.8 -.3a1.4 1.4 0 0 0 -2.8 .3zM52.5 591.8l2.8 -3.8a1.4 1.4 0 0 0 -2.8 -.3a1.4 1.4 0 0 0 -2.8 .3zM58 592.1l2.8 -3.8a1.4 1.4 0 0 0 -2.8 -.3a1.4 1.4 0 0 0 -2.8 .3zM63.5 592.6l2.8 -3.8a1.4 1.4 0 0 0 -2.8 -.3a1.4 1.4 0 0 0 -2.8 .3zM69 593.2l2.8 -3.8a1.4 1.4 0 0 0 -2.8 -.3a1.4 1.4 0 0 0 -2.8 .3zM74.5 593.9l2.8 -3.8a1.4 1.4 0 0 0 -2.8 -.3a1.4 1.4 0 0 0 -2.8 .3zM80 594.7l2.8 -3.8a1.4 1.4 0 0 0 -2.8 -.3a1.4 1.4 0 0 0 -2.8 .3zM85.5 595.7l2.8 -3.8a1.4 1.4 0 0 0 -2.8 -.3a1.4 1.4 0 0 0 -2.8 .3zM91 596.8l2.8 -3.8a1.4 1.4 0 0 0 -2.8 -.3a1.4 1.4 0 0 0 -2.8 .3zM96.5 598.7l2.8 -3.8a1.4 1.4 0 0 0 -2.8 -.3a1.4 1.4 0 0 0 -2.8 .3zM102 600.9l2.8 -3.8a1.4 1.4 0 0 0 -2.8 -.3a1.4 1.4 0 0 0 -2.8 .3zM107.7 603.1l2.8 -3.8a1.4 1.4 0 0 0 -2.8 -.3a1.4 1.4 0 0 0 -2.8 .3zM113.3 606.3l2.8 -3.8a1.4 1.4 0 0 0 -2.8 -.3a1.4 1.4 0 0 0 -2.8 .3zM118.9 610.1l2.8 -3.8a1.4 1.4 0 0 0 -2.8 -.3a1.4 1.4 0 0 0 -2.8 .3zM124 614.3l2.8 -3.8a1.4 1.4 0 0 0 -2.8 -.3a1.4 1.4 0 0 0 -2.8 .3zM128.6 620.2l2.8 -3.8a1.4 1.4 0 0 0 -2.8 -.3a1.4 1.4 0 0 0 -2.8 .3zM132.7 628l2.8 -3.8a1.4 1.4 0 0 0 -2.8 -.3a1.4 1.4 0 0 0 -2.8 .3zM135.7 636.6l2.8 -3.8a1.4 1.4 0 0 0 -2.8 -.3a1.4 1.4 0 0 0 -2.8 .3zM139.4 644.4l2.8 -3.8a1.4 1.4 0 0 0 -2.8 -.3a1.4 1.4 0 0 0 -2.8 .3zM143.6 652.2l2.8 -3.8a1.4 1.4 0 0 0 -2.8 -.3a1.4 1.4 0 0 0 -2.8 .3zM147.6 659.3l2.8 -3.8a1.4 1.4 0 0 0 -2.8 -.3a1.4 1.4 0 0 0 -2.8 .3zM151.8 666.6l2.8 -3.8a1.4 1.4 0 0 0 -2.8 -.3a1.4 1.4 0 0 0 -2.8 .3zM156.2 673.1l2.8 -3.8a1.4 1.4 0 0 0 -2.8 -.3a1.4 1.4 0 0 0 -2.8 .3zM160.9 678.9l2.8 -3.8a1.4 1.4 0 0 0 -2.8 -.3a1.4 1.4 0 0 0 -2.8 .3zM166 683.4l2.8 -3.8a1.4 1.4 0 0 0 -2.8 -.3a1.4 1.4 0 0 0 -2.8 .3zM171.6 685.8l2.8 -3.8a1.4 1.4 0 0 0 -2.8 -.3a1.4 1.4 0 0 0 -2.8 .3zM177.2 687.1l2.8 -3.8a1.4 1.4 0 0 0 -2.8 -.3a1.4 1.4 0 0 0 -2.8 .3zM182.8 688.2l2.8 -3.8a1.4 1.4 0 0 0 -2.8 -.3a1.4 1.4 0 0 0 -2.8 .3zM188.5 688.8l2.8 -3.8a1.4 1.4 0 0 0 -2.8 -.3a1.4 1.4 0 0 0 -2.8 .3zM194 688.9l2.8 -3.8a1.4 1.4 0 0 0 -2.8 -.3a1.4 1.4 0 0 0 -2.8 .3zM199.5 689l2.8 -3.8a1.4 1.4 0 0 0 -2.8 -.3a1.4 1.4 0 0 0 -2.8 .3zM205 689.1l2.8 -3.8a1.4 1.4 0 0 0 -2.8 -.3a1.4 1.4 0 0 0 -2.8 .3zM210.5 689.2l2.8 -3.8a1.4 1.4 0 0 0 -2.8 -.3a1.4 1.4 0 0 0 -2.8 .3zM216 689.2l2.8 -3.8a1.4 1.4 0 0 0 -2.8 -.3a1.4 1.4 0 0 0 -2.8 .3zM221.5 689.3l2.8 -3.8a1.4 1.4 0 0 0 -2.8 -.3a1.4 1.4 0 0 0 -2.8 .3zM227.1 689.3l2.8 -3.8a1.4 1.4 0 0 0 -2.8 -.3a1.4 1.4 0 0 0 -2.8 .3zM232.6 689.4l2.8 -3.8a1.4 1.4 0 0 0 -2.8 -.3a1.4 1.4 0 0 0 -2.8 .3zM238.1 689.4l2.8 -3.8a1.4 1.4 0 0 0 -2.8 -.3a1.4 1.4 0 0 0 -2.8 .3zM243.6 689.4l2.8 -3.8a1.4 1.4 0 0 0 -2.8 -.3a1.4 1.4 0 0 0 -2.8 .3zM249.1 689.5l2.8 -3.8a1.4 1.4 0 0 0 -2.8 -.3a1.4 1.4 0 0 0 -2.8 .3zM254.6 689.5l2.8 -3.8a1.4 1.4 0 0 0 -2.8 -.3a1.4 1.4 0 0 0 -2.8 .3z" fill="#1a1aff"/>
<path d="M35.6 607.4l1.6 0l1.7 0l1.6 0l1.6 0l1.6 0l1.7 0l1.6 0l1.5 0l1.5 0l1.6 0l1.5 .1l1.5 0l1.5 .1l1.5 0l1.5 .1l1.6 .1l1.5 .1l1.5 .1l1.5 .1l1.5 .1l1.5 .1l1.6 .2l1.5 .1l1.5 .1l1.5 .2l1.5 .2l1.5 .1l1.6 .2l1.5 .2l1.5 .2l1.5 .2l1.5 .2l1.5 .2l1.6 .2l1.5 .2l1.5 .2l1.5 .3l1.5 .4l1.5 .4l1.5 .5l1.5 .6l1.5 .5l1.6 .6l1.7 .6l1.6 .6l1.7 .7l1.6 .8l1.6 .8l1.7 .9l1.6 1l1.7 1.1l1.6 1.1l1.6 1.2l1.6 1.3l1.7 1.4l1.6 1.4l1.6 1.3l1.7 1.2l1.6 1.3l1.6 1.8l1.7 2.2l1.6 2.4l1.7 2.7l1.6 2.8l1.6 2.8l1.7 2.7l1.6 2.5l1.6 2.4l1.7 2.3l1.6 2.3l1.7 2.3l1.6 2.2l1.6 2.2l1.7 2.3l1.6 2.2l1.7 2l1.6 1.9l1.6 1.7l1.7 1.7l1.6 1.6l1.7 1.3l1.6 1.1l1.6 .8l1.6 .8l1.7 .6l1.6 .6l1.6 .4l1.6 .4l1.7 .3l1.6 .4l1.7 .3l1.6 .3l1.6 .2l1.7 .2l1.6 .2l1.7 .1l1.6 .1l1.5 0l1.5 .1l1.5 -0l1.6 0l1.5 .1l1.5 -0l1.5 0l1.5 0l1.5 .1l1.5 -0l1.5 -0l1.6 0l1.5 0l1.5 0l1.5 .1l1.5 -0l1.5 -0l1.5 0l1.5 0l1.6 0l1.5 0l1.5 .1l1.5 -0l1.5 -0l1.5 -0l1.5 -0l1.6 0l1.5 0l1.5 0l1.5 0l1.5 0l1.5 0l1.5 .1l1.5 -0l1.6 -0l1.5 -0l1.5 -0l1.5 0l1.5 0l1.5 0l1.5 0l1.5 0l1.6 .1l1.5 -0l1.5 -0l1.5 -0" fill="none" stroke="#19e619" stroke-width="1.6" stroke-linejoin="round"/>
<path d="M35.6 607.4h0M41.3 607.4h0M47 607.4h0M52.5 607.5h0M58 607.7h0M63.5 608h0M69 608.4h0M74.5 608.9h0M80 609.5h0M85.5 610.2h0M91 611h0M96.5 612.5h0M102 614.4h0M107.7 616.8h0M113.3 619.9h0M118.9 623.8h0M124 628.1h0M129.3 632.6h0M133.8 639.3h0M137.9 646.1h0M142.4 653.1h0M147.1 659.6h0M151.7 665.9h0M156.3 671.9h0M161.4 677.2h0M166.5 680.9h0M172.1 683.2h0M177.7 684.5h0M183.3 685.5h0M189 686.1h0M194.5 686.2h0M200 686.3h0M205.5 686.4h0M211 686.4h0M216.5 686.5h0M222 686.5h0M227.6 686.6h0M233.1 686.6h0M238.6 686.6h0M244.1 686.7h0M249.6 686.7h0M255.1 686.8h0" stroke="#19e619" stroke-width="4" stroke-linecap="round"/>
<path d="M32.9 607.4h5.5M35.6 604.6v5.5M38.5 607.4h5.5M41.3 604.6v5.5M44.2 607.4h5.5M47 604.6v5.5M49.8 607.5h5.5M52.5 604.7v5.5M55.2 607.7h5.5M58 604.9v5.5M60.8 608h5.5M63.5 605.2v5.5M66.2 608.4h5.5M69 605.6v5.5M71.8 608.9h5.5M74.5 606.2v5.5M77.2 609.5h5.5M80 606.8v5.5M82.8 610.2h5.5M85.5 607.5v5.5M88.2 611h5.5M91 608.2v5.5M93.8 612.5h5.5M96.5 609.7v5.5M99.3 614.4h5.5M102 611.7v5.5M104.9 616.8h5.5M107.7 614v5.5M110.6 619.9h5.5M113.3 617.1v5.5M116.2 623.8h5.5M118.9 621.1v5.5M121.2 628.1h5.5M124 625.3v5.5M126.6 632.6h5.5M129.3 629.9v5.5M131.1 639.3h5.5M133.8 636.5v5.5M135.1 646.1h5.5M137.9 643.4v5.5M139.7 653.1h5.5M142.4 650.4v5.5M144.3 659.6h5.5M147.1 656.9v5.5M148.9 665.9h5.5M151.7 663.2v5.5M153.5 671.9h5.5M156.3 669.1v5.5M158.7 677.2h5.5M161.4 674.5v5.5M163.8 680.9h5.5M166.5 678.2v5.5M169.3 683.2h5.5M172.1 680.4v5.5M174.9 684.5h5.5M177.7 681.8v5.5M180.6 685.5h5.5M183.3 682.8v5.5M186.2 686.1h5.5M189 683.3v5.5M191.8 686.2h5.5M194.5 683.4v5.5M197.3 686.3h5.5M200 683.5v5.5M202.8 686.4h5.5M205.5 683.6v5.5M208.3 686.4h5.5M211 683.7v5.5M213.8 686.5h5.5M216.5 683.7v5.5M219.3 686.5h5.5M222 683.8v5.5M224.8 686.6h5.5M227.6 683.8v5.5M230.3 686.6h5.5M233.1 683.9v5.5M235.8 686.6h5.5M238.6 683.9v5.5M241.3 686.7h5.5M244.1 683.9v5.5M246.8 686.7h5.5M249.6 684v5.5M252.3 686.8h5.5M255.1 684v5.5" stroke="#19e619" stroke-width="1.5"/>
<path d="M35.6 672l1.5 0l1.6 0l1.5 .1l1.5 -0l1.6 0l1.5 0l1.5 0l1.6 .1l1.5 -0l1.5 -0l1.6 0l1.5 0l1.5 0l1.6 .1l1.5 -0l1.5 -0l1.6 0l1.5 0l1.5 0l1.6 .1l1.5 -0l1.5 -0l1.6 0l1.5 0l1.5 0l1.6 .1l1.5 -0l1.5 0l1.6 0l1.5 .1l1.5 -0l1.6 0l1.5 .1l1.5 -0l1.6 0l1.5 .1l1.5 -0l1.6 0l1.5 .1l1.5 0l1.6 .1l1.5 -0l1.6 .1l1.7 .1l1.6 .1l1.7 .1l1.6 .2l1.6 .2l1.7 .1l1.6 .3l1.7 .2l1.6 .2l1.6 .3l1.7 .3l1.6 .4l1.6 .4l1.7 .4l1.6 .5l1.6 .5l1.6 .4l1.7 .5l1.6 .4l1.6 .4l1.7 .5l1.6 .4l1.7 .4l1.6 .5l1.6 .4l1.7 .4l1.6 .4l1.7 .4l1.6 .3l1.6 .3l1.7 .3l1.6 .3l1.7 .3l1.6 .3l1.6 .2l1.7 .3l1.6 .2l1.7 .1l1.6 .2l1.5 .1l1.6 .1l1.5 .2l1.5 .1l1.6 .1l1.5 .1l1.5 .1l1.6 .1l1.5 .1l1.5 0l1.5 .1l1.6 .1l1.5 0l1.5 .1l1.6 -0l1.5 -0l1.5 0l1.5 0l1.5 0l1.6 0l1.5 0l1.5 .1l1.5 -0l1.5 -0l1.5 -0l1.5 -0l1.5 -0l1.6 -0l1.5 -0l1.5 -0l1.5 0l1.5 0l1.5 0l1.5 0l1.5 0l1.6 0l1.5 0l1.5 0l1.5 0l1.5 0l1.5 0l1.5 0l1.6 0l1.5 0l1.5 0l1.5 0l1.5 .1l1.5 -0l1.5 -0l1.5 -0l1.6 -0l1.5 -0l1.5 -0l1.5 -0l1.5 -0l1.5 -0l1.5 -0l1.5 -0l1.6 -0l1.5 -0l1.5 -0l1.5 -0" fill="none" stroke="#991a99" stroke-width="1.6" stroke-linejoin="round"/>
<path d="M33.5 672h4.1M39.1 672.1h4.1M44.6 672.1h4.1M50.1 672.2h4.1M55.7 672.3h4.1M61.2 672.3h4.1M66.7 672.4h4.1M72.3 672.5h4.1M77.8 672.5h4.1M83.3 672.6h4.1M88.9 672.8h4.1M94.4 672.9h4.1M100 673.1h4.1M105.6 673.5h4.1M111.3 674.2h4.1M116.9 675h4.1M122.5 676.4h4.1M128.1 678h4.1M133.7 679.5h4.1M139.3 681h4.1M145 682.4h4.1M150.6 683.5h4.1M156.3 684.4h4.1M161.9 685.2h4.1M167.4 685.6h4.1M172.9 686h4.1M178.4 686.3h4.1M183.9 686.5h4.1M189.4 686.6h4.1M194.9 686.6h4.1M200.5 686.7h4.1M206 686.7h4.1M211.5 686.7h4.1M217 686.7h4.1M222.5 686.7h4.1M228 686.7h4.1M233.5 686.7h4.1M239 686.8h4.1M244.5 686.8h4.1M250 686.8h4.1M255.5 686.8h4.1" stroke="#991a99" stroke-width="4.7"/>
<path d="M35.6 649l1.5 0l1.6 0l1.5 0l1.6 -0l1.5 0l1.5 0l1.6 0l1.5 -0l1.5 0l1.6 0l1.5 0l1.6 0l1.5 0l1.5 0l1.6 0l1.5 0l1.6 0l1.5 0l1.5 0l1.6 0l1.5 0l1.6 0l1.5 0l1.5 0l1.6 0l1.5 0l1.6 0l1.5 0l1.5 0l1.6 0l1.5 0l1.5 0l1.6 0l1.5 0l1.6 0l1.5 0l1.5 -.1l1.5 -.2l1.5 -.3l1.5 -.3l1.5 -.3l1.5 -.2l1.6 -.2l1.7 -.2l1.6 -.1l1.7 -.1l1.6 -.2l1.6 -.1l1.7 -.2l1.6 -.1l1.7 -.2l1.6 -.2l1.6 -.2l1.7 -.3l1.6 -.2l1.6 -.3l1.7 -.3l1.6 -.3l1.6 -.4l1.6 -.4l1.7 -.4l1.6 -.5l1.6 -.6l1.7 -.9l1.6 -.9l1.7 -.9l1.6 -.8l1.6 -.6l1.7 -.4l1.6 -.5l1.7 -.5l1.6 -.7l1.7 -1.2l1.6 -1.2l1.6 -.9l1.7 -.8l1.6 -.8l1.7 -.7l1.6 -.7l1.6 -.7l1.7 -.7l1.6 -.8l1.6 -.8l1.7 -.9l1.6 -.9l1.7 -.9l1.6 -.9l1.6 -.9l1.7 -.9l1.6 -.9l1.6 -.8l1.7 -.8l1.6 -.8l1.6 -.8l1.6 -.8l1.7 -.9l1.6 -.8l1.6 -.9l1.6 -.8l1.7 -.9l1.6 -1l1.6 -.9l1.6 -.9l1.5 -.9l1.5 -.8l1.5 -.9l1.5 -.9l1.5 -.8l1.5 -.9l1.6 -.9l1.5 -.9l1.5 -.9l1.5 -1l1.5 -.9l1.5 -1l1.5 -1l1.5 -1l1.5 -1.1l1.5 -1l1.6 -1.1l1.5 -1.1l1.5 -1.1l1.5 -1.2l1.5 -1.1l1.5 -1.2l1.6 -1.2l1.5 -1.2l1.5 -1.2l1.5 -1.2l1.5 -1.2l1.5 -1.3l1.5 -1.3l1.5 -1.3l1.5 -1.3l1.5 -1.4l1.6 -1.3l1.5 -1.4l1.5 -1.4l1.5 -1.3l1.5 -1.4l1.5 -1.4l1.5 -1.3" fill="none" stroke="#ff19ff" stroke-width="1.6" stroke-linejoin="round"/>
<path d="M35.6 651.5l2.5 -4.4h-5.1zM41.1 651.5l2.5 -4.4h-5.1zM46.7 651.5l2.5 -4.4h-5.1zM52.2 651.5l2.5 -4.4h-5.1zM57.8 651.5l2.5 -4.4h-5.1zM63.3 651.5l2.5 -4.4h-5.1zM68.8 651.5l2.5 -4.4h-5.1zM74.4 651.5l2.5 -4.4h-5.1zM79.9 651.5l2.5 -4.4h-5.1zM85.5 651.5l2.5 -4.4h-5.1zM91 651.5l2.5 -4.4h-5.1zM96.5 650.8l2.5 -4.4h-5.1zM102 649.9l2.5 -4.4h-5.1zM107.7 649.4l2.5 -4.4h-5.1zM113.3 648.9l2.5 -4.4h-5.1zM118.9 648.2l2.5 -4.4h-5.1zM124.5 647.2l2.5 -4.4h-5.1zM130.2 646l2.5 -4.4h-5.1zM135.8 643.9l2.5 -4.4h-5.1zM141.4 640.9l2.5 -4.4h-5.1zM147.1 639.3l2.5 -4.4h-5.1zM152.4 636l2.5 -4.4h-5.1zM157.9 633.3l2.5 -4.4h-5.1zM163.5 630.9l2.5 -4.4h-5.1zM169 628.1l2.5 -4.4h-5.1zM174.6 625l2.5 -4.4h-5.1zM180.2 622l2.5 -4.4h-5.1zM185.9 619.2l2.5 -4.4h-5.1zM191.5 616.3l2.5 -4.4h-5.1zM197.1 613.2l2.5 -4.4h-5.1zM202.7 610l2.5 -4.4h-5.1zM208.2 606.8l2.5 -4.4h-5.1zM213.8 603.5l2.5 -4.4h-5.1zM219.3 599.9l2.5 -4.4h-5.1zM224.9 596.1l2.5 -4.4h-5.1zM230.4 592l2.5 -4.4h-5.1zM236 587.7l2.5 -4.4h-5.1zM241 583.6l2.5 -4.4h-5.1zM246 579.2l2.5 -4.4h-5.1zM251.1 574.7l2.5 -4.4h-5.1zM256.1 570.2l2.5 -4.4h-5.1z" fill="#ff19ff"/>
</g>
<text x="215.4" y="695.5" font-size="9.6" fill="#222" text-anchor="middle" font-family='"Liberation Serif", serif' font-style="italic">α<tspan font-size="7.1" dy="1.6">q</tspan></text>
<rect x="47.4" y="571" width="43.6" height="89" fill="#fff" fill-opacity="1" stroke="#444" stroke-width="0.9"/>
<rect x="52.1" y="576.71" width="4.59" height="4.59" fill="#000"/>
<text x="71" y="582" font-size="9.5" fill="#000" text-anchor="middle" font-family='"Liberation Serif", serif' font-weight="normal" font-style="italic">q</text>
<circle cx="54.4" cy="588.6" r="2.7" fill="#ff1a1a"/>
<text x="71" y="591.6" font-size="9.5" fill="#ff1a1a" text-anchor="middle" font-family='"Liberation Serif", serif' font-weight="normal" font-style="italic">m</text>
<path d="M54.4 594.7L57.1 599.42L51.7 599.42Z" fill="#8a8a8a"/>
<text x="71" y="599.4" font-size="5" fill="#bbb" text-anchor="middle" font-family='"Liberation Sans", sans-serif' font-weight="normal">r&#772; (P&#8201;-&#8201;M)</text>
<path d="M54.4 605.23L55.29 607.37L57.61 607.56L55.84 609.07L56.38 611.33L54.4 610.12L52.42 611.33L52.96 609.07L51.19 607.56L53.51 607.37Z" fill="#19f0f0"/>
<text x="71" y="612.1" font-size="9.5" fill="#19f0f0" text-anchor="middle" font-family='"Liberation Serif", serif' font-weight="normal" font-style="italic">c</text><text x="71" y="603.6" font-size="4.5" fill="#bbb" text-anchor="middle" font-family='"Liberation Sans", sans-serif' font-weight="normal">n</text>
<path d="M54.4 614.3L57.1 617L54.4 619.7L51.7 617Z" fill="#ff8c1a"/>
<text x="71" y="620" font-size="9.5" fill="#ff8c1a" text-anchor="middle" font-family='"Liberation Serif", serif' font-weight="normal" font-style="italic">σ&#8201;&#8728;q</text>
<path d="M54.4 628.2L57.1 624.42A1.35 1.35 0 0 0 54.4 624.15A1.35 1.35 0 0 0 51.7 624.42Z" fill="#1a1aff"/>
<text x="71" y="628.5" font-size="9.5" fill="#1a1aff" text-anchor="middle" font-family='"Liberation Serif", serif' font-style="italic">L<tspan font-size="7.03" dy="1.6">q</tspan></text>
<circle cx="54.4" cy="634" r="1.94" fill="#19e619"/><path d="M51.7 634H57.1M54.4 631.3V636.7" stroke="#19e619" stroke-width="1.49"/>
<text x="71" y="637" font-size="9.5" fill="#19e619" text-anchor="middle" font-family='"Liberation Serif", serif' font-style="italic">L<tspan font-size="7.03" dy="1.6">m</tspan></text>
<rect x="52.38" y="640.71" width="4.05" height="4.59" fill="#991a99"/>
<text x="71" y="646.5" font-size="9.5" fill="#991a99" text-anchor="middle" font-family='"Liberation Sans", sans-serif' font-weight="normal">10<tspan dy="0" font-family='Liberation Serif' font-style="italic">ϕ</tspan></text>
<path d="M54.4 654.7L57.1 649.98L51.7 649.98Z" fill="#ff19ff"/>
<text x="71" y="655" font-size="9.5" fill="#ff19ff" text-anchor="middle" font-family='"Liberation Serif", serif' font-weight="normal" font-style="italic">u</text>
<text x="253.7" y="580.5" font-size="8" fill="#222" text-anchor="middle" font-family='"Liberation Sans", sans-serif' font-weight="normal">j1</text>
</g>
<clipPath id="cj2"><rect x="271.6" y="563.1" width="273.4" height="137.89999999999998"/></clipPath>
<g clip-path="url(#cj2)">
<line x1="359.5" y1="563.1" x2="359.5" y2="701" stroke="#f1f1f1" stroke-width="0.9"/>
<line x1="408" y1="563.1" x2="408" y2="701" stroke="#f1f1f1" stroke-width="0.9"/>
<line x1="455.5" y1="563.1" x2="455.5" y2="701" stroke="#f1f1f1" stroke-width="0.9"/>
<line x1="503" y1="563.1" x2="503" y2="701" stroke="#f1f1f1" stroke-width="0.9"/>
<line x1="310.6" y1="582.4" x2="545" y2="582.4" stroke="#f1f1f1" stroke-width="0.9"/>
<line x1="310.6" y1="617.4" x2="545" y2="617.4" stroke="#f1f1f1" stroke-width="0.9"/>
<line x1="310.6" y1="652.6" x2="545" y2="652.6" stroke="#f1f1f1" stroke-width="0.9"/>
<line x1="310.6" y1="563.1" x2="310.6" y2="701" stroke="#d8d8d8" stroke-width="1"/>
<text x="307.8" y="585.3" font-size="8.2" fill="#262626" text-anchor="end" font-family='"Liberation Sans", sans-serif' font-weight="normal" letter-spacing="-0.3" stroke="#262626" stroke-width="0.12">15&#8201;000</text>
<text x="307.8" y="620.3" font-size="8.2" fill="#262626" text-anchor="end" font-family='"Liberation Sans", sans-serif' font-weight="normal" letter-spacing="-0.3" stroke="#262626" stroke-width="0.12">10&#8201;000</text>
<text x="307.8" y="655.5" font-size="8.2" fill="#262626" text-anchor="end" font-family='"Liberation Sans", sans-serif' font-weight="normal" letter-spacing="-0.3" stroke="#262626" stroke-width="0.12">5000</text>
<text x="307.8" y="690.3" font-size="8.2" fill="#262626" text-anchor="end" font-family='"Liberation Sans", sans-serif' font-weight="normal" letter-spacing="-0.3" stroke="#262626" stroke-width="0.12">0</text>
<line x1="406.6" y1="563.1" x2="406.6" y2="701" stroke="#111" stroke-width="1.3" stroke-dasharray="2.0 4.6" stroke-dashoffset="4.3"/>
<text x="359.5" y="696.7" font-size="8.2" fill="#262626" text-anchor="middle" font-family='"Liberation Sans", sans-serif' font-weight="normal" letter-spacing="-0.3" stroke="#262626" stroke-width="0.12">0.85</text>
<text x="408" y="696.7" font-size="8.2" fill="#262626" text-anchor="middle" font-family='"Liberation Sans", sans-serif' font-weight="normal" letter-spacing="-0.3" stroke="#262626" stroke-width="0.12">0.90</text>
<text x="455.5" y="696.7" font-size="8.2" fill="#262626" text-anchor="middle" font-family='"Liberation Sans", sans-serif' font-weight="normal" letter-spacing="-0.3" stroke="#262626" stroke-width="0.12">0.95</text>
<text x="503" y="696.7" font-size="8.2" fill="#262626" text-anchor="middle" font-family='"Liberation Sans", sans-serif' font-weight="normal" letter-spacing="-0.3" stroke="#262626" stroke-width="0.12">1.00</text>
<clipPath id="ccj2"><rect x="310.6" y="563.1" width="234.4" height="137.89999999999998"/></clipPath><g clip-path="url(#ccj2)">
<path d="M310.6 582l1.5 0l1.5 0l1.6 0l1.5 0l1.5 0l1.5 0l1.5 0l1.6 0l1.5 0l1.5 0l1.5 0l1.6 0l1.5 0l1.5 .1l1.5 -0l1.5 -0l1.6 -0l1.5 -0l1.5 -0l1.5 -0l1.5 -0l1.6 -0l1.5 -0l1.5 -0l1.5 -0l1.5 -0l1.6 -0l1.5 0l1.5 0l1.5 0l1.5 0l1.6 0l1.5 0l1.5 0l1.5 0l1.6 0l1.5 .1l1.5 -0l1.5 -0l1.5 -0l1.6 -0l1.5 -0l1.5 0l1.5 0l1.6 0l1.5 .1l1.6 -0l1.5 0l1.6 0l1.5 .1l1.6 0l1.5 .1l1.5 0l1.6 .1l1.5 0l1.6 .1l1.5 0l1.6 .1l1.5 0l1.6 .1l1.5 .1l1.6 0l1.5 .1l1.5 .1l1.6 .1l1.5 .1l1.6 .1l1.5 .1l1.6 .1l1.5 .2l1.6 .1l1.5 .2l1.5 .1l1.6 .1l1.5 .2l1.6 .1l1.5 .1l1.6 .1l1.5 .1l1.6 .1l1.5 .1l1.6 .1l1.5 -0l1.5 0l1.6 .1l1.5 -0l1.6 -0l1.5 0l1.6 0l1.5 .1l1.6 -0l1.5 -0l1.5 0l1.6 0l1.5 0l1.6 .1l1.5 -0l1.6 -0l1.5 -0l1.6 -0l1.5 -0l1.6 -0l1.5 -0l1.5 -0l1.5 -0l1.5 -0l1.5 -0l1.5 -0l1.6 -0l1.5 -0l1.5 -0l1.5 -0l1.5 -0l1.5 -0l1.5 -0l1.5 -0l1.5 -0l1.5 -0l1.6 -0l1.5 -0l1.5 -0l1.5 -0l1.5 -0l1.5 -0l1.5 -0l1.5 -0l1.5 -0l1.5 -0l1.6 -0l1.5 -0l1.5 -0l1.5 -0l1.5 -0l1.5 -0l1.5 -0l1.5 -0l1.5 -0l1.5 -0l1.6 -0l1.5 -0l1.5 -0l1.5 -0l1.5 -0l1.5 -0" fill="none" stroke="#000" stroke-width="1.6" stroke-linejoin="round"/>
<path d="M309.2 580.9h2.7v2.7h-2.7zM314.3 581h2.7v2.7h-2.7zM319.3 581h2.7v2.7h-2.7zM324.3 581h2.7v2.7h-2.7zM329.4 581h2.7v2.7h-2.7zM334.4 581h2.7v2.7h-2.7zM339.4 581h2.7v2.7h-2.7zM344.5 581h2.7v2.7h-2.7zM349.5 581h2.7v2.7h-2.7zM354.5 581h2.7v2.7h-2.7zM359.5 581.1h2.7v2.7h-2.7zM364.6 581.1h2.7v2.7h-2.7zM369.6 581.1h2.7v2.7h-2.7zM374.6 581.1h2.7v2.7h-2.7zM379.7 581.2h2.7v2.7h-2.7zM384.8 581.3h2.7v2.7h-2.7zM389.8 581.4h2.7v2.7h-2.7zM394.9 581.6h2.7v2.7h-2.7zM400 581.8h2.7v2.7h-2.7zM405 582h2.7v2.7h-2.7zM410.1 582.3h2.7v2.7h-2.7zM415.2 582.7h2.7v2.7h-2.7zM420.2 583.2h2.7v2.7h-2.7zM425.3 583.6h2.7v2.7h-2.7zM430.4 584h2.7v2.7h-2.7zM435.4 584.2h2.7v2.7h-2.7zM440.5 584.3h2.7v2.7h-2.7zM445.6 584.4h2.7v2.7h-2.7zM450.6 584.4h2.7v2.7h-2.7zM455.7 584.5h2.7v2.7h-2.7zM460.8 584.5h2.7v2.7h-2.7zM465.8 584.5h2.7v2.7h-2.7zM470.9 584.5h2.7v2.7h-2.7zM475.9 584.5h2.7v2.7h-2.7zM480.9 584.5h2.7v2.7h-2.7zM486 584.5h2.7v2.7h-2.7zM491 584.5h2.7v2.7h-2.7zM496 584.5h2.7v2.7h-2.7zM501.1 584.5h2.7v2.7h-2.7zM506.1 584.5h2.7v2.7h-2.7zM511.1 584.5h2.7v2.7h-2.7zM516.2 584.5h2.7v2.7h-2.7zM521.2 584.5h2.7v2.7h-2.7zM526.2 584.5h2.7v2.7h-2.7z" fill="none" stroke="#444" stroke-width="0.8"/>
<path d="M310.6 604l1.5 -0l1.5 -0l1.6 -.1l1.5 0l1.5 0l1.5 0l1.5 -0l1.6 -0l1.5 -0l1.5 -0l1.5 -.1l1.6 0l1.5 0l1.5 0l1.5 -0l1.5 -0l1.6 -0l1.5 -0l1.5 -.1l1.5 0l1.5 0l1.6 0l1.5 -0l1.5 -0l1.5 -0l1.5 -.1l1.6 0l1.5 0l1.5 -0l1.5 -0l1.5 -0l1.6 -.1l1.5 0l1.5 -0l1.5 -0l1.6 -.1l1.5 0l1.5 -0l1.5 -.1l1.5 0l1.6 -0l1.5 -.1l1.5 0l1.5 -.1l1.6 -.1l1.5 -.1l1.6 -.1l1.5 -.2l1.6 -.2l1.5 -.2l1.6 -.2l1.5 -.2l1.6 -.2l1.5 -.2l1.6 -.2l1.5 -.2l1.6 -.2l1.5 -.2l1.5 -.2l1.6 -.2l1.5 -.2l1.6 -.3l1.5 -.2l1.5 -.3l1.6 -.3l1.5 -.3l1.6 -.3l1.5 -.4l1.6 -.3l1.5 -.3l1.6 -.4l1.5 -.2l1.6 -.3l1.5 -.2l1.6 -.3l1.5 -.2l1.6 -.3l1.5 -.2l1.5 -.2l1.6 -.2l1.5 -.1l1.6 -.1l1.5 -.1l1.5 -.1l1.6 -0l1.5 -.1l1.6 -0l1.5 -.1l1.6 0l1.5 -0l1.6 -.1l1.5 -0l1.5 -0l1.6 -.1l1.5 0l1.6 -0l1.5 -0l1.6 -.1l1.5 0l1.6 0l1.5 0l1.6 0l1.5 0l1.5 0l1.5 0l1.5 0l1.5 0l1.5 0l1.6 0l1.5 0l1.5 0l1.5 0l1.5 0l1.5 0l1.5 0l1.5 0l1.5 0l1.5 0l1.6 0l1.5 0l1.5 0l1.5 0l1.5 0l1.5 0l1.5 0l1.5 0l1.5 0l1.5 0l1.6 0l1.5 0l1.5 0l1.5 0l1.5 0l1.5 0l1.5 0l1.5 0l1.5 0l1.5 0l1.6 0l1.5 0l1.5 0l1.5 0l1.5 0l1.5 0" fill="none" stroke="#ff1a1a" stroke-width="1.6" stroke-linejoin="round"/>
<path d="M308.7 605.5a1.9 1.9 0 1 0 3.8 0a1.9 1.9 0 1 0 -3.8 0M313.7 605.4a1.9 1.9 0 1 0 3.8 0a1.9 1.9 0 1 0 -3.8 0M318.8 605.4a1.9 1.9 0 1 0 3.8 0a1.9 1.9 0 1 0 -3.8 0M323.8 605.4a1.9 1.9 0 1 0 3.8 0a1.9 1.9 0 1 0 -3.8 0M328.8 605.3a1.9 1.9 0 1 0 3.8 0a1.9 1.9 0 1 0 -3.8 0M333.9 605.3a1.9 1.9 0 1 0 3.8 0a1.9 1.9 0 1 0 -3.8 0M338.9 605.2a1.9 1.9 0 1 0 3.8 0a1.9 1.9 0 1 0 -3.8 0M343.9 605.2a1.9 1.9 0 1 0 3.8 0a1.9 1.9 0 1 0 -3.8 0M349 605.1a1.9 1.9 0 1 0 3.8 0a1.9 1.9 0 1 0 -3.8 0M354 605.1a1.9 1.9 0 1 0 3.8 0a1.9 1.9 0 1 0 -3.8 0M359 605a1.9 1.9 0 1 0 3.8 0a1.9 1.9 0 1 0 -3.8 0M364 604.9a1.9 1.9 0 1 0 3.8 0a1.9 1.9 0 1 0 -3.8 0M369.1 604.8a1.9 1.9 0 1 0 3.8 0a1.9 1.9 0 1 0 -3.8 0M374.1 604.7a1.9 1.9 0 1 0 3.8 0a1.9 1.9 0 1 0 -3.8 0M379.1 604.4a1.9 1.9 0 1 0 3.8 0a1.9 1.9 0 1 0 -3.8 0M384.1 603.8a1.9 1.9 0 1 0 3.8 0a1.9 1.9 0 1 0 -3.8 0M389.1 603.2a1.9 1.9 0 1 0 3.8 0a1.9 1.9 0 1 0 -3.8 0M394.2 602.5a1.9 1.9 0 1 0 3.8 0a1.9 1.9 0 1 0 -3.8 0M399.4 601.9a1.9 1.9 0 1 0 3.8 0a1.9 1.9 0 1 0 -3.8 0M404.5 601.1a1.9 1.9 0 1 0 3.8 0a1.9 1.9 0 1 0 -3.8 0M409.5 600.1a1.9 1.9 0 1 0 3.8 0a1.9 1.9 0 1 0 -3.8 0M414.5 599a1.9 1.9 0 1 0 3.8 0a1.9 1.9 0 1 0 -3.8 0M419.5 598.1a1.9 1.9 0 1 0 3.8 0a1.9 1.9 0 1 0 -3.8 0M424.6 597.3a1.9 1.9 0 1 0 3.8 0a1.9 1.9 0 1 0 -3.8 0M429.8 596.5a1.9 1.9 0 1 0 3.8 0a1.9 1.9 0 1 0 -3.8 0M434.9 596a1.9 1.9 0 1 0 3.8 0a1.9 1.9 0 1 0 -3.8 0M440 595.9a1.9 1.9 0 1 0 3.8 0a1.9 1.9 0 1 0 -3.8 0M445 595.7a1.9 1.9 0 1 0 3.8 0a1.9 1.9 0 1 0 -3.8 0M450.1 595.6a1.9 1.9 0 1 0 3.8 0a1.9 1.9 0 1 0 -3.8 0M455.2 595.5a1.9 1.9 0 1 0 3.8 0a1.9 1.9 0 1 0 -3.8 0M460.2 595.4a1.9 1.9 0 1 0 3.8 0a1.9 1.9 0 1 0 -3.8 0M465.3 595.4a1.9 1.9 0 1 0 3.8 0a1.9 1.9 0 1 0 -3.8 0M470.3 595.4a1.9 1.9 0 1 0 3.8 0a1.9 1.9 0 1 0 -3.8 0M475.4 595.4a1.9 1.9 0 1 0 3.8 0a1.9 1.9 0 1 0 -3.8 0M480.4 595.4a1.9 1.9 0 1 0 3.8 0a1.9 1.9 0 1 0 -3.8 0M485.4 595.4a1.9 1.9 0 1 0 3.8 0a1.9 1.9 0 1 0 -3.8 0M490.5 595.4a1.9 1.9 0 1 0 3.8 0a1.9 1.9 0 1 0 -3.8 0M495.5 595.4a1.9 1.9 0 1 0 3.8 0a1.9 1.9 0 1 0 -3.8 0M500.5 595.4a1.9 1.9 0 1 0 3.8 0a1.9 1.9 0 1 0 -3.8 0M505.6 595.4a1.9 1.9 0 1 0 3.8 0a1.9 1.9 0 1 0 -3.8 0M510.6 595.4a1.9 1.9 0 1 0 3.8 0a1.9 1.9 0 1 0 -3.8 0M515.6 595.4a1.9 1.9 0 1 0 3.8 0a1.9 1.9 0 1 0 -3.8 0M520.7 595.4a1.9 1.9 0 1 0 3.8 0a1.9 1.9 0 1 0 -3.8 0M525.7 595.4a1.9 1.9 0 1 0 3.8 0a1.9 1.9 0 1 0 -3.8 0" fill="none" stroke="#ffc4c4" stroke-width="0.8"/>
<path d="M310.6 687.6l1.5 -0l1.5 -0l1.5 -0l1.5 -0l1.5 -.1l1.5 0l1.5 0l1.6 0l1.5 0l1.5 -0l1.5 -0l1.5 -0l1.5 -0l1.5 -0l1.5 -.1l1.5 0l1.5 0l1.5 0l1.5 0l1.5 -0l1.5 -0l1.6 -0l1.5 -0l1.5 -0l1.5 -.1l1.5 0l1.5 0l1.5 0l1.5 0l1.5 -0l1.5 -0l1.5 -0l1.5 -0l1.5 -0l1.5 -.1l1.5 0l1.6 0l1.5 0l1.5 -0l1.5 -0l1.5 -0l1.5 -0l1.5 -0l1.5 -.1l1.5 0l1.5 0l1.5 0l1.5 0l1.5 -0l1.5 -0l1.5 -0l1.6 -0l1.5 -0l1.5 -.1l1.5 0l1.5 0l1.5 0l1.5 0l1.5 -0l1.5 -0l1.5 -0l1.5 -0l1.5 -0l1.5 -.1l1.5 0l1.6 0l1.5 0l1.5 0l1.5 -0l1.5 -0l1.5 -0l1.5 -0l1.5 -0l1.5 -.1l1.5 0l1.5 0l1.5 0l1.5 -0l1.5 -0l1.5 -0l1.6 -0l1.5 -0l1.5 -.1l1.5 0l1.5 0l1.5 0l1.5 0l1.5 -0l1.5 -0l1.5 -0l1.5 -0l1.5 -0l1.5 -.1l1.5 0l1.6 0l1.5 0l1.5 0l1.5 -0l1.5 -0l1.5 -0l1.5 -0l1.5 -0l1.5 -.1l1.5 0l1.5 0l1.5 0l1.5 0l1.5 -0l1.5 -0l1.6 -0l1.5 -0l1.5 -.1l1.5 0l1.5 0l1.5 0l1.5 0l1.5 -0l1.5 -0l1.5 -0l1.5 -0l1.5 -0l1.5 -.1l1.5 0l1.5 0l1.6 0l1.5 0l1.5 -0l1.5 -0l1.5 -0l1.5 -0l1.5 -0l1.5 -.1l1.5 0l1.5 0l1.5 0l1.5 0l1.5 -0l1.5 -0l1.6 -0l1.5 -0l1.5 -0l1.5 -.1l1.5 0l1.5 0l1.5 0l1.5 0" fill="none" stroke="#777" stroke-width="1.6" stroke-linejoin="round"/>
<path d="M309.2 688h2.9v2.9h-2.9zM314.2 687.9h2.9v2.9h-2.9zM319.2 687.9h2.9v2.9h-2.9zM324.2 687.9h2.9v2.9h-2.9zM329.2 687.8h2.9v2.9h-2.9zM334.2 687.8h2.9v2.9h-2.9zM339.2 687.8h2.9v2.9h-2.9zM344.2 687.7h2.9v2.9h-2.9zM349.2 687.7h2.9v2.9h-2.9zM354.2 687.7h2.9v2.9h-2.9zM359.2 687.6h2.9v2.9h-2.9zM364.2 687.6h2.9v2.9h-2.9zM369.2 687.6h2.9v2.9h-2.9zM374.2 687.5h2.9v2.9h-2.9zM379.2 687.5h2.9v2.9h-2.9zM384.2 687.4h2.9v2.9h-2.9zM389.2 687.4h2.9v2.9h-2.9zM394.2 687.4h2.9v2.9h-2.9zM399.2 687.3h2.9v2.9h-2.9zM404.2 687.3h2.9v2.9h-2.9zM409.2 687.3h2.9v2.9h-2.9zM414.2 687.2h2.9v2.9h-2.9zM419.2 687.2h2.9v2.9h-2.9zM424.2 687.2h2.9v2.9h-2.9zM429.2 687.1h2.9v2.9h-2.9zM434.2 687.1h2.9v2.9h-2.9zM439.2 687.1h2.9v2.9h-2.9zM444.2 687h2.9v2.9h-2.9zM449.2 687h2.9v2.9h-2.9zM454.2 687h2.9v2.9h-2.9zM459.2 686.9h2.9v2.9h-2.9zM464.2 686.9h2.9v2.9h-2.9zM469.2 686.9h2.9v2.9h-2.9zM474.2 686.8h2.9v2.9h-2.9zM479.2 686.8h2.9v2.9h-2.9zM484.2 686.8h2.9v2.9h-2.9zM489.2 686.7h2.9v2.9h-2.9zM494.2 686.7h2.9v2.9h-2.9zM499.2 686.7h2.9v2.9h-2.9zM504.2 686.6h2.9v2.9h-2.9zM509.2 686.6h2.9v2.9h-2.9zM514.2 686.6h2.9v2.9h-2.9zM519.2 686.5h2.9v2.9h-2.9zM524.2 686.5h2.9v2.9h-2.9zM529.2 686.5h2.9v2.9h-2.9z" fill="none" stroke="#c4c4c4" stroke-width="0.8"/>
<path d="M310.6 594l1.5 -0l1.5 -0l1.6 -.1l1.5 0l1.5 -0l1.5 -0l1.5 -.1l1.6 0l1.5 -0l1.5 -0l1.5 -0l1.6 -.1l1.5 0l1.5 -0l1.5 -0l1.5 -.1l1.6 0l1.5 -0l1.5 -0l1.5 -0l1.5 -.1l1.6 0l1.5 -0l1.5 -0l1.5 -.1l1.5 0l1.6 -0l1.5 -0l1.5 -.1l1.5 0l1.5 -0l1.6 -0l1.5 -0l1.5 -.1l1.5 0l1.6 -0l1.5 -0l1.5 -.1l1.5 0l1.5 -0l1.6 -0l1.5 -.1l1.5 0l1.5 -0l1.6 -.1l1.5 0l1.6 -0l1.5 -0l1.6 -0l1.5 -.1l1.6 0l1.5 -0l1.5 -0l1.6 -.1l1.5 -0l1.6 -0l1.5 -.1l1.6 0l1.5 -0l1.6 -.1l1.5 -0l1.6 -.1l1.5 0l1.5 -.1l1.6 -0l1.5 -.1l1.6 -.2l1.5 -.1l1.6 -.1l1.5 -.2l1.6 -.1l1.5 -.2l1.5 -.1l1.6 -.2l1.5 -.2l1.6 -.1l1.5 -.2l1.6 -.1l1.5 -.1l1.6 -.2l1.5 -.1l1.6 -0l1.5 -.1l1.5 -0l1.6 -.1l1.5 -0l1.6 -.1l1.5 -0l1.6 -.1l1.5 -0l1.6 -.1l1.5 0l1.5 -0l1.6 -.1l1.5 0l1.6 -0l1.5 -0l1.6 -.1l1.5 0l1.6 0l1.5 0l1.6 0l1.5 0l1.5 0l1.5 0l1.5 0l1.5 0l1.5 0l1.6 0l1.5 0l1.5 0l1.5 0l1.5 0l1.5 0l1.5 0l1.5 0l1.5 0l1.5 0l1.6 0l1.5 0l1.5 0l1.5 0l1.5 0l1.5 0l1.5 0l1.5 0l1.5 0l1.5 0l1.6 0l1.5 0l1.5 0l1.5 0l1.5 0l1.5 0l1.5 0l1.5 0l1.5 0l1.5 0l1.6 0l1.5 0l1.5 0l1.5 0l1.5 0l1.5 0" fill="none" stroke="#ff8c1a" stroke-width="1.6" stroke-linejoin="round"/>
<path d="M309 594.6a1.6 1.6 0 1 0 3.2 0a1.6 1.6 0 1 0 -3.2 0M314.1 594.5a1.6 1.6 0 1 0 3.2 0a1.6 1.6 0 1 0 -3.2 0M319.1 594.4a1.6 1.6 0 1 0 3.2 0a1.6 1.6 0 1 0 -3.2 0M324.1 594.4a1.6 1.6 0 1 0 3.2 0a1.6 1.6 0 1 0 -3.2 0M329.1 594.3a1.6 1.6 0 1 0 3.2 0a1.6 1.6 0 1 0 -3.2 0M334.2 594.2a1.6 1.6 0 1 0 3.2 0a1.6 1.6 0 1 0 -3.2 0M339.2 594.2a1.6 1.6 0 1 0 3.2 0a1.6 1.6 0 1 0 -3.2 0M344.2 594.1a1.6 1.6 0 1 0 3.2 0a1.6 1.6 0 1 0 -3.2 0M349.3 594a1.6 1.6 0 1 0 3.2 0a1.6 1.6 0 1 0 -3.2 0M354.3 593.9a1.6 1.6 0 1 0 3.2 0a1.6 1.6 0 1 0 -3.2 0M359.3 593.8a1.6 1.6 0 1 0 3.2 0a1.6 1.6 0 1 0 -3.2 0M364.4 593.8a1.6 1.6 0 1 0 3.2 0a1.6 1.6 0 1 0 -3.2 0M369.4 593.7a1.6 1.6 0 1 0 3.2 0a1.6 1.6 0 1 0 -3.2 0M374.4 593.6a1.6 1.6 0 1 0 3.2 0a1.6 1.6 0 1 0 -3.2 0M379.5 593.5a1.6 1.6 0 1 0 3.2 0a1.6 1.6 0 1 0 -3.2 0M384.6 593.4a1.6 1.6 0 1 0 3.2 0a1.6 1.6 0 1 0 -3.2 0M389.6 593.4a1.6 1.6 0 1 0 3.2 0a1.6 1.6 0 1 0 -3.2 0M394.7 593.3a1.6 1.6 0 1 0 3.2 0a1.6 1.6 0 1 0 -3.2 0M399.8 593.2a1.6 1.6 0 1 0 3.2 0a1.6 1.6 0 1 0 -3.2 0M404.8 593a1.6 1.6 0 1 0 3.2 0a1.6 1.6 0 1 0 -3.2 0M409.9 592.8a1.6 1.6 0 1 0 3.2 0a1.6 1.6 0 1 0 -3.2 0M414.9 592.3a1.6 1.6 0 1 0 3.2 0a1.6 1.6 0 1 0 -3.2 0M420 591.8a1.6 1.6 0 1 0 3.2 0a1.6 1.6 0 1 0 -3.2 0M425.1 591.3a1.6 1.6 0 1 0 3.2 0a1.6 1.6 0 1 0 -3.2 0M430.1 590.8a1.6 1.6 0 1 0 3.2 0a1.6 1.6 0 1 0 -3.2 0M435.2 590.5a1.6 1.6 0 1 0 3.2 0a1.6 1.6 0 1 0 -3.2 0M440.3 590.4a1.6 1.6 0 1 0 3.2 0a1.6 1.6 0 1 0 -3.2 0M445.3 590.2a1.6 1.6 0 1 0 3.2 0a1.6 1.6 0 1 0 -3.2 0M450.4 590.1a1.6 1.6 0 1 0 3.2 0a1.6 1.6 0 1 0 -3.2 0M455.5 590a1.6 1.6 0 1 0 3.2 0a1.6 1.6 0 1 0 -3.2 0M460.5 589.9a1.6 1.6 0 1 0 3.2 0a1.6 1.6 0 1 0 -3.2 0M465.6 589.9a1.6 1.6 0 1 0 3.2 0a1.6 1.6 0 1 0 -3.2 0M470.6 589.9a1.6 1.6 0 1 0 3.2 0a1.6 1.6 0 1 0 -3.2 0M475.7 589.9a1.6 1.6 0 1 0 3.2 0a1.6 1.6 0 1 0 -3.2 0M480.7 589.9a1.6 1.6 0 1 0 3.2 0a1.6 1.6 0 1 0 -3.2 0M485.7 589.9a1.6 1.6 0 1 0 3.2 0a1.6 1.6 0 1 0 -3.2 0M490.8 589.9a1.6 1.6 0 1 0 3.2 0a1.6 1.6 0 1 0 -3.2 0M495.8 589.9a1.6 1.6 0 1 0 3.2 0a1.6 1.6 0 1 0 -3.2 0M500.8 589.9a1.6 1.6 0 1 0 3.2 0a1.6 1.6 0 1 0 -3.2 0M505.9 589.9a1.6 1.6 0 1 0 3.2 0a1.6 1.6 0 1 0 -3.2 0M510.9 589.9a1.6 1.6 0 1 0 3.2 0a1.6 1.6 0 1 0 -3.2 0M515.9 589.9a1.6 1.6 0 1 0 3.2 0a1.6 1.6 0 1 0 -3.2 0M521 589.9a1.6 1.6 0 1 0 3.2 0a1.6 1.6 0 1 0 -3.2 0M526 589.9a1.6 1.6 0 1 0 3.2 0a1.6 1.6 0 1 0 -3.2 0" fill="none" stroke="#ffb060" stroke-width="0.8"/>
<path d="M310.6 569.4l1.5 -0l1.5 -0l1.6 -.1l1.5 0l1.5 -0l1.5 -0l1.5 -0l1.6 -.1l1.5 0l1.5 -0l1.5 -0l1.6 -.1l1.5 0l1.5 -0l1.5 -0l1.5 -.1l1.6 0l1.5 -0l1.5 -0l1.5 -.1l1.5 0l1.6 -0l1.5 -0l1.5 -.1l1.5 0l1.5 0l1.6 -0l1.5 -0l1.5 -.1l1.5 0l1.5 0l1.6 -0l1.5 -0l1.5 -0l1.5 -0l1.6 -.1l1.5 0l1.5 0l1.5 0l1.5 0l1.6 0l1.5 0l1.5 0l1.5 0l1.6 0l1.5 0l1.6 0l1.5 0l1.6 .1l1.5 -0l1.6 0l1.5 0l1.5 .1l1.6 -0l1.5 0l1.6 .1l1.5 0l1.6 .1l1.5 0l1.6 0l1.5 .1l1.6 0l1.5 .1l1.5 .1l1.6 .1l1.5 .1l1.6 .2l1.5 .2l1.6 .2l1.5 .3l1.5 .2l1.6 .2l1.5 .2l1.6 .2l1.5 .2l1.6 .2l1.5 .1l1.5 .1l1.6 .1l1.5 .1l1.6 .1l1.5 .1l1.6 .1l1.5 .1l1.6 .1l1.5 .1l1.6 .1l1.5 0l1.6 .1l1.5 0l1.6 .1l1.5 -0l1.6 -0l1.5 -0l1.5 -0l1.5 -0l1.6 -0l1.5 -0l1.5 -0l1.5 -0l1.5 -0l1.5 -0l1.6 -0l1.5 -0l1.5 -0l1.5 -0l1.5 -0l1.5 -0l1.6 -0l1.5 -0l1.5 -0l1.5 -0l1.5 -0l1.5 -0l1.5 -0l1.6 -0l1.5 -0l1.5 -0l1.5 -0l1.5 -0l1.5 -0l1.6 -0l1.5 -0l1.5 -0l1.5 -0l1.5 -0l1.5 -0l1.5 -0l1.6 -0l1.5 -0l1.5 -0l1.5 -0l1.5 -0l1.5 -0l1.6 -0l1.5 -0l1.5 -0l1.5 -0l1.5 -0l1.5 -0l1.6 -0l1.5 -0l1.5 -0l1.5 -0" fill="none" stroke="#ff19ff" stroke-width="1.6" stroke-linejoin="round"/>
<path d="M310.6 573.1l1.7 -3h-3.4zM315.6 573l1.7 -3h-3.4zM320.7 573l1.7 -3h-3.4zM325.7 572.9l1.7 -3h-3.4zM330.7 572.8l1.7 -3h-3.4zM335.8 572.7l1.7 -3h-3.4zM340.8 572.6l1.7 -3h-3.4zM345.8 572.6l1.7 -3h-3.4zM350.8 572.5l1.7 -3h-3.4zM355.9 572.4l1.7 -3h-3.4zM360.9 572.4l1.7 -3h-3.4zM365.9 572.3l1.7 -3h-3.4zM371 572.3l1.7 -3h-3.4zM376 572.3l1.7 -3h-3.4zM381.1 572.3l1.7 -3h-3.4zM386.1 572.4l1.7 -3h-3.4zM391.2 572.5l1.7 -3h-3.4zM396.3 572.6l1.7 -3h-3.4zM401.3 572.7l1.7 -3h-3.4zM406.4 572.9l1.7 -3h-3.4zM411.4 573.2l1.7 -3h-3.4zM416.4 573.9l1.7 -3h-3.4zM421.5 574.6l1.7 -3h-3.4zM426.5 575.2l1.7 -3h-3.4zM431.5 575.6l1.7 -3h-3.4zM436.6 576l1.7 -3h-3.4zM441.7 576.3l1.7 -3h-3.4zM446.7 576.5l1.7 -3h-3.4zM451.8 576.6l1.7 -3h-3.4zM456.8 576.6l1.7 -3h-3.4zM461.8 576.6l1.7 -3h-3.4zM466.9 576.6l1.7 -3h-3.4zM471.9 576.6l1.7 -3h-3.4zM476.9 576.6l1.7 -3h-3.4zM481.9 576.6l1.7 -3h-3.4zM486.9 576.6l1.7 -3h-3.4zM492 576.6l1.7 -3h-3.4zM497 576.6l1.7 -3h-3.4zM502 576.6l1.7 -3h-3.4zM507 576.6l1.7 -3h-3.4zM512 576.6l1.7 -3h-3.4zM517 576.6l1.7 -3h-3.4zM522.1 576.6l1.7 -3h-3.4zM527.1 576.6l1.7 -3h-3.4z" fill="none" stroke="#ffa6ff" stroke-width="0.7"/>
<path d="M311 668.6l1.5 0l1.5 0l1.5 .1l1.5 -0l1.6 0l1.5 0l1.5 .1l1.5 -0l1.5 -0l1.5 0l1.5 0l1.5 .1l1.6 -0l1.5 -0l1.5 0l1.5 0l1.5 0l1.5 .1l1.5 -0l1.5 0l1.5 0l1.6 0l1.5 .1l1.5 -0l1.5 0l1.5 0l1.5 .1l1.5 -0l1.5 0l1.5 0l1.6 .1l1.5 -0l1.5 0l1.5 0l1.5 .1l1.5 0l1.5 0l1.5 .1l1.6 0l1.5 .1l1.5 0l1.5 .1l1.5 -0l1.5 .1l1.6 0l1.5 .1l1.6 .1l1.5 .1l1.6 .1l1.5 .1l1.6 .2l1.5 .1l1.5 .2l1.6 .2l1.5 .1l1.6 .2l1.5 .2l1.6 .2l1.5 .2l1.6 .2l1.5 .2l1.6 .3l1.5 .2l1.5 .3l1.6 .3l1.5 .5l1.6 .4l1.5 .5l1.6 .5l1.5 .4l1.6 .5l1.5 .3l1.6 .3l1.5 .2l1.6 .2l1.5 .2l1.6 .2l1.5 .2l1.5 .1l1.6 .2l1.5 .1l1.6 .1l1.5 .1l1.5 .1l1.6 .1l1.5 .1l1.6 .1l1.5 0l1.6 .1l1.5 .1l1.6 .1l1.5 .1l1.5 0l1.6 .1l1.5 .1l1.6 0l1.5 .1l1.6 -0l1.5 0l1.6 .1l1.5 -0l1.6 -0l1.5 -0l1.5 -0l1.5 -0l1.5 -0l1.5 -0l1.5 -0l1.6 -0l1.5 -0l1.5 -0l1.5 -0l1.5 -0l1.5 -0l1.5 -0l1.5 -0l1.5 -0l1.5 -0l1.6 -0l1.5 -0l1.5 -0l1.5 -0l1.5 -0l1.5 -0l1.5 -0l1.5 -0l1.5 -0l1.5 -0l1.6 -0l1.5 -0l1.5 -0l1.5 -0l1.5 -0l1.5 -0l1.5 -0l1.5 -0l1.5 -0l1.5 -0l1.6 -0l1.5 -0l1.5 -0l1.5 -0l1.5 -0l1.5 -0" fill="none" stroke="#1fb01f" stroke-width="1.6" stroke-linejoin="round"/>
<path d="M309.7 670.4h2.6M311 669.1v2.6M314.7 670.5h2.6M316 669.2v2.6M319.7 670.6h2.6M321 669.3v2.6M324.7 670.6h2.6M326 669.3v2.6M329.7 670.7h2.6M331 669.4v2.6M334.7 670.7h2.6M336 669.4v2.6M339.7 670.8h2.6M341 669.5v2.6M344.7 670.9h2.6M346 669.6v2.6M349.7 670.9h2.6M351 669.6v2.6M354.7 671h2.6M356 669.7v2.6M359.7 671.1h2.6M361 669.8v2.6M364.7 671.2h2.6M366 669.9v2.6M369.7 671.4h2.6M371 670.1v2.6M374.7 671.5h2.6M376 670.2v2.6M379.8 671.7h2.6M381.1 670.4v2.6M384.8 672.1h2.6M386.1 670.8v2.6M389.9 672.6h2.6M391.2 671.3v2.6M395 673.1h2.6M396.3 671.8v2.6M400 673.8h2.6M401.3 672.5v2.6M405.1 674.5h2.6M406.4 673.2v2.6M410.1 675.6h2.6M411.4 674.3v2.6M415.1 677.1h2.6M416.4 675.8v2.6M420.1 678.4h2.6M421.4 677.1v2.6M425.2 679.2h2.6M426.5 677.9v2.6M430.3 679.7h2.6M431.6 678.4v2.6M435.5 680.1h2.6M436.8 678.8v2.6M440.6 680.4h2.6M441.9 679.1v2.6M445.6 680.7h2.6M446.9 679.4v2.6M450.7 681h2.6M452 679.7v2.6M455.7 681.2h2.6M457 679.9v2.6M460.8 681.3h2.6M462.1 680v2.6M465.9 681.4h2.6M467.2 680.1v2.6M470.9 681.4h2.6M472.2 680.1v2.6M476 681.4h2.6M477.3 680.1v2.6M481 681.4h2.6M482.3 680.1v2.6M486 681.4h2.6M487.3 680.1v2.6M491.1 681.4h2.6M492.4 680.1v2.6M496.1 681.4h2.6M497.4 680.1v2.6M501.1 681.4h2.6M502.4 680.1v2.6M506.2 681.4h2.6M507.5 680.1v2.6M511.2 681.4h2.6M512.5 680.1v2.6M516.2 681.4h2.6M517.5 680.1v2.6M521.2 681.4h2.6M522.5 680.1v2.6M526.3 681.4h2.6M527.6 680.1v2.6" stroke="#2cb02c" stroke-width="0.9"/>
</g>
<text x="486.4" y="696.3" font-size="9.6" fill="#222" text-anchor="middle" font-family='"Liberation Serif", serif' font-style="italic">α<tspan font-size="7.1" dy="1.6">q</tspan></text>
<rect x="458.8" y="607.8" width="56.3" height="61" fill="#fff" fill-opacity="1" stroke="#444" stroke-width="0.9"/>
<rect x="463.84" y="615.34" width="3.52" height="3.52" fill="none" stroke="#333" stroke-width="0.9"/>
<text x="489.4" y="620.2" font-size="8.6" fill="#000" text-anchor="middle" font-family='"Liberation Sans", sans-serif' font-weight="bold" font-style="italic">Q</text>
<circle cx="465.6" cy="626.4" r="2.97" fill="none" stroke="#ff1a1a" stroke-width="0.9"/>
<text x="489.4" y="629.5" font-size="8.6" fill="#ff1a1a" text-anchor="middle" font-family='"Liberation Sans", sans-serif' font-weight="bold" font-style="italic">M</text>
<path d="M465.6 632.3L468.1 636.67L463.1 636.67Z" fill="none" stroke="#aaa" stroke-width="0.9"/>
<text x="471.1" y="637" font-size="6.7" fill="#b0b0b0" text-anchor="start" font-family='"Liberation Sans", sans-serif' font-weight="normal">(1&#8201;-&#8201;γ)&#8201;(P&#8201;-&#8201;W)</text>
<circle cx="465.6" cy="642.8" r="1.95" fill="none" stroke="#ff8c1a" stroke-width="0.9"/>
<text x="489.4" y="645.9" font-size="8.6" fill="#ff8c1a" text-anchor="middle" font-family='"Liberation Sans", sans-serif' font-weight="bold" font-style="italic">G</text>
<path d="M465.6 653.8L468.2 649.25L463 649.25Z" fill="none" stroke="#ff19ff" stroke-width="0.9"/>
<text x="489.4" y="654.3" font-size="8.6" fill="#ff19ff" text-anchor="middle" font-family='"Liberation Sans", sans-serif' font-weight="bold" font-style="italic">U</text>
<path d="M463.4 659H467.8M465.6 656.8V661.2" stroke="#1fb01f" stroke-width="0.9"/>
<text x="488.4" y="662.3" font-size="9.2" fill="#22b822" text-anchor="middle" font-family='"Liberation Sans", sans-serif' font-weight="bold">10<tspan font-size="6" dy="-3.5">5</tspan><tspan dy="3.5" dx="0.6" font-family='Liberation Serif' font-style="italic" font-weight="normal" fill="#5cc85c">π</tspan></text>
<text x="526.5" y="584.3" font-size="8" fill="#222" text-anchor="middle" font-family='"Liberation Sans", sans-serif' font-weight="normal">j2</text>
</g>
<g stroke="#454545" stroke-width="1.25" fill="none">
<path d="M5.1 4.6H545.8V701.4H5.1Z"/>
<line x1="271" y1="4" x2="271" y2="702"/>
<line x1="4" y1="141" x2="546" y2="141"/>
<line x1="4" y1="281.5" x2="546" y2="281.5"/>
<line x1="4" y1="422.5" x2="546" y2="422.5"/>
<line x1="4" y1="562.5" x2="546" y2="562.5"/>
</g>
</svg></body></html>
